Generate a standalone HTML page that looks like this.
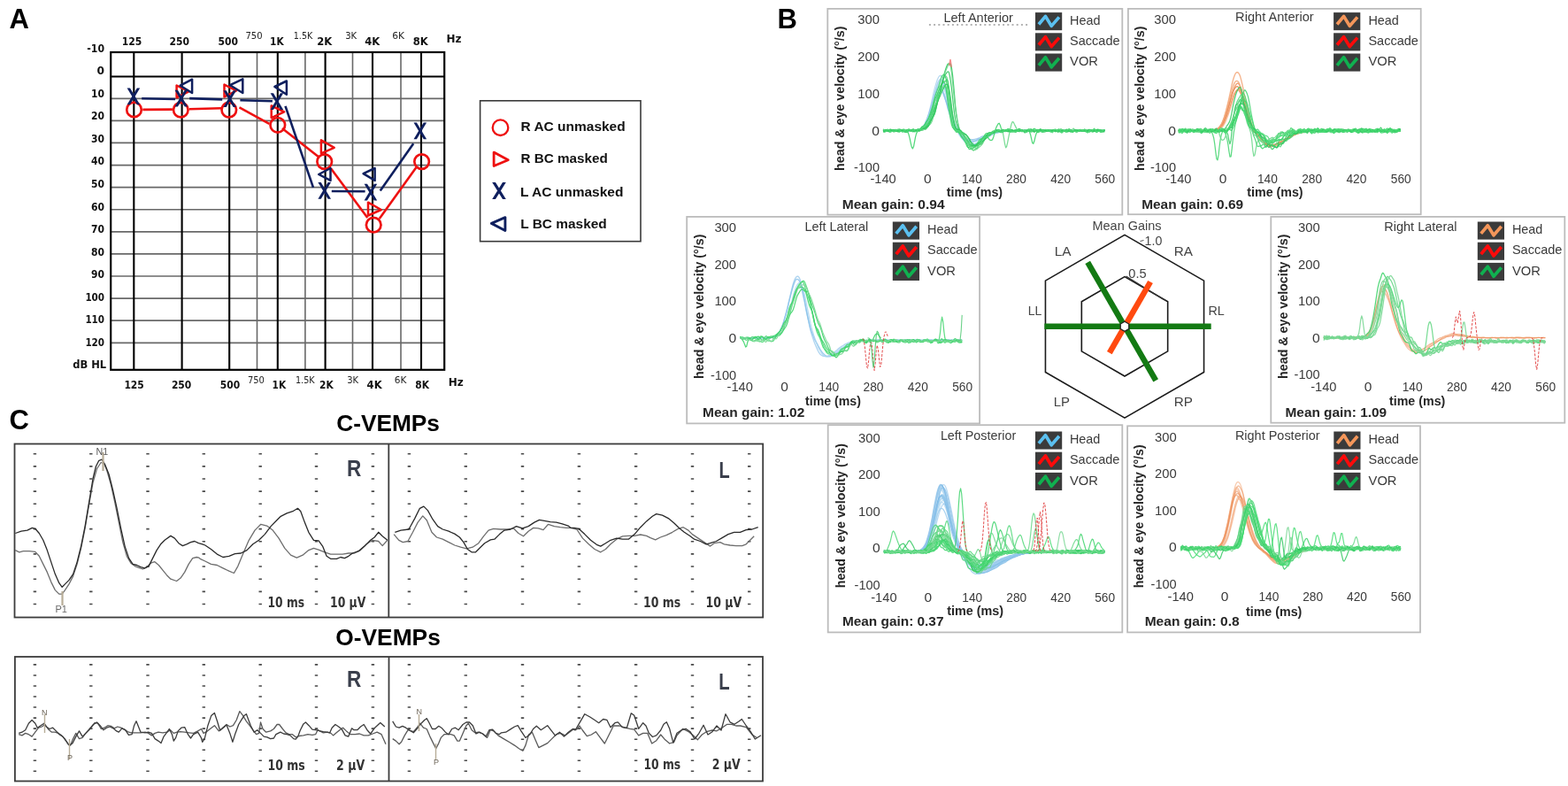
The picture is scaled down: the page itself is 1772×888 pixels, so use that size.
<!DOCTYPE html>
<html><head><meta charset="utf-8"><title>Figure</title>
<style>html,body{margin:0;padding:0;background:#fff;overflow:hidden}svg{display:block}</style>
</head><body>
<svg width="1772" height="888" viewBox="0 0 1772 888" font-family="'Liberation Sans', Arial, sans-serif">
<rect width="1772" height="888" fill="#fff"/>
<text x="10.6" y="31.8" font-size="31" font-weight="bold" fill="#000">A</text>
<line x1="125.2" y1="111.29" x2="502.2" y2="111.29" stroke="#686868" stroke-width="1.7"/>
<line x1="125.2" y1="136.38" x2="502.2" y2="136.38" stroke="#686868" stroke-width="1.7"/>
<line x1="125.2" y1="161.47" x2="502.2" y2="161.47" stroke="#686868" stroke-width="1.7"/>
<line x1="125.2" y1="186.56" x2="502.2" y2="186.56" stroke="#686868" stroke-width="1.7"/>
<line x1="125.2" y1="211.65" x2="502.2" y2="211.65" stroke="#686868" stroke-width="1.7"/>
<line x1="125.2" y1="236.74" x2="502.2" y2="236.74" stroke="#686868" stroke-width="1.7"/>
<line x1="125.2" y1="261.83" x2="502.2" y2="261.83" stroke="#686868" stroke-width="1.7"/>
<line x1="125.2" y1="286.92" x2="502.2" y2="286.92" stroke="#686868" stroke-width="1.7"/>
<line x1="125.2" y1="312.01" x2="502.2" y2="312.01" stroke="#686868" stroke-width="1.7"/>
<line x1="125.2" y1="337.1" x2="502.2" y2="337.1" stroke="#686868" stroke-width="1.7"/>
<line x1="125.2" y1="362.19" x2="502.2" y2="362.19" stroke="#686868" stroke-width="1.7"/>
<line x1="125.2" y1="387.28" x2="502.2" y2="387.28" stroke="#686868" stroke-width="1.7"/>
<line x1="290.5" y1="59" x2="290.5" y2="417.8" stroke="#686868" stroke-width="1.6"/>
<line x1="344.9" y1="59" x2="344.9" y2="417.8" stroke="#686868" stroke-width="1.6"/>
<line x1="398.5" y1="59" x2="398.5" y2="417.8" stroke="#686868" stroke-width="1.6"/>
<line x1="453" y1="59" x2="453" y2="417.8" stroke="#686868" stroke-width="1.6"/>
<line x1="151.3" y1="59" x2="151.3" y2="417.8" stroke="#000" stroke-width="2.1"/>
<line x1="205.6" y1="59" x2="205.6" y2="417.8" stroke="#000" stroke-width="2.1"/>
<line x1="259.2" y1="59" x2="259.2" y2="417.8" stroke="#000" stroke-width="2.1"/>
<line x1="313.8" y1="59" x2="313.8" y2="417.8" stroke="#000" stroke-width="2.1"/>
<line x1="367.6" y1="59" x2="367.6" y2="417.8" stroke="#000" stroke-width="2.1"/>
<line x1="421" y1="59" x2="421" y2="417.8" stroke="#000" stroke-width="2.1"/>
<line x1="476" y1="59" x2="476" y2="417.8" stroke="#000" stroke-width="2.1"/>
<line x1="125.2" y1="86.5" x2="502.2" y2="86.5" stroke="#000" stroke-width="2.1"/>
<rect x="125.2" y="59" width="377" height="358.8" fill="none" stroke="#000" stroke-width="2.2"/>
<text x="118.1" y="58.9" font-size="11.8" font-weight="bold" text-anchor="end" fill="#111" font-family="'DejaVu Sans Condensed', 'Liberation Sans', sans-serif" textLength="19.8" lengthAdjust="spacingAndGlyphs">-10</text>
<text x="118.1" y="84.3" font-size="11.8" font-weight="bold" text-anchor="end" fill="#111" font-family="'DejaVu Sans Condensed', 'Liberation Sans', sans-serif" textLength="8.5" lengthAdjust="spacingAndGlyphs">0</text>
<text x="118.1" y="109.59" font-size="11.8" font-weight="bold" text-anchor="end" fill="#111" font-family="'DejaVu Sans Condensed', 'Liberation Sans', sans-serif" textLength="15" lengthAdjust="spacingAndGlyphs">10</text>
<text x="118.1" y="135.18" font-size="11.8" font-weight="bold" text-anchor="end" fill="#111" font-family="'DejaVu Sans Condensed', 'Liberation Sans', sans-serif" textLength="15" lengthAdjust="spacingAndGlyphs">20</text>
<text x="118.1" y="160.77" font-size="11.8" font-weight="bold" text-anchor="end" fill="#111" font-family="'DejaVu Sans Condensed', 'Liberation Sans', sans-serif" textLength="15" lengthAdjust="spacingAndGlyphs">30</text>
<text x="118.1" y="186.36" font-size="11.8" font-weight="bold" text-anchor="end" fill="#111" font-family="'DejaVu Sans Condensed', 'Liberation Sans', sans-serif" textLength="15" lengthAdjust="spacingAndGlyphs">40</text>
<text x="118.1" y="211.95" font-size="11.8" font-weight="bold" text-anchor="end" fill="#111" font-family="'DejaVu Sans Condensed', 'Liberation Sans', sans-serif" textLength="15" lengthAdjust="spacingAndGlyphs">50</text>
<text x="118.1" y="237.54" font-size="11.8" font-weight="bold" text-anchor="end" fill="#111" font-family="'DejaVu Sans Condensed', 'Liberation Sans', sans-serif" textLength="15" lengthAdjust="spacingAndGlyphs">60</text>
<text x="118.1" y="263.13" font-size="11.8" font-weight="bold" text-anchor="end" fill="#111" font-family="'DejaVu Sans Condensed', 'Liberation Sans', sans-serif" textLength="15" lengthAdjust="spacingAndGlyphs">70</text>
<text x="118.1" y="288.72" font-size="11.8" font-weight="bold" text-anchor="end" fill="#111" font-family="'DejaVu Sans Condensed', 'Liberation Sans', sans-serif" textLength="15" lengthAdjust="spacingAndGlyphs">80</text>
<text x="118.1" y="314.31" font-size="11.8" font-weight="bold" text-anchor="end" fill="#111" font-family="'DejaVu Sans Condensed', 'Liberation Sans', sans-serif" textLength="15" lengthAdjust="spacingAndGlyphs">90</text>
<text x="118.1" y="339.9" font-size="11.8" font-weight="bold" text-anchor="end" fill="#111" font-family="'DejaVu Sans Condensed', 'Liberation Sans', sans-serif" textLength="21.7" lengthAdjust="spacingAndGlyphs">100</text>
<text x="118.1" y="365.49" font-size="11.8" font-weight="bold" text-anchor="end" fill="#111" font-family="'DejaVu Sans Condensed', 'Liberation Sans', sans-serif" textLength="21.7" lengthAdjust="spacingAndGlyphs">110</text>
<text x="118.1" y="391.08" font-size="11.8" font-weight="bold" text-anchor="end" fill="#111" font-family="'DejaVu Sans Condensed', 'Liberation Sans', sans-serif" textLength="21.7" lengthAdjust="spacingAndGlyphs">120</text>
<text x="120.1" y="416.1" font-size="11.8" font-weight="bold" text-anchor="end" fill="#111" font-family="'DejaVu Sans Condensed', 'Liberation Sans', sans-serif" textLength="37.9" lengthAdjust="spacingAndGlyphs">dB HL</text>
<text x="149.1" y="50.9" font-size="11.8" font-weight="bold" text-anchor="middle" fill="#111" font-family="'DejaVu Sans Condensed', 'Liberation Sans', sans-serif" textLength="22.6" lengthAdjust="spacingAndGlyphs">125</text>
<text x="202.8" y="50.9" font-size="11.8" font-weight="bold" text-anchor="middle" fill="#111" font-family="'DejaVu Sans Condensed', 'Liberation Sans', sans-serif" textLength="22.5" lengthAdjust="spacingAndGlyphs">250</text>
<text x="257.7" y="50.9" font-size="11.8" font-weight="bold" text-anchor="middle" fill="#111" font-family="'DejaVu Sans Condensed', 'Liberation Sans', sans-serif" textLength="22.5" lengthAdjust="spacingAndGlyphs">500</text>
<text x="312.9" y="50.9" font-size="11.8" font-weight="bold" text-anchor="middle" fill="#111" font-family="'DejaVu Sans Condensed', 'Liberation Sans', sans-serif" textLength="15.6" lengthAdjust="spacingAndGlyphs">1K</text>
<text x="366.8" y="50.9" font-size="11.8" font-weight="bold" text-anchor="middle" fill="#111" font-family="'DejaVu Sans Condensed', 'Liberation Sans', sans-serif" textLength="17" lengthAdjust="spacingAndGlyphs">2K</text>
<text x="420.7" y="50.9" font-size="11.8" font-weight="bold" text-anchor="middle" fill="#111" font-family="'DejaVu Sans Condensed', 'Liberation Sans', sans-serif" textLength="17" lengthAdjust="spacingAndGlyphs">4K</text>
<text x="475.2" y="50.9" font-size="11.8" font-weight="bold" text-anchor="middle" fill="#111" font-family="'DejaVu Sans Condensed', 'Liberation Sans', sans-serif" textLength="17" lengthAdjust="spacingAndGlyphs">8K</text>
<text x="287" y="43.6" font-size="10.8" text-anchor="middle" fill="#222" font-family="'DejaVu Sans Condensed', 'Liberation Sans', sans-serif" textLength="19.1" lengthAdjust="spacingAndGlyphs">750</text>
<text x="342.5" y="43.6" font-size="10.8" text-anchor="middle" fill="#222" font-family="'DejaVu Sans Condensed', 'Liberation Sans', sans-serif" textLength="21.5" lengthAdjust="spacingAndGlyphs">1.5K</text>
<text x="396.7" y="43.6" font-size="10.8" text-anchor="middle" fill="#222" font-family="'DejaVu Sans Condensed', 'Liberation Sans', sans-serif" textLength="13" lengthAdjust="spacingAndGlyphs">3K</text>
<text x="450.2" y="43.6" font-size="10.8" text-anchor="middle" fill="#222" font-family="'DejaVu Sans Condensed', 'Liberation Sans', sans-serif" textLength="13.8" lengthAdjust="spacingAndGlyphs">6K</text>
<text x="504.4" y="47.7" font-size="11.8" font-weight="bold" text-anchor="start" fill="#111" font-family="'DejaVu Sans Condensed', 'Liberation Sans', sans-serif" textLength="17" lengthAdjust="spacingAndGlyphs">Hz</text>
<text x="151.6" y="439.3" font-size="11.8" font-weight="bold" text-anchor="middle" fill="#111" font-family="'DejaVu Sans Condensed', 'Liberation Sans', sans-serif" textLength="22.4" lengthAdjust="spacingAndGlyphs">125</text>
<text x="205.1" y="439.3" font-size="11.8" font-weight="bold" text-anchor="middle" fill="#111" font-family="'DejaVu Sans Condensed', 'Liberation Sans', sans-serif" textLength="22.4" lengthAdjust="spacingAndGlyphs">250</text>
<text x="260" y="439.3" font-size="11.8" font-weight="bold" text-anchor="middle" fill="#111" font-family="'DejaVu Sans Condensed', 'Liberation Sans', sans-serif" textLength="22.4" lengthAdjust="spacingAndGlyphs">500</text>
<text x="315.4" y="439.3" font-size="11.8" font-weight="bold" text-anchor="middle" fill="#111" font-family="'DejaVu Sans Condensed', 'Liberation Sans', sans-serif" textLength="15.6" lengthAdjust="spacingAndGlyphs">1K</text>
<text x="368.9" y="439.3" font-size="11.8" font-weight="bold" text-anchor="middle" fill="#111" font-family="'DejaVu Sans Condensed', 'Liberation Sans', sans-serif" textLength="15.6" lengthAdjust="spacingAndGlyphs">2K</text>
<text x="423.1" y="439.3" font-size="11.8" font-weight="bold" text-anchor="middle" fill="#111" font-family="'DejaVu Sans Condensed', 'Liberation Sans', sans-serif" textLength="17" lengthAdjust="spacingAndGlyphs">4K</text>
<text x="477.2" y="439.3" font-size="11.8" font-weight="bold" text-anchor="middle" fill="#111" font-family="'DejaVu Sans Condensed', 'Liberation Sans', sans-serif" textLength="15.7" lengthAdjust="spacingAndGlyphs">8K</text>
<text x="289.4" y="432.5" font-size="10.8" text-anchor="middle" fill="#222" font-family="'DejaVu Sans Condensed', 'Liberation Sans', sans-serif" textLength="19" lengthAdjust="spacingAndGlyphs">750</text>
<text x="344.8" y="432.5" font-size="10.8" text-anchor="middle" fill="#222" font-family="'DejaVu Sans Condensed', 'Liberation Sans', sans-serif" textLength="21.7" lengthAdjust="spacingAndGlyphs">1.5K</text>
<text x="398.7" y="432.5" font-size="10.8" text-anchor="middle" fill="#222" font-family="'DejaVu Sans Condensed', 'Liberation Sans', sans-serif" textLength="12.9" lengthAdjust="spacingAndGlyphs">3K</text>
<text x="452.5" y="432.5" font-size="10.8" text-anchor="middle" fill="#222" font-family="'DejaVu Sans Condensed', 'Liberation Sans', sans-serif" textLength="13.6" lengthAdjust="spacingAndGlyphs">6K</text>
<text x="506.7" y="435.9" font-size="11.8" font-weight="bold" text-anchor="start" fill="#111" font-family="'DejaVu Sans Condensed', 'Liberation Sans', sans-serif" textLength="17" lengthAdjust="spacingAndGlyphs">Hz</text>
<line x1="161.3" y1="123.9" x2="194.9" y2="123.6" stroke="#ee1111" stroke-width="2.6" stroke-linecap="butt"/>
<line x1="213.8" y1="123.2" x2="250.3" y2="122.3" stroke="#ee1111" stroke-width="2.6" stroke-linecap="butt"/>
<line x1="270.5" y1="121.4" x2="304.3" y2="139.9" stroke="#ee1111" stroke-width="2.6" stroke-linecap="butt"/>
<line x1="318.9" y1="145.1" x2="360.4" y2="177.6" stroke="#ee1111" stroke-width="2.6" stroke-linecap="butt"/>
<line x1="373.9" y1="190.2" x2="415.3" y2="246" stroke="#ee1111" stroke-width="2.6" stroke-linecap="butt"/>
<line x1="428.8" y1="246.9" x2="470.3" y2="189.3" stroke="#ee1111" stroke-width="2.6" stroke-linecap="butt"/>
<circle cx="151.5" cy="123.9" r="8.3" fill="none" stroke="#ee1111" stroke-width="2.7"/>
<circle cx="204.3" cy="124.1" r="8.3" fill="none" stroke="#ee1111" stroke-width="2.7"/>
<circle cx="258.8" cy="124.1" r="8.3" fill="none" stroke="#ee1111" stroke-width="2.7"/>
<circle cx="313.8" cy="141.3" r="8.3" fill="none" stroke="#ee1111" stroke-width="2.7"/>
<circle cx="366.7" cy="182.6" r="8.3" fill="none" stroke="#ee1111" stroke-width="2.7"/>
<circle cx="422.2" cy="254.1" r="8.3" fill="none" stroke="#ee1111" stroke-width="2.7"/>
<circle cx="476.6" cy="182.6" r="8.3" fill="none" stroke="#ee1111" stroke-width="2.7"/>
<polygon points="199.6,96.5 199.6,110.3 213.3,103.4" fill="none" stroke="#ee1111" stroke-width="2.5" stroke-linejoin="round"/>
<polygon points="253.5,95.6 253.5,109.5 267.1,102.5" fill="none" stroke="#ee1111" stroke-width="2.5" stroke-linejoin="round"/>
<polygon points="306.7,119.5 306.7,133.1 321.2,126.3" fill="none" stroke="#ee1111" stroke-width="2.5" stroke-linejoin="round"/>
<polygon points="362.9,158.4 362.9,173.3 377.7,166.8" fill="none" stroke="#ee1111" stroke-width="2.5" stroke-linejoin="round"/>
<polygon points="416,228.7 416,243.5 430.8,237" fill="none" stroke="#ee1111" stroke-width="2.5" stroke-linejoin="round"/>
<line x1="160.2" y1="111.2" x2="198" y2="112" stroke="#0f1f5e" stroke-width="2.6"/>
<line x1="214.2" y1="111.1" x2="251.2" y2="112.4" stroke="#0f1f5e" stroke-width="2.6"/>
<line x1="271.4" y1="113.3" x2="307.9" y2="114.2" stroke="#0f1f5e" stroke-width="2.6"/>
<line x1="322.5" y1="119.9" x2="354" y2="211.8" stroke="#0f1f5e" stroke-width="2.6"/>
<line x1="374.8" y1="216" x2="412.6" y2="216.3" stroke="#0f1f5e" stroke-width="2.6"/>
<line x1="429.7" y1="215.4" x2="467.2" y2="162.3" stroke="#0f1f5e" stroke-width="2.6"/>
<path d="M143.6 99.5H146.98L158.2 118.3H154.82Z M154.82 99.5H158.2L146.98 118.3H143.6Z" fill="#0f1f5e"/>
<path d="M197.5 101.7H200.88L212.1 120.5H208.72Z M208.72 101.7H212.1L200.88 120.5H197.5Z" fill="#0f1f5e"/>
<path d="M252.4 102.2H255.78L267 121H263.62Z M263.62 102.2H267L255.78 121H252.4Z" fill="#0f1f5e"/>
<path d="M305.6 105.3H308.98L320.2 124.1H316.82Z M316.82 105.3H320.2L308.98 124.1H305.6Z" fill="#0f1f5e"/>
<path d="M359.4 206H362.78L374 224.8H370.62Z M370.62 206H374L362.78 224.8H359.4Z" fill="#0f1f5e"/>
<path d="M411.6 207.8H414.98L426.2 226.6H422.82Z M422.82 207.8H426.2L414.98 226.6H411.6Z" fill="#0f1f5e"/>
<path d="M467.5 138.4H470.88L482.1 157.2H478.72Z M478.72 138.4H482.1L470.88 157.2H467.5Z" fill="#0f1f5e"/>
<polygon points="217.1,89.7 217.1,105 203.7,96.7" fill="none" stroke="#0f1f5e" stroke-width="2.5" stroke-linejoin="round"/>
<polygon points="274.3,89.3 274.3,105 260,96.2" fill="none" stroke="#0f1f5e" stroke-width="2.5" stroke-linejoin="round"/>
<polygon points="323.9,91.5 323.9,106.8 310.4,98" fill="none" stroke="#0f1f5e" stroke-width="2.5" stroke-linejoin="round"/>
<polygon points="373.5,190 373.5,203.9 360.2,197" fill="none" stroke="#0f1f5e" stroke-width="2.5" stroke-linejoin="round"/>
<polygon points="423.6,190 423.6,203.9 410.6,196.1" fill="none" stroke="#0f1f5e" stroke-width="2.5" stroke-linejoin="round"/>
<rect x="542.6" y="113.8" width="181.4" height="158.9" fill="none" stroke="#3a3a3a" stroke-width="1.6"/>
<circle cx="565.5" cy="144.2" r="8.8" fill="none" stroke="#ee1111" stroke-width="2.3"/>
<text x="588.5" y="148" font-size="15.3" font-weight="bold" fill="#111" textLength="118.2" lengthAdjust="spacingAndGlyphs">R AC unmasked</text>
<polygon points="558.1,172.1 558.1,187.5 574.3,180.7" fill="none" stroke="#ee1111" stroke-width="2.8" stroke-linejoin="round"/>
<text x="588.5" y="184.1" font-size="15.3" font-weight="bold" fill="#111" textLength="98.2" lengthAdjust="spacingAndGlyphs">R BC masked</text>
<path d="M556.2 205.9H559.97L571.8 224.9H568.03Z M568.03 205.9H571.8L559.97 224.9H556.2Z" fill="#0f1f5e"/>
<text x="588.1" y="221.6" font-size="15.3" font-weight="bold" fill="#111" textLength="116.3" lengthAdjust="spacingAndGlyphs">L AC unmasked</text>
<polygon points="570.9,245.7 570.9,260.5 555.4,252.4" fill="none" stroke="#0f1f5e" stroke-width="2.9" stroke-linejoin="round"/>
<text x="588.3" y="258.1" font-size="15.3" font-weight="bold" fill="#111" textLength="97.4" lengthAdjust="spacingAndGlyphs">L BC masked</text>
<text x="10.4" y="484.9" font-size="31" font-weight="bold" fill="#000">C</text>
<text x="380.2" y="487.3" font-size="26" font-weight="bold" fill="#000" textLength="116.8" lengthAdjust="spacingAndGlyphs">C-VEMPs</text>
<text x="379.3" y="729.3" font-size="26" font-weight="bold" fill="#000" textLength="118.5" lengthAdjust="spacingAndGlyphs">O-VEMPs</text>
<path d="M37.7 512.7h3.4 M37.7 526.85h3.4 M37.7 541h3.4 M37.7 555.15h3.4 M37.7 569.3h3.4 M37.7 583.45h3.4 M37.7 597.6h3.4 M37.7 611.75h3.4 M37.7 625.9h3.4 M37.7 640.05h3.4 M37.7 654.2h3.4 M37.7 668.35h3.4 M37.7 682.5h3.4 M101.1 512.7h3.4 M101.1 526.85h3.4 M101.1 541h3.4 M101.1 555.15h3.4 M101.1 569.3h3.4 M101.1 583.45h3.4 M101.1 597.6h3.4 M101.1 611.75h3.4 M101.1 625.9h3.4 M101.1 640.05h3.4 M101.1 654.2h3.4 M101.1 668.35h3.4 M101.1 682.5h3.4 M165.3 512.7h3.4 M165.3 526.85h3.4 M165.3 541h3.4 M165.3 555.15h3.4 M165.3 569.3h3.4 M165.3 583.45h3.4 M165.3 597.6h3.4 M165.3 611.75h3.4 M165.3 625.9h3.4 M165.3 640.05h3.4 M165.3 654.2h3.4 M165.3 668.35h3.4 M165.3 682.5h3.4 M228.6 512.7h3.4 M228.6 526.85h3.4 M228.6 541h3.4 M228.6 555.15h3.4 M228.6 569.3h3.4 M228.6 583.45h3.4 M228.6 597.6h3.4 M228.6 611.75h3.4 M228.6 625.9h3.4 M228.6 640.05h3.4 M228.6 654.2h3.4 M228.6 668.35h3.4 M228.6 682.5h3.4 M292.5 512.7h3.4 M292.5 526.85h3.4 M292.5 541h3.4 M292.5 555.15h3.4 M292.5 569.3h3.4 M292.5 583.45h3.4 M292.5 597.6h3.4 M292.5 611.75h3.4 M292.5 625.9h3.4 M292.5 640.05h3.4 M292.5 654.2h3.4 M292.5 668.35h3.4 M292.5 682.5h3.4 M355.8 512.7h3.4 M355.8 526.85h3.4 M355.8 541h3.4 M355.8 555.15h3.4 M355.8 569.3h3.4 M355.8 583.45h3.4 M355.8 597.6h3.4 M355.8 611.75h3.4 M355.8 625.9h3.4 M355.8 640.05h3.4 M355.8 654.2h3.4 M355.8 668.35h3.4 M355.8 682.5h3.4 M419.7 512.7h3.4 M419.7 526.85h3.4 M419.7 541h3.4 M419.7 555.15h3.4 M419.7 569.3h3.4 M419.7 583.45h3.4 M419.7 597.6h3.4 M419.7 611.75h3.4 M419.7 625.9h3.4 M419.7 640.05h3.4 M419.7 654.2h3.4 M419.7 668.35h3.4 M419.7 682.5h3.4 M460.7 512.7h3.4 M460.7 526.85h3.4 M460.7 541h3.4 M460.7 555.15h3.4 M460.7 569.3h3.4 M460.7 583.45h3.4 M460.7 597.6h3.4 M460.7 611.75h3.4 M460.7 625.9h3.4 M460.7 640.05h3.4 M460.7 654.2h3.4 M460.7 668.35h3.4 M460.7 682.5h3.4 M524.6 512.7h3.4 M524.6 526.85h3.4 M524.6 541h3.4 M524.6 555.15h3.4 M524.6 569.3h3.4 M524.6 583.45h3.4 M524.6 597.6h3.4 M524.6 611.75h3.4 M524.6 625.9h3.4 M524.6 640.05h3.4 M524.6 654.2h3.4 M524.6 668.35h3.4 M524.6 682.5h3.4 M588.8 512.7h3.4 M588.8 526.85h3.4 M588.8 541h3.4 M588.8 555.15h3.4 M588.8 569.3h3.4 M588.8 583.45h3.4 M588.8 597.6h3.4 M588.8 611.75h3.4 M588.8 625.9h3.4 M588.8 640.05h3.4 M588.8 654.2h3.4 M588.8 668.35h3.4 M588.8 682.5h3.4 M652.7 512.7h3.4 M652.7 526.85h3.4 M652.7 541h3.4 M652.7 555.15h3.4 M652.7 569.3h3.4 M652.7 583.45h3.4 M652.7 597.6h3.4 M652.7 611.75h3.4 M652.7 625.9h3.4 M652.7 640.05h3.4 M652.7 654.2h3.4 M652.7 668.35h3.4 M652.7 682.5h3.4 M716.9 512.7h3.4 M716.9 526.85h3.4 M716.9 541h3.4 M716.9 555.15h3.4 M716.9 569.3h3.4 M716.9 583.45h3.4 M716.9 597.6h3.4 M716.9 611.75h3.4 M716.9 625.9h3.4 M716.9 640.05h3.4 M716.9 654.2h3.4 M716.9 668.35h3.4 M716.9 682.5h3.4 M780.8 512.7h3.4 M780.8 526.85h3.4 M780.8 541h3.4 M780.8 555.15h3.4 M780.8 569.3h3.4 M780.8 583.45h3.4 M780.8 597.6h3.4 M780.8 611.75h3.4 M780.8 625.9h3.4 M780.8 640.05h3.4 M780.8 654.2h3.4 M780.8 668.35h3.4 M780.8 682.5h3.4 M845 512.7h3.4 M845 526.85h3.4 M845 541h3.4 M845 555.15h3.4 M845 569.3h3.4 M845 583.45h3.4 M845 597.6h3.4 M845 611.75h3.4 M845 625.9h3.4 M845 640.05h3.4 M845 654.2h3.4 M845 668.35h3.4 M845 682.5h3.4" stroke="#4a4a4a" stroke-width="1.6" fill="none"/>
<path d="M37.7 750.9h3.4 M37.7 762.94h3.4 M37.7 774.98h3.4 M37.7 787.02h3.4 M37.7 799.06h3.4 M37.7 811.1h3.4 M37.7 823.14h3.4 M37.7 835.18h3.4 M37.7 847.22h3.4 M37.7 859.26h3.4 M37.7 871.3h3.4 M101.1 750.9h3.4 M101.1 762.94h3.4 M101.1 774.98h3.4 M101.1 787.02h3.4 M101.1 799.06h3.4 M101.1 811.1h3.4 M101.1 823.14h3.4 M101.1 835.18h3.4 M101.1 847.22h3.4 M101.1 859.26h3.4 M101.1 871.3h3.4 M165.3 750.9h3.4 M165.3 762.94h3.4 M165.3 774.98h3.4 M165.3 787.02h3.4 M165.3 799.06h3.4 M165.3 811.1h3.4 M165.3 823.14h3.4 M165.3 835.18h3.4 M165.3 847.22h3.4 M165.3 859.26h3.4 M165.3 871.3h3.4 M228.6 750.9h3.4 M228.6 762.94h3.4 M228.6 774.98h3.4 M228.6 787.02h3.4 M228.6 799.06h3.4 M228.6 811.1h3.4 M228.6 823.14h3.4 M228.6 835.18h3.4 M228.6 847.22h3.4 M228.6 859.26h3.4 M228.6 871.3h3.4 M292.5 750.9h3.4 M292.5 762.94h3.4 M292.5 774.98h3.4 M292.5 787.02h3.4 M292.5 799.06h3.4 M292.5 811.1h3.4 M292.5 823.14h3.4 M292.5 835.18h3.4 M292.5 847.22h3.4 M292.5 859.26h3.4 M292.5 871.3h3.4 M355.8 750.9h3.4 M355.8 762.94h3.4 M355.8 774.98h3.4 M355.8 787.02h3.4 M355.8 799.06h3.4 M355.8 811.1h3.4 M355.8 823.14h3.4 M355.8 835.18h3.4 M355.8 847.22h3.4 M355.8 859.26h3.4 M355.8 871.3h3.4 M419.7 750.9h3.4 M419.7 762.94h3.4 M419.7 774.98h3.4 M419.7 787.02h3.4 M419.7 799.06h3.4 M419.7 811.1h3.4 M419.7 823.14h3.4 M419.7 835.18h3.4 M419.7 847.22h3.4 M419.7 859.26h3.4 M419.7 871.3h3.4 M460.7 750.9h3.4 M460.7 762.94h3.4 M460.7 774.98h3.4 M460.7 787.02h3.4 M460.7 799.06h3.4 M460.7 811.1h3.4 M460.7 823.14h3.4 M460.7 835.18h3.4 M460.7 847.22h3.4 M460.7 859.26h3.4 M460.7 871.3h3.4 M524.6 750.9h3.4 M524.6 762.94h3.4 M524.6 774.98h3.4 M524.6 787.02h3.4 M524.6 799.06h3.4 M524.6 811.1h3.4 M524.6 823.14h3.4 M524.6 835.18h3.4 M524.6 847.22h3.4 M524.6 859.26h3.4 M524.6 871.3h3.4 M588.8 750.9h3.4 M588.8 762.94h3.4 M588.8 774.98h3.4 M588.8 787.02h3.4 M588.8 799.06h3.4 M588.8 811.1h3.4 M588.8 823.14h3.4 M588.8 835.18h3.4 M588.8 847.22h3.4 M588.8 859.26h3.4 M588.8 871.3h3.4 M652.7 750.9h3.4 M652.7 762.94h3.4 M652.7 774.98h3.4 M652.7 787.02h3.4 M652.7 799.06h3.4 M652.7 811.1h3.4 M652.7 823.14h3.4 M652.7 835.18h3.4 M652.7 847.22h3.4 M652.7 859.26h3.4 M652.7 871.3h3.4 M716.9 750.9h3.4 M716.9 762.94h3.4 M716.9 774.98h3.4 M716.9 787.02h3.4 M716.9 799.06h3.4 M716.9 811.1h3.4 M716.9 823.14h3.4 M716.9 835.18h3.4 M716.9 847.22h3.4 M716.9 859.26h3.4 M716.9 871.3h3.4 M780.8 750.9h3.4 M780.8 762.94h3.4 M780.8 774.98h3.4 M780.8 787.02h3.4 M780.8 799.06h3.4 M780.8 811.1h3.4 M780.8 823.14h3.4 M780.8 835.18h3.4 M780.8 847.22h3.4 M780.8 859.26h3.4 M780.8 871.3h3.4 M845 750.9h3.4 M845 762.94h3.4 M845 774.98h3.4 M845 787.02h3.4 M845 799.06h3.4 M845 811.1h3.4 M845 823.14h3.4 M845 835.18h3.4 M845 847.22h3.4 M845 859.26h3.4 M845 871.3h3.4" stroke="#4a4a4a" stroke-width="1.6" fill="none"/>
<text x="392.1" y="538.3" font-size="26" font-weight="bold" fill="#3a3f4c" textLength="16.3" lengthAdjust="spacingAndGlyphs">R</text>
<text x="812.5" y="540.3" font-size="26" font-weight="bold" fill="#3a3f4c" textLength="12.2" lengthAdjust="spacingAndGlyphs">L</text>
<text x="392.1" y="775.8" font-size="26" font-weight="bold" fill="#3a3f4c" textLength="16.3" lengthAdjust="spacingAndGlyphs">R</text>
<text x="812.3" y="778.7" font-size="26" font-weight="bold" fill="#3a3f4c" textLength="12.4" lengthAdjust="spacingAndGlyphs">L</text>
<text x="302.6" y="686.4" font-size="15.6" font-weight="bold" fill="#333" textLength="41.4" lengthAdjust="spacingAndGlyphs" font-family="'DejaVu Sans Condensed', 'Liberation Sans', sans-serif">10 ms</text>
<text x="373" y="686.4" font-size="15.6" font-weight="bold" fill="#333" textLength="40.3" lengthAdjust="spacingAndGlyphs" font-family="'DejaVu Sans Condensed', 'Liberation Sans', sans-serif">10 µV</text>
<text x="727" y="686.4" font-size="15.6" font-weight="bold" fill="#333" textLength="42.2" lengthAdjust="spacingAndGlyphs" font-family="'DejaVu Sans Condensed', 'Liberation Sans', sans-serif">10 ms</text>
<text x="797.4" y="686.4" font-size="15.6" font-weight="bold" fill="#333" textLength="40.8" lengthAdjust="spacingAndGlyphs" font-family="'DejaVu Sans Condensed', 'Liberation Sans', sans-serif">10 µV</text>
<text x="302.5" y="870.1" font-size="15.6" font-weight="bold" fill="#333" textLength="42.2" lengthAdjust="spacingAndGlyphs" font-family="'DejaVu Sans Condensed', 'Liberation Sans', sans-serif">10 ms</text>
<text x="380" y="870.1" font-size="15.6" font-weight="bold" fill="#333" textLength="32.2" lengthAdjust="spacingAndGlyphs" font-family="'DejaVu Sans Condensed', 'Liberation Sans', sans-serif">2 µV</text>
<text x="727.5" y="868.9" font-size="15.6" font-weight="bold" fill="#333" textLength="41.7" lengthAdjust="spacingAndGlyphs" font-family="'DejaVu Sans Condensed', 'Liberation Sans', sans-serif">10 ms</text>
<text x="804.7" y="868.9" font-size="15.6" font-weight="bold" fill="#333" textLength="32" lengthAdjust="spacingAndGlyphs" font-family="'DejaVu Sans Condensed', 'Liberation Sans', sans-serif">2 µV</text>
<path d="M17.3 621.6l4.5 2.2 4.5-1.1 6.7 0 6.8 .7 4.5 4.9 4.5 9.1 4.5 9 4.5 11.2 4.5 9 4.5 4.5 3.4 0 3.3-4.5 4.5-6.7 4.6-9 4.5-13.5 4.5-18.1 4.5-22.5 4.5-27 4.5-24.8 4.5-15.7 4.5-6.8 3.4 1.1 3.3 7.9 4.5 15.8 4.5 20.3 4.5 22.5 4.5 22.5 4.5 15.7 4.6 7.9 4.5 3.4 4.5 1.8 4.5 1.6 4.5-2.3 4.5-4.5 4.5-1.5 4.5 3.8 4.5 5.6 4.5 5.6 4.5 4.5 6.7 2.3 4.5-3.4 4.6-6.7 4.5-9 4.5-6.8 4.5-1.1 2.8 .7 1.7 1.5 5.1 2.3 6.7 3.4 6.8 1.1 6.7 3.4 6.8 3.3 5.6 2.3 4.5-7.9 5.6-13.5 6.8-15.8 6.7-11.2 6.8-6.8 6.8 1.8 6.7 5 6.8 9 6.7 11.2 6.8 7.9 6.7 3 6.8-3 6.7-5.6 5.7-2.3 5.6 1.8 6.8 2.7 6.7 2.3 6.8 0 6.7 0 6.8-1.1 6.7 0 6.8-3.4 6.7-6.8 6.8-4.5 6.8 1.2 4.5 5.1 5.6-6.3" fill="none" stroke="#6e6e6e" stroke-width="1.3" stroke-linejoin="round"/>
<path d="M17.3 602.5l6.7-2.3 6.8-1.1 5.6-2.7 3.4 .9 4.5 5.2 4.5 7.8 4.5 11.3 4.5 13.5 4.5 13.5 4.5 10.1 3.4 4.6 3.3-3.4 4.5-4.5 4.6-6.8 4.5-13.5 4.5-18 4.5-22.5 4.5-27 4.5-27.1 3.3-13.5 3.4-6.7 3.4-1.2 3.4 5.7 4.5 11.2 4.5 18 4.5 20.3 4.5 22.5 4.5 20.3 4.5 13.5 4.5 6.8 4.5 1.1 4.5 2.2 4.5 1.2 4.5-2.3 4.5-9 4.5-9 4.5-6.8 4.5-4.5 6.8-4.9 4.5 2.7 4.5 5.6 4.5 2.9 4.5-1.8 4.5-2.2 4.5-1.1 4.5 2.2 4.5 1.1 2.9 1.2 6.7 4.5 6.8 5.6 6.7 3.4 6.8-1.2 6.7-2.7 6.8-.6 6.7-3.4 6.8-6.8 6.8-4.5 6.7-6.7 6.8-9 6.7-6.8 4.5-4.5 6.8-3.4 6.7-2.2 5.7-3.4 3.3 3.4 4.5 12.4 4.5 11.2 5.7 9 5.6 .5 4.5 6.3 4.5 11.2 4.5 3 6.8 0 4.5-1.8 4.5 1.1 4.5-2.3 4.5-3.3 6.7-2.3 6.8-5.6 6.8-6.8 4.5-3.3 4.5-5.7 4.5 4.5 5.6 4.5" fill="none" stroke="#2a2a2a" stroke-width="1.3" stroke-linejoin="round"/>
<path d="M445.1 603.6l5.7 6.7 4.5 2.3 5.6-1.1 5.6-10.2 5.7-11.2 5.6-7.2 4.5 4.9 5.6 13.5 5.6 5.7 6.8 2.2 6.8 3.4 6.7 3.4 6.8 2.2 6.7 1.6 6.8-1.6 6.7-4.5 5.7-7.9 5.6-6.7 5.6-1.8 7.9 .7 9 0 5.6-1.2 5.7 5.7 5.6 3.3 5.6-5.6 5.7-3.8 5.6 .4 5.6 1.8 5.6-6.3 6.8 2.3 6.8 1.1 6.7 .7 5.1 0 1.7 .4 5.1 1.2 6.7 10.1 6.8 6.7 6.7 5.7 6.8 3.3 5.6-3.3 5.6-5.7 6.8-5.6 6.7-3.4 6.8-.4 6.8 0 6.7-1.4 6.8 1.4 4.5 2.2 5.6 2.3 5.6-2.9 6.8-2.3 6.7-3.4 6.8-4 5.6-1.6 5.7 3.4 4.5 4.5 6.7 4.5 6.8 4.5 6.7 4.5 4.5-3.4 6.8-1.1 4.5 2.2 6.7 1.2 6.8 .6 6.8 0 4.5-1.8 4.5-4.5 4.5-4.5" fill="none" stroke="#6e6e6e" stroke-width="1.3" stroke-linejoin="round"/>
<path d="M446.3 601.3l6.7-2.2 9-1.1 6.8-12.4 5.6-11.3 4.5-2.2 4.5 4.5 5.6 10.1 5.7 7.9 5.6 3.4 6.8 2.2 6.7 2.9 5.6 3.9 4.5 5.6 4.5 7.9 4.6 3.3 4.5 0 4.5-4.5 5.6-5.6 6.7-3.8 4.5-.7 5.7-5.6 5.6-4.5 6.8-1.1 6.7-3.4 6.8 2.2 6.7-2.2 6.8-4.5 5.6-2.7 5.6 .9 6.8 1.3 6.8 .5 6.7 1.8 6.8 2.2 2.8 2.3 3.9 0 5.1 .9 6.8 6.3 6.7 6.7 6.8 5 4.5 1.8 5.6-3.4 5.6-3.4 6.8-2.2 6.7 1.1 6.8 0 6.8-5.6 6.7-7.9 6.8-6.8 6.7-5.6 4.5-2.7 6.8 1.6 6.7 3.4 6.8 5.6 5.6 5.6 5.6 4.5 6.8 4.5 4.5 3.4 6.8 2.3 6.7 3.3 4.5-1.1 6.8-2.2 6.7-3.9 6.8-4 6.7-2.3 6.8 0 6.8-2.7 6.7-.6 6.8-2.3" fill="none" stroke="#2a2a2a" stroke-width="1.3" stroke-linejoin="round"/>
<path d="M21.2 829.7l3.7 1.2 3.8-2.5 3.7 1.3 3.7 2.4 3.7-4.9 3.8-5 3.7-1.2 3.7-2.5 3.7 5.6 3.8 3.1 3.7 0 3.7 1.2 3.7 2.5 3.7 3.7 3.8 6.2 2.5 1.3 2.4-6.2 3.8-7.5 3.7 6.2 3.7-1.2 3.7-5 5-4.9 5-6.9 3.7 .6 3.7 6.3 3.7-1.3 3.8-2.5 3.7 .6 3.7 2.5 3.7-1.8 3.8 1.2 3.7 1.9 5 3.1 3.7 .6 4.9 0 5 0 5-.6 3.7 1.2 3.7 2.5 3.7-2.5 3.8-1.2 4.9 .6 5-.6 3.7-2.5 3.8 3.7 3.7-1.2 3.7-.6 5 .6 4.9 .6 5 .6 5-2.5 3.9-2.4 2.5 4.9 3.7-1.8 3.7-3.1 5-3.8 4.9 6.2 3.8-3.1 4.9-4.3 3.8 2.5 3.7-1.3 3.7-6.2 3.7-9.9 3.8 5 3.7 6.2 3.7 4.9 3.7 5 3.8 5 3.1-1.3 1.8-12.4 2.5 7.5 3.7 3.7 5-1.3 3.7-2.4 3.7-5 2.5 0 3.8 5 3.7 4.3 3.7 1.9 3.7 0 3.7 3.1 3.8-1.3 4.9-.6 5-1.2 5 .6 3.7-.6 2.5-5 2.5 1.2 3.7 1.9 5-.6 3.7 1.2 2.5 2.5 3.7-3.1 3.7-3.1 3.7-2.5 3.8 3.7 4.9 3.8 5 0 5-.7 4.9 1.9 5 0 5-1.9 4.9-1.8 5 2.5 4.9 11.1" fill="none" stroke="#5a5a5a" stroke-width="1.3" stroke-linejoin="round"/>
<path d="M21.2 828.4l3.7-1.2 3.8-2.5 3.7-7.5 3.7-3.7 3.7 3.7 2.5 5 3.7-2.5 3.8-2.5 2.4 3.8 3.8 2.5 3.7-1.3 3.7 3.7 3.7 3.8 3.8 2.4 3.7 5 3.7 5 3.7-2.5 3.8-7.5 3.7-6.2 3.7 6.2 3.7-3.7 5-5.6 3.7-4.3 3.8-2.5 3.7 3.7 3.7 5 3.7-2.5 3.7-1.2 3.8 1.8 3.7 3.1 2.5 1.3 3.7-4.4 3.7 1.9 3.8 5.6 3.7-.6 2.5-10 2.4-4.9 2.5 6.2 2.5 6.2 5 .6 3.7-.6 3.7 1.2 3.7 6.2 3.8 2.5 3.1 2.5 3.1-7.5 3.7-4.9 2.5-3.7 3.1 6.2 1.9 7.4 2.4-3.7 2.5-7.5 3.7-3.7 3.8-.6 3.7 8.1 3.1 4.3 3.1-4.3 5-2.5 3.7 6.2 1.4 4.9 2.5-3.7 3.7-14.9 3.8-11.1 3.7-3.1 3.1 9.3 3.1 10.5 3.7-3.1 3.7-3.1 3.8 9.3 3.1 9.9 3.1-9.9 3.7-9.9 3.7-6.2 2.5-3.7 2.5-1.9 2.5 6.8 2.4 6.2 3.8 7.5 3.7-2.5 3.7 3.7 3.7 3.7 3.8 .7 3.7 1.8 3.7-.6 2.5-4.3 5-2.5 3.7 1.8 3.7 .7 3.7 1.2 3.8 3.7 2.4 .6 2.5-3.1 2.5-6.8 3.7-7.4 2.5-1.9 3.7 3.7 3.8 4.4 3.7 .6 5 1.2 3.7 .7 3.7 .6 3.7 .6 2.5-5.6 3.7-3.7 3.8 2.5 3.7 3.1 3.7 6.8 3.7 1.2 3.8-9.3 2.4 1.9 3.8 0 3.7-3.7 3.7-2.5 3.7 6.2 3.8 4.3 4.9-6.8 6.2-5.6 5 4.4" fill="none" stroke="#3c3c3c" stroke-width="1.3" stroke-linejoin="round"/>
<path d="M443.7 834.6l3.7 2.5 3.7 3.7 2.5-2.5 3.7-7.4 3.8-6.2 6.2 1.9 4.9-5.6 2.5-3.8 3.8 5 3.7 1.3 3.7 8.6 3.7 7.5 3.1 6.2 3.1-6.2 2.5-6.2 3.7-3.7 3.8 0 3.7 0 3.7 1.2 3.7 6.2 2.5 0 3.7-8.7 3.8-8.7 2.5-2.5 3.7 7.5 3.7 3.1 3.7-.6 5 1.8 5 4.4 3.7-8.7 3.7 1.2 5 5 6.2 3.7 6.2 3.7 6.2 3.8 5 3.7 4.3 2.5 3.1-6.2 3.7-12.4 3.8-2.5 3.7 8.7 3.7 8.7 5-2.5 4.9-2.5 5-5 5-4.9 4.9-1.3 5 2.5 5-3.7 4.9-3.7 3.2 .7 3.3-4.2 3.3 5 5 6.7 5-1.7 5-3.3 5 6.6 5 6.7 5-10 5-10 6.7 0 5 1.7 6.7 1.6 5 .9 5 6.6 5-2.5 5 0 5 11.7 5-3.3 5-6.7 5 5.8 5 4.2 5-1.7 3.3-7.5 6.7-7.5 6.6 3.4 5 4.1 5 5 5-5.8 5-3.3 6.7-1.7 5 .8 6.7-4.1 5-3.4 5 0 5 1.7 5 0 6.6 1.7 6.7 8.3 5 3.3" fill="none" stroke="#5a5a5a" stroke-width="1.3" stroke-linejoin="round"/>
<path d="M443.7 814.8l3.7 6.2 3.7 1.2 3.8-1.9 3.7 1.9 3.7 2.5 5 3.1 4.9-5.6 3.8-5 3.7-3.7 2.5-1.8 2.5 4.3 3.7 7.5 3.7 0 3.7-3.2 3.8 2.5 3.7 4.4 3.7 2.5 3.7-6.2 3.8-1.3 3.7 2.5 4.9-6.2 3.8-2.5 3.7 0 3.7 3.7 3.7 9.3 3.8-1.8 3.7 1.8 3.7 3.1 3.7-7.4 3.8-.6 3.7 4.3 3.7 1.3 2.5-1.9 5-.6 4.9-3.1 5-3.1 3.7-1.3 3.7 6.2 5 7.5 5-3.7 3.7-6.2 3.7-3.2 5 4.4 3.7-2.5 3.7-2.5 3.8 5 4.9 6.2 5-3.7 5 4.9 4.9-4.9 5-3.7 2.7 1.5 5-8.3 5.8-10 5.9 3.3 5 3.3 5 3.4 5-4.2 4.1 .8 4.2 8.4 5-5 3.3-.9 5 5.9 5 .8 5-16.7 3.4 2.5 5 15 5-6.6 3.3 3.3 3.3 8.3 4.2 4.2 4.2-1.7 5-5.8 3.3-6.7 3.3-2.5 3.4 7.5 4.1 15.9 4.2-10.9 5-3.3 5-1.7 5 3.4 5 8.3 5-6.7 5-9.1 5 10.8 5-3.3 5-6.7 5 5 5-18.3 5 9.1 5 2.5 5-3.3 3.3-2.5 5 7.5 5 6.7 5 8.3 6.7-4.2" fill="none" stroke="#3c3c3c" stroke-width="1.3" stroke-linejoin="round"/>
<line x1="116.5" y1="511" x2="116.5" y2="532" stroke="#b8ad98" stroke-width="2.2"/>
<line x1="70.5" y1="668" x2="70.5" y2="684" stroke="#b8ad98" stroke-width="2.2"/>
<text x="108.6" y="514.2" font-size="10.5" fill="#5a5a5a" textLength="13.7" lengthAdjust="spacingAndGlyphs">N1</text>
<text x="62.5" y="691.5" font-size="10.5" fill="#6a6a6a" textLength="13.5" lengthAdjust="spacingAndGlyphs">P1</text>
<line x1="50.5" y1="807" x2="50.5" y2="828" stroke="#b8ad98" stroke-width="1.4"/>
<line x1="78.5" y1="835" x2="78.5" y2="858" stroke="#b8ad98" stroke-width="1.4"/>
<text x="47" y="808" font-size="9" fill="#6d6558">N</text>
<text x="76" y="858.5" font-size="9" fill="#6d6558">P</text>
<line x1="473.5" y1="807" x2="473.5" y2="826" stroke="#b8ad98" stroke-width="1.4"/>
<line x1="492.5" y1="840" x2="492.5" y2="858" stroke="#b8ad98" stroke-width="1.4"/>
<text x="470.5" y="806.5" font-size="9" fill="#6d6558">N</text>
<text x="490" y="864" font-size="9" fill="#6d6558">P</text>
<rect x="16.5" y="501.5" width="845.7" height="196" fill="none" stroke="#3c3c3c" stroke-width="1.8"/>
<line x1="439.3" y1="501.5" x2="439.3" y2="697.5" stroke="#3c3c3c" stroke-width="1.8"/>
<rect x="16.9" y="742" width="845.1" height="140.5" fill="none" stroke="#3c3c3c" stroke-width="1.8"/>
<line x1="439.5" y1="742" x2="439.5" y2="882.5" stroke="#3c3c3c" stroke-width="1.8"/>
<text x="878.4" y="31.8" font-size="31" font-weight="bold" fill="#000">B</text>
<rect x="935.3" y="9.9" width="333" height="232.7" fill="#fff" stroke="none"/>
<rect x="1274.9" y="9.9" width="330.8" height="232.3" fill="#fff" stroke="none"/>
<rect x="776.2" y="244.9" width="330.9" height="233.5" fill="#fff" stroke="none"/>
<rect x="1436.3" y="244.9" width="332" height="232.8" fill="#fff" stroke="none"/>
<rect x="935.7" y="480.2" width="332.6" height="234.2" fill="#fff" stroke="none"/>
<rect x="1274.1" y="481.3" width="330.9" height="233.1" fill="#fff" stroke="none"/>
<path d="M998.1 147.7l1.1 .3 1 .1 1.1-.3 1.1-.3 1.1-.1 1 0 1.1 0 1.1 .1 1.1 .3 1 .3 1.1 0 1.1-.2 1.1-.6 1-.3 1.1 .2 1.1 .5 1.1 .4 1 0 1.1-.3 1.1-.3 1.1 0 1 .1 1.1 0 1.1-.1 1.1 0 1 .2 1.1 .2 1.1 0 1.1-.3 1-.2 1.1-.1 1.1 .2 1 0 1.1-.1 1.1-.3 1.1-.2 1-.1 1.1-.4 1.1-.7 1.1-1 1-1 1.1-1 1.1-1.3 1.1-1.9 1-2.6 1.1-2.9 1.1-3.1 1.1-3.3 1-3.7 1.1-4.4 1.1-4.8 1.1-5 1-4.6 1.1-4.4 1.1-4 1.1-3.7 1-3 1.1-2.3 1.1-1.6 1.1-.8 1 .2 1.1 1.5 1.1 2.9 1 4 1.1 4.4 1.1 4.4 1.1 4.4 1 4.7 1.1 5 1.1 5.2 1.1 4.8 1 4.3 1.1 3.8 1.1 3.4 1.1 2.9 1 2.5 1.1 2.1 1.1 1.9 1.1 2.1 1 2.1 1.1 1.9 1.1 1.5 1.1 1.2 1 1.2 1.1 1.3 1.1 1.3 1.1 1.1 1 .9 1.1 .8 1.1 .7 1.1 .5 1 0 1.1-.4 1.1-.5 1.1-.2 1 0 1.1 0 1.1-.4 1-.8 1.1-.8 1.1-.6 1.1-.4 1-.6 1.1-.7 1.1-.7 1.1-.7 1-.7 1.1-.8 1.1-.8 1.1-.7 1-.4 1.1-.3 1.1-.5 1.1-.8 1-1 1.1-.7 1.1-.2 1.1 .1 1 0 1.1-.5 1.1-.6 1.1-.5 1-.3 1.1-.2 1.1-.1 1.1-.1 1 .1 1.1 .1 1.1 0 1-.4 1.1-.5 1.1-.2 1.1 .1 1 .3 1.1 .1 1.1 0 1.1-.2 1 0 1.1 0 1.1-.1 1.1-.3 1-.2 1.1 .2 1.1 .4 1.1 .4 1-.1 1.1-.4 1.1-.4 1.1 0 1 .2 1.1 .2 1.1 .1 1.1 0 1 0 1.1 0 1.1-.2 1.1-.1 1-.1 1.1 .1 1.1 .4 1 .1 1.1-.2 1.1-.4 1.1-.1 1 .2 1.1 .4 1.1 .1 1.1-.2 1-.3 1.1-.2 1.1 .2 1.1 .2 1 .1 1.1-.1 1.1 0 1.1 .1 1-.1 1.1-.1 1.1-.2 1.1 0 1 .3 1.1 .3 1.1 0 1.1-.2 1-.3 1.1-.1 1.1 .2 1.1 .1 1-.1 1.1-.1 1.1 .1 1 .3 1.1 .1 1.1-.2 1.1-.4 1-.2 1.1 .1 1.1 .4 1.1 .3 1 0 1.1-.2 1.1-.2 1.1 0 1-.1 1.1-.1 1.1 0 1.1 .2 1 .4 1.1 .1 1.1-.3 1.1-.4 1-.2 1.1 .2 1.1 .4 1.1 .2 1-.2 1.1-.2 1.1-.1 1.1 .1 1 .2 1.1 0 1.1-.2 1-.1 1.1 .1 1.1 .1 1.1 0 1-.1 1.1 0 1.1 .1 1.1 .1 1 0 1.1-.3 1.1-.1" fill="none" stroke="#9ccbec" stroke-width="1.3" stroke-linejoin="round" stroke-opacity="0.7"/>
<path d="M998.1 147.6l1.1 0 1-.1 1.1 .1 1.1 .1 1.1 0 1-.1 1.1-.1 1.1 .1 1.1 .2 1 .2 1.1-.2 1.1-.4 1.1-.1 1 .1 1.1 .4 1.1 .1 1.1-.2 1-.1 1.1 .1 1.1 .2 1.1 0 1-.4 1.1-.3 1.1 .1 1.1 .5 1 .3 1.1-.1 1.1-.5 1.1-.2 1 .1 1.1 .3 1.1 0 1-.3 1.1-.1 1.1 .1 1.1 .2 1-.3 1.1-.8 1.1-.9 1.1-.5 1-.2 1.1-.6 1.1-1.1 1.1-1.7 1-2.1 1.1-2.2 1.1-2.8 1.1-3.3 1-3.6 1.1-3.7 1.1-3.7 1.1-3.7 1-4.3 1.1-4.6 1.1-4.7 1.1-4.2 1-3.6 1.1-2.7 1.1-1.9 1.1-.9 1 0 1.1 .9 1.1 1.7 1 2.4 1.1 3 1.1 3.6 1.1 4.3 1 4.7 1.1 5.1 1.1 5.2 1.1 4.7 1 4.1 1.1 3.6 1.1 3.2 1.1 3 1 2.8 1.1 2.3 1.1 1.9 1.1 1.9 1 1.9 1.1 1.7 1.1 1.3 1.1 .9 1 .8 1.1 1.2 1.1 1.3 1.1 1 1 .4 1.1 .2 1.1 .3 1.1 .5 1 .3 1.1-.1 1.1-.3 1.1-.2 1 .1 1.1-.1 1.1-.5 1-.9 1.1-.7 1.1-.2 1.1 .1 1-.2 1.1-.6 1.1-.8 1.1-.6 1-.4 1.1-.5 1.1-.8 1.1-.7 1-.3 1.1 0 1.1-.1 1.1-.4 1-.7 1.1-.7 1.1-.3 1.1-.2 1-.1 1.1-.3 1.1-.1 1.1-.1 1-.1 1.1-.2 1.1-.4 1.1-.3 1-.1 1.1 .1 1.1 .1 1 .1 1.1 0 1.1-.2 1.1-.2 1-.3 1.1-.1 1.1 .2 1.1 .1 1 .1 1.1 0 1.1 .1 1.1 0 1 0 1.1-.3 1.1-.3 1.1-.1 1 .3 1.1 .4 1.1 .1 1.1-.1 1-.3 1.1 .1 1.1 .1 1.1 0 1-.3 1.1-.3 1.1 0 1.1 .5 1 .3 1.1 0 1.1-.3 1-.2 1.1 .2 1.1 .2 1.1-.2 1-.4 1.1-.2 1.1 .2 1.1 .5 1 .3 1.1-.1 1.1-.3 1.1 0 1 .1 1.1-.1 1.1-.3 1.1-.3 1 .1 1.1 .4 1.1 .5 1.1 .1 1-.2 1.1-.4 1.1-.1 1.1 0 1-.1 1.1-.1 1.1 .1 1.1 .3 1 .3 1.1 .1 1.1-.1 1-.3 1.1-.3 1.1-.1 1.1 .1 1 .2 1.1 .1 1.1 .1 1.1 0 1-.1 1.1-.1 1.1 0 1.1 0 1 0 1.1-.1 1.1 .1 1.1 .2 1 .1 1.1-.2 1.1-.3 1.1-.1 1 .3 1.1 .3 1.1 .1 1.1-.2 1-.3 1.1 0 1.1 .2 1.1 0 1-.2 1.1-.2 1.1 .2 1 .4 1.1 .3 1.1-.3 1.1-.5 1-.2 1.1 .2 1.1 .4 1.1 .1 1-.2 1.1-.2 1.1 .1" fill="none" stroke="#86c0ea" stroke-width="1.3" stroke-linejoin="round" stroke-opacity="0.7"/>
<path d="M998.1 147.9l1.1-.2 1 0 1.1 .2 1.1 0 1.1-.2 1-.3 1.1-.2 1.1 .1 1.1 .3 1 .2 1.1 0 1.1-.1 1.1 .1 1 0 1.1 0 1.1-.1 1.1-.2 1-.1 1.1 .1 1.1 .1 1.1 0 1-.1 1.1 0 1.1 .2 1.1 .2 1 0 1.1-.1 1.1-.1 1.1-.1 1 0 1.1-.2 1.1-.2 1-.1 1.1 .1 1.1 .3 1.1 .1 1-.3 1.1-.5 1.1-.6 1.1-.7 1-.8 1.1-1.1 1.1-1.4 1.1-1.5 1-1.5 1.1-1.8 1.1-2.5 1.1-3.2 1-3.6 1.1-3.8 1.1-3.8 1.1-3.8 1-4.1 1.1-4.2 1.1-3.9 1.1-3.3 1-2.8 1.1-2.3 1.1-1.9 1.1-1 1 .1 1.1 1.3 1.1 2.2 1 2.6 1.1 3.1 1.1 3.6 1.1 4.2 1 4.5 1.1 4.5 1.1 4.3 1.1 4 1 4.1 1.1 3.8 1.1 3.3 1.1 2.7 1 2.1 1.1 2 1.1 2.1 1.1 2 1 1.9 1.1 1.5 1.1 1.5 1.1 1.5 1 1.5 1.1 1.3 1.1 1 1.1 .9 1 .9 1.1 .8 1.1 .7 1.1 .2 1-.1 1.1-.2 1.1-.1 1.1-.1 1-.3 1.1-.3 1.1-.4 1-.4 1.1-.4 1.1-.6 1.1-.8 1-.8 1.1-.7 1.1-.6 1.1-.6 1-.6 1.1-.8 1.1-.6 1.1-.4 1-.5 1.1-.7 1.1-.7 1.1-.7 1-.4 1.1-.3 1.1-.5 1.1-.5 1-.5 1.1-.3 1.1 .1 1.1 0 1-.3 1.1-.4 1.1-.3 1.1-.1 1-.1 1.1-.2 1.1-.4 1-.2 1.1 .1 1.1 .4 1.1 .2 1-.1 1.1-.3 1.1-.2 1.1 0 1 .1 1.1-.1 1.1-.2 1.1-.1 1 .1 1.1 .3 1.1 .2 1.1-.2 1-.2 1.1-.1 1.1 .2 1.1 .2 1 0 1.1-.2 1.1-.3 1.1 0 1 .1 1.1 .1 1.1-.1 1.1 0 1 .2 1.1 .3 1.1 .2 1-.1 1.1-.4 1.1-.4 1.1-.1 1 .1 1.1 .1 1.1 .2 1.1 .1 1 .2 1.1 .2 1.1 0 1.1-.3 1-.3 1.1-.2 1.1 0 1.1 .2 1 .1 1.1 0 1.1 .1 1.1 .1 1 .1 1.1-.1 1.1-.1 1.1-.1 1 0 1.1 .1 1.1 0 1.1-.2 1-.1 1.1 0 1.1 .2 1 .2 1.1 0 1.1-.1 1.1 .1 1 .1 1.1 .1 1.1-.2 1.1-.4 1-.3 1.1 .1 1.1 .4 1.1 .2 1 .1 1.1-.1 1.1 0 1.1 .1 1 .1 1.1-.2 1.1-.4 1.1-.2 1 .1 1.1 .3 1.1 .2 1.1-.1 1-.1 1.1 0 1.1 .3 1.1 .1 1-.1 1.1-.3 1.1-.3 1 .1 1.1 .1 1.1 .1 1.1 0 1-.1 1.1 .1 1.1 .3 1.1 .2 1-.1 1.1-.4 1.1-.2" fill="none" stroke="#aad4f0" stroke-width="1.3" stroke-linejoin="round" stroke-opacity="0.7"/>
<path d="M998.1 147.4l1.1-.2 1-.1 1.1 .1 1.1 .2 1.1 .4 1 .4 1.1 .2 1.1-.1 1.1-.4 1-.4 1.1-.3 1.1-.1 1.1 .1 1 .3 1.1 .2 1.1 .2 1.1 0 1 0 1.1-.1 1.1 0 1.1-.1 1-.1 1.1 0 1.1-.1 1.1 0 1 0 1.1 0 1.1 0 1.1 .1 1 0 1.1 .1 1.1 .1 1-.1 1.1-.2 1.1-.3 1.1-.5 1-.5 1.1-.4 1.1-.4 1.1-.5 1-.8 1.1-1.2 1.1-1.5 1.1-1.9 1-2.1 1.1-2.4 1.1-2.8 1.1-3.2 1-3.6 1.1-3.8 1.1-3.8 1.1-3.7 1-3.5 1.1-3.3 1.1-2.9 1.1-2.5 1-2.1 1.1-1.4 1.1-.8 1.1 0 1 .9 1.1 1.8 1.1 2.8 1 3.4 1.1 4 1.1 4.2 1.1 4 1 3.9 1.1 3.5 1.1 3.3 1.1 3.3 1 3.2 1.1 3 1.1 2.6 1.1 2.2 1 1.7 1.1 1.3 1.1 1.1 1.1 1.1 1 1 1.1 1.1 1.1 1.1 1.1 1.1 1 .9 1.1 .9 1.1 .8 1.1 .5 1 .4 1.1 .3 1.1 .2 1.1 .2 1 .2 1.1 .1 1.1 0 1.1-.1 1-.3 1.1-.2 1.1-.3 1-.2 1.1-.4 1.1-.4 1.1-.6 1-.6 1.1-.4 1.1-.3 1.1-.2 1-.2 1.1-.3 1.1-.5 1.1-.6 1-.5 1.1-.5 1.1-.4 1.1-.3 1-.3 1.1-.2 1.1-.3 1.1-.2 1-.2 1.1-.1 1.1-.2 1.1-.2 1-.1 1.1-.1 1.1 0 1.1-.1 1-.3 1.1-.3 1.1-.3 1-.1 1.1 .2 1.1 .3 1.1 .4 1 .1 1.1-.1 1.1-.3 1.1-.4 1-.3 1.1-.2 1.1 .1 1.1 .2 1 .2 1.1 .2 1.1 .2 1.1 .1 1 0 1.1-.2 1.1-.2 1.1-.3 1-.1 1.1 0 1.1 .1 1.1 .1 1 .1 1.1 .1 1.1 0 1.1 .2 1 .1 1.1 0 1.1-.1 1-.2 1.1-.4 1.1-.2 1.1 0 1 .2 1.1 .4 1.1 .3 1.1 .1 1-.1 1.1-.1 1.1-.2 1.1-.2 1-.1 1.1 0 1.1 .1 1.1 0 1 .1 1.1 .1 1.1 .1 1.1-.1 1 0 1.1-.1 1.1 0 1.1 .1 1 .1 1.1 0 1.1-.1 1.1-.2 1-.2 1.1 0 1.1 .1 1 .3 1.1 .2 1.1 .1 1.1-.1 1-.2 1.1-.1 1.1-.1 1.1 0 1 0 1.1 .1 1.1 0 1.1 0 1 .1 1.1 0 1.1 .1 1.1-.1 1 0 1.1-.1 1.1 0 1.1 0 1 0 1.1 0 1.1 0 1.1-.1 1 .1 1.1 .1 1.1 .1 1.1 .1 1-.1 1.1-.2 1.1-.2 1-.1 1.1 .2 1.1 .2 1.1 .3 1 .1 1.1-.2 1.1-.3 1.1-.2 1-.2 1.1 .1 1.1 .2" fill="none" stroke="#7ab8e6" stroke-width="1.3" stroke-linejoin="round" stroke-opacity="0.7"/>
<path d="M998.1 147.9l1.1-.3 1-.1 1.1 .1 1.1 .1 1.1-.1 1 0 1.1 .1 1.1 0 1.1-.1 1 0 1.1 .1 1.1 .2 1.1-.2 1-.3 1.1-.1 1.1 .4 1.1 .4 1-.1 1.1-.5 1.1-.2 1.1 .2 1 .2 1.1 0 1.1 0 1.1 .1 1 .1 1.1-.1 1.1-.3 1.1-.2 1 .2 1.1 .2 1.1-.1 1-.1 1.1-.1 1.1 0 1.1-.1 1-.3 1.1-.2 1.1-.2 1.1-.5 1-1 1.1-1.2 1.1-.9 1.1-.8 1-1.2 1.1-2.1 1.1-2.5 1.1-2.6 1-2.7 1.1-3.1 1.1-3.6 1.1-3.6 1-3.4 1.1-3.3 1.1-3.2 1.1-2.9 1-2.5 1.1-2.1 1.1-1.7 1.1-1 1 0 1.1 1.1 1.1 1.8 1 2.1 1.1 2.5 1.1 3.4 1.1 4 1 4 1.1 3.6 1.1 3.5 1.1 3.5 1 3.3 1.1 2.9 1.1 2.6 1.1 2.6 1 2.5 1.1 2.1 1.1 1.5 1.1 1.2 1 1.2 1.1 1.3 1.1 1.2 1.1 1.1 1 1.1 1.1 1.2 1.1 .9 1.1 .5 1 .5 1.1 .7 1.1 .8 1.1 .2 1-.4 1.1-.3 1.1 .1 1.1 .2 1-.2 1.1-.5 1.1-.5 1-.2 1.1-.2 1.1-.5 1.1-.5 1-.5 1.1-.5 1.1-.5 1.1-.6 1-.3 1.1-.3 1.1-.5 1.1-.9 1-.7 1.1-.3 1.1 .1 1.1-.2 1-.6 1.1-.6 1.1-.3 1.1-.2 1-.4 1.1-.4 1.1-.1 1.1 .2 1-.1 1.1-.3 1.1-.3 1.1-.1 1 .1 1.1-.1 1.1-.2 1-.2 1.1 0 1.1-.1 1.1-.1 1 .1 1.1 .3 1.1 .3 1.1-.3 1-.5 1.1-.2 1.1 .2 1.1 .3 1-.1 1.1-.3 1.1 .1 1.1 .3 1 .3 1.1-.2 1.1-.2 1.1-.2 1 0 1.1-.1 1.1 .1 1.1 .2 1 .2 1.1-.1 1.1-.2 1.1-.1 1 .2 1.1 .3 1.1-.1 1-.5 1.1-.2 1.1 .2 1.1 .3 1 .1 1.1-.1 1.1 .1 1.1 .1 1-.1 1.1-.3 1.1-.2 1.1 .1 1 .4 1.1 0 1.1-.1 1.1-.1 1 .1 1.1-.1 1.1 0 1.1 0 1 .2 1.1 .1 1.1-.3 1.1-.2 1 0 1.1 .4 1.1 .2 1.1-.3 1-.3 1.1 0 1.1 .4 1 .1 1.1-.2 1.1-.2 1.1 0 1 .2 1.1 0 1.1 0 1.1-.1 1 0 1.1-.1 1.1-.1 1.1 .1 1 .4 1.1 .2 1.1-.2 1.1-.5 1-.2 1.1 .3 1.1 .2 1.1 0 1-.1 1.1 .1 1.1 .2 1.1 0 1-.4 1.1-.1 1.1 .2 1.1 .2 1-.1 1.1-.3 1.1 0 1 .2 1.1 .2 1.1 .1 1.1 0 1 0 1.1-.2 1.1-.3 1.1-.2 1 .2 1.1 .4 1.1 .1" fill="none" stroke="#9ccbec" stroke-width="1.3" stroke-linejoin="round" stroke-opacity="0.7"/>
<path d="M998.1 148.1l1.1-.2 1-.3 1.1-.2 1.1-.1 1.1 0 1 .1 1.1 .2 1.1 .3 1.1 .2 1-.2 1.1-.3 1.1-.1 1.1 .1 1 0 1.1 0 1.1 0 1.1 0 1 .1 1.1 0 1.1-.1 1.1 0 1 .1 1.1 .1 1.1 0 1.1-.2 1-.1 1.1 .1 1.1 .1 1.1-.1 1-.1 1.1 0 1.1 .1 1 0 1.1-.1 1.1-.2 1.1-.1 1-.1 1.1-.4 1.1-.4 1.1-.4 1-.4 1.1-.6 1.1-1.1 1.1-1.5 1-1.6 1.1-1.7 1.1-2 1.1-2.3 1-2.6 1.1-2.8 1.1-3.1 1.1-3.5 1-3.6 1.1-3.3 1.1-2.8 1.1-2.5 1-2.4 1.1-2 1.1-1.4 1.1-.8 1-.2 1.1 .7 1.1 1.6 1 2.4 1.1 2.8 1.1 3.1 1.1 3.1 1 3.5 1.1 3.7 1.1 3.7 1.1 3.5 1 3.1 1.1 2.8 1.1 2.4 1.1 2 1 1.9 1.1 1.8 1.1 2 1.1 1.9 1 1.6 1.1 1.2 1.1 1.1 1.1 1 1 1 1.1 1 1.1 .9 1.1 .9 1 .8 1.1 .6 1.1 .3 1.1 .2 1 .3 1.1 .2 1.1 0 1.1-.3 1-.5 1.1-.4 1.1-.4 1-.6 1.1-.5 1.1-.3 1.1-.3 1-.3 1.1-.6 1.1-.5 1.1-.5 1-.5 1.1-.7 1.1-.7 1.1-.7 1-.5 1.1-.3 1.1-.5 1.1-.4 1-.4 1.1-.3 1.1-.3 1.1-.4 1-.3 1.1-.1 1.1 0 1.1-.3 1-.5 1.1-.4 1.1-.2 1.1 0 1 0 1.1 0 1.1 .1 1 0 1.1-.1 1.1-.2 1.1-.2 1 0 1.1 .2 1.1 .1 1.1-.2 1-.3 1.1-.1 1.1 0 1.1 0 1 .2 1.1 .3 1.1 .3 1.1 0 1-.4 1.1-.4 1.1-.1 1.1 .1 1 .2 1.1 .1 1.1 0 1.1 0 1 0 1.1-.1 1.1-.1 1.1 .1 1 .3 1.1 0 1.1-.2 1-.3 1.1-.1 1.1 .1 1.1 .2 1 .1 1.1 .1 1.1 .1 1.1 0 1-.2 1.1-.3 1.1 0 1.1 .1 1 .2 1.1 0 1.1 0 1.1 0 1 .1 1.1 0 1.1-.1 1.1-.1 1 0 1.1 0 1.1 0 1.1-.1 1 0 1.1 .2 1.1 .1 1.1 0 1-.2 1.1 0 1.1 .1 1 .1 1.1-.1 1.1-.2 1.1 0 1 0 1.1 0 1.1 0 1.1 .2 1 .2 1.1 .1 1.1-.1 1.1-.3 1-.2 1.1 .1 1.1 .1 1.1 .1 1 0 1.1 0 1.1 0 1.1-.2 1-.1 1.1 .1 1.1 .3 1.1 .3 1 0 1.1-.3 1.1-.3 1.1-.1 1-.1 1.1 .1 1.1 .1 1 .2 1.1 .2 1.1-.1 1.1-.2 1-.1 1.1 .2 1.1 .2 1.1 .1 1-.2 1.1-.3 1.1-.1" fill="none" stroke="#86c0ea" stroke-width="1.3" stroke-linejoin="round" stroke-opacity="0.7"/>
<path d="M998.1 147.8l1.1 0 1-.1 1.1-.1 1.1-.1 1.1 0 1 0 1.1 .1 1.1 .1 1.1 0 1 0 1.1 0 1.1-.1 1.1 0 1 .1 1.1 .1 1.1 0 1.1 0 1-.1 1.1-.2 1.1-.1 1.1 0 1 .1 1.1 .1 1.1 .1 1.1 .1 1 .1 1.1 .1 1.1 0 1.1-.1 1-.4 1.1-.4 1.1-.2 1 0 1.1 .2 1.1 .3 1.1 .2 1-.1 1.1-.5 1.1-.8 1.1-1 1-1 1.1-1.1 1.1-1.3 1.1-1.6 1-1.9 1.1-2.2 1.1-2.6 1.1-2.9 1-3.4 1.1-3.9 1.1-4.3 1.1-4.5 1-4.5 1.1-4.1 1.1-3.8 1.1-3.4 1-2.8 1.1-2.3 1.1-1.5 1.1-.7 1 .2 1.1 1.3 1.1 2.2 1 2.8 1.1 3.5 1.1 3.9 1.1 4.3 1 4.6 1.1 4.7 1.1 4.6 1.1 4.3 1 4.1 1.1 3.6 1.1 3.3 1.1 2.7 1 2.3 1.1 2 1.1 1.9 1.1 1.7 1 1.9 1.1 1.8 1.1 1.8 1.1 1.5 1 1.3 1.1 1.1 1.1 1 1.1 .9 1 .8 1.1 .8 1.1 .5 1.1 .4 1 .1 1.1 .1 1.1-.1 1.1-.2 1-.4 1.1-.6 1.1-.7 1-.5 1.1-.4 1.1-.2 1.1-.3 1-.5 1.1-.8 1.1-1 1.1-.9 1-.9 1.1-.6 1.1-.5 1.1-.4 1-.5 1.1-.6 1.1-.5 1.1-.5 1-.4 1.1-.5 1.1-.6 1.1-.5 1-.5 1.1-.3 1.1-.2 1.1-.1 1-.1 1.1-.1 1.1-.3 1.1-.2 1-.1 1.1-.1 1.1-.1 1-.1 1.1-.2 1.1-.2 1.1-.1 1-.1 1.1 .1 1.1 .2 1.1 .1 1 .1 1.1 .1 1.1-.1 1.1-.1 1-.2 1.1-.3 1.1-.2 1.1-.1 1 .2 1.1 .3 1.1 .4 1.1 .2 1-.1 1.1-.2 1.1-.3 1.1-.2 1 0 1.1 0 1.1 .1 1.1 0 1 .1 1.1 .1 1.1 .1 1 .1 1.1 0 1.1-.1 1.1-.2 1-.2 1.1 0 1.1 .1 1.1 .2 1 .1 1.1 0 1.1-.2 1.1-.2 1 0 1.1 .2 1.1 .2 1.1 .2 1 0 1.1-.1 1.1-.3 1.1-.2 1-.1 1.1 .1 1.1 .1 1.1 .1 1 .1 1.1 .1 1.1 .1 1.1 .1 1-.1 1.1-.2 1.1-.2 1-.2 1.1 0 1.1 .1 1.1 .2 1 .2 1.1 .1 1.1 0 1.1-.1 1-.1 1.1-.1 1.1 0 1.1-.1 1 0 1.1 .1 1.1 0 1.1 .1 1 0 1.1 0 1.1-.1 1.1-.1 1 0 1.1 .2 1.1 .1 1.1 .1 1-.1 1.1-.2 1.1-.2 1.1-.1 1 .1 1.1 .2 1.1 .2 1 .1 1.1-.1 1.1-.1 1.1-.1 1 0 1.1 0 1.1 .1 1.1-.1 1 0 1.1 0 1.1 0" fill="none" stroke="#aad4f0" stroke-width="1.3" stroke-linejoin="round" stroke-opacity="0.7"/>
<path d="M998.1 148.7l1.1-.4 1-.4 1.1-.5 1.1-.6 1.1-.2 1 .6 1.1 1 1.1 .4 1.1-.5 1-1 1.1-.3 1.1 .7 1.1 .8 1 .1 1.1-.6 1.1-.5 1.1 .2 1 .3 1.1-.2 1.1-.7 1.1-.2 1 .9 1.1 1.2 1.1 .3 1.1-1 1-1.3 1.1-.3 1.1 .8 1.1 .9 1 0 1.1-.8 1.1-.4 1 .2 1.1 .5 1.1 .2 1.1-.1 1 0 1.1 .1 1.1-.3 1.1-1 1-1.2 1.1-.4 1.1 .5 1.1 .6 1-.2 1.1-1.2 1.1-1.5 1.1-1.6 1-1.7 1.1-2.3 1.1-2.6 1.1-2.1 1-1.6 1.1-2 1.1-3.7 1.1-5.2 1-5.3 1.1-4.1 1.1-3.3 1.1-3.6 1-5 1.1-5.6 1.1-5.2 1-4.2 1.1-3.5 1.1-3.4 1.1-3 1-1.8 1.1-.5 1.1-.1 1.1 .6 1 4.1 1.1 8.1 1.1 11.3 1.1 12.4 1 11.4 1.1 9.2 1.1 7 1.1 5.4 1 3.7 1.1 2.3 1.1 1.5 1.1 1.5 1 1.8 1.1 1.8 1.1 1 1.1 .6 1 1.3 1.1 2.5 1.1 3 1.1 2 1 .5 1.1-.5 1.1-.2 1.1 .2 1 .1 1.1-.7 1.1-.9 1-.5 1.1 .1 1.1-.5 1.1-1.7 1-2.3 1.1-1.6 1.1-.4 1.1 .2 1-.5 1.1-1.6 1.1-1.9 1.1-1.3 1-.6 1.1-.2 1.1-.2 1.1 .1 1 .3 1.1-.1 1.1-.9 1.1-1.5 1-1.1 1.1 .2 1.1 .9 1.1 .7 1 0 1.1-.4 1.1 0 1.1 .3 1-.2 1.1-.8 1.1-.6 1 .3 1.1 1.1 1.1 .5 1.1-.7 1-1.1 1.1-.3 1.1 1.1 1.1 1.2 1 .2 1.1-1 1.1-1 1.1-.2 1 .5 1.1 .4 1.1-.1 1.1-.2 1 .4 1.1 .4 1.1 0 1.1-.6 1-.5 1.1 .2 1.1 .7 1.1 .3 1-.5 1.1-.7 1.1-.2 1.1 .4 1 .3 1.1 .1 1.1 .2 1 .5 1.1 .5 1.1-.5 1.1-1.4 1-1.2 1.1 .1 1.1 1.5 1.1 1.5 1 .3 1.1-.9 1.1-.9 1.1-.1 1 .4 1.1-.1 1.1-.5 1.1-.2 1 .6 1.1 .9 1.1 .1 1.1-.9 1-.8 1.1 .1 1.1 1 1.1 .7 1-.1 1.1-.8 1.1-.6 1.1 0 1 .1 1.1 0 1.1 .2 1 .5 1.1 .6 1.1 .1 1.1-.8 1-.8 1.1 0 1.1 .7 1.1 .5 1-.4 1.1-.8 1.1-.2 1.1 .8 1 .8 1.1 .1 1.1-.7 1.1-.4 1 .3 1.1 .4 1.1-.4 1.1-1 1-.6 1.1 .8 1.1 1.6 1.1 .9 1-.6 1.1-1.3 1.1-.7 1.1 .1 1 .5 1.1 .2 1.1 0 1 .1 1.1 .3 1.1 .1 1.1-.5 1-.6 1.1 .1 1.1 .8 1.1 .7 1-.2 1.1-.8 1.1-.5" fill="none" stroke="#34c862" stroke-width="1.25" stroke-linejoin="round" stroke-opacity="0.9"/>
<path d="M998.1 147.9l1.1-.7 1-.3 1.1 0 1.1 .2 1.1 .2 1 0 1.1 0 1.1 .1 1.1 .4 1 .6 1.1 .5 1.1 0 1.1-.5 1-1 1.1-1 1.1-.5 1.1 .3 1 .9 1.1 1.1 1.1 .8 1.1 0 1-.5 1.1-.9 1.1-.7 1.1-.2 1 .3 1.1 .6 1.1 .5 1.1 .2 1-.3 1.1-.4 1.1-.3 1-.2 1.1 .1 1.1 .1 1.1 .1 1-.1 1.1 0 1.1 .1 1.1 .1 1-.1 1.1-.3 1.1-1 1.1-1.3 1-1.5 1.1-1.2 1.1-.8 1.1-.3 1-.3 1.1-.9 1.1-2 1.1-3.1 1-4 1.1-4.3 1.1-4 1.1-3.5 1-3.3 1.1-3.4 1.1-3.9 1.1-4.5 1-4.9 1.1-4.8 1.1-4.5 1-3.8 1.1-3.4 1.1-2.9 1.1-2.7 1-2.3 1.1-1.5 1.1-.4 1.1 2.7 1 7 1.1 10 1.1 11.1 1.1 10.7 1 9.2 1.1 7.6 1.1 6.1 1.1 4.9 1 3.9 1.1 2.7 1.1 1.7 1.1 .8 1 .4 1.1 .7 1.1 1.4 1.1 2.3 1 2.9 1.1 3 1.1 2.7 1.1 2 1 1.4 1.1 .9 1.1 .6 1.1 .2 1 0 1.1-.2 1.1-.6 1-.8 1.1-.9 1.1-.8 1.1-.9 1-.9 1.1-1.3 1.1-1.7 1.1-2.1 1-2.1 1.1-1.7 1.1-1.1 1.1-.5 1-.4 1.1-.5 1.1-.9 1.1-1.2 1-1.1 1.1-.8 1.1-.3 1.1 .2 1 .3 1.1 0 1.1-.5 1.1-.8 1-.7 1.1-.3 1.1 .3 1.1 .6 1 .6 1.1 .1 1.1-.3 1-.6 1.1-.5 1.1-.1 1.1 .4 1 .6 1.1 .4 1.1-.1 1.1-.5 1-.7 1.1-.5 1.1 .1 1.1 .6 1 .8 1.1 .5 1.1 0 1.1-.4 1-.6 1.1-.5 1.1-.1 1.1 .3 1 .4 1.1 .3 1.1-.2 1.1-.3 1-.4 1.1 0 1.1 .4 1.1 .6 1 .4 1.1 0 1.1-.4 1-.7 1.1-.6 1.1-.1 1.1 .3 1 .6 1.1 .5 1.1 .2 1.1-.2 1-.3 1.1-.3 1.1 0 1.1 .2 1 .1 1.1 0 1.1-.2 1.1-.3 1-.2 1.1 .2 1.1 .5 1.1 .4 1 .1 1.1-.2 1.1-.6 1.1-.6 1-.2 1.1 .4 1.1 .8 1.1 .8 1 .2 1.1-.4 1.1-1 1-.9 1.1-.6 1.1 .3 1.1 .9 1 1.1 1.1 .7 1.1 .1 1.1-.6 1-.8 1.1-.7 1.1-.3 1.1 .2 1 .4 1.1 .4 1.1 0 1.1-.1 1 0 1.1 .1 1.1 .4 1.1 .3 1 0 1.1-.4 1.1-.7 1.1-.6 1-.3 1.1 .4 1.1 .8 1.1 .8 1 .5 1.1-.2 1.1-.7 1-.9 1.1-.5 1.1 .1 1.1 .6 1 .7 1.1 .6 1.1 0 1.1-.4 1-.6 1.1-.5 1.1-.2" fill="none" stroke="#6ad88a" stroke-width="1.25" stroke-linejoin="round" stroke-opacity="0.9"/>
<path d="M998.1 149.2l1.1-.1 1-1.1 1.1-1.3 1.1-.5 1.1 .7 1 1.1 1.1 .8 1.1 0 1.1-.5 1-.7 1.1-.6 1.1-.5 1.1-.1 1 .6 1.1 1.1 1.1 .8 1.1-.1 1-.8 1.1-.6 1.1 0 1.1 .4 1 .1 1.1-.3 1.1-.4 1.1 .3 1 1.7 1.1 3.1 1.1 4.4 1.1 5.1 1 4.4 1.1 1.7 1.1-2.3 1-5.2 1.1-5.7 1.1-4.1 1.1-2 1-.7 1.1-.8 1.1-1.2 1.1-1.3 1-1 1.1-.8 1.1-1.1 1.1-1.4 1-1.6 1.1-1.5 1.1-1.8 1.1-2.4 1-3.1 1.1-3.4 1.1-3.4 1.1-3.5 1-3.8 1.1-4.2 1.1-3.9 1.1-3.2 1-2.6 1.1-2.9 1.1-3.7 1.1-4 1-3.4 1.1-2.3 1.1-1 1-.2 1.1 .7 1.1 3.7 1.1 6.7 1 8.3 1.1 8.5 1.1 8.2 1.1 7.7 1 7.2 1.1 5.9 1.1 3.8 1.1 1.7 1 .6 1.1 .4 1.1 .7 1.1 .9 1 1 1.1 1.2 1.1 1.4 1.1 1.7 1 1.6 1.1 1.6 1.1 1.9 1.1 2.5 1 2.5 1.1 1.7 1.1 .2 1.1-.7 1-.8 1.1 0 1.1 .6 1.1 .5 1-.2 1.1-.9 1.1-1.2 1-1.7 1.1-2 1.1-1.8 1.1-1.1 1-.4 1.1-.2 1.1-.9 1.1-1.7 1-1.9 1.1-1.3 1.1-.4 1.1-.2 1-.3 1.1-.4 1.1-.1 1.1 0 1-.1 1.1-.6 1.1-.8 1.1-.7 1-.2 1.1-.1 1.1-.1 1.1 0 1 .5 1.1 1.1 1.1 .7 1.1-.1 1-1 1.1-1.1 1.1-.5 1 .2 1.1 .5 1.1 .2 1.1 .1 1 .1 1.1 .2 1.1-.1 1.1-.2 1-.1 1.1 .4 1.1 .5 1.1 0 1-.6 1.1-.9 1.1-.2 1.1 .5 1 .7 1.1 .3 1.1-.5 1.1-.5 1-.2 1.1 .3 1.1 .5 1.1 .4 1 .5 1.1 .3 1.1-.3 1.1-1.3 1-1.5 1.1-.7 1.1 .6 1 1.7 1.1 1.6 1.1 .5 1.1-.5 1-.8 1.1-.8 1.1-.5 1.1-.3 1 .1 1.1 .5 1.1 .7 1.1 .2 1-.4 1.1-.7 1.1-.1 1.1 .6 1 .7 1.1 .2 1.1-.5 1.1-.6 1-.1 1.1 .3 1.1 .2 1.1-.2 1-.2 1.1-.1 1.1 .1 1.1-.1 1-.1 1.1 .2 1.1 .7 1 .8 1.1 .2 1.1-.8 1.1-1.2 1-.6 1.1 .1 1.1 .5 1.1 .3 1 .2 1.1 .2 1.1 .4 1.1 .3 1-.1 1.1-.5 1.1-.4 1.1-.2 1 0 1.1-.2 1.1-.2 1.1 .3 1 .8 1.1 .8 1.1 0 1.1-.9 1-1.1 1.1-.4 1.1 .5 1.1 .9 1 .7 1.1 .2 1.1-.1 1-.5 1.1-.9 1.1-.9 1.1-.3 1 .7 1.1 1.3 1.1 1.1 1.1 .1 1-.9 1.1-1.1 1.1-.3" fill="none" stroke="#3fd46c" stroke-width="1.25" stroke-linejoin="round" stroke-opacity="0.9"/>
<path d="M998.1 148.3l1.1 .1 1-.5 1.1 0 1.1 .4 1.1-.3 1-1.1 1.1-.8 1.1 .6 1.1 1.2 1 .5 1.1-.4 1.1-.6 1.1 0 1 .7 1.1 .7 1.1-.2 1.1-.8 1-.9 1.1-.3 1.1-.1 1.1 0 1 .4 1.1 1.4 1.1 1.2 1.1-.1 1-1.5 1.1-.9 1.1 .6 1.1 .6 1-.9 1.1-1.5 1.1-.2 1 1.3 1.1 1.1 1.1 0 1.1-.2 1 .6 1.1 0 1.1-1.9 1.1-2.6 1-.9 1.1 .9 1.1 .3 1.1-1.7 1-2.1 1.1-1 1.1-.3 1.1-1.7 1-3 1.1-2.9 1.1-2.6 1.1-3.3 1-4.5 1.1-4.4 1.1-2.9 1.1-2.1 1-3.1 1.1-4.3 1.1-4.1 1.1-2.9 1-2.1 1.1-2.2 1.1-2.5 1-2.3 1.1-1.6 1.1-.7 1.1 1.8 1 5.5 1.1 8.5 1.1 10.2 1.1 9.8 1 7.7 1.1 5.3 1.1 4.1 1.1 3.8 1 2.8 1.1 .9 1.1-.3 1.1 .3 1 1.8 1.1 1.9 1.1 .9 1.1 .6 1 1.3 1.1 1.6 1.1 .5 1.1 .1 1 1.7 1.1 3.8 1.1 3.5 1.1 1.4 1 .3 1.1 1.4 1.1 2.2 1.1 .9 1-1 1.1-1 1.1-.1 1-.5 1.1-1.8 1.1-2 1.1-.7 1 .2 1.1-.9 1.1-2.5 1.1-2.4 1-.9 1.1 0 1.1-.7 1.1-1.6 1-1.6 1.1-1.1 1.1-1 1.1-.9 1-.6 1.1 .2 1.1 .5 1.1 0 1-.9 1.1-1 1.1-.4 1.1 .6 1 .6 1.1-.1 1.1-.1 1.1 2.1 1 5.5 1.1 6.7 1.1 4 1-1.4 1.1-5 1.1-5.7 1.1-5.2 1-5.1 1.1-4.5 1.1-2.4 1.1 .5 1 2.2 1.1 2.2 1.1 2.2 1.1 2.3 1 1.2 1.1-.4 1.1-.6 1.1 .6 1 1 1.1-.4 1.1-1 1.1 0 1 1.1 1.1 .1 1.1-1.5 1.1-1.5 1 .7 1.1 1.9 1.1 1 1.1-.5 1-.6 1.1 0 1.1 0 1-.7 1.1-.6 1.1 .3 1.1 .8 1 .1 1.1-.7 1.1-.4 1.1 .6 1 1.2 1.1 .5 1.1-.5 1.1-1.1 1-.6 1.1 .2 1.1 .4 1.1 0 1-.3 1.1 0 1.1 .5 1.1 .1 1-.2 1.1 .2 1.1 1.1 1.1 .7 1-1.1 1.1-2.2 1.1-.9 1.1 1 1 1.3 1.1 .1 1.1-.4 1 .6 1.1 1.1 1.1 0 1.1-1.2 1-.6 1.1 .6 1.1 .1 1.1-1.5 1-1.4 1.1 .7 1.1 2.5 1.1 1.4 1-.5 1.1-1.1 1.1 0 1.1 .1 1-.8 1.1-.9 1.1 .1 1.1 .9 1 .3 1.1-.8 1.1-.3 1.1 1 1 1.4 1.1 .4 1.1-1 1.1-1.2 1-.4 1.1 .1 1.1 .2 1 0 1.1 0 1.1 .2 1.1 .3 1 .1 1.1 .1 1.1 .3 1.1 .8 1 .2 1.1-1.1 1.1-1.9" fill="none" stroke="#6ad88a" stroke-width="1.25" stroke-linejoin="round" stroke-opacity="0.9"/>
<path d="M998.1 145.9l1.1 1.8 1 1 1.1-.7 1.1-.9 1.1 .4 1 1.3 1.1 .3 1.1-1.1 1.1-1.1 1-.2 1.1 .5 1.1 .6 1.1 .2 1-.2 1.1-.6 1.1-.3 1.1 .5 1 .7 1.1 0 1.1-.6 1.1-.1 1 .8 1.1 .7 1.1-.6 1.1-1 1-.3 1.1 .2 1.1-.2 1.1-.5 1 .1 1.1 1 1.1 .9 1 .3 1.1-.3 1.1-.4 1.1-.6 1-.7 1.1-.5 1.1-.6 1.1-1.1 1-.7 1.1 .4 1.1 1.1 1.1 .1 1-1.9 1.1-2.5 1.1-1.5 1.1-.9 1-2 1.1-3.6 1.1-3.9 1.1-2.6 1-1.6 1.1-1.9 1.1-3 1.1-4.2 1-4.4 1.1-3.6 1.1-2.4 1.1-2.5 1-3.6 1.1-4.4 1.1-2.8 1-.4 1.1 .4 1.1-1 1.1-1.7 1 2 1.1 6.7 1.1 9.2 1.1 9.1 1 7.9 1.1 6.8 1.1 5.7 1.1 4.7 1 3.4 1.1 1.6 1.1-.1 1.1-.5 1 .8 1.1 2.1 1.1 1.7 1.1 .7 1 .8 1.1 1.9 1.1 2.4 1.1 1.4 1 .4 1.1 .7 1.1 1.4 1.1 1.6 1 1.2 1.1 1 1.1 1 1.1 .8 1 .2 1.1-.2 1.1-.9 1-1.6 1.1-1.7 1.1-1.1 1.1-.6 1-1.3 1.1-1.8 1.1-1.2 1.1 .1 1 .4 1.1-1.2 1.1-2.3 1.1-1.6 1 0 1.1 .4 1.1-.6 1.1-1.4 1-1.1 1.1-.2 1.1 .4 1.1 .4 1-.3 1.1-1.3 1.1-1.1 1.1 .6 1 1.9 1.1 1 1.1-1 1.1-1.5 1-.1 1.1 1.1 1.1 .2 1-1.2 1.1-1.5 1.1-.2 1.1 1.1 1 1.5 1.1 .9 1.1 0 1.1-.7 1-.5 1.1 .2 1.1 .3 1.1-.7 1-1.6 1.1-.8 1.1 1.1 1.1 1.6 1 .7 1.1-.4 1.1-.1 1.1 .3 1 .1 1.1-.6 1.1-.5 1.1 .1 1 1.4 1.1 3.2 1.1 4.9 1.1 4.4 1 .9 1.1-3.1 1.1-4.7 1-3.5 1.1-2.1 1.1-1.3 1.1-.3 1 .5 1.1 .5 1.1-.6 1.1-.8 1 0 1.1 .7 1.1 .1 1.1-.7 1-.5 1.1 .6 1.1 1 1.1 .8 1 0 1.1-.5 1.1-.9 1.1-.7 1 .1 1.1 .4 1.1-.3 1.1-.9 1-.1 1.1 1.6 1.1 1.9 1.1 .3 1-1.2 1.1-1.2 1.1-.1 1 .2 1.1-.3 1.1-.6 1.1-.5 1 .1 1.1 .9 1.1 1.3 1.1 1 1-.4 1.1-1.3 1.1-.8 1.1 .6 1 .6 1.1-.6 1.1-1.1 1.1-.1 1 .9 1.1 .9 1.1 .1 1.1-.3 1-.4 1.1-.2 1.1 0 1.1 .5 1 .5 1.1-.2 1.1-.8 1.1-.2 1 .4 1.1 .3 1.1-.6 1-.7 1.1 .1 1.1 .8 1.1 .5 1 .3 1.1 .4 1.1 .2 1.1-.5 1-.9 1.1-.5 1.1-.1" fill="none" stroke="#3fd46c" stroke-width="1.25" stroke-linejoin="round" stroke-opacity="0.9"/>
<path d="M998.1 148.5l1.1-.3 1-.7 1.1-.3 1.1 .3 1.1 .3 1 .3 1.1 .2 1.1-.2 1.1-.8 1-.5 1.1 .3 1.1 .6 1.1-.1 1-.4 1.1 .2 1.1 1 1.1 .6 1-.4 1.1-.9 1.1-.9 1.1-.6 1-.1 1.1 .9 1.1 1.7 1.1 .8 1-.9 1.1-1.3 1.1-.1 1.1 .4 1-.3 1.1-1 1.1 0 1 1.3 1.1 .8 1.1-1 1.1-1.5 1-.1 1.1 .7 1.1-.2 1.1-1.6 1-1.4 1.1-.5 1.1-.6 1.1-1.5 1-2.1 1.1-1.8 1.1-1.8 1.1-2 1-2.2 1.1-2 1.1-2.7 1.1-4.2 1-4.9 1.1-4 1.1-2.4 1.1-1.9 1-2.4 1.1-2.8 1.1-2.8 1.1-2.6 1-2.4 1.1-1.7 1.1-.9 1-.4 1.1 1.6 1.1 5.1 1.1 7.9 1 8.5 1.1 7.4 1.1 6.3 1.1 6.1 1 5.3 1.1 3 1.1 .9 1.1 1 1 2 1.1 1.6 1.1-.2 1.1-.8 1 .8 1.1 2.6 1.1 2.4 1.1 1.3 1 .9 1.1 1.3 1.1 1.4 1.1 1.2 1 2 1.1 2.9 1.1 2.7 1.1 .8 1-.5 1.1-.4 1.1 .1 1.1-.6 1-1.8 1.1-1.7 1.1-.4 1 0 1.1-.6 1.1-1.4 1.1-1.5 1-1.5 1.1-1.6 1.1-1.5 1.1-1.1 1-.8 1.1-.6 1.1 .3 1.1 1.5 1 2 1.1 1.4 1.1 .5 1.1 0 1-.8 1.1-2.7 1.1-4.2 1.1-4.1 1-2.8 1.1-2.1 1.1-2 1.1-.6 1 2.1 1.1 3.5 1.1 2.3 1.1 .5 1-.1 1.1 .2 1.1-.3 1-1 1.1-.4 1.1 1.2 1.1 1.8 1 .3 1.1-1.1 1.1-.9 1.1 .2 1 .2 1.1-.6 1.1-.4 1.1 .7 1 1 1.1 .1 1.1-.9 1.1-.7 1 .2 1.1 .7 1.1 .7 1.1 .1 1-.5 1.1-1 1.1-.7 1.1 .4 1 .9 1.1 .2 1.1-.5 1.1 .1 1 1 1.1 .7 1.1-.7 1-1.4 1.1-.7 1.1 .1 1.1 .3 1 .4 1.1 1.1 1.1 1 1.1-.2 1-1.4 1.1-1 1.1 .3 1.1 .6 1-.3 1.1-.4 1.1 .7 1.1 1.1 1-.3 1.1-1.3 1.1-.5 1.1 1.2 1 1.1 1.1-.4 1.1-1.3 1.1-.5 1 .7 1.1 .4 1.1-.3 1.1-.3 1 .1 1.1 .6 1.1 .5 1 .4 1.1-.1 1.1-1.1 1.1-1.4 1-.5 1.1 1 1.1 1.4 1.1 .6 1-.1 1.1-.1 1.1-.3 1.1-.8 1-.7 1.1 .1 1.1 .6 1.1 .3 1-.2 1.1 .3 1.1 .5 1.1-.1 1-.8 1.1-.3 1.1 .8 1.1 .6 1-.8 1.1-1.1 1.1 .3 1.1 1.3 1 .2 1.1-1.3 1.1-.8 1 1.2 1.1 1.8 1.1 .2 1.1-1.4 1-1.3 1.1-.4 1.1 .1 1.1 .3 1 .8 1.1 1.1 1.1 .4" fill="none" stroke="#3fd46c" stroke-width="1.25" stroke-linejoin="round" stroke-opacity="0.9"/>
<path d="M998.1 148.2l1.1-.7 1-.7 1.1 0 1.1 .6 1.1 .5 1 .1 1.1 0 1.1 0 1.1-.2 1-.6 1.1-.3 1.1 .4 1.1 .8 1 .4 1.1-.4 1.1-.7 1.1-.4 1 0 1.1 0 1.1 .4 1.1 .7 1 .8 1.1 0 1.1-.9 1.1-1.2 1-.4 1.1 .2 1.1 .6 1.1 .5 1 .6 1.1 .5 1.1-.2 1-.9 1.1-1 1.1-.2 1.1 .5 1 .2 1.1-.1 1.1-.4 1.1-.1 1-.3 1.1-.7 1.1-.6 1.1-.3 1-.4 1.1-1.1 1.1-2 1.1-2.2 1-1.8 1.1-1.4 1.1-1.6 1.1-1.9 1-2.1 1.1-2.4 1.1-3.3 1.1-4.1 1-4.1 1.1-3.3 1.1-2.5 1.1-2.5 1-2.6 1.1-2.4 1.1-2.1 1-2 1.1-2 1.1-1.4 1.1-.4 1 1.1 1.1 3.7 1.1 5.6 1.1 7.3 1 8.1 1.1 7.8 1.1 6.3 1.1 4.7 1 3.4 1.1 2.2 1.1 1.1 1.1 .1 1 .2 1.1 .9 1.1 1.1 1.1 .8 1 .4 1.1 .5 1.1 .8 1.1 .9 1 1 1.1 1.4 1.1 2.2 1.1 2.2 1 1.5 1.1 .9 1.1 .8 1.1 1 1 1 1.1 .5 1.1 .1 1 0 1.1-.3 1.1-1.1 1.1-1.7 1-1.4 1.1-.6 1.1-.3 1.1-.7 1-1.1 1.1-1.1 1.1-1 1.1-1.2 1-1.4 1.1-1 1.1-.3 1.1-.2 1-.6 1.1-1.1 1.1-.8 1.1-.2 1 .1 1.1 0 1.1 0 1.1 .2 1 0 1.1-.8 1.1-1.1 1.1-.6 1 .4 1.1 .8 1.1 .5 1 .3 1.1 .3 1.1-.1 1.1-.6 1-1 1.1-.5 1.1 .2 1.1 .7 1 .4 1.1 .1 1.1 .2 1.1 .2 1 0 1.1-.6 1.1-.4 1.1 0 1 .2 1.1 0 1.1-.3 1.1 .1 1 .5 1.1 .4 1.1-.1 1.1-.3 1-.1 1.1 .1 1.1-.2 1.1-.4 1-.2 1.1 .4 1.1 .4 1 0 1.1-.1 1.1 .1 1.1 .4 1 0 1.1-.5 1.1-.5 1.1 0 1 .2 1.1 0 1.1 0 1.1 .3 1 .6 1.1 .2 1.1-.6 1.1-.6 1-.2 1.1 .2 1.1 .2 1.1 .1 1 .2 1.1 .3 1.1 0 1.1-.6 1-.5 1.1 .1 1.1 .7 1.1 .5 1-.1 1.1-.3 1.1-.2 1-.3 1.1-.5 1.1-.3 1.1 .6 1 1 1.1 .6 1.1-.3 1.1-.6 1-.4 1.1-.2 1.1-.3 1.1-.1 1 .4 1.1 .7 1.1 .4 1.1-.4 1-.4 1.1-.1 1.1 .3 1.1 .1 1-.2 1.1-.3 1.1 .1 1.1-.1 1-.3 1.1-.1 1.1 .6 1.1 .9 1 .3 1.1-.4 1.1-.8 1-.5 1.1-.2 1.1-.2 1.1 .2 1 .7 1.1 .9 1.1 .3 1.1-.5 1-.7 1.1-.2 1.1 0" fill="none" stroke="#34c862" stroke-width="1.25" stroke-linejoin="round" stroke-opacity="0.9"/>
<path d="M998.1 147.3l1.1 1.3 1 .3 1.1-.6 1.1-.4 1.1 0 1-.2 1.1-1 1.1-.6 1.1 .6 1 1.3 1.1 .7 1.1-.2 1.1-.3 1 .1 1.1-.1 1.1-1 1.1-1.1 1 0 1.1 1.1 1.1 .9 1.1 .1 1 0 1.1 .4 1.1 .3 1.1-.6 1-1.3 1.1-.6 1.1 .4 1.1 .6 1-.1 1.1-.2 1.1 .5 1 .8 1.1 .1 1.1-.7 1.1-.6 1 .2 1.1 .3 1.1-.7 1.1-1.2 1-.6 1.1 .2 1.1-.2 1.1-.9 1-.9 1.1-.2 1.1-.2 1.1-1.4 1-2.7 1.1-2.8 1.1-2.4 1.1-2.7 1-3.6 1.1-3.7 1.1-2.8 1.1-2.2 1-3.1 1.1-4.3 1.1-4.5 1.1-4 1-4 1.1-4.5 1.1-4.6 1-3.2 1.1-1.7 1.1-1.4 1.1-1.5 1-1.1 1.1 .5 1.1 4 1.1 6.7 1 8.3 1.1 9.7 1.1 10.3 1.1 8.9 1 6.2 1.1 4 1.1 3.1 1.1 2.7 1 1.6 1.1 .5 1.1 .6 1.1 1.5 1 1.6 1.1 .6 1.1 0 1.1 .4 1 1.3 1.1 1.5 1.1 1.1 1.1 1.4 1 2.4 1.1 2.9 1.1 1.8 1.1 .3 1-.1 1.1 .1 1.1-.2 1-1.1 1.1-1.2 1.1-.3 1.1 .4 1-.1 1.1-1.3 1.1-1.5 1.1-1.1 1-.9 1.1-1.6 1.1-2 1.1-1.1 1 .1 1.1 .1 1.1-.8 1.1-1.1 1-.5 1.1-.1 1.1-.7 1.1-1.3 1-.8 1.1 .2 1.1 .6 1.1-.1 1-.6 1.1 0 1.1 .8 1.1 .3 1-.6 1.1-.7 1.1 .1 1 .4 1.1-.3 1.1-1 1.1-.4 1 .7 1.1 .8 1.1 .2 1.1 0 1 .5 1.1 .8 1.1-.2 1.1-1.4 1-1.3 1.1-.3 1.1 .4 1.1 .1 1 0 1.1 .9 1.1 1.6 1.1 .9 1-.6 1.1-1.3 1.1-.7 1.1-.3 1-.6 1.1-.7 1.1 .1 1.1 1.4 1 1.4 1.1 .3 1.1-.5 1-.2 1.1 .2 1.1-.4 1.1-1.1 1-.7 1.1 .5 1.1 .9 1.1 .1 1-.5 1.1 0 1.1 .7 1.1 .4 1-.4 1.1-.6 1.1 .2 1.1 .7 1-.1 1.1-.9 1.1-.6 1.1 .3 1 .6 1.1 0 1.1-.4 1.1 .4 1 1 1.1 .3 1.1-.8 1.1-1 1 0 1.1 .4 1.1-.1 1-.4 1.1 .1 1.1 1 1.1 .6 1-.4 1.1-1 1.1-.2 1.1 .5 1 .1 1.1-.5 1.1-.1 1.1 .8 1 .8 1.1-.3 1.1-.9 1.1-.5 1 .4 1.1 .2 1.1-.4 1.1-.3 1 .7 1.1 .9 1.1 .1 1.1-.8 1-.6 1.1 .4 1.1 .4 1.1-.4 1-.6 1.1 .3 1.1 .7 1 .2 1.1-.8 1.1-.6 1.1 .4 1 .8 1.1 .2 1.1-.4 1.1 .1 1 .7 1.1 0 1.1-1.1" fill="none" stroke="#34c862" stroke-width="1.25" stroke-linejoin="round" stroke-opacity="0.9"/>
<path d="M998.1 146.4l1.1 .2 1 1.4 1.1 .4 1.1-1.1 1.1-1.1 1 .6 1.1 1.5 1.1 .7 1.1-.6 1-.6 1.1 .1 1.1 .2 1.1-.3 1-.7 1.1-.5 1.1 0 1.1 .2 1 .6 1.1 .9 1.1 .5 1.1-.3 1-.7 1.1 0 1.1 .5 1.1-.2 1-1.3 1.1-1 1.1 .6 1.1 1.6 1 .5 1.1-.9 1.1-.8 1 .6 1.1 1.2 1.1-.1 1.1-1.5 1-1.1 1.1 .1 1.1 .6 1.1-.4 1-1.4 1.1-1.3 1.1-.6 1.1-.2 1-.7 1.1-1.4 1.1-1.6 1.1-1.8 1-1.8 1.1-2.1 1.1-2.6 1.1-3.4 1-3.9 1.1-3.4 1.1-2.3 1.1-2 1-2.9 1.1-3.3 1.1-2.7 1.1-1.4 1-1.4 1.1-2.5 1.1-3 1-1.9 1.1 .1 1.1 1.4 1.1 3.4 1 5.2 1.1 7.2 1.1 8.5 1.1 8 1 5.9 1.1 3.8 1.1 2.6 1.1 2.1 1 1.7 1.1 1 1.1 .2 1.1-.2 1 .1 1.1 1 1.1 1.4 1.1 1.1 1 .5 1.1 1 1.1 2.1 1.1 2.8 1 2.1 1.1 .8 1.1 .6 1.1 1.5 1 2.1 1.1 1.2 1.1 0 1.1-.3 1 .6 1.1 1.1 1.1 .2 1-1 1.1-1.7 1.1-1.5 1.1-1.2 1-1.3 1.1-1.7 1.1-1.8 1.1-1.4 1-.7 1.1-.1 1.1-.1 1.1-1 1-1.5 1.1-1.2 1.1-.2 1.1 0 1-1 1.1-1.7 1.1-.9 1.1 .5 1 .9 1.1-.3 1.1-1.2 1.1-.4 1 1 1.1 1.3 1.1-.1 1.1-1 1-.6 1.1 .4 1.1 .4 1-.6 1.1-1.1 1.1-.5 1.1 .4 1 .8 1.1 .7 1.1 .4 1.1 .3 1-.2 1.1-.1 1.1 0 1.1-.2 1-.9 1.1-1.3 1.1-.3 1.1 1.1 1 1.4 1.1 0 1.1-.8 1.1 .1 1 1.3 1.1 .8 1.1-1 1.1-1.8 1-.5 1.1 1.1 1.1 .8 1.1-.7 1-1.2 1.1 .2 1.1 1.3 1 .8 1.1-.4 1.1-.5 1.1 .2 1 .6 1.1 0 1.1-.5 1.1-.5 1-.5 1.1-.5 1.1-.2 1.1 .6 1 .9 1.1 .2 1.1-.3 1.1 .3 1 1.2 1.1 .6 1.1-1.3 1.1-2 1-.6 1.1 1.1 1.1 .7 1.1-.8 1-.9 1.1 .9 1.1 2.1 1.1 .9 1-1.1 1.1-1.4 1.1 0 1 .8 1.1-.1 1.1-1.2 1.1-.7 1 .4 1.1 .9 1.1 .3 1.1-.1 1 .1 1.1 .2 1.1 .1 1.1 .1 1 .3 1.1 .1 1.1-.8 1.1-1.1 1-.3 1.1 .8 1.1 .4 1.1-.7 1-.7 1.1 .9 1.1 2.1 1.1 .8 1-1.2 1.1-1.5 1.1 .1 1.1 1 1-.4 1.1-1.8 1.1-1.1 1 1.1 1.1 1.9 1.1 .6 1.1-.5 1-.3 1.1 .6 1.1 .5 1.1-.5 1-1.1 1.1-.6 1.1-.1" fill="none" stroke="#52d87a" stroke-width="1.25" stroke-linejoin="round" stroke-opacity="0.9"/>
<path d="M1072.6 74.2l.9-4.2 .5-2.5 .5 3.3 .6 5" fill="none" stroke="#f07070" stroke-width="1.6" stroke-linejoin="round" stroke-opacity="0.8"/>
<path d="M1331.8 147.7l1.1 0 1.1 .1 1 0 1.1-.1 1.1-.2 1.1-.2 1 .1 1.1 .2 1.1 .2 1.1 0 1.1-.1 1 0 1.1 .1 1.1 .1 1.1-.1 1-.3 1.1-.3 1.1 0 1.1 .3 1 .4 1.1 .2 1.1-.1 1.1-.3 1.1-.2 1-.1 1.1 .1 1.1 0 1.1 .1 1 .1 1.1 .1 1.1-.1 1.1-.2 1.1-.1 1 .1 1.1 0 1.1 0 1.1-.4 1-.5 1.1-.4 1.1-.4 1.1-.4 1.1-.8 1-1.2 1.1-1.6 1.1-1.8 1.1-2.1 1-2.5 1.1-3.2 1.1-3.7 1.1-4 1-4.2 1.1-4.4 1.1-4.7 1.1-5.1 1.1-5.2 1-5 1.1-4.5 1.1-3.7 1.1-2.9 1-2 1.1-1 1.1-.2 1.1 .9 1.1 1.8 1 2.8 1.1 4 1.1 4.8 1.1 5.3 1 5.3 1.1 5.1 1.1 5.2 1.1 5.1 1.1 5 1 4.5 1.1 3.7 1.1 3.1 1.1 2.7 1 2.4 1.1 2.3 1.1 2 1.1 1.6 1 1.5 1.1 1.5 1.1 1.5 1.1 1.4 1.1 1.1 1 1 1.1 .9 1.1 1 1.1 1.1 1 1.1 1.1 1 1.1 .8 1.1 .7 1.1 .4 1 0 1.1-.2 1.1-.2 1.1 .1 1 0 1.1-.2 1.1-.5 1.1-.6 1.1-.5 1-.3 1.1-.1 1.1-.5 1.1-.7 1-.9 1.1-.9 1.1-.6 1.1-.6 1-.5 1.1-.7 1.1-.5 1.1-.6 1.1-.5 1-.6 1.1-.7 1.1-.7 1.1-.5 1-.4 1.1-.4 1.1-.4 1.1-.4 1.1-.2 1-.3 1.1-.3 1.1-.5 1.1-.3 1-.1 1.1 .1 1.1 0 1.1-.3 1.1-.5 1-.4 1.1 0 1.1 .3 1.1 .2 1 0 1.1-.3 1.1-.2 1.1-.2 1 .1 1.1 .1 1.1 0 1.1 0 1.1-.1 1 0 1.1 0 1.1-.1 1.1 0 1 .1 1.1 .1 1.1 .1 1.1-.2 1.1-.1 1-.1 1.1 .1 1.1 0 1.1 0 1-.1 1.1 0 1.1 .3 1.1 .2 1.1 0 1-.3 1.1-.3 1.1-.2 1.1 .2 1 .3 1.1 .2 1.1-.1 1.1-.1 1.1-.2 1 .1 1.1 .1 1.1 .1 1.1-.1 1 0 1.1-.1 1.1-.1 1.1-.1 1 0 1.1 .2 1.1 .3 1.1 .2 1.1-.2 1-.3 1.1-.2 1.1 0 1.1 .2 1 .1 1.1-.1 1.1 0 1.1 0 1.1 .2 1 .2 1.1-.2 1.1-.3 1.1-.2 1 .1 1.1 .2 1.1 .2 1.1 .1 1.1-.2 1-.1 1.1-.1 1.1 .1 1.1 .1 1 0 1.1 0 1.1 0 1.1-.1 1-.1 1.1-.1 1.1 .1 1.1 .3 1.1 .2 1 0 1.1-.3 1.1-.4 1.1 0 1 .2 1.1 .3 1.1 .1 1.1-.1 1.1-.2 1 0 1.1 .1 1.1 0 1.1-.1 1-.2" fill="none" stroke="#f3a87a" stroke-width="1.4" stroke-linejoin="round" stroke-opacity="0.85"/>
<path d="M1331.8 147.8l1.1-.1 1.1-.1 1 0 1.1-.1 1.1 0 1.1-.1 1 .1 1.1 .2 1.1 .2 1.1 .1 1.1-.1 1-.2 1.1-.1 1.1-.1 1.1-.1 1-.1 1.1 .1 1.1 .2 1.1 .3 1 .1 1.1-.1 1.1-.1 1.1-.1 1.1-.1 1-.1 1.1-.1 1.1 0 1.1 .2 1 .2 1.1 .1 1.1-.1 1.1-.2 1.1-.1 1 0 1.1-.2 1.1-.1 1.1-.1 1 0 1.1-.1 1.1-.4 1.1-.7 1.1-.8 1-.9 1.1-1.1 1.1-1.4 1.1-1.6 1-1.9 1.1-2.1 1.1-2.6 1.1-3.2 1-3.7 1.1-3.9 1.1-4.1 1.1-4 1.1-4 1-3.8 1.1-3.4 1.1-2.9 1.1-2.4 1-2 1.1-1.4 1.1-.6 1.1 .4 1.1 1.5 1 2.3 1.1 3.1 1.1 3.7 1.1 4.3 1 4.4 1.1 4.3 1.1 4.2 1.1 3.9 1.1 3.8 1 3.6 1.1 3.3 1.1 2.9 1.1 2.6 1 2.4 1.1 2 1.1 1.7 1.1 1.3 1 1.3 1.1 1.4 1.1 1.4 1.1 1.4 1.1 1.4 1 1.3 1.1 1.3 1.1 1.2 1.1 .9 1 .8 1.1 .7 1.1 .7 1.1 .8 1.1 .5 1 .4 1.1 .1 1.1 .1 1.1-.1 1-.4 1.1-.6 1.1-.5 1.1-.4 1.1-.3 1-.4 1.1-.5 1.1-.5 1.1-.6 1-.6 1.1-.8 1.1-.9 1.1-.8 1-.7 1.1-.5 1.1-.6 1.1-.7 1.1-.6 1-.6 1.1-.6 1.1-.6 1.1-.7 1-.6 1.1-.3 1.1-.3 1.1-.3 1.1-.4 1-.4 1.1-.3 1.1-.3 1.1-.4 1-.4 1.1-.2 1.1 0 1.1 0 1.1 0 1-.1 1.1-.2 1.1-.1 1.1-.1 1-.1 1.1-.3 1.1-.1 1.1 .1 1 .1 1.1 0 1.1 0 1.1 0 1.1 0 1 0 1.1 0 1.1-.1 1.1-.1 1 .1 1.1 0 1.1 0 1.1-.1 1.1-.1 1 .1 1.1 0 1.1 .1 1.1 0 1 0 1.1 .1 1.1 .1 1.1-.1 1.1-.2 1-.1 1.1 0 1.1 0 1.1 .1 1 0 1.1 0 1.1 .2 1.1 .1 1.1-.1 1-.1 1.1-.1 1.1 0 1.1 0 1 0 1.1 0 1.1 0 1.1 0 1 .1 1.1 0 1.1-.1 1.1 0 1.1 .1 1 .1 1.1 0 1.1-.1 1.1-.1 1 0 1.1 0 1.1-.1 1.1-.1 1.1 0 1 .2 1.1 .3 1.1 .1 1.1-.1 1-.1 1.1-.1 1.1-.1 1.1-.2 1.1-.1 1 0 1.1 .2 1.1 .2 1.1 .2 1 0 1.1 0 1.1-.1 1.1 0 1-.2 1.1-.2 1.1-.1 1.1 .2 1.1 .2 1 .1 1.1-.1 1.1 0 1.1 0 1 0 1.1 0 1.1-.1 1.1 0 1.1 .1 1 .1 1.1 0 1.1-.1 1.1-.2 1-.1" fill="none" stroke="#ee9460" stroke-width="1.4" stroke-linejoin="round" stroke-opacity="0.85"/>
<path d="M1331.8 147.6l1.1 .1 1.1 .1 1-.1 1.1-.1 1.1-.2 1.1 .1 1 .1 1.1 .1 1.1 0 1.1 0 1.1 .1 1 0 1.1-.1 1.1-.1 1.1-.1 1 0 1.1 .1 1.1 0 1.1 0 1 .1 1.1 .1 1.1 .1 1.1-.1 1.1-.2 1-.1 1.1 0 1.1 .1 1.1 0 1 .1 1.1 0 1.1 0 1.1 0 1.1-.1 1-.1 1.1 0 1.1 0 1.1 .1 1-.2 1.1-.2 1.1-.3 1.1-.3 1.1-.4 1-.5 1.1-.7 1.1-.8 1.1-1 1-1.2 1.1-1.8 1.1-2.1 1.1-2.4 1-2.6 1.1-2.9 1.1-3.2 1.1-3.3 1.1-3.4 1-3.6 1.1-3.6 1.1-3.6 1.1-3.2 1-2.5 1.1-1.7 1.1-1 1.1-.6 1.1 0 1 .7 1.1 1.5 1.1 2.2 1.1 3.1 1 3.7 1.1 4.2 1.1 4.2 1.1 3.8 1.1 3.5 1 3.3 1.1 3.3 1.1 3.3 1.1 3.1 1 2.8 1.1 2.3 1.1 1.9 1.1 1.6 1 1.5 1.1 1.5 1.1 1.7 1.1 1.9 1.1 1.6 1 1.3 1.1 .8 1.1 .8 1.1 1 1 1.2 1.1 1.2 1.1 1.1 1.1 .8 1.1 .4 1 .1 1.1-.2 1.1-.3 1.1-.1 1 0 1.1-.1 1.1-.4 1.1-.6 1.1-.6 1-.5 1.1-.3 1.1-.5 1.1-.6 1-.8 1.1-.8 1.1-.9 1.1-.8 1-.8 1.1-.6 1.1-.5 1.1-.5 1.1-.7 1-.8 1.1-.6 1.1-.4 1.1-.5 1-.6 1.1-.7 1.1-.6 1.1-.5 1.1-.4 1-.2 1.1-.1 1.1 0 1.1 0 1-.4 1.1-.5 1.1-.6 1.1-.2 1.1 0 1 .1 1.1 0 1.1-.1 1.1-.1 1-.1 1.1-.1 1.1-.1 1.1 .1 1 .1 1.1 0 1.1-.1 1.1-.3 1.1-.3 1 0 1.1 .2 1.1 .3 1.1 .2 1 .1 1.1 0 1.1-.2 1.1-.3 1.1-.3 1-.1 1.1 .1 1.1 .3 1.1 .2 1 .1 1.1 0 1.1-.1 1.1-.1 1.1-.1 1-.1 1.1 0 1.1 .2 1.1 .1 1-.1 1.1-.2 1.1-.1 1.1 0 1.1 .3 1 .2 1.1 .1 1.1 0 1.1-.1 1-.3 1.1-.4 1.1-.2 1.1 .2 1 .4 1.1 .4 1.1 .2 1.1-.2 1.1-.3 1-.2 1.1-.1 1.1 0 1.1 .2 1 .1 1.1 .1 1.1-.1 1.1-.2 1.1-.1 1 .1 1.1 .3 1.1 .2 1.1 0 1-.3 1.1-.2 1.1-.2 1.1 0 1.1 .2 1 .1 1.1 .2 1.1 .1 1.1 0 1-.2 1.1-.1 1.1 0 1.1 .1 1 0 1.1-.1 1.1-.2 1.1 0 1.1 .1 1 .3 1.1 .1 1.1 .1 1.1-.2 1-.1 1.1-.3 1.1-.1 1.1 .1 1.1 .3 1 .2 1.1 .1 1.1-.3 1.1-.3 1 0" fill="none" stroke="#f6b48c" stroke-width="1.4" stroke-linejoin="round" stroke-opacity="0.85"/>
<path d="M1331.8 147.6l1.1-.3 1.1-.1 1 .2 1.1 .4 1.1 .2 1.1 0 1-.3 1.1-.2 1.1-.1 1.1 .1 1.1 .1 1 .1 1.1 .1 1.1 0 1.1 .1 1 0 1.1-.2 1.1-.2 1.1-.3 1-.1 1.1 .3 1.1 .4 1.1 .3 1.1 .1 1-.2 1.1-.3 1.1-.2 1.1-.1 1 0 1.1 0 1.1 0 1.1 0 1.1 .1 1 .2 1.1 .1 1.1-.2 1.1-.3 1-.4 1.1-.4 1.1-.3 1.1-.5 1.1-.7 1-1 1.1-1.3 1.1-1.4 1.1-1.5 1-1.8 1.1-2.3 1.1-2.8 1.1-3.2 1-3.5 1.1-3.6 1.1-3.6 1.1-3.8 1.1-3.8 1-3.6 1.1-3.3 1.1-2.7 1.1-2 1-1.3 1.1-.7 1.1 0 1.1 .9 1.1 1.9 1 2.5 1.1 3 1.1 3.3 1.1 3.6 1 3.8 1.1 4.3 1.1 4.3 1.1 4.2 1.1 3.7 1 3.2 1.1 2.6 1.1 2.3 1.1 2 1 1.7 1.1 1.6 1.1 1.4 1.1 1.5 1 1.5 1.1 1.5 1.1 1.4 1.1 1.1 1.1 .8 1 .8 1.1 1 1.1 1.2 1.1 1.2 1 1 1.1 .8 1.1 .5 1.1 .4 1.1 .3 1 .3 1.1 .2 1.1 0 1.1-.1 1-.2 1.1-.1 1.1-.2 1.1-.5 1.1-.7 1-.8 1.1-.6 1.1-.4 1.1-.2 1-.4 1.1-.6 1.1-.7 1.1-.7 1-.7 1.1-.5 1.1-.6 1.1-.8 1.1-.8 1-.6 1.1-.5 1.1-.3 1.1-.3 1-.4 1.1-.5 1.1-.4 1.1-.4 1.1-.3 1-.3 1.1-.4 1.1-.5 1.1-.3 1 0 1.1 0 1.1 .1 1.1-.2 1.1-.3 1-.3 1.1-.2 1.1 0 1.1 .1 1 .1 1.1 0 1.1-.1 1.1-.1 1-.1 1.1-.1 1.1-.1 1.1-.2 1.1 0 1 .2 1.1 .3 1.1 .3 1.1 0 1-.3 1.1-.4 1.1-.2 1.1-.1 1.1 .2 1 .2 1.1 .2 1.1 0 1.1 0 1 0 1.1 0 1.1-.1 1.1-.1 1.1-.1 1 0 1.1 .1 1.1 .2 1.1 .1 1-.2 1.1-.2 1.1-.2 1.1 .1 1.1 .2 1 .3 1.1 .1 1.1-.1 1.1-.2 1-.1 1.1 0 1.1 0 1.1-.1 1-.1 1.1 0 1.1 .1 1.1 .2 1.1 .2 1 .1 1.1-.1 1.1-.2 1.1-.1 1 .1 1.1 0 1.1-.1 1.1-.2 1.1-.2 1 .1 1.1 .3 1.1 .3 1.1 .2 1 0 1.1-.3 1.1-.2 1.1-.1 1.1 0 1 0 1.1-.1 1.1 0 1.1 .1 1 .2 1.1 .2 1.1 0 1.1-.1 1-.2 1.1-.1 1.1 .1 1.1 .2 1.1 .1 1-.1 1.1-.3 1.1-.2 1.1 0 1 .1 1.1 .3 1.1 .1 1.1 .1 1.1 0 1 0 1.1 0 1.1-.2 1.1-.3 1-.2" fill="none" stroke="#e98a55" stroke-width="1.4" stroke-linejoin="round" stroke-opacity="0.85"/>
<path d="M1331.8 147.5l1.1 .1 1.1 0 1 .2 1.1 .2 1.1-.1 1.1-.2 1-.2 1.1 0 1.1 .1 1.1 0 1.1 .1 1 0 1.1-.2 1.1-.1 1.1 .1 1 .2 1.1 .1 1.1 0 1.1 .1 1 .1 1.1-.3 1.1-.4 1.1-.1 1.1 .3 1 .2 1.1 0 1.1 0 1.1 0 1 0 1.1-.1 1.1 .1 1.1 0 1.1 0 1-.2 1.1-.2 1.1-.2 1.1-.2 1-.4 1.1-.3 1.1-.2 1.1-.5 1.1-1.1 1-1.1 1.1-1.3 1.1-1.6 1.1-2.2 1-2.6 1.1-2.9 1.1-3.2 1.1-3.6 1-3.8 1.1-4 1.1-4.1 1.1-4.3 1.1-4.1 1-3.8 1.1-3.4 1.1-3 1.1-2.3 1-1.2 1.1-.5 1.1 .2 1.1 1.2 1.1 2.3 1 3.3 1.1 3.7 1.1 4.1 1.1 4.5 1 4.8 1.1 4.5 1.1 4.3 1.1 4 1.1 3.7 1 3.2 1.1 3 1.1 2.7 1.1 2.5 1 2.1 1.1 1.7 1.1 1.6 1.1 1.5 1 1.1 1.1 1 1.1 1.3 1.1 1.4 1.1 1.2 1 .9 1.1 .9 1.1 1.1 1.1 1.1 1 1 1.1 1 1.1 1 1.1 .6 1.1 .3 1-.1 1.1-.1 1.1-.2 1.1-.1 1 0 1.1 0 1.1-.3 1.1-.7 1.1-.5 1-.3 1.1-.4 1.1-.6 1.1-.6 1-.5 1.1-.6 1.1-.9 1.1-.9 1-.8 1.1-.5 1.1-.5 1.1-.5 1.1-.4 1-.5 1.1-.7 1.1-.6 1.1-.5 1-.6 1.1-.6 1.1-.4 1.1-.2 1.1-.2 1-.4 1.1-.6 1.1-.2 1.1 0 1-.1 1.1-.1 1.1-.1 1.1-.1 1.1-.3 1-.4 1.1-.3 1.1 0 1.1 0 1 .1 1.1 .2 1.1 0 1.1-.2 1-.2 1.1 0 1.1 .2 1.1 0 1.1-.2 1-.1 1.1 0 1.1 0 1.1-.2 1 0 1.1 .3 1.1 .2 1.1 0 1.1-.1 1 0 1.1-.1 1.1-.1 1.1 0 1 0 1.1-.1 1.1-.1 1.1 0 1.1 .3 1 .1 1.1-.1 1.1 0 1.1 .1 1 .1 1.1-.2 1.1-.2 1.1 .1 1.1 .1 1-.1 1.1-.1 1.1 0 1.1 .1 1 0 1.1 .1 1.1 .2 1.1 0 1-.2 1.1-.1 1.1 .1 1.1 0 1.1-.3 1-.1 1.1 .2 1.1 .2 1.1 .1 1-.1 1.1 .1 1.1 .1 1.1-.1 1.1-.2 1-.1 1.1 .1 1.1 .1 1.1 0 1-.1 1.1-.1 1.1-.1 1.1 0 1.1 .3 1 .3 1.1 .1 1.1-.2 1.1-.2 1-.1 1.1-.2 1.1-.1 1.1 .1 1 .3 1.1 .2 1.1-.1 1.1-.2 1.1 0 1 0 1.1 .1 1.1 .1 1.1 .1 1-.1 1.1-.2 1.1-.2 1.1 0 1.1 0 1 0 1.1 .2 1.1 .4 1.1 .1 1-.3" fill="none" stroke="#f3a87a" stroke-width="1.4" stroke-linejoin="round" stroke-opacity="0.85"/>
<path d="M1331.8 147.4l1.1 0 1.1 .2 1-.2 1.1-.1 1.1 .2 1.1 .5 1 .2 1.1-.3 1.1-.4 1.1-.1 1.1 .2 1 0 1.1-.1 1.1 0 1.1 .2 1 .2 1.1-.1 1.1-.2 1.1 0 1 .1 1.1-.2 1.1-.1 1.1 .2 1.1 .4 1 .1 1.1-.4 1.1-.3 1.1 0 1 .2 1.1 0 1.1-.2 1.1 0 1.1 .4 1 .2 1.1-.1 1.1-.3 1.1-.3 1-.3 1.1-.4 1.1-.4 1.1-.2 1.1-.1 1-.5 1.1-1.1 1.1-1.2 1.1-1.2 1-1.6 1.1-2.2 1.1-2.8 1.1-2.7 1-2.4 1.1-2.8 1.1-3.4 1.1-3.6 1.1-3.5 1-3.2 1.1-3.3 1.1-3 1.1-2.3 1-1.6 1.1-1.2 1.1-.6 1.1 .2 1.1 1.3 1 1.9 1.1 2.2 1.1 2.6 1.1 3.5 1 4.1 1.1 4.1 1.1 3.6 1.1 3.3 1.1 3.5 1 3.3 1.1 2.7 1.1 2.3 1.1 2.1 1 2.3 1.1 2 1.1 1.7 1.1 1.5 1 1.6 1.1 1.3 1.1 1 1.1 .8 1.1 1.2 1 1.4 1.1 1.2 1.1 .8 1.1 .9 1 1.3 1.1 1.2 1.1 .7 1.1 .2 1.1 .3 1 .4 1.1 .2 1.1-.2 1.1-.3 1-.2 1.1-.2 1.1-.5 1.1-.5 1.1-.2 1-.2 1.1-.5 1.1-.7 1.1-.7 1-.3 1.1-.5 1.1-1 1.1-1.1 1-.8 1.1-.3 1.1-.4 1.1-.7 1.1-.7 1-.4 1.1-.3 1.1-.6 1.1-.7 1-.5 1.1-.4 1.1-.5 1.1-.6 1.1-.4 1 0 1.1-.2 1.1-.4 1.1-.5 1-.1 1.1 .3 1.1 0 1.1-.4 1.1-.4 1-.1 1.1 0 1.1-.2 1.1-.4 1-.1 1.1 .2 1.1 .2 1.1 0 1 .1 1.1 .2 1.1 0 1.1-.4 1.1-.4 1 0 1.1 .2 1.1 0 1.1-.2 1-.1 1.1 .4 1.1 .4 1.1-.1 1.1-.3 1-.2 1.1 .2 1.1 .1 1.1-.1 1-.1 1.1 .1 1.1 0 1.1-.2 1.1-.2 1 .2 1.1 .2 1.1 .1 1.1-.2 1 .1 1.1 .4 1.1 .1 1.1-.3 1.1-.6 1-.2 1.1 .2 1.1 .2 1.1 0 1 0 1.1 .4 1.1 .3 1.1-.1 1-.2 1.1-.2 1.1-.1 1.1-.2 1.1-.3 1 .1 1.1 .5 1.1 .3 1.1-.2 1-.2 1.1 0 1.1 .3 1.1 0 1.1-.3 1-.2 1.1 .2 1.1 .3 1.1-.1 1-.2 1.1-.2 1.1 .1 1.1 0 1.1-.1 1 .2 1.1 .4 1.1 .2 1.1-.2 1-.3 1.1-.1 1.1 .1 1.1-.2 1-.5 1.1 0 1.1 .5 1.1 .5 1.1 .2 1-.2 1.1-.1 1.1 0 1.1-.2 1-.3 1.1-.2 1.1 .2 1.1 .2 1.1 0 1 0 1.1 .3 1.1 .2 1.1-.2 1-.5" fill="none" stroke="#ee9460" stroke-width="1.4" stroke-linejoin="round" stroke-opacity="0.85"/>
<path d="M1331.8 148.6l1.1-.3 1.1-.8 1-.9 1.1-.4 1.1 .4 1.1 1.1 1 1.2 1.1 .5 1.1-.4 1.1-1.3 1.1-1.3 1-.6 1.1 .5 1.1 1.3 1.1 1.4 1 .6 1.1-.7 1.1-1.5 1.1-1.5 1-.5 1.1 .8 1.1 1.7 1.1 1.8 1.1 .7 1-.7 1.1-1.8 1.1-2.1 1.1-1.1 1 .3 1.1 1.5 1.1 2 1.1 1.4 1.1 .3 1-.9 1.1-1.4 1.1-1.2 1.1-.5 1 .2 1.1 .6 1.1 .5 1.1 .2 1.1-.1 1 0 1.1 .2 1.1 .3 1.1 .1 1-.4 1.1-1.1 1.1-1.6 1.1-1.6 1-1.6 1.1-1.4 1.1-1.8 1.1-2.7 1.1-4 1-5.1 1.1-5.7 1.1-5.5 1.1-4.7 1-3.7 1.1-3 1.1-2.6 1.1-2.1 1.1-1.3 1 .4 1.1 2.5 1.1 4.9 1.1 6.6 1 7.2 1.1 6.3 1.1 4.8 1.1 2.9 1.1 1.7 1 1.6 1.1 2 1.1 2.8 1.1 3 1 2.7 1.1 1.7 1.1 .6 1.1-.2 1-.3 1.1 .1 1.1 .7 1.1 1.3 1.1 1.4 1 1.3 1.1 1.1 1.1 .8 1.1 .9 1 .9 1.1 1.1 1.1 1 1.1 .9 1.1 .5 1 .2 1.1 0 1.1-.1 1.1-.3 1-.4 1.1-.8 1.1-.8 1.1-.7 1.1-.4 1-.1 1.1 .1 1.1-.1 1.1-.6 1-1.3 1.1-1.7 1.1-1.7 1.1-1.2 1-.3 1.1 .5 1.1 .7 1.1 .5 1.1-.4 1-1.3 1.1-1.7 1.1-1.6 1.1-.9 1 .2 1.1 .9 1.1 1.1 1.1 .8 1.1 0 1-.8 1.1-1.2 1.1-1.2 1.1-.6 1 .2 1.1 .7 1.1 .8 1.1 .6 1.1 .1 1-.3 1.1-.7 1.1-.5 1.1-.2 1 .3 1.1 .5 1.1 .4 1.1 .1 1-.3 1.1-.5 1.1-.6 1.1-.3 1.1 .1 1 .6 1.1 .8 1.1 .7 1.1 .3 1-.2 1.1-.7 1.1-.9 1.1-.8 1.1-.5 1 .1 1.1 .5 1.1 1 1.1 .9 1 .8 1.1 .2 1.1-.4 1.1-.9 1.1-1.2 1-1 1.1-.4 1.1 .4 1.1 1 1 1.3 1.1 .9 1.1 .2 1.1-.6 1.1-1 1-.9 1.1-.4 1.1 .3 1.1 .8 1 .8 1.1 .2 1.1-.5 1.1-1 1-.8 1.1-.1 1.1 .7 1.1 1.3 1.1 1.2 1 .5 1.1-.6 1.1-1.4 1.1-1.6 1-1 1.1 .1 1.1 1 1.1 1.4 1.1 1.3 1 .5 1.1-.3 1.1-.9 1.1-1 1-.6 1.1-.2 1.1 .2 1.1 .4 1.1 .3 1 .2 1.1 .2 1.1 .3 1.1 .2 1 0 1.1-.3 1.1-.7 1.1-.6 1-.3 1.1 .3 1.1 .8 1.1 .9 1.1 .5 1-.3 1.1-1 1.1-1.1 1.1-.5 1 .3 1.1 1.2 1.1 1.2 1.1 .7 1.1-.4 1-1.3 1.1-1.5 1.1-.8 1.1 .4 1 1.4" fill="none" stroke="#34c862" stroke-width="1.25" stroke-linejoin="round" stroke-opacity="0.85"/>
<path d="M1331.8 149.3l1.1-1.3 1.1-1.6 1-.2 1.1 1.2 1.1 1.1 1.1-.1 1-.8 1.1 0 1.1 .7 1.1 .3 1.1-.9 1-1.4 1.1-.4 1.1 1 1.1 1 1 .3 1.1-.2 1.1 .4 1.1 .8 1 0 1.1-1.4 1.1-1.9 1.1-.6 1.1 1.1 1 1.4 1.1 .5 1.1-.4 1.1 .1 1 .9 1.1 .6 1.1-.9 1.1-2 1.1-1.1 1 .6 1.1 1.5 1.1 .7 1.1-.4 1-.4 1.1 .6 1.1 .8 1.1-.2 1.1-1.3 1-1.1 1.1 .3 1.1 1.2 1.1 .6 1-.5 1.1-.6 1.1 .1 1.1 .6 1-.2 1.1-1 1.1-.8 1.1 .4 1.1 .9 1-.3 1.1-2.2 1.1-2.9 1.1-2.2 1-1.8 1.1-3 1.1-4.8 1.1-5.6 1.1-4.5 1-3.1 1.1-3.2 1.1-4.3 1.1-4.6 1-2.9 1.1-.1 1.1 1.7 1.1 2.6 1.1 3.3 1 4.7 1.1 6.3 1.1 6.4 1.1 5.6 1 4.8 1.1 5 1.1 5.2 1.1 4.5 1 2.7 1.1 1.8 1.1 2.2 1.1 3.2 1.1 2.6 1 .4 1.1-1.2 1.1-.8 1.1 1.1 1 1.9 1.1 .6 1.1-1.4 1.1-2 1.1-1.1 1-.1 1.1-.5 1.1-1.5 1.1-1.5 1-.7 1.1 .2 1.1 0 1.1-.8 1.1-.9 1-.7 1.1-.9 1.1-1.8 1.1-2.5 1-1.3 1.1 .8 1.1 1.8 1.1 .7 1-1.3 1.1-1.9 1.1-.5 1.1 .9 1.1 .6 1-1.2 1.1-2.1 1.1-.8 1.1 1.1 1 1.9 1.1 .8 1.1-.7 1.1-1.2 1.1-.5 1-.1 1.1-.1 1.1 0 1.1 .6 1 1 1.1 .3 1.1-1.1 1.1-1.2 1.1-.1 1 1.2 1.1 .8 1.1-.8 1.1-1.6 1-.3 1.1 1.9 1.1 2.4 1.1 .3 1-2.1 1.1-2.5 1.1-.7 1.1 1.2 1.1 1.4 1 .3 1.1-.4 1.1 0 1.1 .5 1 .4 1.1-.3 1.1-.5 1.1-.1 1.1-.2 1-.7 1.1-.9 1.1 .3 1.1 1.8 1 1.8 1.1 0 1.1-2.1 1.1-1.9 1.1 .3 1 2.1 1.1 1.5 1.1-.9 1.1-2.1 1-1.1 1.1 1 1.1 1.7 1.1 .6 1.1-.9 1-.9 1.1 0 1.1 .8 1.1 .5 1 0 1.1-.3 1.1-.3 1.1-.7 1-1.1 1.1-.4 1.1 1.2 1.1 2.3 1.1 1.2 1-1.1 1.1-2.2 1.1-1 1.1 1.1 1 1.6 1.1 0 1.1-1.9 1.1-1.5 1.1 .8 1 2.4 1.1 1.6 1.1-.5 1.1-1.9 1-1.3 1.1 0 1.1 .7 1.1 .5 1.1 .3 1 .5 1.1 .1 1.1-.7 1.1-1 1-.3 1.1 1 1.1 1.1 1.1-.2 1-1.4 1.1-.8 1.1 1.1 1.1 2.3 1.1 .8 1-1.9 1.1-2.9 1.1-1.2 1.1 1.5 1 2.4 1.1 1.1 1.1-.5 1.1-.9 1.1 0 1 .3 1.1-.1 1.1-.9 1.1-.7 1-.1" fill="none" stroke="#3fd46c" stroke-width="1.25" stroke-linejoin="round" stroke-opacity="0.85"/>
<path d="M1331.8 146l1.1 .3 1.1 1.8 1 2.1 1.1 .4 1.1-1.6 1.1-2.5 1-1.4 1.1 .3 1.1 1.4 1.1 1.3 1.1 .6 1 .1 1.1-.1 1.1-.4 1.1-.8 1-.8 1.1-.3 1.1 .6 1.1 .8 1 .5 1.1-.2 1.1-.3 1.1 0 1.1 .3 1-.1 1.1-.8 1.1-.9 1.1 .1 1 1.2 1.1 1.5 1.1 .3 1.1-1.1 1.1-1.5 1-.5 1.1 .7 1.1 1 1.1 .4 1-.5 1.1-.6 1.1-.1 1.1 .2 1.1 .2 1-.1 1.1 .2 1.1 .6 1.1 .5 1-.2 1.1-1.4 1.1-1.7 1.1-.9 1 .4 1.1 .7 1.1 0 1.1-1.4 1.1-2.3 1-2.8 1.1-3.3 1.1-4.4 1.1-5.4 1-5.4 1.1-4.3 1.1-2.8 1.1-1.9 1.1-1.8 1-1.9 1.1-1.1 1.1 .2 1.1 1.6 1 2.5 1.1 3.3 1.1 4.4 1.1 5.5 1.1 5.7 1 4.5 1.1 2.7 1.1 1.6 1.1 1.9 1 2.7 1.1 2.7 1.1 1.3 1.1-.3 1-.9 1.1-.2 1.1 .9 1.1 1.5 1.1 1.2 1 .5 1.1 .5 1.1 .8 1.1 1 1 .6 1.1 .3 1.1 .5 1.1 1.1 1.1 1.8 1 1.9 1.1 1.7 1.1 1.6 1.1 1.6 1 1 1.1-.2 1.1-1.4 1.1-1.4 1.1 .1 1 1.8 1.1 2 1.1 .3 1.1-1.9 1-2.8 1.1-2 1.1-.3 1.1 .6 1 .1 1.1-1 1.1-1.4 1.1-.9 1.1-.3 1-.4 1.1-1 1.1-1.4 1.1-1.3 1-.8 1.1-.4 1.1-.2 1.1 0 1.1 .2 1 0 1.1-.6 1.1-1.2 1.1-1 1 0 1.1 1.1 1.1 .9 1.1-.6 1.1-2.1 1-1.8 1.1 0 1.1 2.2 1.1 2.5 1 1 1.1-1.2 1.1-2.1 1.1-1.5 1-.2 1.1 .6 1.1 .3 1.1 .1 1.1 .4 1 .8 1.1 .8 1.1 .4 1.1-.5 1-.9 1.1-.9 1.1-.8 1.1-.4 1.1 .2 1 1 1.1 1.6 1.1 1.2 1.1-.4 1-1.7 1.1-1.7 1.1-.1 1.1 1.4 1.1 1.6 1 .2 1.1-1.4 1.1-1.7 1.1-.3 1 1.2 1.1 1.5 1.1 .6 1.1-.5 1.1-.8 1-.4 1.1 .1 1.1 0 1.1-.4 1-.3 1.1 .3 1.1 .7 1.1 .6 1 .1 1.1-.3 1.1-.3 1.1-.2 1.1-.5 1-.8 1.1-.3 1.1 .9 1.1 1.7 1 1.4 1.1-.4 1.1-1.9 1.1-2 1.1-.6 1 1 1.1 1.6 1.1 1 1.1-.1 1-.3 1.1-.1 1.1 0 1.1-.5 1.1-.9 1-.7 1.1 .2 1.1 1 1.1 .9 1 .1 1.1-.4 1.1-.2 1.1 .3 1 .2 1.1-.3 1.1-.8 1.1-.4 1.1 .3 1 .6 1.1 .2 1.1-.6 1.1-.6 1 .4 1.1 1.3 1.1 1.1 1.1 .1 1.1-1.2 1-1.5 1.1-.9 1.1-.1 1.1 .4 1 .6" fill="none" stroke="#52d87a" stroke-width="1.25" stroke-linejoin="round" stroke-opacity="0.85"/>
<path d="M1331.8 147.4l1.1-1 1.1 .7 1 1 1.1-.2 1.1-.9 1.1-.3 1 .4 1.1 .2 1.1 0 1.1 .6 1.1 1.3 1 .5 1.1-1.4 1.1-2 1.1-.5 1 1.3 1.1 1.4 1.1-.2 1.1-1.1 1-.3 1.1 .7 1.1 .6 1.1-.2 1.1-.3 1 .3 1.1 .4 1.1-.6 1.1-1 1-.2 1.1 1.1 1.1 .7 1.1-.6 1.1-1.1 1 .3 1.1 2.2 1.1 3 1.1 3.8 1 6.3 1.1 9.1 1.1 7.9 1.1 1.5 1.1-5.9 1-9.4 1.1-8.1 1.1-5.2 1.1-3.3 1-1.7 1.1 .6 1.1 2.5 1.1 3 1 3.7 1.1 5.8 1.1 8 1.1 6.3 1.1-.3 1-7.6 1.1-10.5 1.1-9 1.1-6.3 1-4.9 1.1-4.2 1.1-3.1 1.1-2.6 1.1-3.6 1-5.1 1.1-4.9 1.1-2.3 1.1 .3 1 1 1.1 .3 1.1 .6 1.1 2.5 1.1 4.4 1 5.1 1.1 5.3 1.1 5.9 1.1 6.4 1 5.5 1.1 3.7 1.1 2.5 1.1 3.2 1 3.6 1.1 2.4 1.1 .1 1.1-.6 1.1 .4 1 1.5 1.1 1 1.1-.4 1.1-1 1-.5 1.1-.6 1.1-1.5 1.1-2.2 1.1-1.4 1-.4 1.1-.5 1.1-1.3 1.1-1.1 1 .2 1.1 1 1.1-.5 1.1-2.5 1.1-3 1-1.5 1.1 .1 1.1-.1 1.1-.6 1-.5 1.1 .4 1.1 .5 1.1-.3 1-.5 1.1 .2 1.1 .5 1.1-1 1.1-2.6 1-2.1 1.1 .4 1.1 2.4 1.1 1.9 1 .3 1.1-.7 1.1-.3 1.1 0 1.1-.5 1-.9 1.1-.2 1.1 .4 1.1-.2 1-1.1 1.1-.6 1.1 1.4 1.1 2.5 1.1 1.3 1-1.1 1.1-1.9 1.1-.9 1.1 .2 1 0 1.1-.5 1.1 0 1.1 .8 1 .9 1.1-.1 1.1-.4 1.1 .4 1.1 1 1 0 1.1-1.6 1.1-1.5 1.1 .2 1 1.3 1.1 .6 1.1-.7 1.1-.6 1.1 .6 1 1.2 1.1 .3 1.1-.7 1.1-.5 1 0 1.1-.1 1.1-.8 1.1-.5 1.1 1 1 1.4 1.1 .1 1.1-1.5 1.1-1.1 1 .7 1.1 1.8 1.1 .7 1.1-.9 1.1-1.3 1-.4 1.1 .1 1.1 0 1.1 .1 1 .9 1.1 1.1 1.1-.2 1.1-1.6 1-1 1.1 .9 1.1 1.9 1.1 .5 1.1-1.5 1-1.6 1.1-.3 1.1 .9 1.1 .7 1 .1 1.1 .4 1.1 .6 1.1-.2 1.1-1.3 1-1 1.1 .7 1.1 1.3 1.1 .3 1-1.2 1.1-1.1 1.1 .6 1.1 1.5 1.1 .5 1-.9 1.1-.7 1.1 .1 1.1 .3 1-.4 1.1-.5 1.1 .4 1.1 1.1 1 .3 1.1-.9 1.1-.6 1.1 .7 1.1 .9 1-.4 1.1-1.7 1.1-1 1.1 1 1 1.8 1.1 .7 1.1-.5 1.1-.6 1.1-.1 1-.2 1.1-.7 1.1-.5 1.1 .7 1 .9" fill="none" stroke="#3fd46c" stroke-width="1.25" stroke-linejoin="round" stroke-opacity="0.85"/>
<path d="M1331.8 147.2l1.1 .1 1.1-.6 1 .3 1.1 1.1 1.1-.3 1.1-1.5 1 .2 1.1 2.4 1.1 1.5 1.1-1.4 1.1-2.1 1-.4 1.1 .5 1.1 0 1.1 .2 1 1.2 1.1 .3 1.1-1.6 1.1-1.3 1 1.2 1.1 2 1.1 0 1.1-1.1 1.1 .1 1 .5 1.1-1 1.1-1.5 1.1 .4 1 1.6 1.1 .1 1.1-1.1 1.1 0 1.1 1.1 1 .4 1.1-.4 1.1 .3 1.1 .7 1-1.2 1.1-2.5 1.1-.4 1.1 2.5 1.1 2 1-.5 1.1-1.2 1.1-.4 1.1-.4 1-.9 1.1 .1 1.1 1.7 1.1 1.2 1 .5 1.1 3.2 1.1 6.2 1.1 3.7 1.1-4.3 1-10.2 1.1-10.3 1.1-7.9 1.1-6.3 1-4.5 1.1-1.4 1.1-.4 1.1-1.7 1.1-2.6 1-.7 1.1 1 1.1 1.3 1.1 2.2 1 4.8 1.1 6.2 1.1 4.3 1.1 2.2 1.1 3.1 1 4.2 1.1 2.8 1.1 .3 1.1-.3 1 .8 1.1 .7 1.1 .9 1.1 2.5 1 3.7 1.1 1.5 1.1-1.4 1.1-1.3 1.1 1.5 1 2.4 1.1 1.3 1.1 1.4 1.1 2.7 1 2.4 1.1 .6 1.1 .2 1.1 1.4 1.1 .9 1-1.3 1.1-1.9 1.1 .2 1.1 1.2 1 .3 1.1-.1 1.1 1 1.1 .7 1.1-2.2 1-4.2 1.1-2.6 1.1-.1 1.1 0 1-.5 1.1 0 1.1 .3 1.1-1.1 1-2.1 1.1-.5 1.1 .8 1.1-1 1.1-3.3 1-2.2 1.1 .7 1.1 1.5 1.1 .3 1-.2 1.1 .2 1.1-.9 1.1-2.2 1.1-1.3 1 1.3 1.1 1.5 1.1-.3 1.1-.8 1 .6 1.1 .6 1.1-1.1 1.1-1.4 1.1 .4 1 1.1 1.1-.6 1.1-1.4 1.1 .4 1 1.8 1.1 .9 1.1-.2 1.1 0 1-.1 1.1-1.9 1.1-2.1 1.1 .6 1.1 2.7 1 1.1 1.1-1.4 1.1-1.1 1.1 .6 1 .7 1.1-.1 1.1 .2 1.1 .7 1.1-.5 1-2 1.1-.6 1.1 1.7 1.1 1.3 1-.9 1.1-1.2 1.1 .5 1.1 .8 1.1-.4 1-.3 1.1 1.3 1.1 1.1 1.1-1.1 1-2.1 1.1-.4 1.1 .8 1.1 .1 1.1 0 1 1.4 1.1 1.1 1.1-1.2 1.1-2 1 .2 1.1 2 1.1 .6 1.1-1.5 1-1 1.1 .5 1.1 .5 1.1 0 1.1 .7 1 .9 1.1-1.1 1.1-2.5 1.1-.7 1 2.2 1.1 2.1 1.1 0 1.1-.6 1.1 .4 1-.3 1.1-1.8 1.1-1.3 1.1 .8 1 1 1.1-.5 1.1-.3 1.1 1.4 1.1 1.5 1-.2 1.1-.8 1.1 .2 1.1-.2 1-2.2 1.1-2.2 1.1 .8 1.1 3 1 1.7 1.1-.2 1.1-.5 1.1-.3 1.1-1.3 1-1.3 1.1 .6 1.1 1.7 1.1-.1 1-1.6 1.1-.1 1.1 2.2 1.1 1.2 1.1-1.2 1-1.5 1.1-.5 1.1-.5 1.1-.8 1 .8" fill="none" stroke="#34c862" stroke-width="1.25" stroke-linejoin="round" stroke-opacity="0.85"/>
<path d="M1331.8 148.8l1.1-1.5 1.1-.3 1 .9 1.1 .4 1.1-.8 1.1-.8 1 .3 1.1 .6 1.1-.1 1.1 0 1.1 .8 1 .8 1.1-.6 1.1-1.6 1.1-.6 1 1 1.1 .7 1.1-.6 1.1-.7 1 .8 1.1 1.3 1.1 .3 1.1-.9 1.1-.7 1-.3 1.1-.5 1.1-.7 1.1 .5 1 1.9 1.1 1.4 1.1-.8 1.1-1.8 1.1-.5 1 .9 1.1 .4 1.1-.6 1.1-.5 1 .3 1.1 .4 1.1-.1 1.1 .2 1.1 1.2 1 .7 1.1-1.3 1.1-2.2 1.1-.9 1 1.1 1.1 1.2 1.1-.1 1.1-.7 1-.2 1.1-.5 1.1-2 1.1-2.8 1.1-2.5 1-2.2 1.1-3.1 1.1-4.1 1.1-3.1 1-1.9 1.1-2 1.1-3.6 1.1-3.7 1.1-1.5 1 .7 1.1 1.2 1.1 1.5 1.1 2.7 1 4.1 1.1 4.3 1.1 3.6 1.1 3.7 1.1 4.5 1 4 1.1 3 1.1 4.3 1.1 8.3 1 10.5 1.1 6.4 1.1-1.2 1.1-6 1-5.6 1.1-3.4 1.1-1.8 1.1-.6 1.1 .9 1 1.5 1.1 0 1.1-1 1.1-.1 1 1.2 1.1 .9 1.1-1 1.1-2 1.1-1.1 1-.3 1.1-.6 1.1-.8 1.1 0 1 .6 1.1-.2 1.1-1.4 1.1-1.3 1.1-.1 1-.3 1.1-1.6 1.1-1.9 1.1-.2 1 1.4 1.1 1 1.1-.4 1.1-1 1-.6 1.1-.6 1.1-1.1 1.1-.6 1.1 .8 1 1.1 1.1-.3 1.1-1.3 1.1-.3 1 1.5 1.1 1.1 1.1-.7 1.1-1.5 1.1-.8 1 .1 1.1 0 1.1 .2 1.1 1.1 1 1.4 1.1 0 1.1-1.7 1.1-1.1 1.1 .5 1 .9 1.1-.4 1.1-1 1.1 .2 1 1.2 1.1 .7 1.1-.4 1.1-.4 1 .2 1.1-.2 1.1-1 1.1-.6 1.1 .9 1 1.2 1.1-.2 1.1-1.1 1.1 0 1 1.3 1.1 .8 1.1-.9 1.1-1.3 1.1-.5 1 .3 1.1 .1 1.1 .3 1.1 1.2 1 1.2 1.1-.5 1.1-2 1.1-1 1.1 .9 1 1.3 1.1-.2 1.1-1 1.1-.2 1 .7 1.1 .4 1.1-.2 1.1 .3 1.1 .7 1-.4 1.1-1.6 1.1-1 1.1 .9 1 1.5 1.1 .3 1.1-.8 1.1-.2 1 .8 1.1 .3 1.1-.9 1.1-.9 1.1 .1 1 .4 1.1-.2 1.1-.1 1.1 1.1 1 1.2 1.1-.4 1.1-1.6 1.1-.9 1.1 .9 1 1 1.1-.5 1.1-1 1.1 0 1 .8 1.1 .5 1.1 0 1.1 .5 1.1 .5 1-.9 1.1-2 1.1-1 1.1 1.2 1 2.1 1.1 .6 1.1-.8 1.1-.5 1 .3 1.1-.1 1.1-.7 1.1-.4 1.1 .5 1 .2 1.1-.7 1.1-.3 1.1 1.2 1 1.6 1.1 .1 1.1-1.6 1.1-1.2 1.1 .3 1 .4 1.1-.5 1.1-.3 1.1 .7 1 1.2" fill="none" stroke="#6ad88a" stroke-width="1.25" stroke-linejoin="round" stroke-opacity="0.85"/>
<path d="M1331.8 148l1.1-2.1 1.1-.3 1 1.3 1.1 1.4 1.1 .6 1.1 .1 1-.2 1.1-.8 1.1-1.1 1.1-.7 1.1 .3 1 .7 1.1 .4 1.1 .4 1.1 .6 1 .3 1.1-.9 1.1-1.3 1.1-.2 1 1.4 1.1 1.3 1.1-.6 1.1-1.9 1.1-1.1 1 .8 1.1 1.7 1.1 .7 1.1-.3 1-.4 1.1-.2 1.1-.1 1.1-.2 1.1-.2 1-.1 1.1-.3 1.1-.4 1.1 .5 1 1.2 1.1 .9 1.1-.5 1.1-.9 1.1 .8 1 3.1 1.1 3.6 1.1 2.3 1.1 .7 1-.2 1.1-.9 1.1-2.1 1.1-3.5 1-3.5 1.1-2.5 1.1-1.8 1.1-1.9 1.1-2.5 1-2.6 1.1-3.1 1.1-3.6 1.1-3.5 1-2.5 1.1-1.5 1.1-1.5 1.1-1.9 1.1-1.1 1 1 1.1 2.5 1.1 2.1 1.1 1 1 1.4 1.1 3.5 1.1 5 1.1 4.5 1.1 2.6 1 1.4 1.1 1.4 1.1 1.6 1.1 1.8 1 2 1.1 2 1.1 1.1 1.1-.1 1-.2 1.1 1.1 1.1 2.3 1.1 2.2 1.1 1.1 1 .7 1.1 1 1.1 .7 1.1-.8 1-1.9 1.1-.8 1.1 1.3 1.1 1.9 1.1 .4 1-1.6 1.1-2 1.1-1.1 1.1-.1 1 .5 1.1 .4 1.1-.3 1.1-1.7 1.1-2.6 1-1.8 1.1 .1 1.1 1.1 1.1 .4 1-.8 1.1-.9 1.1-.1 1.1-.1 1-1.3 1.1-1.9 1.1-.7 1.1 1 1.1 1.3 1-.1 1.1-1.2 1.1-.9 1.1-.1 1 .5 1.1 .6 1.1 .6 1.1-.1 1.1-.9 1-1.5 1.1-.5 1.1 .8 1.1 1 1 .1 1.1-.5 1.1 .3 1.1 1.1 1.1 .5 1-1.3 1.1-1.9 1.1-.4 1.1 1.3 1 1.4 1.1 0 1.1-.9 1.1-.6 1 0 1.1 .5 1.1 .8 1.1 .7 1.1 0 1-1.2 1.1-1.5 1.1-.3 1.1 1.1 1 1 1.1-.2 1.1-.6 1.1 .3 1.1 1.1 1 .2 1.1-1 1.1-1.2 1.1 .1 1 1 1.1 .4 1.1-.8 1.1-.8 1.1 .1 1 1 1.1 .9 1.1 .5 1.1-.2 1-1 1.1-1.4 1.1-.6 1.1 1 1.1 1.7 1 .3 1.1-1.4 1.1-1.4 1.1 .4 1 1.8 1.1 1.1 1.1-.5 1.1-1.1 1-.4 1.1-.1 1.1-.4 1.1-.6 1.1 .3 1 1.1 1.1 1 1.1 .2 1.1-.3 1-.7 1.1-.8 1.1-.6 1.1 .3 1.1 1.3 1 1 1.1-.8 1.1-2 1.1-.9 1 1.3 1.1 2.2 1.1 .8 1.1-.9 1.1-1.1 1-.4 1.1 0 1.1-.4 1.1-.4 1 .2 1.1 .9 1.1 .8 1.1 .3 1-.1 1.1-.4 1.1-.9 1.1-.9 1.1 .4 1 1.4 1.1 1 1.1-1 1.1-1.9 1-.7 1.1 1.3 1.1 1.7 1.1 .5 1.1-.5 1-.5 1.1 0 1.1-.4 1.1-1 1-.8" fill="none" stroke="#6ad88a" stroke-width="1.25" stroke-linejoin="round" stroke-opacity="0.85"/>
<path d="M1331.8 149.5l1.1 .5 1.1-1.3 1-2 1.1-1.3 1.1 .4 1.1 1.6 1 1.5 1.1 .3 1.1-.9 1.1-1.2 1.1-.5 1 .4 1.1 .8 1.1 .6 1.1 0 1-.2 1.1-.3 1.1-.4 1.1-.5 1-.6 1.1-.1 1.1 .7 1.1 1.4 1.1 1.2 1 0 1.1-1.3 1.1-1.7 1.1-.8 1 .6 1.1 1.3 1.1 1 1.1-.1 1.1-1 1-.8 1.1 .2 1.1 .8 1.1 .6 1-.3 1.1-.7 1.1-.4 1.1 .5 1.1 1 1 .6 1.1-.8 1.1-1.7 1.1-1.3 1 .1 1.1 1.5 1.1 1.9 1.1 .8 1-1.1 1.1-2.2 1.1-2.4 1.1-1.8 1.1-1.1 1-1 1.1-1.4 1.1-2 1.1-2.5 1-3.1 1.1-3.7 1.1-3.7 1.1-2.9 1.1-1 1 1.1 1.1 2.1 1.1 1.7 1.1 .5 1-.2 1.1 .8 1.1 2.8 1.1 4.8 1.1 5.1 1 3.6 1.1 1.5 1.1 0 1.1 .1 1 1 1.1 1.7 1.1 1.4 1.1 .5 1-.2 1.1 .1 1.1 .8 1.1 1.2 1.1 1.1 1 .5 1.1 .4 1.1 .9 1.1 1.6 1 2 1.1 1.7 1.1 1.1 1.1 .7 1.1 1 1 1.4 1.1 1.5 1.1 1 1.1 .3 1 .1 1.1 .4 1.1 .7 1.1 .4 1.1-.7 1-1.8 1.1-2 1.1-1 1.1 .2 1 .7 1.1-.2 1.1-1.5 1.1-2.3 1-1.7 1.1-.4 1.1 .5 1.1 .1 1.1-1.1 1-2.2 1.1-2 1.1-.8 1.1 .4 1 .6 1.1-.1 1.1-1.1 1.1-1.3 1.1-.8 1 .1 1.1 .6 1.1 .4 1.1-.1 1-.6 1.1-.5 1.1-.6 1.1-.6 1.1-.5 1-.1 1.1 .8 1.1 1.4 1.1 1.2 1 0 1.1-1.6 1.1-2.1 1.1-1.1 1 .9 1.1 2.1 1.1 1.7 1.1 0 1.1-1.6 1-2.1 1.1-.8 1.1 .9 1.1 1.8 1 1.3 1.1 .1 1.1-.9 1.1-1 1.1-.4 1 .1 1.1 0 1.1-.3 1.1-.1 1 .4 1.1 .9 1.1 .8 1.1 0 1.1-.8 1-1 1.1-.4 1.1 .3 1.1 .8 1 .4 1.1-.3 1.1-.4 1.1-.2 1.1 .2 1 .3 1.1-.1 1.1-.5 1.1-.2 1 .7 1.1 1.1 1.1 .7 1.1-.7 1-1.8 1.1-1.7 1.1-.2 1.1 1.5 1.1 2.3 1 1.3 1.1-.6 1.1-1.9 1.1-1.6 1-.2 1.1 1.2 1.1 1.5 1.1 .6 1.1-.7 1-1.2 1.1-.8 1.1 0 1.1 .5 1 .7 1.1 .4 1.1 .4 1.1 .2 1.1-.1 1-.7 1.1-1 1.1-.7 1.1 .3 1 1.1 1.1 1.2 1.1 .3 1.1-1.1 1-1.5 1.1-.6 1.1 .9 1.1 1.8 1.1 1.2 1-.4 1.1-1.7 1.1-1.6 1.1-.3 1 .9 1.1 1.3 1.1 .6 1.1-.4 1.1-.7 1-.2 1.1 .5 1.1 .7 1.1-.1 1-.8" fill="none" stroke="#3fd46c" stroke-width="1.25" stroke-linejoin="round" stroke-opacity="0.85"/>
<path d="M1331.8 149.4l1.1 .3 1.1-.7 1-1.4 1.1-1.2 1.1-.3 1.1 .5 1 .9 1.1 .5 1.1 .1 1.1-.4 1.1-.2 1 .1 1.1 .3 1.1 .3 1.1 .2 1-.1 1.1-.3 1.1-.6 1.1-.6 1-.5 1.1-.1 1.1 .7 1.1 1.1 1.1 1.1 1 .4 1.1-.7 1.1-1.2 1.1-1 1-.1 1.1 .9 1.1 1 1.1 .3 1.1-.8 1-1.4 1.1-1 1.1 .2 1.1 1.5 1 2 1.1 1.3 1.1 .1 1.1-1.2 1.1-1.9 1-1.7 1.1-1 1.1 0 1.1 1 1 1.6 1.1 1.6 1.1 .9 1.1 0 1-1.1 1.1-1.4 1.1-1.4 1.1-.8 1.1-.6 1-1 1.1-1.9 1.1-2.6 1.1-2.8 1-2.5 1.1-2 1.1-2.3 1.1-3.4 1.1-4.9 1-5.8 1.1-5.3 1.1-3.6 1.1-1.2 1 1.1 1.1 2.7 1.1 3.6 1.1 4 1.1 4.2 1 4 1.1 3.9 1.1 3.5 1.1 3.3 1 3.1 1.1 3.2 1.1 2.9 1.1 2.4 1 1.8 1.1 1.4 1.1 1.5 1.1 1.8 1.1 2.1 1 1.8 1.1 1 1.1 .3 1.1-.1 1 0 1.1 .2 1.1 .5 1.1 .2 1.1-.2 1-.2 1.1 0 1.1 .4 1.1 .5 1 .1 1.1-.9 1.1-1.6 1.1-1.8 1.1-1.4 1-.6 1.1-.1 1.1-.1 1.1-.3 1-.4 1.1-.3 1.1-.2 1.1-.2 1-.5 1.1-.8 1.1-1.1 1.1-1.1 1.1-.7 1-.4 1.1-.1 1.1 .3 1.1 .6 1 .9 1.1 .7 1.1-.1 1.1-1.1 1.1-1.7 1-1.5 1.1-.3 1.1 1 1.1 1.7 1 1.4 1.1 .1 1.1-1.1 1.1-1.6 1.1-.9 1 .1 1.1 1 1.1 1.1 1.1 .6 1-.2 1.1-.7 1.1-.6 1.1-.4 1 0 1.1 .3 1.1 .3 1.1 .3 1.1 0 1-.2 1.1-.5 1.1-.2 1.1 .3 1 .9 1.1 1 1.1 .4 1.1-.8 1.1-1.8 1-1.7 1.1-.7 1.1 1 1.1 2.1 1 2 1.1 .9 1.1-.7 1.1-1.6 1.1-1.5 1-.7 1.1 .1 1.1 .7 1.1 .6 1 .3 1.1 0 1.1-.1 1.1 0 1.1 0 1 .1 1.1 .3 1.1 .3 1.1 .2 1-.3 1.1-.8 1.1-1 1.1-.6 1 .2 1.1 1 1.1 1.2 1.1 .7 1.1-.1 1-.6 1.1-.6 1.1-.1 1.1 .3 1 .1 1.1-.3 1.1-.9 1.1-.7 1.1-.2 1 .7 1.1 1.2 1.1 1.1 1.1 .5 1-.1 1.1-.4 1.1-.6 1.1-.7 1.1-.9 1-.8 1.1-.5 1.1 .2 1.1 1.1 1 1.5 1.1 1.4 1.1 .6 1.1-.2 1-.9 1.1-1.2 1.1-1.2 1.1-1.1 1.1-.5 1 .2 1.1 1.1 1.1 1.7 1.1 1.5 1 .7 1.1-.5 1.1-1.3 1.1-1.3 1.1-.6 1 .2 1.1 .4 1.1 .1 1.1-.4 1-.5" fill="none" stroke="#48dc74" stroke-width="1.25" stroke-linejoin="round" stroke-opacity="0.85"/>
<path d="M1331.8 147.9l1.1-1 1.1 .2 1 1.1 1.1 .7 1.1-.6 1.1-1.4 1-.5 1.1 .7 1.1 1 1.1 .2 1.1-.7 1-.5 1.1 .5 1.1 .7 1.1 .1 1-.7 1.1-.6 1.1 .2 1.1 .5 1 0 1.1-.6 1.1-.4 1.1 .6 1.1 1 1 .3 1.1-.9 1.1-.9 1.1 .2 1 1 1.1 .5 1.1-.7 1.1-1.3 1.1-.3 1 1.1 1.1 1.2 1.1 .1 1.1-1 1-.8 1.1 .4 1.1 1 1.1 .2 1.1-.8 1-.9 1.1 0 1.1 .8 1.1 .4 1-.3 1.1-.5 1.1 0 1.1 .6 1-.1 1.1-1 1.1-1.4 1.1-.9 1.1-.4 1-1.2 1.1-2.6 1.1-3.5 1.1-2.9 1-2 1.1-2.2 1.1-3.5 1.1-4.2 1.1-3.5 1-1.4 1.1 .1 1.1 .2 1.1 0 1 .7 1.1 2.5 1.1 4.2 1.1 4.2 1.1 3.1 1 2.4 1.1 2.7 1.1 3.1 1.1 2.6 1 1.5 1.1 .6 1.1 .8 1.1 1.5 1 1.4 1.1 .7 1.1 .2 1.1 .9 1.1 1.8 1 1.9 1.1 .9 1.1 .1 1.1 .7 1 2 1.1 2.7 1.1 1.7 1.1 .6 1.1 .4 1 1.6 1.1 2.2 1.1 1.6 1.1-.3 1-1.3 1.1-.8 1.1 .2 1.1 .3 1.1-.7 1-1.5 1.1-1.2 1.1-.3 1.1 .1 1-.7 1.1-1.4 1.1-1.4 1.1-.8 1-.6 1.1-1.3 1.1-1.9 1.1-1.5 1.1-.3 1 .3 1.1-.3 1.1-1.3 1.1-1.2 1-.1 1.1 .7 1.1 0 1.1-1.3 1.1-1.9 1-.8 1.1 .6 1.1 .9 1.1 0 1-.9 1.1-.5 1.1 .6 1.1 1.1 1.1 .2 1-1 1.1-1.1 1.1-.3 1.1 .4 1 .2 1.1-.3 1.1-.3 1.1 .5 1 1 1.1 .5 1.1-.5 1.1-.8 1.1-.1 1 .5 1.1 .1 1.1-.9 1.1-1.1 1 0 1.1 1.3 1.1 1.4 1.1 .2 1.1-1 1-.7 1.1 .4 1.1 .9 1.1-.1 1-1.2 1.1-1.3 1.1 0 1.1 1.2 1.1 1.1 1 .1 1.1-.5 1.1 0 1.1 .5 1 .3 1.1-.6 1.1-1.1 1.1-.5 1.1 .4 1 .5 1.1 0 1.1-.4 1.1 .4 1 1.1 1.1 .9 1.1-.3 1.1-1.4 1-1.1 1.1 .2 1.1 .9 1.1 .1 1.1-.9 1-.7 1.1 .6 1.1 1.7 1.1 1.1 1-.4 1.1-1.4 1.1-.7 1.1 .2 1.1 .5 1-.4 1.1-.9 1.1-.3 1.1 .9 1 1.2 1.1 .5 1.1-.4 1.1-.3 1.1 .1 1 .2 1.1-.6 1.1-1.2 1.1-.7 1 .6 1.1 1.2 1.1 .6 1.1-.4 1-.5 1.1 .5 1.1 1.1 1.1 .4 1.1-1.2 1-1.8 1.1-.7 1.1 .8 1.1 1.2 1 .3 1.1-.6 1.1-.2 1.1 .8 1.1 1.1 1 .2 1.1-1.1 1.1-1.2 1.1-.4 1 .4" fill="none" stroke="#34c862" stroke-width="1.25" stroke-linejoin="round" stroke-opacity="0.85"/>
<path d="M1331.8 146.3l1.1 .2 1.1 1.1 1 1.2 1.1 .3 1.1-.4 1.1-.4 1-.2 1.1-.4 1.1-1 1.1-.9 1.1 .3 1 1.2 1.1 1 1.1 .2 1.1-.3 1 .2 1.1 .5 1.1-.1 1.1-1.3 1-1.5 1.1-.2 1.1 1.2 1.1 1 1.1-.2 1-.6 1.1 .5 1.1 1.4 1.1 .6 1-1.1 1.1-1.9 1.1-.7 1.1 .9 1.1 1 1-.5 1.1-1 1.1 .2 1.1 1.8 1 1.6 1.1-.5 1.1-1.8 1.1-1.1 1.1 .5 1 .9 1.1-.6 1.1-1.4 1.1-.4 1 1.6 1.1 2 1.1 .3 1.1-1.6 1-1.6 1.1-.3 1.1-.1 1.1-1.5 1.1-3.1 1-2.6 1.1-1 1.1-.3 1.1-1.5 1-3.3 1.1-3.4 1.1-2.3 1.1-1.4 1.1-1.7 1-2.1 1.1-1.1 1.1 1.3 1.1 3.1 1 3.3 1.1 2.5 1.1 2.4 1.1 2.9 1.1 3 1 1.9 1.1 .7 1.1 .5 1.1 1.3 1 1.8 1.1 1.4 1.1 .8 1.1 .7 1 1.2 1.1 .9 1.1 .2 1.1-.4 1.1 .1 1 .8 1.1 1.1 1.1 .8 1.1 .7 1 1.3 1.1 2 1.1 1.5 1.1 .4 1.1-.1 1 .5 1.1 1 1.1 .5 1.1-.7 1-1.1 1.1-.2 1.1 .8 1.1 .5 1.1-1 1-1.4 1.1-.4 1.1 .8 1.1 .3 1-1.4 1.1-2.3 1.1-1.3 1.1 .2 1 .3 1.1-1.1 1.1-1.7 1.1-.5 1.1 1.3 1 1.2 1.1-.6 1.1-2.2 1.1-1.6 1 .1 1.1 .5 1.1-.7 1.1-1.6 1.1-.5 1 1.6 1.1 2.2 1.1 .5 1.1-1.5 1-1.5 1.1-.2 1.1 .5 1.1-.5 1.1-1.5 1-.8 1.1 1.2 1.1 2.4 1.1 1.3 1-.6 1.1-1.2 1.1-.4 1.1 .2 1-.5 1.1-1.4 1.1-1.1 1.1 .7 1.1 1.9 1 1.4 1.1 .2 1.1-.6 1.1-.2 1 .1 1.1-.6 1.1-1.3 1.1-1.1 1.1 .2 1 1.1 1.1 1.1 1.1 .4 1.1 .1 1 .4 1.1 .2 1.1-.7 1.1-1.2 1.1-.9 1 .1 1.1 .5 1.1 .3 1.1 0 1 .5 1.1 1 1.1 .5 1.1-.5 1.1-1.2 1-.5 1.1 .3 1.1 .4 1.1-.6 1-.7 1.1 .3 1.1 1.3 1.1 1.1 1-.4 1.1-1.1 1.1-.3 1.1 .8 1.1 .6 1-.9 1.1-1.5 1.1-.5 1.1 1.3 1 1.4 1.1 0 1.1-1.1 1.1-.3 1.1 1.2 1 1.2 1.1-.6 1.1-2 1.1-1.2 1 .7 1.1 1.5 1.1 .2 1.1-1 1.1-.4 1 1.3 1.1 1.7 1.1 0 1.1-1.8 1-1.7 1.1 .1 1.1 1.2 1.1 .3 1-.9 1.1-.6 1.1 1 1.1 1.9 1.1 .7 1-1.2 1.1-1.6 1.1-.3 1.1 .7 1 .2 1.1-.8 1.1-.8 1.1 .6 1.1 1.6 1 .9 1.1-.4 1.1-.9 1.1-.3 1 .3" fill="none" stroke="#48dc74" stroke-width="1.25" stroke-linejoin="round" stroke-opacity="0.85"/>
<path d="M836.2 381.8l1.1 0 1.1 0 1 0 1.1 .1 1.1 0 1.1 0 1 0 1.1 .1 1.1 .1 1.1 .1 1.1-.1 1-.1 1.1-.2 1.1-.2 1.1 0 1 0 1.1 .2 1.1 .3 1.1 .2 1 .1 1.1-.1 1.1-.3 1.1-.2 1.1-.3 1 0 1.1 0 1.1 .2 1.1 .2 1 .2 1.1 0 1.1-.1 1.1-.3 1.1-.4 1-.4 1.1-.5 1.1-.4 1.1-.5 1-.6 1.1-.7 1.1-1 1.1-1.4 1.1-1.7 1-2.2 1.1-2.7 1.1-3 1.1-3.3 1-3.6 1.1-3.8 1.1-4 1.1-4.3 1-4.6 1.1-4.7 1.1-4.8 1.1-4.7 1.1-4.4 1-3.8 1.1-3.2 1.1-2.4 1.1-1.6 1-.8 1.1 0 1.1 1.2 1.1 2.4 1.1 3.4 1 4.3 1.1 5 1.1 5.5 1.1 5.8 1 5.9 1.1 5.9 1.1 5.7 1.1 5.5 1.1 5.1 1 4.6 1.1 4.2 1.1 3.6 1.1 3.2 1 3 1.1 2.7 1.1 2.6 1.1 2.5 1 2.2 1.1 1.9 1.1 1.5 1.1 1.1 1.1 .7 1 .5 1.1 .2 1.1 .1 1.1 .1 1-.1 1.1-.2 1.1-.4 1.1-.7 1.1-.7 1-.7 1.1-.7 1.1-.7 1.1-.7 1-.7 1.1-.8 1.1-.9 1.1-1 1.1-.9 1-.9 1.1-.7 1.1-.7 1.1-.6 1-.6 1.1-.7 1.1-.6 1.1-.5 1-.5 1.1-.4 1.1-.3 1.1-.3 1.1-.3 1-.3 1.1-.2 1.1-.3 1.1-.1 1-.2 1.1-.1 1.1 0 1.1-.1 1.1-.1 1-.1 1.1-.1 1.1-.1 1.1 0 1 0 1.1-.1 1.1 0 1.1-.1 1.1 0 1 .1 1.1 0 1.1 .1 1.1 0 1-.1 1.1-.1 1.1-.1 1.1 0 1 0 1.1 0 1.1 .1 1.1 .1 1.1 .1 1 0 1.1-.1 1.1-.1 1.1 0 1-.1 1.1 0 1.1 .1 1.1 0 1.1 0 1 0 1.1 .1 1.1 0 1.1 .1 1 0 1.1 0 1.1-.2 1.1-.2 1.1-.1 1 0 1.1 .1 1.1 .3 1.1 .2 1 .2 1.1 0 1.1-.2 1.1-.4 1.1-.3 1-.1 1.1 .1 1.1 .2 1.1 .3 1 .3 1.1 .1 1.1-.1 1.1-.2 1-.3 1.1-.2 1.1-.1 1.1 .1 1.1 .2 1 .1 1.1 .2 1.1 .1 1.1 0 1-.1 1.1-.1 1.1-.1 1.1-.1 1.1-.1 1 0 1.1 0 1.1 .1 1.1 .1 1 .2 1.1 .2 1.1 0 1.1-.1 1.1-.2 1-.2 1.1-.2 1.1-.1 1.1 .1 1 .2 1.1 .3 1.1 .1 1.1 .1 1-.1 1.1-.2 1.1-.1 1.1-.2 1.1 0 1 0 1.1 .1 1.1 .1 1.1 .1 1 .1 1.1 .1 1.1-.1 1.1 0 1.1-.2 1-.1 1.1-.1 1.1 0 1.1 .1 1 .1" fill="none" stroke="#9ccbec" stroke-width="1.4" stroke-linejoin="round" stroke-opacity="0.8"/>
<path d="M836.2 381.9l1.1 .1 1.1 0 1-.3 1.1-.1 1.1 .2 1.1 .2 1 .1 1.1 0 1.1 0 1.1-.1 1.1-.1 1 0 1.1 0 1.1-.1 1.1-.1 1 0 1.1 .3 1.1 .2 1.1 0 1-.2 1.1-.1 1.1 0 1.1-.2 1.1-.1 1 .2 1.1 .3 1.1 0 1.1-.4 1-.2 1.1 .3 1.1 .2 1.1-.3 1.1-.6 1-.4 1.1-.1 1.1-.3 1.1-.6 1-.8 1.1-.8 1.1-1.1 1.1-1.6 1.1-1.8 1-1.9 1.1-2.3 1.1-2.7 1.1-3.3 1-3.6 1.1-3.8 1.1-4 1.1-4.4 1-4.4 1.1-4.5 1.1-4.4 1.1-4.2 1.1-3.9 1-3.4 1.1-3.1 1.1-2.5 1.1-1.5 1-.3 1.1 .3 1.1 1.2 1.1 2.2 1.1 3.6 1 4.6 1.1 4.8 1.1 4.9 1.1 5.2 1 5.4 1.1 5.4 1.1 5 1.1 4.7 1.1 4.6 1 4 1.1 3.2 1.1 2.6 1.1 2.6 1 2.7 1.1 2.3 1.1 1.9 1.1 1.8 1 2 1.1 2 1.1 2 1.1 1.8 1.1 1.5 1 1.2 1.1 1.1 1.1 1 1.1 .9 1 .7 1.1 .1 1.1 0 1.1 .1 1.1-.1 1-.5 1.1-.6 1.1-.5 1.1-.4 1-.7 1.1-.9 1.1-.8 1.1-.4 1.1-.7 1-1 1.1-1.1 1.1-.6 1.1-.5 1-.8 1.1-1.2 1.1-.9 1.1-.4 1-.3 1.1-.6 1.1-.8 1.1-.6 1.1-.4 1-.4 1.1-.3 1.1-.2 1.1-.3 1-.5 1.1-.4 1.1-.3 1.1-.1 1.1-.1 1-.1 1.1-.1 1.1-.1 1.1-.2 1-.1 1.1 0 1.1 .1 1.1-.2 1.1-.4 1-.2 1.1 .3 1.1 .4 1.1 0 1-.3 1.1 0 1.1 .2 1.1-.1 1-.3 1.1-.2 1.1 .1 1.1 .3 1.1 0 1-.1 1.1 .2 1.1 .1 1.1-.1 1-.2 1.1-.2 1.1 .1 1.1 .1 1.1-.1 1 0 1.1 .1 1.1 .2 1.1 .1 1 0 1.1-.1 1.1-.3 1.1-.3 1.1 .1 1 .4 1.1 .2 1.1-.2 1.1-.2 1 0 1.1 .3 1.1 0 1.1-.2 1.1-.1 1 .1 1.1 0 1.1-.2 1.1 0 1 .3 1.1 .3 1.1-.2 1.1-.4 1 0 1.1 .3 1.1 .2 1.1-.2 1.1-.2 1 0 1.1 .1 1.1 0 1.1 0 1 0 1.1 0 1.1 .1 1.1 0 1.1 .1 1-.1 1.1-.2 1.1-.1 1.1 .1 1 .2 1.1 0 1.1-.1 1.1 0 1.1 .2 1 0 1.1-.2 1.1 0 1.1 .1 1-.1 1.1-.3 1.1-.1 1.1 .4 1 .5 1.1 0 1.1-.4 1.1-.3 1.1 .1 1 .2 1.1-.1 1.1-.2 1.1 .1 1 .1 1.1 .1 1.1 0 1.1 .1 1.1 .1 1-.1 1.1-.3 1.1-.2 1.1 .1 1 .1" fill="none" stroke="#86c0ea" stroke-width="1.4" stroke-linejoin="round" stroke-opacity="0.8"/>
<path d="M836.2 382.1l1.1 0 1.1-.2 1-.2 1.1 0 1.1 .1 1.1 .1 1 0 1.1-.1 1.1 .1 1.1 .1 1.1 .2 1 0 1.1-.2 1.1-.3 1.1 0 1 .1 1.1 .1 1.1 .1 1.1 0 1 0 1.1 .1 1.1-.1 1.1-.1 1.1-.2 1 0 1.1 .1 1.1 .3 1.1 .1 1-.2 1.1-.2 1.1-.1 1.1 0 1.1-.1 1-.1 1.1-.2 1.1-.2 1.1-.2 1-.3 1.1-.5 1.1-.8 1.1-.9 1.1-.9 1-1.2 1.1-1.7 1.1-2 1.1-2.4 1-2.4 1.1-2.6 1.1-3 1.1-3.4 1-3.9 1.1-4.1 1.1-4.3 1.1-4.3 1.1-4.3 1-4.1 1.1-3.8 1.1-3.1 1.1-2.6 1-2.1 1.1-1.7 1.1-.9 1.1 0 1.1 1.1 1 2.2 1.1 3 1.1 3.7 1.1 4.4 1 5.1 1.1 5.3 1.1 5.5 1.1 5.3 1.1 5.1 1 4.9 1.1 4.5 1.1 4.1 1.1 3.6 1 3.2 1.1 3.1 1.1 3.1 1.1 2.8 1 2.5 1.1 2 1.1 1.9 1.1 1.8 1.1 1.7 1 1.3 1.1 1 1.1 .5 1.1 .3 1 .1 1.1-.1 1.1-.3 1.1-.4 1.1-.3 1-.2 1.1-.3 1.1-.6 1.1-.8 1-1 1.1-.8 1.1-.8 1.1-.9 1.1-.9 1-.9 1.1-.8 1.1-.6 1.1-.6 1-.7 1.1-.7 1.1-.6 1.1-.6 1-.6 1.1-.7 1.1-.8 1.1-.6 1.1-.3 1-.1 1.1 .1 1.1-.2 1.1-.2 1-.3 1.1-.3 1.1-.3 1.1-.4 1.1-.3 1-.2 1.1 .1 1.1 .1 1.1 .1 1-.1 1.1 0 1.1 0 1.1 .1 1.1-.1 1-.2 1.1-.4 1.1-.2 1.1 .1 1 .2 1.1 .2 1.1 .1 1.1 .1 1 .1 1.1 0 1.1-.2 1.1-.3 1.1-.3 1 0 1.1 .3 1.1 .2 1.1 .1 1-.1 1.1 0 1.1 0 1.1 .1 1.1-.1 1-.1 1.1-.1 1.1 0 1.1 .1 1 0 1.1 0 1.1 0 1.1 .1 1.1 .1 1 .1 1.1-.2 1.1-.2 1.1-.2 1 .1 1.1 .3 1.1 .1 1.1 0 1.1-.1 1 0 1.1-.1 1.1 0 1.1-.2 1 0 1.1 .1 1.1 .2 1.1 .2 1 0 1.1-.2 1.1-.2 1.1 0 1.1 .1 1 0 1.1-.1 1.1-.1 1.1 .1 1 .1 1.1 .2 1.1 0 1.1 0 1.1 0 1 0 1.1-.1 1.1-.2 1.1-.3 1 0 1.1 .2 1.1 .4 1.1 .2 1.1 0 1-.2 1.1-.1 1.1-.1 1.1 0 1-.1 1.1-.1 1.1 0 1.1 .2 1 .1 1.1 .1 1.1-.1 1.1 0 1.1 0 1 .2 1.1-.1 1.1-.2 1.1-.3 1 0 1.1 .1 1.1 .2 1.1 .1 1.1 .1 1 0 1.1 0 1.1 0 1.1-.1 1-.2" fill="none" stroke="#aad4f0" stroke-width="1.4" stroke-linejoin="round" stroke-opacity="0.8"/>
<path d="M836.2 381.2l1.1-.2 1.1-.2 1 0 1.1 .7 1.1 1.3 1.1 1.2 1 .3 1.1-.8 1.1-1 1.1-.2 1.1 .9 1 1.3 1.1 .8 1.1 0 1.1-.5 1-.2 1.1 .3 1.1 .2 1.1 0 1-.1 1.1 .1 1.1 .7 1.1 .6 1.1 0 1-1 1.1-1.2 1.1-.6 1.1 .2 1 .8 1.1 .5 1.1 .1 1.1 0 1.1 .3 1 .2 1.1-.5 1.1-1.6 1.1-2.3 1-1.9 1.1-.7 1.1 .2 1.1 .3 1.1-.6 1-1.4 1.1-2 1.1-2.2 1.1-2.6 1-3.2 1.1-3.3 1.1-3 1.1-2.1 1-1.5 1.1-2 1.1-3.1 1.1-4.2 1.1-4.3 1-3.7 1.1-3.3 1.1-3.3 1.1-3.7 1-3.6 1.1-2.8 1.1-1.7 1.1-.9 1.1-1 1-1.2 1.1-1.1 1.1 0 1.1 1.5 1 2.6 1.1 3 1.1 3.3 1.1 4.1 1.1 5.1 1 5.7 1.1 5.5 1.1 5 1.1 4.6 1 4.8 1.1 5.1 1.1 4.6 1.1 3.5 1 2.3 1.1 1.8 1.1 2.3 1.1 3.2 1.1 3.4 1 2.8 1.1 1.9 1.1 1.6 1.1 1.6 1 1.6 1.1 1.1 1.1 .5 1.1 .1 1.1 .3 1 .7 1.1 .8 1.1 .1 1.1-.7 1-1 1.1-.6 1.1-.1 1.1-.3 1.1-1.1 1-1.7 1.1-1.6 1.1-.9 1.1-.3 1-.4 1.1-1 1.1-1.4 1.1-1.2 1-.5 1.1 0 1.1-.4 1.1-1.1 1.1-1.3 1-.9 1.1-.2 1.1 0 1.1-.1 1-.2 1.1 0 1.1 .5 1.1 .7 1.1 0 1-.9 1.1-1.5 1.1-.7 1.1 .4 1 1.3 1.1 1.1 1.1 .4 1.1-.3 1.1-.4 1-.2 1.1-.1 1.1-.5 1.1-.6 1-.3 1.1 .6 1.1 1.2 1.1 .9 1 .1 1.1-.7 1.1-.8 1.1-.3 1.1 0 1-.1 1.1-.3 1.1-.1 1.1 .6 1 1.2 1.1 .9 1.1-.1 1.1-1.3 1.1-1.4 1-.6 1.1 .5 1.1 1 1.1 .7 1 .1 1.1-.1 1.1 0 1.1-.1 1.1-.3 1-.7 1.1-.6 1.1 .3 1.1 .9 1 1 1.1 .2 1.1-.8 1.1-1 1.1-.4 1 .3 1.1 .6 1.1 .2 1.1-.1 1 0 1.1 .4 1.1 .6 1.1 0 1-.9 1.1-1.3 1.1-.7 1.1 .5 1.1 1.1 1 1.1 1.1 .5 1.1-.1 1.1-.2 1-.4 1.1-.7 1.1-1.1 1.1-1 1.1 0 1 1.2 1.1 1.9 1.1 1.4 1.1-.1 1-1.1 1.1-1.3 1.1-.7 1.1-.1 1.1 0 1-.1 1.1 .1 1.1 .7 1.1 1.1 1 .8 1.1-.1 1.1-.9 1.1-1 1-.5 1.1 .2 1.1 .3 1.1-.1 1.1-.1 1 .2 1.1 .7 1.1 .7 1.1 0 1-.8 1.1-.9 1.1-.1 1.1 .6 1.1 .8 1 .1 1.1-.8 1.1-.8 1.1-.3 1 .6" fill="none" stroke="#48dc74" stroke-width="1.25" stroke-linejoin="round" stroke-opacity="0.9"/>
<path d="M836.2 381.1l1.1 .7 1.1 .5 1 .3 1.1-.3 1.1-.4 1.1-.2 1 .1 1.1 .4 1.1 .3 1.1-.1 1.1-.5 1-.8 1.1-.5 1.1 .1 1.1 .8 1 1.1 1.1 1 1.1 .2 1.1-.7 1-1.2 1.1-1.3 1.1-.7 1.1 .2 1.1 .9 1 1.1 1.1 .9 1.1 .4 1.1-.3 1-.8 1.1-.9 1.1-.8 1.1-.5 1.1-.3 1 0 1.1 .1 1.1 .3 1.1 .1 1-.3 1.1-.9 1.1-1.5 1.1-1.9 1.1-2 1-1.7 1.1-1.4 1.1-1.2 1.1-1.4 1-1.9 1.1-2.7 1.1-3.2 1.1-3.4 1-3.4 1.1-3.1 1.1-3.1 1.1-3.3 1.1-3.5 1-3.7 1.1-3.5 1.1-3 1.1-2.4 1-1.8 1.1-1.6 1.1-1.8 1.1-1.9 1.1-1.7 1-.9 1.1 .3 1.1 2 1.1 3.1 1 3.6 1.1 3.6 1.1 3.1 1.1 2.9 1.1 3.2 1 3.9 1.1 4.8 1.1 5.3 1.1 5.4 1 4.7 1.1 3.8 1.1 3 1.1 2.4 1 2.2 1.1 2.4 1.1 2.5 1.1 2.7 1.1 2.7 1 2.7 1.1 2.6 1.1 2.3 1.1 1.9 1 1.4 1.1 .9 1.1 .6 1.1 .5 1.1 .7 1 1 1.1 1 1.1 .8 1.1 .3 1-.4 1.1-.8 1.1-1.1 1.1-1 1.1-.8 1-.8 1.1-.8 1.1-1 1.1-1.1 1-1 1.1-.7 1.1-.3 1.1-.2 1-.6 1.1-1.1 1.1-1.7 1.1-1.9 1.1-1.4 1-.5 1.1 .4 1.1 1 1.1 .8 1 .2 1.1-.8 1.1-1.3 1.1-1.3 1.1-.8 1 .2 1.1 .8 1.1 .9 1.1 .6 1 .1 1.1-.4 1.1-.6 1.1-.3 1.1-.1 1 .2 1.1 .2 1.1 .2 1.1 .1 1 0 1.1 0 1.1 0 1.1 0 1 0 1.1-.2 1.1-.2 1.1 0 1.1 .2 1 .3 1.1 .3 1.1 0 1.1-.2 1-.4 1.1-.2 1.1-.1 1.1 .3 1.1 .3 1 .2 1.1-.1 1.1-.4 1.1-.2 1 0 1.1 .4 1.1 .5 1.1 .3 1.1-.1 1-.7 1.1-.9 1.1-.5 1.1 .1 1 .9 1.1 1.1 1.1 .9 1.1 0 1.1-.7 1-1.2 1.1-1.1 1.1-.3 1.1 .4 1 1 1.1 1 1.1 .5 1.1-.2 1-.6 1.1-.7 1.1-.3 1.1 0 1.1 .3 1 .3 1.1 .1 1.1-.1 1.1-.2 1-.1 1.1 .1 1.1 .3 1.1 .2 1.1 .1 1-.2 1.1-.2 1.1-.2 1.1-.1 1 0 1.1 0 1.1 0 1.1 0 1.1 .1 1 .3 1.1-.1 1.1-2.1 1.1-7.1 1-11.4 1.1-6.5 1.1 5.3 1.1 10.9 1 7.4 1.1 3.1 1.1 1.1 1.1 .3 1.1-.4 1-.7 1.1-.6 1.1-.2 1.1 .4 1 .7 1.1 .5 1.1 0 1.1-.6 1.1-.7 1-.4 1.1 .1 1.1 .7 1.1 .9 1 .5" fill="none" stroke="#52d87a" stroke-width="1.25" stroke-linejoin="round" stroke-opacity="0.9"/>
<path d="M836.2 380.2l1.1 .7 1.1 1.3 1 1 1.1 0 1.1-.7 1.1-.9 1-.5 1.1-.1 1.1 .2 1.1 .6 1.1 .7 1 .5 1.1 0 1.1-.7 1.1-1.2 1-.8 1.1 .4 1.1 1.3 1.1 1.4 1 .3 1.1-1.1 1.1-1.6 1.1-.8 1.1 .5 1 1.3 1.1 1 1.1-.1 1.1-1 1-1.1 1.1-.3 1.1 .4 1.1 .5 1.1-.1 1-.6 1.1-.8 1.1-.6 1.1-.5 1-.7 1.1-.9 1.1-1 1.1-.9 1.1-.9 1-1.6 1.1-2.4 1.1-2.8 1.1-2.4 1-1.5 1.1-1.3 1.1-2.1 1.1-3.7 1-4.7 1.1-4.4 1.1-2.9 1.1-1.6 1.1-1.4 1-2.6 1.1-3.9 1.1-4.3 1.1-3.2 1-1.7 1.1-.5 1.1-.2 1.1-.4 1.1-.4 1-.1 1.1 .5 1.1 1 1.1 1.5 1 2.5 1.1 3.7 1.1 4.5 1.1 4.4 1.1 3.3 1 2.2 1.1 2 1.1 3.4 1.1 4.8 1 5.3 1.1 4.3 1.1 2.3 1.1 1.3 1 1.4 1.1 2.7 1.1 3.4 1.1 3.3 1.1 2.3 1 1.5 1.1 1.6 1.1 2.1 1.1 2.2 1 1.8 1.1 1.3 1.1 1.2 1.1 1.6 1.1 2 1 1.6 1.1 .4 1.1-.6 1.1-.7 1 .1 1.1 .8 1.1 .5 1.1-.7 1.1-1.6 1-1.6 1.1-.6 1.1 .2 1.1 0 1-1.1 1.1-2.1 1.1-1.9 1.1-.9 1 .1 1.1 .1 1.1-.8 1.1-1.5 1.1-1.5 1-.7 1.1 .1 1.1 0 1.1-.7 1-.9 1.1-.4 1.1 .5 1.1 .7 1.1-.1 1-1.1 1.1-1.4 1.1-.3 1.1 1 1 1.6 1.1 .8 1.1-.8 1.1-1.6 1.1-1 1 .2 1.1 1 1.1 .5 1.1-.8 1-2.1 1.1-2.4 1.1-1.9 1.1-1 1-.1 1.1 .9 1.1 1.9 1.1 2.7 1.1 2.7 1 1.5 1.1-.5 1.1-1.7 1.1-1.4 1 .2 1.1 1.8 1.1 1.8 1.1 .4 1.1-1.2 1-1.7 1.1-.8 1.1 .6 1.1 1.2 1 .7 1.1-.3 1.1-.5 1.1-.1 1.1 .2 1 .1 1.1-.5 1.1-.6 1.1 .1 1 .9 1.1 1 1.1 .1 1.1-1.1 1.1-1.3 1-.4 1.1 1.1 1.1 1.5 1.1 .6 1-1 1.1-1.6 1.1-.7 1.1 .8 1 1.6 1.1 .9 1.1-.6 1.1-1.5 1.1-1 1 .3 1.1 1.2 1.1 1 1.1 0 1-.8 1.1-.6 1.1-.1 1.1 .2 1.1 0 1-.2 1.1 .1 1.1 .7 1.1 .9 1 .1 1.1-1.2 1.1-1.7 1.1-.7 1.1 1.1 1 2.2 1.1 1.5 1.1-.5 1.1-2.1 1-2 1.1-.4 1.1 1.5 1.1 2 1 .9 1.1-.6 1.1-1.4 1.1-.9 1.1 0 1 .5 1.1 .4 1.1 .1 1.1 .2 1 .4 1.1 .3 1.1-.4 1.1-1.1 1.1-.9 1 .1 1.1 1.4 1.1 1.4 1.1 .3 1-1.2" fill="none" stroke="#3fd46c" stroke-width="1.25" stroke-linejoin="round" stroke-opacity="0.9"/>
<path d="M836.2 381.5l1.1 .6 1.1 1.1 1 1.4 1.1 1.8 1.1 2.9 1.1 2.8 1-.8 1.1-4.6 1.1-3.5 1.1-.3 1.1 1.1 1 .4 1.1-.6 1.1-1.1 1.1-.9 1-.4 1.1-.3 1.1-.5 1.1-.4 1 .2 1.1 1.1 1.1 1.7 1.1 1.2 1.1-.1 1-1.3 1.1-1.9 1.1-1.2 1.1 0 1 1 1.1 .9 1.1 .3 1.1-.4 1.1-.3 1 .1 1.1 .5 1.1 .1 1.1-.8 1-1.6 1.1-1.7 1.1-1 1.1-.1 1.1 .4 1-.2 1.1-1.1 1.1-1.7 1.1-1.9 1-1.6 1.1-1.5 1.1-2.2 1.1-3.1 1-3.8 1.1-3.5 1.1-2.4 1.1-1.4 1.1-1.3 1-2.2 1.1-3.5 1.1-4.2 1.1-4.1 1-3.1 1.1-2.1 1.1-1.8 1.1-1.7 1.1-1.5 1-.7 1.1 .3 1.1 1 1.1 .9 1 .4 1.1-.1 1.1 .3 1.1 1.6 1.1 3.2 1 4.1 1.1 3.9 1.1 3.2 1.1 2.7 1 2.8 1.1 3.4 1.1 3.9 1.1 3.6 1 2.9 1.1 2.1 1.1 2.2 1.1 2.7 1.1 3.6 1 3.7 1.1 3.2 1.1 2.4 1.1 2 1 2.1 1.1 2.6 1.1 2.5 1.1 1.7 1.1 .7 1 .2 1.1 .6 1.1 1.5 1.1 2.3 1 2.1 1.1 .9 1.1-.8 1.1-1.7 1.1-1.8 1-1.4 1.1-.7 1.1-.4 1.1-.5 1-.4 1.1 0 1.1 .3 1.1 0 1-1.1 1.1-2.3 1.1-3.1 1.1-2.6 1.1-1.1 1 .6 1.1 1.5 1.1 1.2 1.1 .1 1-1 1.1-1.4 1.1-1.1 1.1-.8 1.1-.7 1-.6 1.1-.3 1.1 .3 1.1 1.1 1 1.5 1.1 .9 1.1-.3 1.1-1.4 1.1-1.6 1-.8 1.1 .2 1.1 .9 1.1 .9 1 .2 1.1-.3 1.1-.3 1.1 .1 1 .5 1.1 .5 1.1-.2 1.1-.7 1.1-.8 1-.3 1.1 .3 1.1 .6 1.1 .4 1-.1 1.1-.3 1.1 .1 1.1 .6 1.1 .7 1 .1 1.1-.9 1.1-1.3 1.1-1.1 1 0 1.1 1 1.1 1.4 1.1 1 1.1 .2 1-.5 1.1-.7 1.1-.5 1.1-.3 1-.4 1.1-.5 1.1-.2 1.1 .4 1.1 1.1 1 1.3 1.1 .8 1.1-.2 1.1-1.3 1-1.4 1.1-.9 1.1 .1 1.1 .7 1 .7 1.1 .4 1.1 .1 1.1 .1 1.1 .3 1 .3 1.1 0 1.1-.7 1.1-1 1-.8 1.1-.1 1.1 .6 1.1 1 1.1 .7 1 .2 1.1-.1 1.1-.2 1.1 0 1-.1 1.1-.5 1.1-.9 1.1-.8 1.1-.2 1 .7 1.1 1.4 1.1 1.4 1.1 .6 1-.4 1.1-1.1 1.1-1.2 1.1-.9 1-.3 1.1 .1 1.1 .4 1.1 .8 1.1 1 1 1 1.1 .6 1.1-.3 1.1-1.2 1-1.7 1.1-1.3 1.1-.3 1.1 .9 1.1 1.5 1 1.4 1.1 .6 1.1-.1 1.1-.7 1-.8" fill="none" stroke="#3fd46c" stroke-width="1.25" stroke-linejoin="round" stroke-opacity="0.9"/>
<path d="M836.2 380.9l1.1 .5 1.1 .8 1 .7 1.1 0 1.1-.8 1.1-.7 1 .4 1.1 1.2 1.1 1.1 1.1 0 1.1-.6 1-.1 1.1 1 1.1 1.2 1.1 .3 1-.7 1.1-.8 1.1-.1 1.1 .8 1 .8 1.1 .2 1.1-.6 1.1-.9 1.1-.4 1 .5 1.1 1.1 1.1 .6 1.1-.7 1-1.5 1.1-.8 1.1 .7 1.1 1.5 1.1 .4 1-1.4 1.1-2.1 1.1-.8 1.1 .7 1 .5 1.1-1.2 1.1-2.5 1.1-2.1 1.1-.8 1-.6 1.1-1.5 1.1-2.7 1.1-2.8 1-1.9 1.1-1.5 1.1-1.9 1.1-3 1-3.7 1.1-3.6 1.1-3.3 1.1-3 1.1-2.7 1-2.8 1.1-3.2 1.1-3.5 1.1-3.5 1-2.9 1.1-2 1.1-1.5 1.1-1.2 1.1-1 1-.5 1.1-.1 1.1 0 1.1 .2 1 1 1.1 2.1 1.1 2.9 1.1 2.8 1.1 2.3 1 2.1 1.1 2.7 1.1 3.2 1.1 3.3 1 3.2 1.1 3.7 1.1 3.9 1.1 3.6 1 2.6 1.1 2 1.1 2.3 1.1 3.3 1.1 3.6 1 3.1 1.1 2.6 1.1 2.5 1.1 2.6 1 2.1 1.1 1.4 1.1 1.6 1.1 2.7 1.1 3.5 1 2.9 1.1 1.1 1.1-.4 1.1-.1 1 1.1 1.1 1.6 1.1 .9 1.1-.2 1.1-.8 1-.5 1.1-.2 1.1-.6 1.1-1.1 1-1.4 1.1-1 1.1-.2 1.1 .3 1-.3 1.1-1.5 1.1-2.6 1.1-2.3 1.1-.6 1 1.2 1.1 1.2 1.1-.6 1.1-2.3 1-2.3 1.1-.6 1.1 1 1.1 .8 1.1-.4 1-1.1 1.1-.4 1.1 .6 1.1 .4 1-.6 1.1-1.2 1.1-.5 1.1 .6 1.1 1.2 1 .7 1.1-.2 1.1-.9 1.1-1.1 1-.6 1.1 .3 1.1 1.3 1.1 1.3 1 .2 1.1-1.2 1.1-1.7 1.1-.4 1.1 1.1 1 1.3 1.1 .3 1.1-.8 1.1-.8 1 .2 1.1 .7 1.1 .2 1.1-.6 1.1-.8 1 0 1.1 .9 1.1 1 1.1 .3 1-.9 1.1-1.4 1.1-.7 1.1 .6 1.1 1.7 1 1.2 1.1-.5 1.1-1.8 1.1-1.2 1 .5 1.1 1.6 1.1 .9 1.1-.8 1.1-1.2 1-.2 1.1 1 1.1 .9 1.1-.5 1-1.3 1.1-.4 1.1 .9 1.1 1.1 1 .2 1.1-.9 1.1-.8 1.1 0 1.1 .5 1 .4 1.1 .1 1.1-.1 1.1-.1 1-.2 1.1-.3 1.1 0 1.1 .4 1.1 .3 1-.1 1.1-.3 1.1-.2 1.1 .1 1 .3 1.1-.1 1.1-.1 1.1 0 1.1 .2 1 0 1.1-.3 1.1-.2 1.1 .2 1 .4 1.1 .1 1.1-.3 1.1-.3 1 .1 1.1 .2 1.1-.1 1.1-.1 1.1 .1 1 .4 1.1 .1 1.1-.4 1.1-.6 1 0 1.1 .6 1.1 .5 1.1-.3 1.1-.5 1 .1 1.1 .6 1.1 0 1.1-.8 1-.8" fill="none" stroke="#7ed898" stroke-width="1.25" stroke-linejoin="round" stroke-opacity="0.9"/>
<path d="M975.2 382.6l1.1 2.3 1 6.5 1.1 11.5 1.1 11.3 1.1 2 1.1-9 1-12.3 1.1-7.8 1.1-.2 1.1 8.7 1 14.9 1.1 8.1 1.1-7.9 1.1-14.2 1-6.4 1.1 4.8 1.1 11.1 1.1 8.6 1.1-2 1-10.9 1.1-12 1.1-8.7 1.1-5.2 1-1.1 1.1 2.4 1.1 2.9" fill="none" stroke="#e03a3a" stroke-width="1" stroke-linejoin="round" stroke-opacity="0.9" stroke-dasharray="3,1.5"/>
<path d="M980.6 381.9l1.1 .1 1 .5 1.1 2.9 1.1 8.8 1.1 13.7 1 7.2 1.1-8.1 1.1-15.9 1.1-12.2 1-4.7 1.1 1.3 1.1 3.4 1.1 2.1 1.1 .8" fill="none" stroke="#4ccc70" stroke-width="1.1" stroke-linejoin="round" stroke-opacity="0.9"/>
<path d="M1080.8 385.3l1.1 0 1 0 1.1-.1 1.1-1.4 1.1-10 1-17.9" fill="none" stroke="#5ccc7c" stroke-width="1.1" stroke-linejoin="round" stroke-opacity="0.9"/>
<path d="M1495.8 381.4l1.1 .1 1.1 .2 1 .2 1.1-.1 1.1-.1 1.1-.1 1 0 1.1 0 1.1-.2 1.1-.2 1-.2 1.1 .2 1.1 .5 1.1 .3 1 .1 1.1-.1 1.1-.2 1.1-.1 1-.1 1.1-.2 1.1-.3 1.1-.2 1 .2 1.1 .4 1.1 .4 1.1 .2 1-.1 1.1-.1 1.1-.1 1.1-.1 1-.1 1.1-.3 1.1-.3 1.1 0 1 .3 1.1 .3 1.1 .2 1.1 0 1-.2 1.1 0 1.1-.1 1.1-.2 1-.5 1.1-.7 1.1-.8 1.1-.7 1-.9 1.1-1.2 1.1-1.8 1.1-2.3 1-2.6 1.1-3.1 1.1-3.7 1.1-4.4 1-5.1 1.1-5.4 1.1-5.2 1.1-5 1-4.7 1.1-4.2 1.1-3.5 1.1-2.5 1-1.3 1.1-.1 1.1 .5 1.1 .8 1 1.5 1.1 2.3 1.1 3 1.1 3.5 1 3.7 1.1 3.9 1.1 4 1.1 4.1 1 4.2 1.1 3.9 1.1 3.6 1.1 3.3 1 3.3 1.1 3.3 1.1 3.2 1.1 2.8 1 2.3 1.1 2.1 1.1 2.1 1.1 1.9 1 1.8 1.1 1.5 1.1 1.3 1.1 1.2 1.1 1.4 1 1.3 1.1 1 1.1 .6 1.1 .4 1 .2 1.1 .3 1.1 .1 1.1-.1 1-.3 1.1-.3 1.1-.2 1.1-.1 1-.3 1.1-.5 1.1-.7 1.1-.6 1-.4 1.1-.4 1.1-.6 1.1-.8 1-.9 1.1-.8 1.1-.6 1.1-.5 1-.7 1.1-.7 1.1-.6 1.1-.4 1-.3 1.1-.5 1.1-.7 1.1-.9 1-.9 1.1-.5 1.1-.4 1.1-.4 1-.5 1.1-.3 1.1-.2 1.1-.1 1-.2 1.1-.5 1.1-.6 1.1-.6 1-.3 1.1 0 1.1 .1 1.1 0 1 0 1.1 .1 1.1 .3 1.1 .2 1 0 1.1-.2 1.1-.1 1.1 .2 1 .4 1.1 .5 1.1 .3 1.1 .2 1 .1 1.1 .3 1.1 .2 1.1 .1 1-.1 1.1 0 1.1 .2 1.1 .5 1 .4 1.1 .2 1.1 0 1.1-.2 1 0 1.1 0 1.1 0 1.1-.1 1-.1 1.1 .1 1.1 .3 1.1 .3 1 .2 1.1-.2 1.1-.2 1.1-.1 1.1 .1 1 0 1.1-.1 1.1-.2 1.1-.1 1 .2 1.1 .2 1.1 .1 1.1 0 1-.1 1.1 0 1.1 .2 1.1 .2 1-.1 1.1-.3 1.1-.3 1.1-.2 1 .1 1.1 .1 1.1 .1 1.1 0 1 .2 1.1 .3 1.1 .3 1.1 0 1-.3 1.1-.5 1.1-.3 1.1-.1 1 .1 1.1 .1 1.1 .1 1.1 .2 1 .3 1.1 .4 1.1 .1 1.1-.2 1-.5 1.1-.3 1.1-.2 1.1 .1 1 .1 1.1 0 1.1 0 1.1 .3 1 .3 1.1 .2 1.1-.1 1.1-.2 1-.3 1.1-.1 1.1 .1 1.1 0 1-.1 1.1-.1 1.1 0 1.1 .2 1 .2" fill="none" stroke="#f3a87a" stroke-width="1.2" stroke-linejoin="round" stroke-opacity="0.6"/>
<path d="M1495.8 381.7l1.1-.1 1.1-.1 1 0 1.1 0 1.1 0 1.1 0 1 0 1.1-.1 1.1 0 1.1 0 1 .2 1.1 .2 1.1 .2 1.1-.1 1-.1 1.1-.3 1.1-.2 1.1-.1 1 .1 1.1 .1 1.1 .1 1.1 .1 1 .1 1.1 0 1.1 0 1.1 0 1 .1 1.1 0 1.1-.1 1.1-.2 1-.2 1.1-.1 1.1 0 1.1 .1 1 .2 1.1 .2 1.1 .1 1.1 0 1-.2 1.1-.2 1.1-.4 1.1-.5 1-.6 1.1-.7 1.1-.9 1.1-1.1 1-1.3 1.1-1.7 1.1-2.2 1.1-2.7 1-3.2 1.1-3.8 1.1-4.2 1.1-4.4 1-4.6 1.1-4.5 1.1-4.3 1.1-3.8 1-3.2 1.1-2.4 1.1-1.4 1.1-.4 1 .5 1.1 1 1.1 1.5 1.1 1.8 1 2.3 1.1 2.6 1.1 3.1 1.1 3.5 1 3.7 1.1 3.8 1.1 3.7 1.1 3.5 1 3.3 1.1 3.3 1.1 3.1 1.1 2.9 1 2.8 1.1 2.6 1.1 2.3 1.1 2.1 1 1.9 1.1 1.8 1.1 1.8 1.1 1.7 1 1.7 1.1 1.4 1.1 1.3 1.1 .9 1.1 .8 1 .6 1.1 .5 1.1 .3 1.1 0 1 0 1.1-.2 1.1-.2 1.1-.3 1-.2 1.1-.3 1.1-.4 1.1-.5 1-.5 1.1-.7 1.1-.7 1.1-.8 1-.8 1.1-.8 1.1-.8 1.1-.7 1-.7 1.1-.5 1.1-.6 1.1-.5 1-.6 1.1-.7 1.1-.8 1.1-.8 1-.8 1.1-.7 1.1-.5 1.1-.5 1-.4 1.1-.5 1.1-.5 1.1-.4 1-.4 1.1-.3 1.1-.3 1.1-.4 1-.4 1.1-.4 1.1-.4 1.1-.3 1-.1 1.1 .1 1.1 .2 1.1 .3 1 .2 1.1 0 1.1 0 1.1 .1 1 .1 1.1 .2 1.1 .3 1.1 .3 1 .2 1.1 .3 1.1 .2 1.1 .3 1 .3 1.1 .3 1.1 .3 1.1 .2 1 .1 1.1 .1 1.1 0 1.1 .1 1 0 1.1 .1 1.1 .1 1.1 .1 1 0 1.1 .1 1.1 .1 1.1 .1 1 .1 1.1-.1 1.1 0 1.1-.1 1 0 1.1 0 1.1 0 1.1 0 1.1 0 1-.1 1.1 0 1.1 .1 1.1 .1 1 .2 1.1 .1 1.1 0 1.1-.1 1-.2 1.1-.2 1.1-.2 1.1 .1 1 .1 1.1 .2 1.1 .1 1.1 0 1 0 1.1 0 1.1 0 1.1 0 1 0 1.1 0 1.1-.1 1.1-.2 1-.1 1.1-.1 1.1 .1 1.1 .2 1 .3 1.1 .1 1.1 0 1.1-.1 1-.1 1.1-.2 1.1-.1 1.1-.1 1 .1 1.1 0 1.1 .1 1.1 .1 1 0 1.1 .1 1.1 .1 1.1 0 1-.1 1.1-.1 1.1-.1 1.1-.1 1 0 1.1 0 1.1 .1 1.1 0 1 0 1.1 .1 1.1 0 1.1 .1 1 .1" fill="none" stroke="#ee9460" stroke-width="1.2" stroke-linejoin="round" stroke-opacity="0.6"/>
<path d="M1495.8 381.6l1.1 0 1.1-.1 1-.1 1.1 .1 1.1 .3 1.1 .1 1-.1 1.1-.3 1.1-.1 1.1 .1 1 .1 1.1 0 1.1-.2 1.1-.1 1 .1 1.1 .2 1.1 0 1.1 .1 1 .2 1.1 .1 1.1-.1 1.1-.4 1-.4 1.1-.1 1.1 .2 1.1 .4 1 .2 1.1 .1 1.1-.1 1.1 0 1-.1 1.1-.2 1.1-.2 1.1 .1 1 .1 1.1 .1 1.1-.1 1.1-.1 1 0 1.1 .2 1.1 0 1.1-.1 1-.3 1.1-.4 1.1-.3 1.1-.6 1-.9 1.1-1.3 1.1-1.7 1.1-1.9 1-2.5 1.1-3 1.1-3.7 1.1-4.2 1-4.7 1.1-5.2 1.1-5.7 1.1-5.5 1-4.9 1.1-3.8 1.1-2.6 1.1-1.7 1-.6 1.1 .3 1.1 .8 1.1 1.4 1 2 1.1 2.6 1.1 3.3 1.1 3.7 1 3.7 1.1 3.5 1.1 3.4 1.1 3.5 1 3.8 1.1 3.7 1.1 3.5 1.1 3.1 1 2.8 1.1 2.5 1.1 2.3 1.1 2.1 1 2 1.1 2.1 1.1 2.1 1.1 1.8 1 1.4 1.1 1.3 1.1 1.4 1.1 1.5 1.1 1.4 1 1.2 1.1 .9 1.1 .8 1.1 .9 1 .7 1.1 .5 1.1 .4 1.1 .1 1-.1 1.1-.3 1.1-.6 1.1-.5 1-.2 1.1 0 1.1-.2 1.1-.5 1-.9 1.1-1 1.1-1 1.1-.8 1-.7 1.1-.7 1.1-.6 1.1-.6 1-.9 1.1-1.2 1.1-1.1 1.1-.7 1-.5 1.1-.4 1.1-.7 1.1-.9 1-1 1.1-.8 1.1-.6 1.1-.5 1-.4 1.1-.1 1.1 0 1.1-.2 1-.4 1.1-.5 1.1-.3 1.1-.1 1 0 1.1-.1 1.1-.1 1.1 .2 1 .3 1.1 .4 1.1 .3 1.1 0 1 .1 1.1 .1 1.1 .1 1.1 .1 1 .1 1.1 .2 1.1 .4 1.1 .2 1 0 1.1 0 1.1 .1 1.1 .3 1 .3 1.1 .1 1.1-.1 1.1-.2 1-.1 1.1 0 1.1-.1 1.1 .1 1 .3 1.1 .3 1.1 .2 1.1-.1 1-.3 1.1-.2 1.1 0 1.1 .1 1-.1 1.1 0 1.1 0 1.1 .2 1.1 .2 1 0 1.1-.1 1.1-.1 1.1 0 1 0 1.1-.2 1.1 0 1.1 .1 1 .2 1.1 .1 1.1-.1 1.1-.3 1-.2 1.1 .2 1.1 .3 1.1 .2 1 0 1.1-.2 1.1-.2 1.1-.2 1-.1 1.1 0 1.1 .3 1.1 .4 1 .3 1.1-.2 1.1-.5 1.1-.4 1 0 1.1 .3 1.1 .2 1.1 .2 1 .1 1.1-.1 1.1-.1 1.1-.3 1-.2 1.1 .1 1.1 .3 1.1 .2 1-.1 1.1-.2 1.1-.1 1.1 .1 1 .2 1.1 .1 1.1-.1 1.1-.1 1-.1 1.1 0 1.1-.1 1.1 0 1 .2 1.1 .2 1.1 0 1.1-.2 1-.2" fill="none" stroke="#f6b48c" stroke-width="1.2" stroke-linejoin="round" stroke-opacity="0.6"/>
<path d="M1495.8 381.9l1.1-.4 1.1-.3 1 0 1.1 .2 1.1 .1 1.1 .1 1 .1 1.1 .1 1.1 0 1.1-.1 1-.1 1.1 0 1.1 0 1.1-.2 1-.2 1.1 .1 1.1 .3 1.1 .3 1 .1 1.1 0 1.1-.2 1.1-.2 1-.4 1.1-.3 1.1 .1 1.1 .5 1 .5 1.1 .2 1.1-.1 1.1-.3 1-.3 1.1-.3 1.1-.2 1.1 .1 1 .4 1.1 .3 1.1 .1 1.1-.1 1-.2 1.1 0 1.1-.3 1.1-.4 1-.4 1.1-.4 1.1-.5 1.1-.8 1-1.1 1.1-1.4 1.1-1.9 1.1-2.6 1-3.6 1.1-4.3 1.1-4.7 1.1-4.9 1-5.2 1.1-5.1 1.1-5 1.1-4.6 1-4.2 1.1-3.7 1.1-2.5 1.1-.9 1 .4 1.1 1.3 1.1 2 1.1 2.5 1 3.2 1.1 3.4 1.1 3.5 1.1 3.6 1 3.9 1.1 4.1 1.1 4 1.1 3.8 1 3.6 1.1 3.5 1.1 3.4 1.1 2.9 1 2.5 1.1 2.3 1.1 2 1.1 1.8 1 1.6 1.1 1.6 1.1 1.8 1.1 1.8 1 1.7 1.1 1.3 1.1 1.2 1.1 1 1.1 1 1 .9 1.1 .8 1.1 1.1 1.1 .9 1 .7 1.1 .2 1.1-.1 1.1-.1 1-.2 1.1-.2 1.1-.4 1.1-.3 1-.2 1.1-.4 1.1-.6 1.1-.7 1-.6 1.1-.6 1.1-.8 1.1-.9 1-.8 1.1-.7 1.1-.7 1.1-.7 1-.8 1.1-.6 1.1-.6 1.1-.8 1-.9 1.1-.8 1.1-.6 1.1-.4 1-.5 1.1-.5 1.1-.5 1.1-.5 1-.5 1.1-.6 1.1-.5 1.1-.2 1-.1 1.1-.1 1.1-.3 1.1-.3 1-.1 1.1-.1 1.1-.1 1.1-.1 1 0 1.1 .3 1.1 .1 1.1 0 1 .1 1.1 .1 1.1 .2 1.1 .1 1 0 1.1 .2 1.1 .2 1.1 .3 1 .1 1.1 .1 1.1 .2 1.1 .2 1 0 1.1-.1 1.1-.1 1.1 .2 1 .2 1.1 .1 1.1 .1 1.1 .1 1 .1 1.1-.1 1.1-.2 1.1-.1 1 .1 1.1 .1 1.1 .1 1.1 0 1 .1 1.1 .1 1.1 0 1.1-.2 1.1-.2 1 0 1.1 .1 1.1 0 1.1 0 1 .1 1.1 .2 1.1 0 1.1-.1 1-.2 1.1-.1 1.1 .1 1.1 0 1 0 1.1 0 1.1 .2 1.1 .1 1-.1 1.1-.1 1.1-.1 1.1 0 1 0 1.1-.1 1.1 0 1.1 .2 1 .1 1.1 0 1.1-.1 1.1 0 1 0 1.1 0 1.1-.2 1.1-.1 1 .2 1.1 .2 1.1 .1 1.1-.1 1-.1 1.1 0 1.1 0 1.1-.2 1 0 1.1 .1 1.1 .2 1.1 .1 1-.1 1.1-.2 1.1 0 1.1 .1 1-.1 1.1 0 1.1 0 1.1 .2 1 0 1.1-.1 1.1-.2 1.1 .1 1 .1" fill="none" stroke="#e98a55" stroke-width="1.2" stroke-linejoin="round" stroke-opacity="0.6"/>
<path d="M1495.8 382l1.1-.6 1.1-.3 1 0 1.1 .1 1.1 .8 1.1 .8 1-.4 1.1-1.7 1.1-.7 1.1 1.2 1 1.4 1.1-.2 1.1-1.2 1.1-.4 1 .7 1.1 .5 1.1 .1 1.1 .1 1-.3 1.1-.8 1.1-.4 1.1 .4 1 .5 1.1-.3 1.1-.2 1.1 1 1 1 1.1-.6 1.1-1.5 1.1-.4 1 .9 1.1 .6 1.1-.6 1.1-.7 1-.2 1.1 .3 1.1 .8 1.1 1.2 1 .5 1.1-1.3 1.1-1.9 1.1-.7 1 .6 1.1-.3 1.1-1.6 1.1-1.5 1-.7 1.1-1.2 1.1-2.8 1.1-3.8 1-4.1 1.1-5 1.1-6.3 1.1-6.8 1-6.9 1.1-7.2 1.1-6.7 1.1-4.9 1-3 1.1-3 1.1-3.7 1.1-2.3 1 .5 1.1 2.2 1.1 1.9 1.1 1.9 1 2.9 1.1 4.2 1.1 5.2 1.1 5.8 1 6.4 1.1 5.4 1.1 4 1.1 3.7 1 4.2 1.1 3.9 1.1 2.7 1.1 2.4 1 3.8 1.1 4.5 1.1 3.1 1.1 1.7 1 1.8 1.1 2.4 1.1 2.1 1.1 1.1 1 .5 1.1 .2 1.1 .2 1.1 1.2 1.1 3.1 1 3.4 1.1 1.7 1.1 .2 1.1 .6 1 1.6 1.1 1 1.1-.6 1.1-.9 1 0 1.1 .3 1.1 .2 1.1 .5 1 .8 1.1 .5 1.1-.3 1.1-.3 1-.7 1.1-1.9 1.1-2.7 1.1-1.3 1 .8 1.1 .8 1.1-.7 1.1-1.3 1-.2 1.1 .6 1.1 0 1.1-1 1-1.6 1.1-1.9 1.1-1.8 1.1-.6 1 .9 1.1 .9 1.1-.2 1.1-.3 1 .6 1.1 .6 1.1-1 1.1-1.9 1-.8 1.1 .2 1.1 0 1.1-.7 1-.1 1.1 .6 1.1 1 1.1 1 1 .8 1.1-.3 1.1-1.9 1.1-2 1 0 1.1 1.3 1.1 .5 1.1-.8 1-.3 1.1 1.2 1.1 1.2 1.1 .2 1-.3 1.1-.4 1.1-.8 1.1-1 1-.4 1.1 .3 1.1 .2 1.1 .1 1 1 1.1 1.6 1.1 .2 1.1-1.5 1-1.3 1.1 .5 1.1 .8 1.1-.4 1-1.1 1.1-.5 1.1 .4 1.1 1 1 1.1 1.1 .9 1.1-.3 1.1-1.6 1.1-1 1 .5 1.1 .7 1.1-.6 1.1-.8 1 .5 1.1 1.2 1.1 .3 1.1-.6 1-.1 1.1 .5 1.1 .1 1.1-.5 1-.6 1.1-.4 1.1-.5 1.1 .3 1 1.5 1.1 1.2 1.1-.7 1.1-1.7 1-.3 1.1 1.3 1.1 .7 1.1-.7 1-.9 1.1-.1 1.1 .3 1.1 .2 1 .5 1.1 .4 1.1-.2 1.1-.7 1 0 1.1 .5 1.1-.2 1.1-.9 1 .1 1.1 1.3 1.1 .7 1.1-1 1-1.3 1.1 .1 1.1 1.1 1.1 .5 1-.2 1.1-.4 1.1-.6 1.1-.3 1 .6 1.1 1.3 1.1 .3 1.1-1.4 1-1.3 1.1 .4 1.1 1.1 1.1 .1 1-.6" fill="none" stroke="#3fd46c" stroke-width="1.25" stroke-linejoin="round" stroke-opacity="0.9"/>
<path d="M1495.8 379.6l1.1-.2 1.1 1.2 1 2 1.1 1 1.1-.7 1.1-1.4 1-.2 1.1 .5 1.1-.1 1.1-.8 1-.2 1.1 .8 1.1 .7 1.1-.3 1-.7 1.1 .2 1.1 .7 1.1-.2 1-1.2 1.1-.5 1.1 1.1 1.1 1.6 1 .4 1.1-.8 1.1-.7 1.1-.3 1-.8 1.1-1.2 1.1-.2 1.1 1.7 1 2.2 1.1 .7 1.1-1 1.1-1.1 1-.3 1.1-.2 1.1-.7 1.1-.4 1 .9 1.1 1.3 1.1 0 1.1-1.1 1-.6 1.1 .7 1.1 .9 1.1-.2 1-.8 1.1-.1 1.1 .5 1.1-.2 1-1.3 1.1-1.1 1.1-.4 1.1-.7 1-2.2 1.1-3.2 1.1-2.4 1.1-1.7 1-2.7 1.1-4.8 1.1-6.4 1.1-6.7 1-7.1 1.1-7.8 1.1-7.7 1.1-5.5 1-2.9 1.1-1.8 1.1-2 1.1-1.6 1 .1 1.1 1.5 1.1 1.7 1.1 1.7 1 3 1.1 4.6 1.1 5.1 1.1 4.3 1 4.4 1.1 5.6 1.1 6.8 1.1 5.9 1 4 1.1 3.3 1.1 3.5 1.1 3.5 1 2.5 1.1 2.1 1.1 3 1.1 4 1.1 3.4 1 2 1.1 1.5 1.1 2.5 1.1 2.8 1 1.5 1.1 .1 1.1-.1 1.1 .7 1 .8 1.1 .3 1.1 .5 1.1 1.7 1 2.2 1.1 .6 1.1-1.5 1.1-2 1-.9 1.1-.2 1.1-.5 1.1-.6 1 .3 1.1 .7 1.1-.4 1.1-2 1-1.9 1.1-.5 1.1 .5 1.1-.3 1-1.1 1.1-.6 1.1 .2 1.1-.1 1-1.3 1.1-1.5 1.1-.5 1.1 .1 1-.6 1.1-1.3 1.1-.3 1.1 1.3 1 1.5 1.1 0 1.1-1.3 1.1-1.1 1-.6 1.1-.9 1.1-1.1 1.1 .1 1 1.6 1.1 1.9 1.1 .1 1.1-1.4 1-1 1.1 .1 1.1 .2 1.1-.3 1-.1 1.1 .8 1.1 .8 1.1-.5 1-1.6 1.1-.8 1.1 .8 1.1 1.1 1 .1 1.1-.3 1.1 .5 1.1 1 1 .1 1.1-1.1 1.1-1 1.1-.2 1-.1 1.1-.8 1.1-.8 1.1 1 1 2.4 1.1 1.9 1.1-.1 1.1-1.1 1-1 1.1-1 1.1-1.5 1.1-1.3 1.1 .5 1 2.2 1.1 1.9 1.1 .2 1.1-.8 1-.1 1.1 .3 1.1-.3 1.1-1.2 1-.6 1.1 .3 1.1 .4 1.1-.6 1-.6 1.1 .8 1.1 1.7 1.1 1 1-.7 1.1-1 1.1-.2 1.1 .2 1-.6 1.1-.9 1.1 .1 1.1 1 1 .5 1.1-.7 1.1-.5 1.1 .8 1 1.5 1.1 .3 1.1-1.1 1.1-1 1-.2 1.1-.1 1.1-.5 1.1-.2 1 1.1 1.1 1.7 1.1 .2 1.1-1.4 1-1.3 1.1 .1 1.1 .9 1.1 .3 1-.2 1.1 .4 1.1 .7 1.1-.4 1-1.5 1.1-1.2 1.1 .6 1.1 1.3 1 .5 1.1-.4 1.1 .1 1.1 .8 1 .4" fill="none" stroke="#7ed898" stroke-width="1.25" stroke-linejoin="round" stroke-opacity="0.9"/>
<path d="M1495.8 384.4l1.1-.8 1.1-2.6 1-1.9 1.1 .4 1.1 1.8 1.1 .8 1-.5 1.1-.2 1.1 .7 1.1 .7 1-.4 1.1-.9 1.1-.3 1.1 .1 1-.4 1.1-.5 1.1 .6 1.1 1.7 1 .8 1.1-1.2 1.1-2.1 1.1-.4 1 1.5 1.1 1.5 1.1-.2 1.1-1 1-.4 1.1 .3 1.1-.1 1.1-.5 1 .1 1.1 .8 1.1 .4 1.1-.8 1-1 1.1-.8 1.1-2.8 1.1-6.8 1-8.7 1.1-4.5 1.1 3.7 1.1 8.6 1 7.3 1.1 3.3 1.1 .8 1.1 .1 1-.6 1.1-1.4 1.1-1.4 1.1-.8 1-1.1 1.1-2.9 1.1-4.3 1.1-3.9 1-3.1 1.1-4.2 1.1-6.5 1.1-7.8 1-6.4 1.1-4.4 1.1-4.1 1.1-4.7 1-4.6 1.1-2.8 1.1-.9 1.1 0 1 1 1.1 2.9 1.1 4.3 1.1 3.9 1 2.6 1.1 2.7 1.1 4.3 1.1 5.5 1 4.4 1.1 2.9 1.1 3.3 1.1 5.1 1 5.7 1.1 4.4 1.1 2.4 1.1 1.7 1 1.5 1.1 .9 1.1 .5 1.1 1.4 1 2.9 1.1 2.9 1.1 1.2 1.1-.2 1.1 .5 1 1.8 1.1 1.7 1.1-.1 1.1-.9 1 .4 1.1 2.2 1.1 2.5 1.1 1.7 1 1.1 1.1 1.4 1.1 1.1 1.1 .3 1 .1 1.1 1.2 1.1 2 1.1 .8 1-1.1 1.1-1.4 1.1 .5 1.1 1.9 1 1.1 1.1-.8 1.1-1.2 1.1-.3 1 0 1.1-.9 1.1-1.5 1.1-1 1-.2 1.1-.5 1.1-.7 1.1 0 1 1.3 1.1 .8 1.1-1.5 1.1-3.4 1-2.6 1.1-.2 1.1 .8 1.1 .1 1-.5 1.1 .1 1.1 .9 1.1 .2 1-1.1 1.1-1.5 1.1-.9 1.1-.8 1-1.2 1.1-.7 1.1 1.2 1.1 2.5 1 1.3 1.1-1.2 1.1-2.2 1.1-.8 1 .6 1.1 .3 1.1-.8 1.1-.7 1 .5 1.1 .9 1.1 .2 1.1-.1 1 .4 1.1 .6 1.1-.6 1.1-1.6 1-.8 1.1 1 1.1 1.5 1.1-.1 1-1.6 1.1-.8 1.1 1.1 1.1 1.7 1 .5 1.1-.7 1.1-.7 1.1-.3 1-.7 1.1-1 1.1 .1 1.1 1.4 1.1 1.3 1-.2 1.1-.8 1.1 .2 1.1 1.3 1 .1 1.1-1.9 1.1-2.3 1.1-.3 1 1.7 1.1 1.8 1.1 .7 1.1 .1 1 .1 1.1-.5 1.1-1.5 1.1-1.3 1 .2 1.1 1.2 1.1 .5 1.1-.7 1-.2 1.1 1.4 1.1 1.6 1.1-.3 1-2.2 1.1-1.7 1.1 .2 1.1 1.1 1 .7 1.1 .2 1.1 .4 1.1 .4 1-.6 1.1-1.2 1.1-.2 1.1 1.1 1 .9 1.1-.8 1.1-1.5 1.1-.1 1 1.5 1.1 1.2 1.1-.6 1.1-1.3 1-.3 1.1 .8 1.1 .6 1.1-.2 1-.3 1.1 .1 1.1-.3 1.1-1 1-.4 1.1 1.2 1.1 2.1 1.1 .4 1-1.6" fill="none" stroke="#7ed898" stroke-width="1.25" stroke-linejoin="round" stroke-opacity="0.9"/>
<path d="M1495.8 382.9l1.1-.1 1.1-.7 1-.9 1.1-.6 1.1-.1 1.1 .4 1 .5 1.1 .4 1.1 .2 1.1 0 1 .1 1.1 0 1.1-.3 1.1-.4 1-.5 1.1-.2 1.1 .3 1.1 .7 1 .6 1.1 .2 1.1-.4 1.1-.7 1-.4 1.1 .1 1.1 .5 1.1 .4 1-.1 1.1-.6 1.1-.6 1.1-.1 1 .6 1.1 1.1 1.1 .8 1.1 0 1-.8 1.1-1.1 1.1-.8 1.1-.2 1 .4 1.1 .6 1.1 .4 1.1 .1 1 0 1.1 .2 1.1 .3 1.1 .1 1-.5 1.1-1.1 1.1-1.6 1.1-1.5 1-1.4 1.1-1.2 1.1-1.3 1.1-1.9 1-2.5 1.1-3.3 1.1-4 1.1-4.9 1-6 1.1-6.7 1.1-7.1 1.1-6.4 1-5 1.1-3.1 1.1-1.5 1.1-.3 1 .2 1.1 .4 1.1 .7 1.1 1.6 1 2.5 1.1 3.3 1.1 3.4 1.1 3.3 1 3.2 1.1 3.1 1.1 2.9 1.1 1.9 1-.1 1.1-2.4 1.1-3.7 1.1-2.5 1 1.1 1.1 5.5 1.1 8.6 1.1 9.3 1 7.8 1.1 5.4 1.1 3.6 1.1 2.5 1.1 2.1 1 2 1.1 1.8 1.1 1.4 1.1 1.1 1 1 1.1 1.1 1.1 1 1.1 .9 1 .6 1.1 .6 1.1 .7 1.1 1.3 1 1.5 1.1 1.4 1.1 .6 1.1-.4 1-.9 1.1-1 1.1-.5 1.1 .1 1 .1 1.1-.3 1.1-.9 1.1-1.2 1-.9 1.1-.3 1.1 .3 1.1 .3 1-.3 1.1-.9 1.1-1.4 1.1-1.3 1-.8 1.1-.3 1.1-.4 1.1-.5 1-.9 1.1-.8 1.1-.3 1.1 .1 1 .5 1.1 .3 1.1-.1 1.1-.5 1-.8 1.1-.7 1.1-.7 1.1-.7 1-.6 1.1-.3 1.1 .3 1.1 .9 1 1.2 1.1 .9 1.1 .1 1.1-.9 1-1.3 1.1-1.1 1.1-.4 1.1 .2 1 .5 1.1 .3 1.1 0 1.1-.1 1 .3 1.1 .8 1.1 .8 1.1 .3 1-.5 1.1-1.2 1.1-1.3 1.1-.6 1 .2 1.1 .9 1.1 1 1.1 .5 1 0 1.1-.3 1.1-.2 1.1 0 1 0 1.1-.1 1.1-.3 1.1-.4 1.1-.2 1 .2 1.1 .3 1.1 .4 1.1 .1 1-.1 1.1 0 1.1 .2 1.1 .2 1-.1 1.1-.5 1.1-.7 1.1-.5 1 .2 1.1 .8 1.1 1 1.1 .6 1-.2 1.1-.8 1.1-1 1.1-.5 1 .2 1.1 .6 1.1 .6 1.1 .1 1-.3 1.1-.2 1.1 .2 1.1 .5 1 .4 1.1-.1 1.1-.8 1.1-1 1-.8 1.1 0 1.1 .9 1.1 1.1 1 1 1.1 .3 1.1-.2 1.1-.5 1-.6 1.1-.7 1.1-.6 1.1-.4 1-.2 1.1 .5 1.1 .9 1.1 1.1 1 .7 1.1 0 1.1-.5 1.1-.8 1-.6 1.1-.1 1.1 0 1.1-.1 1-.4" fill="none" stroke="#52d87a" stroke-width="1.25" stroke-linejoin="round" stroke-opacity="0.9"/>
<path d="M1495.8 380.7l1.1 .1 1.1 1.8 1 .9 1.1-1.5 1.1-2.2 1.1-.2 1 1.8 1.1 1.3 1.1-.3 1.1-.5 1 .4 1.1 .2 1.1-1.3 1.1-1.4 1 .1 1.1 1.5 1.1 1.1 1.1 0 1-.3 1.1-.3 1.1-.6 1.1-.5 1 .5 1.1 .9 1.1 0 1.1-1.2 1-.3 1.1 1.1 1.1 .9 1.1-1 1-1.6 1.1 .1 1.1 1.8 1.1 .9 1-.8 1.1-.5 1.1 .7 1.1 .5 1-1.4 1.1-2 1.1-.1 1.1 1.7 1 1.6 1.1 .3 1.1-.5 1.1-.5 1-.9 1.1-.9 1.1-.1 1.1 .5 1-.3 1.1-1.8 1.1-2 1.1-1.4 1-2 1.1-3.8 1.1-4.6 1.1-3.7 1-3.2 1.1-5.1 1.1-7.5 1.1-7.3 1-5.3 1.1-5 1.1-6.1 1.1-6 1-3.1 1.1 .4 1.1 1.8 1.1 1.3 1 1.4 1.1 2.3 1.1 2.7 1.1 2.8 1 3.8 1.1 5.1 1.1 5.3 1.1 4.6 1 4.2 1.1 4.4 1.1 4.1 1.1 3.1 1 2.9 1.1 4.5 1.1 5 1.1 3 1 .4 1.1 .3 1.1 2.2 1.1 2.5 1.1 .8 1-.3 1.1 1.3 1.1 2.9 1.1 2.5 1 .9 1.1 .7 1.1 1.3 1.1 1.3 1 .5 1.1 .2 1.1 1.3 1.1 1.8 1 1.1 1.1 .1 1.1-1.3 1.1-3.8 1-7.2 1.1-9 1.1-7.5 1.1-3.9 1-.4 1.1 2.7 1.1 6.2 1.1 8.7 1 7.7 1.1 4.1 1.1 1.3 1.1 1.4 1 2 1.1 .6 1.1-1.6 1.1-1.8 1-.4 1.1 .1 1.1-1 1.1-1.7 1-.9 1.1 0 1.1 0 1.1-.4 1-.3 1.1-.5 1.1-1.1 1.1-1.1 1 .3 1.1 1.5 1.1 .3 1.1-1.5 1-1.8 1.1-.3 1.1 .1 1.1-.8 1-1 1.1 1 1.1 2.4 1.1 1 1-1.7 1.1-2 1.1-.1 1.1 1 1 .1 1.1-.8 1.1-.3 1.1 .5 1 .3 1.1-.2 1.1-.1 1.1 .3 1-.1 1.1-.4 1.1 .2 1.1 1 1 .4 1.1-.9 1.1-1 1.1 .1 1 .3 1.1-.8 1.1-1 1.1 1.2 1 2.6 1.1 1.2 1.1-1.7 1.1-2.3 1.1-.3 1 1 1.1 .4 1.1-.6 1.1 .1 1 .9 1.1 .3 1.1-.9 1.1-.7 1 .3 1.1 .6 1.1 .3 1.1 .1 1 .3 1.1-.1 1.1-.9 1.1-.6 1 .5 1.1 .6 1.1-.7 1.1-1.1 1 .7 1.1 2.2 1.1 1.1 1.1-1.4 1-2.1 1.1-.2 1.1 .9 1.1 .2 1-.6 1.1 .4 1.1 1.4 1.1 .5 1-1.4 1.1-1.5 1.1 0 1.1 1 1 .8 1.1 .4 1.1 .1 1.1-.3 1-1.1 1.1-.7 1.1 .5 1.1 .9 1-.2 1.1-.8 1.1 .2 1.1 1.5 1 .7 1.1-1.4 1.1-1.5 1.1 .4 1 1.1 1.1-.1 1.1-1 1.1 .2 1 1.7" fill="none" stroke="#6ad88a" stroke-width="1.25" stroke-linejoin="round" stroke-opacity="0.9"/>
<path d="M1495.8 381.2l1.1 .1 1.1 0 1-.3 1.1-.3 1.1 0 1.1 .5 1 .7 1.1 .4 1.1 .1 1.1-.2 1-.1 1.1 .1 1.1-.1 1.1-.6 1-1 1.1-.8 1.1 .1 1.1 1.1 1 1.5 1.1 1.1 1.1 0 1.1-.8 1-1 1.1-.7 1.1-.3 1.1 0 1 0 1.1 .1 1.1 .3 1.1 .8 1 .6 1.1 .2 1.1-.4 1.1-.8 1-.4 1.1 .2 1.1 .5 1.1 .2 1-.5 1.1-.9 1.1-.7 1.1 .1 1 .8 1.1 .9 1.1 .2 1.1-.8 1-1.6 1.1-2.1 1.1-2.4 1.1-2.8 1-3.4 1.1-3.7 1.1-3.6 1.1-3.4 1-3.8 1.1-4.9 1.1-6.2 1.1-7.2 1-7.1 1.1-5.7 1.1-3.7 1.1-1.8 1-.3 1.1 .6 1.1 1.1 1.1 1.8 1 2.5 1.1 2.8 1.1 3 1.1 3.2 1 3.7 1.1 4.4 1.1 5.1 1.1 5 1 4.3 1.1 3.5 1.1 3 1.1 3.1 1 3.5 1.1 3.3 1.1 2.6 1.1 1.6 1 1.1 1.1 1.2 1.1 1.6 1.1 1.9 1 1.7 1.1 1.3 1.1 .8 1.1 .9 1.1 1 1 1.1 1.1 1 1.1 .9 1.1 1 1 1.7 1.1 2.2 1.1 2.1 1.1 1.2 1 .1 1.1-.7 1.1-.6 1.1 .4 1 1.2 1.1 1.5 1.1 1.2 1.1 .4 1-.2 1.1-.6 1.1-1.1 1.1-1.5 1-1.6 1.1-1.3 1.1-.3 1.1 .7 1 1.3 1.1 .8 1.1-.4 1.1-1.7 1-2.1 1.1-1.8 1.1-1 1.1-.5 1-.3 1.1-.2 1.1-.1 1.1 .2 1 .4 1.1 .1 1.1-.6 1.1-1.2 1-1.3 1.1-.8 1.1-.3 1.1 0 1-.1 1.1-.3 1.1 .1 1.1 .6 1 .9 1.1 .7 1.1-.3 1.1-1.6 1-3.1 1.1-5.3 1.1-7.4 1.1-6.3 1-.2 1.1 6.7 1.1 8.3 1.1 5.6 1 2.1 1.1 0 1.1-1.1 1.1-1.3 1-1 1.1 .2 1.1 1.4 1.1 1.8 1 1.1 1.1 0 1.1-1 1.1-1.3 1-.8 1.1-.2 1.1 .3 1.1 .4 1 .3 1.1 .4 1.1 .5 1.1 .4 1-.1 1.1-.7 1.1-.9 1.1-.5 1.1 .3 1 .8 1.1 .6 1.1 0 1.1-.6 1-.4 1.1 0 1.1 .6 1.1 .6 1 0 1.1-.6 1.1-.7 1.1-.3 1 .1 1.1 .4 1.1 .3 1.1 .1 1 .2 1.1 .4 1.1 .3 1.1 0 1-.8 1.1-1.1 1.1-.8 1.1 .2 1 1.1 1.1 1.2 1.1 .7 1.1-.2 1-.8 1.1-.8 1.1-.3 1.1 .1 1 .2 1.1 0 1.1 .1 1.1 .2 1 .5 1.1 .2 1.1-.3 1.1-.6 1-.6 1.1 .1 1.1 .8 1.1 .9 1 .2 1.1-.6 1.1-1.1 1.1-.9 1 0 1.1 .8 1.1 .9 1.1 .6 1 .2 1.1-.2 1.1-.2 1.1-.3 1-.7" fill="none" stroke="#7ed898" stroke-width="1.25" stroke-linejoin="round" stroke-opacity="0.9"/>
<path d="M1495.8 380.4l1.1 .6 1.1 1 1 1 1.1 .4 1.1-.4 1.1-.9 1-.9 1.1-.7 1.1-.2 1.1 .3 1 .3 1.1 .4 1.1 .1 1.1 .2 1 .3 1.1 .5 1.1 .5 1.1 .2 1-.3 1.1-1 1.1-1.3 1.1-1.1 1-.2 1.1 .8 1.1 1.5 1.1 1.4 1 .7 1.1-.4 1.1-1 1.1-.9 1-.2 1.1 .4 1.1 .4 1.1-.2 1-.9 1.1-.9 1.1-.2 1.1 1 1 1.7 1.1 1.3 1.1 .1 1.1-1.1 1-1.5 1.1-1.1 1.1-.1 1.1 .6 1 .4 1.1-.4 1.1-1.3 1.1-1.7 1-1.4 1.1-1.1 1.1-1.2 1.1-2.2 1-3.4 1.1-4.5 1.1-5.1 1.1-5.3 1-5.2 1.1-5.3 1.1-5.4 1.1-5 1-4.1 1.1-2.7 1.1-1.3 1.1 0 1 .5 1.1 .8 1.1 1.5 1.1 2.3 1 3 1.1 3.2 1.1 2.9 1.1 2.8 1 3.1 1.1 4.1 1.1 5.1 1.1 5.4 1 4.8 1.1 3.2 1.1 1.7 1.1 1.2 1 1.5 1.1 2.3 1.1 2.5 1.1 1.9 1 1 1.1 .4 1.1 .7 1.1 1.7 1.1 2.8 1 2.7 1.1 1.7 1.1 .3 1.1-.7 1-.5 1.1 .6 1.1 1.8 1.1 2.3 1 2.1 1.1 1.2 1.1 .7 1.1 .6 1 1 1.1 1.2 1.1 1.1 1.1 .4 1-.4 1.1-.9 1.1-.9 1.1-.5 1 0 1.1 .2 1.1 .2 1.1-.1 1-.3 1.1-.7 1.1-.8 1.1-.7 1-.7 1.1-.4 1.1-.5 1.1-.7 1-1 1.1-1.2 1.1-1.2 1.1-.6 1-.1 1.1 .5 1.1 .4 1.1 0 1-.6 1.1-1 1.1-1 1.1-.7 1-.5 1.1-.3 1.1-.3 1.1-.4 1-.2 1.1 .1 1.1 .4 1.1 .6 1 .6 1.1 .2 1.1-.3 1.1-.8 1-1.2 1.1-1.1 1.1-.6 1.1 .2 1 1 1.1 1.2 1.1 .8 1.1 .2 1-.5 1.1-.7 1.1-.3 1.1 .1 1 .4 1.1-.1 1.1-.7 1.1-1.1 1-.6 1.1 .4 1.1 1.5 1.1 1.7 1 .8 1.1-.5 1.1-1.5 1.1-1.4 1-.4 1.1 .7 1.1 1.1 1.1 .5 1.1-.5 1-1.2 1.1-.7 1.1 .3 1.1 1.2 1 1.3 1.1 .5 1.1-.5 1.1-1.1 1-.8 1.1-.1 1.1 .5 1.1 .4 1-.1 1.1-.5 1.1-.5 1.1 0 1 .6 1.1 .8 1.1 .6 1.1 .1 1-.3 1.1-.4 1.1-.3 1.1-.4 1-.5 1.1-.7 1.1-.3 1.1 .5 1 1.1 1.1 1.3 1.1 .7 1.1-.3 1-.9 1.1-.9 1.1-.3 1.1 .3 1 .3 1.1-.3 1.1-.8 1.1-.7 1 .1 1.1 1.2 1.1 1.8 1.1 1.2 1-.1 1.1-1.4 1.1-1.8 1.1-1.1 1 .1 1.1 .9 1.1 1 1.1 .3 1-.4 1.1-.6 1.1-.1 1.1 .6 1 1" fill="none" stroke="#7ed898" stroke-width="1.25" stroke-linejoin="round" stroke-opacity="0.9"/>
<path d="M1641 381.5l1-.8 1.1-4.6 1.1-10.8 1.1-7.5 1 4.4 1.1 2.6 1.1-8 1.1-5.8 1 7.9 1.1 16.9 1.1 15.3 1.1 4.2 1-5.9 1.1-5.7 1.1-1.9 1.1-.2 1-.1 1.1-.2 1.1-1.3 1.1-4 1-8.3 1.1-10.3 1.1-4.8 1.1 4.9 1 10.4 1.1 10.2 1.1 9.8 1.1 7.7 1-1.4 1.1-7.1 1.1-4.4" fill="none" stroke="#e03a3a" stroke-width="1" stroke-linejoin="round" stroke-opacity="0.9" stroke-dasharray="3,1.5"/>
<path d="M1731.3 381.9l1.1 1.6 1 5 1.1 10.4 1.1 12.7 1.1 6 1-6 1.1-12.7 1.1-10.4 1.1-5 1-1.6 1.1-.3" fill="none" stroke="#e03a3a" stroke-width="1" stroke-linejoin="round" stroke-opacity="0.9" stroke-dasharray="3,1.5"/>
<path d="M998.9 623l1.1 0 1 0 1.1 .1 1.1 0 1.1 0 1-.1 1.1-.1 1.1-.1 1 0 1.1 0 1.1 .2 1 .2 1.1 .1 1.1 0 1.1-.1 1-.1 1.1-.2 1.1-.1 1 0 1.1 .1 1.1 .1 1 .1 1.1-.1 1.1-.1 1.1 0 1 .1 1.1 .2 1.1 .1 1 0 1.1-.1 1.1-.3 1-.3 1.1-.1 1.1 .1 1.1 .2 1 .2 1.1 0 1.1-.1 1-.4 1.1-.5 1.1-.5 1-.6 1.1-.8 1.1-1.1 1.1-1.4 1-1.8 1.1-2.2 1.1-2.8 1-3.2 1.1-3.7 1.1-4.3 1-4.8 1.1-5.3 1.1-5.7 1.1-6 1-6 1.1-5.7 1.1-5.3 1-4.6 1.1-3.7 1.1-2.7 1-1.7 1.1-.6 1.1 .5 1.1 1.6 1 2.6 1.1 3.6 1.1 4.4 1 4.8 1.1 5.1 1.1 5.2 1.1 5.3 1 5.3 1.1 5.2 1.1 5 1 4.7 1.1 4.3 1.1 3.7 1 3.3 1.1 3 1.1 2.7 1.1 2.4 1 2.3 1.1 2 1.1 2 1 1.8 1.1 1.8 1.1 1.7 1 1.8 1.1 1.9 1.1 1.8 1.1 1.9 1 1.8 1.1 1.6 1.1 1.4 1 1.2 1.1 .9 1.1 .7 1 .5 1.1 .3 1.1 0 1.1 0 1-.2 1.1-.3 1.1-.2 1-.2 1.1-.2 1.1-.2 1-.2 1.1-.5 1.1-.6 1.1-.7 1-.7 1.1-.6 1.1-.5 1-.5 1.1-.4 1.1-.6 1-.6 1.1-.6 1.1-.7 1.1-.7 1-.7 1.1-.8 1.1-.7 1-.8 1.1-.6 1.1-.6 1-.6 1.1-.5 1.1-.5 1.1-.5 1-.5 1.1-.5 1.1-.6 1-.6 1.1-.7 1.1-.6 1-.4 1.1-.4 1.1-.2 1.1-.2 1-.3 1.1-.4 1.1-.3 1-.4 1.1-.3 1.1-.2 1.1-.1 1-.3 1.1-.2 1.1-.3 1-.3 1.1-.1 1.1-.1 1 0 1.1 0 1.1-.1 1.1-.1 1-.1 1.1-.1 1.1-.2 1-.1 1.1-.1 1.1 0 1 0 1.1 0 1.1 0 1.1 0 1-.1 1.1-.1 1.1 0 1 .1 1.1 .1 1.1 0 1-.1 1.1-.2 1.1-.1 1.1-.1 1 .1 1.1 .2 1.1 .1 1 .1 1.1-.1 1.1-.2 1-.1 1.1 0 1.1 0 1.1 .2 1 .1 1.1 0 1.1-.1 1-.1 1.1-.1 1.1 0 1 0 1.1 0 1.1 .1 1.1 .1 1 0 1.1 0 1.1 0 1-.1 1.1 0 1.1 0 1 0 1.1 0 1.1 0 1.1-.1 1-.1 1.1 0 1.1 .1 1 .2 1.1 .2 1.1 .1 1.1-.1 1-.2 1.1-.3 1.1-.1 1 0 1.1 .1 1.1 .2 1 .2 1.1 0 1.1-.1 1.1-.1 1 0 1.1 0 1.1 .1 1 .1 1.1-.1 1.1-.1 1-.2" fill="none" stroke="#9ccbec" stroke-width="1.25" stroke-linejoin="round" stroke-opacity="0.7"/>
<path d="M998.9 622.9l1.1 0 1 .1 1.1 0 1.1 0 1.1 0 1 .1 1.1 0 1.1 0 1 0 1.1 0 1.1-.1 1-.1 1.1-.1 1.1 0 1.1 .1 1 .1 1.1 .1 1.1 .1 1 0 1.1 0 1.1-.1 1-.1 1.1-.1 1.1-.1 1.1 0 1 .1 1.1 0 1.1 .1 1 .1 1.1 0 1.1 .1 1 0 1.1-.1 1.1-.2 1.1-.2 1-.2 1.1-.2 1.1-.2 1-.2 1.1-.2 1.1-.4 1-.7 1.1-.9 1.1-1.3 1.1-1.6 1-1.9 1.1-2.3 1.1-2.5 1-2.8 1.1-3 1.1-3.4 1-3.6 1.1-3.8 1.1-3.7 1.1-3.6 1-3.4 1.1-3 1.1-2.4 1-1.8 1.1-1.1 1.1-.2 1 .5 1.1 1.2 1.1 1.9 1.1 2.4 1 2.8 1.1 3.1 1.1 3.3 1 3.4 1.1 3.5 1.1 3.5 1.1 3.4 1 3.2 1.1 3 1.1 2.8 1 2.6 1.1 2.4 1.1 2.2 1 2.1 1.1 1.9 1.1 1.9 1.1 1.8 1 1.7 1.1 1.7 1.1 1.7 1 1.8 1.1 1.8 1.1 1.9 1 2 1.1 1.8 1.1 1.7 1.1 1.5 1 1.3 1.1 .9 1.1 .7 1 .5 1.1 .2 1.1 0 1 0 1.1-.1 1.1-.2 1.1-.2 1-.2 1.1-.3 1.1-.3 1-.5 1.1-.5 1.1-.5 1-.6 1.1-.5 1.1-.6 1.1-.5 1-.5 1.1-.6 1.1-.7 1-.7 1.1-.7 1.1-.8 1-.7 1.1-.6 1.1-.6 1.1-.7 1-.6 1.1-.7 1.1-.8 1-.7 1.1-.7 1.1-.6 1-.5 1.1-.5 1.1-.4 1.1-.6 1-.5 1.1-.6 1.1-.5 1-.6 1.1-.4 1.1-.4 1-.4 1.1-.3 1.1-.3 1.1-.2 1-.2 1.1-.3 1.1-.2 1-.3 1.1-.3 1.1-.4 1.1-.3 1-.2 1.1-.1 1.1 0 1 0 1.1 .1 1.1-.1 1-.1 1.1-.2 1.1-.3 1.1-.2 1-.2 1.1 0 1.1 0 1 .1 1.1 .1 1.1 0 1 0 1.1 0 1.1-.1 1.1-.1 1-.1 1.1-.1 1.1 0 1-.1 1.1 0 1.1 .1 1 .1 1.1 0 1.1 .1 1.1 0 1 0 1.1-.1 1.1-.1 1-.1 1.1 0 1.1 0 1 .1 1.1 0 1.1 0 1.1 0 1 0 1.1 0 1.1 .1 1 0 1.1 .1 1.1 0 1-.1 1.1-.1 1.1-.2 1.1 0 1 0 1.1 .1 1.1 .1 1 .2 1.1 .1 1.1 0 1-.1 1.1-.1 1.1-.2 1.1-.1 1 0 1.1 0 1.1 0 1 .2 1.1 .1 1.1 .1 1.1 .1 1 0 1.1-.1 1.1-.1 1-.2 1.1-.1 1.1-.1 1 0 1.1 .1 1.1 .2 1.1 .2 1 .2 1.1 0 1.1-.1 1-.2 1.1-.2 1.1-.2 1 0" fill="none" stroke="#86c0ea" stroke-width="1.25" stroke-linejoin="round" stroke-opacity="0.7"/>
<path d="M998.9 622.9l1.1 0 1 .1 1.1 .2 1.1 .1 1.1 0 1-.2 1.1-.2 1.1-.1 1-.1 1.1 .1 1.1 .2 1 .1 1.1 .1 1.1-.1 1.1 0 1-.1 1.1 0 1.1 0 1 0 1.1 0 1.1-.1 1-.1 1.1 0 1.1 .1 1.1 .2 1 .1 1.1 .1 1.1-.1 1-.2 1.1-.2 1.1 0 1 0 1.1 .1 1.1 0 1.1 0 1-.1 1.1-.3 1.1-.3 1-.3 1.1-.4 1.1-.5 1-.8 1.1-1.1 1.1-1.3 1.1-1.7 1-1.9 1.1-2.3 1.1-2.7 1-3.2 1.1-3.6 1.1-4 1-4.3 1.1-4.3 1.1-4.2 1.1-4 1-3.8 1.1-3.5 1.1-3 1-2.3 1.1-1.4 1.1-.4 1 .5 1.1 1.3 1.1 2 1.1 2.4 1 3 1.1 3.4 1.1 3.8 1 4 1.1 4.2 1.1 4 1.1 3.7 1 3.4 1.1 3.2 1.1 2.9 1 2.8 1.1 2.7 1.1 2.5 1 2.1 1.1 1.8 1.1 1.5 1.1 1.3 1 1.2 1.1 1.4 1.1 1.5 1 1.6 1.1 1.6 1.1 1.7 1 1.6 1.1 1.7 1.1 1.7 1.1 1.7 1 1.6 1.1 1.6 1.1 1.3 1 1.2 1.1 .9 1.1 .7 1 .5 1.1 .3 1.1 .1 1.1-.1 1-.1 1.1-.2 1.1-.3 1-.2 1.1-.3 1.1-.4 1-.4 1.1-.5 1.1-.5 1.1-.4 1-.4 1.1-.5 1.1-.5 1-.6 1.1-.8 1.1-.8 1-.7 1.1-.6 1.1-.5 1.1-.5 1-.5 1.1-.7 1.1-.9 1-.8 1.1-.8 1.1-.6 1-.5 1.1-.3 1.1-.5 1.1-.6 1-.7 1.1-.7 1.1-.6 1-.5 1.1-.4 1.1-.3 1-.4 1.1-.5 1.1-.5 1.1-.4 1-.3 1.1-.2 1.1-.2 1-.2 1.1-.3 1.1-.4 1.1-.4 1-.3 1.1-.2 1.1-.1 1 0 1.1 0 1.1-.1 1-.1 1.1-.2 1.1-.1 1.1-.2 1-.1 1.1-.2 1.1-.1 1-.1 1.1-.1 1.1 .1 1 .1 1.1 .1 1.1 0 1.1-.1 1-.2 1.1-.2 1.1-.1 1 .1 1.1 .1 1.1 .1 1 0 1.1-.1 1.1-.1 1.1 0 1 0 1.1 .1 1.1 .1 1 0 1.1-.1 1.1-.2 1-.1 1.1 0 1.1 .1 1.1 .2 1 .1 1.1 0 1.1-.1 1-.2 1.1-.1 1.1 0 1 .2 1.1 .1 1.1 .1 1.1 0 1-.2 1.1-.1 1.1 0 1 0 1.1 .1 1.1 .1 1 0 1.1-.1 1.1 0 1.1 0 1 0 1.1 .1 1.1 .1 1-.1 1.1-.1 1.1-.2 1.1-.1 1 .1 1.1 .1 1.1 .2 1 .2 1.1 0 1.1-.1 1-.2 1.1-.1 1.1-.1 1.1 .1 1 0 1.1 .1 1.1 0 1 0 1.1 0 1.1 0 1 .1" fill="none" stroke="#aad4f0" stroke-width="1.25" stroke-linejoin="round" stroke-opacity="0.7"/>
<path d="M998.9 623.1l1.1-.2 1-.1 1.1 0 1.1 .1 1.1 .1 1 .1 1.1 .1 1.1 0 1-.1 1.1-.1 1.1-.1 1-.1 1.1 .1 1.1 0 1.1 .1 1 .1 1.1 .1 1.1-.1 1 0 1.1-.1 1.1-.1 1 0 1.1 0 1.1 .1 1.1 .1 1 0 1.1 0 1.1 0 1-.1 1.1-.1 1.1 0 1 0 1.1 .1 1.1 0 1.1-.1 1-.1 1.1-.1 1.1-.3 1-.2 1.1-.4 1.1-.4 1-.6 1.1-.9 1.1-1.1 1.1-1.6 1-2 1.1-2.4 1.1-2.9 1-3.3 1.1-3.8 1.1-4.2 1-4.8 1.1-5.2 1.1-5.6 1.1-5.7 1-5.8 1.1-5.4 1.1-4.9 1-4 1.1-3.1 1.1-2 1-1 1.1 .1 1.1 1 1.1 1.8 1 2.6 1.1 3.5 1.1 4.2 1 4.9 1.1 5.2 1.1 5.5 1.1 5.4 1 5.1 1.1 4.8 1.1 4.3 1 4 1.1 3.6 1.1 3.4 1 3.2 1.1 3 1.1 2.7 1.1 2.4 1 2.2 1.1 1.8 1.1 1.7 1 1.5 1.1 1.6 1.1 1.6 1 1.7 1.1 1.9 1.1 1.8 1.1 1.7 1 1.6 1.1 1.3 1.1 1.1 1 .8 1.1 .6 1.1 .4 1 .1 1.1 .1 1.1 0 1.1 0 1 0 1.1-.2 1.1-.2 1-.4 1.1-.3 1.1-.5 1-.4 1.1-.4 1.1-.5 1.1-.4 1-.5 1.1-.4 1.1-.5 1-.5 1.1-.6 1.1-.6 1-.7 1.1-.7 1.1-.6 1.1-.7 1-.6 1.1-.5 1.1-.5 1-.6 1.1-.5 1.1-.5 1-.6 1.1-.7 1.1-.6 1.1-.5 1-.5 1.1-.5 1.1-.4 1-.4 1.1-.3 1.1-.4 1-.4 1.1-.3 1.1-.4 1.1-.4 1-.3 1.1-.4 1.1-.2 1-.2 1.1-.2 1.1-.2 1.1-.1 1-.2 1.1-.1 1.1-.2 1-.2 1.1-.2 1.1-.2 1-.1 1.1-.1 1.1 0 1.1 0 1 0 1.1 0 1.1-.1 1-.1 1.1-.2 1.1-.1 1-.1 1.1 0 1.1 0 1.1 .1 1 .1 1.1 0 1.1 0 1-.1 1.1-.1 1.1-.2 1 0 1.1 0 1.1 .1 1.1 .1 1 .1 1.1 0 1.1 0 1-.1 1.1-.2 1.1-.1 1 0 1.1 .1 1.1 .1 1.1 .2 1 .1 1.1-.1 1.1-.1 1-.1 1.1-.2 1.1 0 1 0 1.1 .1 1.1 .2 1.1 .1 1 .1 1.1 0 1.1-.2 1-.2 1.1-.1 1.1-.1 1 .1 1.1 .1 1.1 .2 1.1 .2 1 0 1.1-.1 1.1-.1 1-.2 1.1-.1 1.1-.1 1.1 .1 1 .2 1.1 .1 1.1 .1 1 .1 1.1-.1 1.1-.2 1-.1 1.1-.1 1.1 0 1.1 .1 1 .1 1.1 .1 1.1 .1 1-.1 1.1 0 1.1-.1 1-.1" fill="none" stroke="#7ab8e6" stroke-width="1.25" stroke-linejoin="round" stroke-opacity="0.7"/>
<path d="M998.9 623.1l1.1 0 1 0 1.1 0 1.1-.1 1.1 0 1 0 1.1 .1 1.1 .1 1-.1 1.1-.3 1.1-.1 1 .1 1.1 .2 1.1 .1 1.1 0 1 .1 1.1 .1 1.1-.1 1-.3 1.1-.3 1.1 .1 1 .3 1.1 .3 1.1-.2 1.1-.2 1 .1 1.1 .3 1.1 0 1-.3 1.1-.3 1.1 0 1 .1 1.1 .1 1.1 0 1.1 0 1 .1 1.1-.1 1.1-.5 1-.6 1.1-.6 1.1-.4 1-.5 1.1-.8 1.1-1.3 1.1-1.7 1-2.1 1.1-2.7 1.1-2.9 1-3.1 1.1-3.4 1.1-4 1-4.5 1.1-4.7 1.1-4.6 1.1-4.5 1-4.3 1.1-4.1 1.1-3.4 1-2.4 1.1-1.5 1.1-.9 1 0 1.1 1.1 1.1 2.1 1.1 2.7 1 2.8 1.1 3.2 1.1 3.8 1 4.4 1.1 4.5 1.1 4.3 1.1 4 1 3.9 1.1 3.8 1.1 3.4 1 2.9 1.1 2.6 1.1 2.4 1 2.1 1.1 1.7 1.1 1.4 1.1 1.4 1 1.4 1.1 1.5 1.1 1.3 1 1.1 1.1 1 1.1 .8 1 .8 1.1 .9 1.1 1.2 1.1 1.4 1 1.2 1.1 .8 1.1 .6 1 .6 1.1 .6 1.1 .3 1 0 1.1-.1 1.1 .1 1.1 .2 1-.1 1.1-.3 1.1-.2 1 0 1.1 0 1.1-.4 1-.6 1.1-.4 1.1 0 1.1 .1 1-.2 1.1-.5 1.1-.6 1-.4 1.1-.4 1.1-.5 1-.4 1.1-.1 1.1-.2 1.1-.3 1-.6 1.1-.6 1.1-.4 1-.4 1.1-.3 1.1-.4 1-.2 1.1-.3 1.1-.5 1.1-.5 1-.2 1.1-.1 1.1-.1 1-.5 1.1-.6 1.1-.4 1-.1 1.1-.1 1.1-.2 1.1-.3 1 0 1.1 0 1.1-.1 1-.5 1.1-.4 1.1-.1 1.1 .1 1-.1 1.1-.3 1.1-.3 1 .1 1.1 .3 1.1 .1 1-.2 1.1-.3 1.1-.2 1.1-.2 1-.1 1.1 0 1.1 .2 1 .3 1.1 0 1.1-.2 1-.3 1.1-.1 1.1-.1 1.1 0 1 .1 1.1 .2 1.1 .2 1-.2 1.1-.3 1.1-.1 1 .2 1.1 .2 1.1-.1 1.1-.2 1-.1 1.1 .3 1.1 .2 1-.1 1.1-.2 1.1-.1 1 .1 1.1 0 1.1-.2 1.1-.1 1 .2 1.1 .4 1.1 .2 1-.3 1.1-.4 1.1-.1 1 .2 1.1 .1 1.1 0 1.1 0 1 0 1.1 0 1.1 0 1 0 1.1 .1 1.1 .1 1 0 1.1-.2 1.1-.2 1.1 0 1 0 1.1 .1 1.1 .1 1 .3 1.1 .1 1.1-.1 1.1-.4 1-.3 1.1 .1 1.1 .3 1 .1 1.1-.2 1.1-.1 1 .3 1.1 .2 1.1 0 1.1-.3 1-.2 1.1 .1 1.1 .1 1-.1 1.1-.1 1.1 .1 1 .4" fill="none" stroke="#9ccbec" stroke-width="1.25" stroke-linejoin="round" stroke-opacity="0.7"/>
<path d="M998.9 623.3l1.1-.1 1-.1 1.1 0 1.1 0 1.1-.2 1-.1 1.1 0 1.1 0 1 0 1.1 .1 1.1 .4 1 .2 1.1 0 1.1-.3 1.1-.3 1-.2 1.1-.2 1.1 .1 1 .3 1.1 .3 1.1 .2 1-.2 1.1-.1 1.1-.1 1.1-.1 1 0 1.1 .1 1.1 .2 1-.1 1.1-.2 1.1-.1 1 0 1.1 0 1.1-.1 1.1 .1 1 0 1.1-.3 1.1-.5 1-.5 1.1-.5 1.1-.9 1-1.2 1.1-1.4 1.1-1.8 1.1-2.3 1-2.7 1.1-3.1 1.1-3.7 1-4.3 1.1-4.9 1.1-5.4 1-5.5 1.1-5.8 1.1-5.8 1.1-5.5 1-5.1 1.1-4.6 1.1-3.8 1-2.7 1.1-1.5 1.1-.2 1 .9 1.1 1.8 1.1 2.7 1.1 3.4 1 3.9 1.1 4.6 1.1 5.2 1 5.4 1.1 5.3 1.1 5.3 1.1 5.1 1 4.7 1.1 4.4 1.1 4.2 1 4 1.1 3.4 1.1 2.9 1 2.3 1.1 2.2 1.1 1.8 1.1 1.8 1 2 1.1 2.1 1.1 2 1 1.7 1.1 1.5 1.1 1.5 1 1.3 1.1 1.2 1.1 1.2 1.1 1.3 1 1.1 1.1 .8 1.1 .7 1 .6 1.1 .2 1.1-.1 1-.1 1.1-.1 1.1-.3 1.1-.3 1-.1 1.1-.1 1.1-.1 1-.4 1.1-.4 1.1-.5 1-.5 1.1-.6 1.1-.3 1.1-.2 1-.4 1.1-.5 1.1-.6 1-.6 1.1-.5 1.1-.7 1-.5 1.1-.5 1.1-.6 1.1-.7 1-.6 1.1-.4 1.1-.3 1-.3 1.1-.4 1.1-.4 1-.7 1.1-.9 1.1-.7 1.1-.4 1-.2 1.1-.2 1.1-.1 1-.2 1.1-.4 1.1-.5 1-.5 1.1-.3 1.1-.2 1.1-.2 1-.3 1.1-.2 1.1-.2 1-.3 1.1-.2 1.1 0 1.1 0 1-.2 1.1-.1 1.1-.1 1-.1 1.1-.1 1.1-.2 1-.1 1.1-.1 1.1-.2 1.1-.1 1 .1 1.1 .2 1.1 0 1 0 1.1-.1 1.1-.1 1-.2 1.1-.2 1.1 .1 1.1 .2 1 0 1.1 0 1.1-.1 1-.1 1.1-.1 1.1 0 1 .2 1.1 .2 1.1 0 1.1-.1 1-.2 1.1 0 1.1-.2 1 0 1.1 .2 1.1 .1 1-.1 1.1-.1 1.1 0 1.1 .1 1 .1 1.1 .1 1.1 .1 1 0 1.1-.3 1.1-.3 1-.1 1.1 .1 1.1 .1 1.1 .2 1 .3 1.1 .2 1.1-.1 1-.2 1.1-.2 1.1-.1 1-.1 1.1-.1 1.1 0 1.1 .2 1 .2 1.1 .1 1.1 .1 1 0 1.1-.1 1.1-.3 1.1-.2 1 .1 1.1 .1 1.1 .1 1 .2 1.1 .1 1.1-.2 1-.3 1.1-.1 1.1 .1 1.1 .2 1 .1 1.1 .1 1.1 .1 1-.2 1.1-.2 1.1-.1 1 .2" fill="none" stroke="#86c0ea" stroke-width="1.25" stroke-linejoin="round" stroke-opacity="0.7"/>
<path d="M998.9 623.2l1.1-.1 1-.2 1.1-.1 1.1-.1 1.1 .1 1 .3 1.1 .2 1.1-.1 1-.2 1.1-.1 1.1 0 1 .1 1.1 .1 1.1 0 1.1 .1 1-.1 1.1-.3 1.1-.2 1 .1 1.1 .3 1.1 .3 1 0 1.1-.1 1.1-.1 1.1-.1 1-.2 1.1 0 1.1 .1 1 .2 1.1 0 1.1-.2 1-.1 1.1 0 1.1 0 1.1 0 1-.2 1.1-.2 1.1-.4 1-.6 1.1-.9 1.1-1 1-1 1.1-1.4 1.1-1.9 1.1-2.3 1-2.7 1.1-3.2 1.1-3.8 1-4.4 1.1-4.7 1.1-5.1 1-5.4 1.1-5.5 1.1-5.4 1.1-4.9 1-4.3 1.1-3.8 1.1-3 1-2 1.1-.8 1.1 .3 1 1.1 1.1 2.1 1.1 2.9 1.1 3.5 1 4 1.1 4.4 1.1 4.9 1 5.2 1.1 5.2 1.1 4.8 1.1 4.6 1 4.2 1.1 3.8 1.1 3.3 1 3.1 1.1 2.9 1.1 2.5 1 2.2 1.1 1.7 1.1 1.5 1.1 1.6 1 1.5 1.1 1.5 1.1 1.5 1 1.4 1.1 1.3 1.1 1.1 1 .9 1.1 1.1 1.1 1.3 1.1 1.3 1 1.2 1.1 .8 1.1 .7 1 .5 1.1 .2 1.1 .1 1 .1 1.1 .2 1.1-.1 1.1-.3 1-.4 1.1-.3 1.1-.2 1-.1 1.1-.2 1.1-.1 1-.1 1.1-.4 1.1-.6 1.1-.6 1-.3 1.1-.3 1.1-.4 1-.5 1.1-.5 1.1-.5 1-.5 1.1-.5 1.1-.4 1.1-.3 1-.3 1.1-.5 1.1-.6 1-.6 1.1-.4 1.1-.4 1-.5 1.1-.4 1.1-.3 1.1-.3 1-.4 1.1-.4 1.1-.2 1-.2 1.1-.4 1.1-.4 1-.4 1.1-.2 1.1-.2 1.1-.2 1-.2 1.1-.2 1.1-.2 1-.2 1.1-.2 1.1-.1 1.1 .1 1 0 1.1-.3 1.1-.3 1-.2 1.1-.1 1.1-.1 1 0 1.1 .1 1.1 .1 1.1-.1 1-.3 1.1-.2 1.1 .1 1 .1 1.1 .1 1.1 0 1-.1 1.1-.2 1.1-.1 1.1-.2 1 .1 1.1 .2 1.1 .3 1 0 1.1-.2 1.1-.2 1-.1 1.1 0 1.1 .1 1.1 .1 1 .1 1.1 0 1.1-.2 1-.2 1.1 0 1.1 .2 1 .2 1.1 0 1.1 0 1.1 0 1-.2 1.1-.1 1.1-.1 1 .1 1.1 .2 1.1 0 1-.1 1.1-.1 1.1 0 1.1 .1 1 0 1.1 .1 1.1 .1 1 0 1.1-.1 1.1-.2 1-.1 1.1 .1 1.1 .1 1.1 0 1 0 1.1 0 1.1 .1 1 0 1.1 0 1.1 0 1.1 0 1-.1 1.1-.1 1.1-.1 1 .1 1.1 .2 1.1 0 1-.1 1.1 0 1.1 0 1.1 .1 1 0 1.1 0 1.1 .1 1 0 1.1-.2 1.1-.3 1 0" fill="none" stroke="#aad4f0" stroke-width="1.25" stroke-linejoin="round" stroke-opacity="0.7"/>
<path d="M998.9 623l1.1-.1 1 .1 1.1 .2 1.1 .1 1.1-.2 1-.2 1.1-.1 1.1 0 1 0 1.1 .1 1.1 .1 1 .3 1.1 .1 1.1-.2 1.1-.3 1 0 1.1 0 1.1-.1 1 0 1.1 .2 1.1 .3 1 0 1.1-.2 1.1-.2 1.1 0 1 0 1.1 0 1.1 0 1 .2 1.1 .1 1.1-.1 1-.2 1.1-.1 1.1 0 1.1-.1 1-.2 1.1-.1 1.1 0 1-.3 1.1-.6 1.1-1 1-1 1.1-1.1 1.1-1.4 1.1-1.9 1-2.2 1.1-2.5 1.1-3 1-3.8 1.1-4.3 1.1-4.5 1-4.7 1.1-5 1.1-4.9 1.1-4.7 1-4.3 1.1-3.8 1.1-3.5 1-2.6 1.1-1.4 1.1-.4 1 .4 1.1 1.3 1.1 2.3 1.1 3.1 1 3.5 1.1 3.8 1.1 4.2 1 4.6 1.1 4.6 1.1 4.5 1.1 4.4 1 4.3 1.1 4.1 1.1 3.5 1 3.1 1.1 2.9 1.1 2.7 1 2.4 1.1 2 1.1 2 1.1 2 1 1.9 1.1 1.7 1.1 1.5 1 1.7 1.1 1.7 1.1 1.5 1 1.3 1.1 1.4 1.1 1.5 1.1 1.2 1 1 1.1 .9 1.1 .7 1 .6 1.1 .1 1.1-.2 1-.1 1.1-.1 1.1-.2 1.1-.3 1-.2 1.1-.1 1.1-.1 1-.3 1.1-.5 1.1-.4 1-.4 1.1-.5 1.1-.7 1.1-.5 1-.3 1.1-.4 1.1-.6 1-.5 1.1-.5 1.1-.5 1-.6 1.1-.8 1.1-.6 1.1-.4 1-.5 1.1-.6 1.1-.6 1-.4 1.1-.4 1.1-.6 1-.6 1.1-.5 1.1-.3 1.1-.5 1-.5 1.1-.4 1.1-.3 1-.2 1.1-.4 1.1-.5 1-.2 1.1-.2 1.1-.4 1.1-.4 1-.2 1.1-.1 1.1-.1 1-.2 1.1-.2 1.1-.1 1.1-.2 1-.3 1.1-.3 1.1-.1 1 0 1.1 .1 1.1-.1 1 0 1.1 .1 1.1-.1 1.1-.3 1-.4 1.1 0 1.1 0 1 .1 1.1 0 1.1 .2 1 .1 1.1 0 1.1-.3 1.1-.2 1-.1 1.1 0 1.1 0 1 .1 1.1 .1 1.1 .2 1 0 1.1-.2 1.1-.2 1.1 0 1 .1 1.1-.1 1.1 0 1 .2 1.1 .1 1.1-.1 1-.2 1.1 0 1.1 .1 1.1 0 1 0 1.1 0 1.1 .2 1 0 1.1-.1 1.1-.3 1 0 1.1 .1 1.1 .1 1.1 0 1 .1 1.1 .1 1.1 0 1-.2 1.1-.2 1.1 0 1 .2 1.1 0 1.1 0 1.1 .1 1 .1 1.1 0 1.1-.3 1-.1 1.1 .1 1.1 .1 1.1 .1 1 0 1.1 0 1.1 .1 1-.1 1.1-.3 1.1-.1 1 .2 1.1 .1 1.1 .1 1.1 0 1 .1 1.1 0 1.1-.1 1-.3 1.1-.1 1.1 .2 1 .1" fill="none" stroke="#7ab8e6" stroke-width="1.25" stroke-linejoin="round" stroke-opacity="0.7"/>
<path d="M998.9 623.3l1.1 0 1-.2 1.1-.3 1.1-.1 1.1 .2 1 .3 1.1 .1 1.1-.2 1-.2 1.1-.1 1.1 .1 1 .2 1.1 .1 1.1-.1 1.1-.2 1-.1 1.1 .1 1.1 .2 1 .1 1.1-.2 1.1-.2 1-.1 1.1 .2 1.1 .4 1.1 .2 1-.2 1.1-.4 1.1-.3 1 0 1.1 .3 1.1 .3 1 .1 1.1-.1 1.1-.2 1.1-.1 1 0 1.1-.1 1.1-.1 1-.3 1.1-.2 1.1 0 1-.1 1.1-.4 1.1-.7 1.1-1.2 1-1.4 1.1-1.4 1.1-1.6 1-1.9 1.1-2.3 1.1-2.7 1-3.3 1.1-3.7 1.1-4.1 1.1-4.2 1-4.2 1.1-4 1.1-3.8 1-3.5 1.1-3.1 1.1-2.5 1-1.8 1.1-.9 1.1 0 1.1 .7 1 1.4 1.1 2.2 1.1 2.8 1 3.3 1.1 3.5 1.1 3.6 1.1 3.6 1 3.7 1.1 3.9 1.1 4 1 3.7 1.1 3.2 1.1 2.7 1 2.3 1.1 2.3 1.1 2.2 1.1 2.2 1 1.8 1.1 1.7 1.1 1.4 1 1.6 1.1 1.6 1.1 1.5 1 1.2 1.1 1.1 1.1 1.2 1.1 1.3 1 1.6 1.1 1.5 1.1 1.1 1 .7 1.1 .3 1.1 .3 1 .3 1.1 .3 1.1 0 1.1-.1 1-.1 1.1-.2 1.1 0 1-.1 1.1-.3 1.1-.5 1-.4 1.1-.3 1.1-.2 1.1-.3 1-.3 1.1-.5 1.1-.6 1-.5 1.1-.3 1.1-.4 1-.5 1.1-.5 1.1-.6 1.1-.5 1-.5 1.1-.5 1.1-.4 1-.5 1.1-.4 1.1-.4 1-.5 1.1-.6 1.1-.5 1.1-.4 1-.4 1.1-.3 1.1-.3 1-.3 1.1-.4 1.1-.4 1-.3 1.1-.3 1.1-.3 1.1-.4 1-.2 1.1-.1 1.1-.1 1-.1 1.1-.3 1.1-.4 1.1-.3 1-.1 1.1 .1 1.1 0 1-.2 1.1-.3 1.1-.2 1 0 1.1 0 1.1 0 1.1-.1 1-.1 1.1-.1 1.1 0 1 .1 1.1-.1 1.1-.2 1-.3 1.1 0 1.1 .2 1.1 .3 1 .2 1.1-.2 1.1-.3 1-.3 1.1 0 1.1 .1 1 .2 1.1 0 1.1 0 1.1 0 1 .1 1.1 .1 1.1-.2 1-.2 1.1-.3 1.1 .1 1 .2 1.1 .4 1.1 .1 1.1-.1 1-.3 1.1-.2 1.1 0 1 0 1.1 .2 1.1 0 1 .1 1.1 0 1.1 .1 1.1-.1 1-.1 1.1-.1 1.1-.1 1 .1 1.1 .1 1.1 .1 1 .1 1.1-.1 1.1-.1 1.1-.1 1 0 1.1 0 1.1 .1 1 .1 1.1 .1 1.1 0 1.1-.1 1-.2 1.1-.2 1.1 .1 1 .2 1.1 .2 1.1 .1 1-.2 1.1-.1 1.1-.1 1.1 .1 1 0 1.1-.1 1.1 0 1 0 1.1 .2 1.1 .2 1 .1" fill="none" stroke="#9ccbec" stroke-width="1.25" stroke-linejoin="round" stroke-opacity="0.7"/>
<path d="M998.9 623.3l1.1-.2 1-.2 1.1 0 1.1 .2 1.1 .1 1-.2 1.1-.3 1.1-.1 1 .2 1.1 .3 1.1 0 1 0 1.1 .1 1.1 .1 1.1-.1 1-.2 1.1-.1 1.1 0 1 0 1.1-.1 1.1 0 1 .1 1.1 .4 1.1 .1 1.1-.2 1-.3 1.1-.1 1.1 .2 1 .1 1.1-.1 1.1-.3 1 0 1.1 .2 1.1 .2 1.1-.3 1-.4 1.1-.3 1.1-.2 1-.4 1.1-.7 1.1-.9 1-1 1.1-1.3 1.1-1.9 1.1-2.6 1-2.9 1.1-3.4 1.1-3.7 1-4.5 1.1-5 1.1-5.3 1-5.5 1.1-5.5 1.1-5.9 1.1-5.8 1-5.3 1.1-4.5 1.1-3.5 1-2.6 1.1-1.5 1.1-.2 1 1 1.1 2 1.1 2.7 1.1 3.5 1 4.2 1.1 5 1.1 5.1 1 5.3 1.1 5.3 1.1 5.3 1.1 5.3 1 4.7 1.1 4 1.1 3.7 1 3.6 1.1 3.4 1.1 2.9 1 2.3 1.1 2 1.1 1.9 1.1 1.9 1 1.5 1.1 1.1 1.1 1 1 1.1 1.1 1.4 1.1 1.3 1 1.4 1.1 1.4 1.1 1.4 1.1 1.2 1 1 1.1 .9 1.1 .7 1 .7 1.1 .4 1.1 0 1-.1 1.1 .2 1.1 .3 1.1 .1 1-.3 1.1-.4 1.1-.2 1 .1 1.1-.1 1.1-.4 1-.6 1.1-.4 1.1-.2 1.1-.3 1-.5 1.1-.6 1.1-.4 1-.3 1.1-.2 1.1-.4 1-.4 1.1-.4 1.1-.4 1.1-.7 1-.7 1.1-.6 1.1-.4 1-.3 1.1-.5 1.1-.4 1-.3 1.1-.1 1.1-.1 1.1-.6 1-.7 1.1-.6 1.1-.3 1-.2 1.1-.4 1.1-.3 1-.3 1.1 0 1.1-.1 1.1-.3 1-.3 1.1-.3 1.1-.1 1-.2 1.1-.3 1.1-.2 1.1-.1 1 .1 1.1-.1 1.1-.4 1-.3 1.1 0 1.1 .2 1 0 1.1-.1 1.1-.2 1.1 0 1 .1 1.1 0 1.1-.3 1-.2 1.1-.1 1.1 .1 1 0 1.1 0 1.1 .1 1.1 .2 1 0 1.1-.2 1.1-.2 1 0 1.1 .1 1.1 0 1-.1 1.1-.2 1.1 .1 1.1 .3 1 .2 1.1-.3 1.1-.3 1-.1 1.1 .3 1.1 .2 1 0 1.1-.2 1.1 0 1.1 .1 1 .1 1.1-.1 1.1-.3 1 0 1.1 0 1.1 .1 1 0 1.1 .2 1.1 .2 1.1 .1 1-.2 1.1-.3 1.1 0 1 .1 1.1 0 1.1-.1 1-.2 1.1 .1 1.1 .3 1.1 .3 1-.1 1.1-.3 1.1-.1 1 .1 1.1 .2 1.1-.1 1.1-.2 1 0 1.1 0 1.1 .1 1-.1 1.1-.1 1.1 .1 1 .1 1.1 .2 1.1-.1 1.1 0 1 .1 1.1 .1 1.1-.2 1-.3 1.1-.2 1.1 .1 1 .2" fill="none" stroke="#86c0ea" stroke-width="1.25" stroke-linejoin="round" stroke-opacity="0.7"/>
<path d="M998.9 622.8l1.1 0 1 .2 1.1 .2 1.1 .2 1.1-.1 1-.2 1.1-.2 1.1-.2 1 0 1.1 .2 1.1 .2 1 0 1.1 0 1.1-.1 1.1 0 1 0 1.1 .1 1.1 .1 1-.1 1.1-.1 1.1-.2 1-.1 1.1 0 1.1 .2 1.1 .2 1 .2 1.1 .1 1.1-.1 1-.1 1.1-.3 1.1-.2 1-.1 1.1 .1 1.1 .2 1.1 .1 1 0 1.1-.2 1.1-.3 1-.2 1.1-.3 1.1-.3 1-.6 1.1-1 1.1-1.3 1.1-1.5 1-1.7 1.1-1.9 1.1-2.3 1-2.7 1.1-3.4 1.1-3.9 1-4.4 1.1-4.7 1.1-4.8 1.1-4.8 1-4.6 1.1-4.3 1.1-3.8 1-3.3 1.1-2.6 1.1-1.7 1-.7 1.1 .3 1.1 1.2 1.1 2 1 2.5 1.1 3.1 1.1 3.6 1 4.1 1.1 4.5 1.1 4.7 1.1 4.6 1 4.4 1.1 3.9 1.1 3.7 1 3.5 1.1 3.3 1.1 3.1 1 2.8 1.1 2.5 1.1 2.2 1.1 2.1 1 1.9 1.1 1.9 1.1 1.9 1 1.8 1.1 1.6 1.1 1.6 1 1.5 1.1 1.5 1.1 1.4 1.1 1.3 1 1.3 1.1 1 1.1 .8 1 .4 1.1 .1 1.1-.1 1-.1 1.1 0 1.1 0 1.1 0 1-.1 1.1-.4 1.1-.5 1-.4 1.1-.4 1.1-.2 1-.3 1.1-.4 1.1-.5 1.1-.6 1-.6 1.1-.4 1.1-.4 1-.4 1.1-.6 1.1-.6 1-.8 1.1-.7 1.1-.6 1.1-.5 1-.4 1.1-.4 1.1-.4 1-.5 1.1-.6 1.1-.7 1-.7 1.1-.5 1.1-.4 1.1-.3 1-.4 1.1-.3 1.1-.5 1-.4 1.1-.4 1.1-.2 1-.2 1.1-.2 1.1-.4 1.1-.5 1-.5 1.1-.3 1.1-.1 1 0 1.1 .1 1.1-.1 1.1-.1 1-.3 1.1-.2 1.1-.3 1-.2 1.1-.2 1.1 0 1 0 1.1 0 1.1 0 1.1 0 1-.1 1.1 0 1.1-.1 1 0 1.1 0 1.1-.2 1-.2 1.1-.1 1.1 0 1.1 .1 1 .2 1.1 .2 1.1 0 1-.1 1.1-.2 1.1-.1 1-.1 1.1 0 1.1 0 1.1 0 1 .1 1.1 .1 1.1 0 1 .1 1.1-.1 1.1 0 1-.1 1.1 0 1.1 0 1.1 0 1-.1 1.1 0 1.1 0 1 .1 1.1 .2 1.1 0 1 0 1.1-.1 1.1-.2 1.1 0 1 0 1.1 .1 1.1 0 1 .1 1.1-.1 1.1 0 1 0 1.1 .1 1.1 0 1.1 0 1-.1 1.1 0 1.1 0 1 0 1.1 0 1.1 0 1.1 .1 1 0 1.1 0 1.1-.1 1 0 1.1-.1 1.1 0 1 .1 1.1 .1 1.1 .1 1.1 0 1-.1 1.1-.2 1.1-.1 1 .1 1.1 .1 1.1 .1 1 0" fill="none" stroke="#aad4f0" stroke-width="1.25" stroke-linejoin="round" stroke-opacity="0.7"/>
<path d="M998.9 623.2l1.1 0 1-.1 1.1-.3 1.1-.1 1.1 .1 1 .3 1.1 .3 1.1-.1 1-.2 1.1-.3 1.1 .1 1 .1 1.1-.1 1.1 0 1.1 .1 1 .2 1.1 0 1.1-.3 1-.1 1.1 .3 1.1 .1 1-.2 1.1-.2 1.1 0 1.1 .3 1 .2 1.1-.2 1.1-.3 1 0 1.1 .2 1.1 .2 1-.1 1.1-.2 1.1-.3 1.1-.1 1-.1 1.1-.2 1.1-.2 1-.3 1.1-.5 1.1-1 1-1.4 1.1-1.6 1.1-1.5 1.1-1.8 1-2.4 1.1-3.2 1.1-3.6 1-3.8 1.1-4.2 1.1-4.6 1-4.8 1.1-4.9 1.1-4.7 1.1-4.6 1-4 1.1-3.3 1.1-2.5 1-1.8 1.1-.9 1.1 .3 1 1.3 1.1 2 1.1 2.5 1.1 3.1 1 3.7 1.1 4.2 1.1 4.4 1 4.5 1.1 4.6 1.1 4.5 1.1 3.9 1 3.4 1.1 3.1 1.1 3.1 1 3.1 1.1 2.5 1.1 1.9 1 1.5 1.1 1.3 1.1 1.3 1.1 1.2 1 1 1.1 .8 1.1 .8 1 1 1.1 1 1.1 .8 1 .9 1.1 1.2 1.1 1.4 1.1 1.3 1 1 1.1 1.2 1.1 1.5 1 1.4 1.1 1 1.1 .8 1 1 1.1 1.1 1.1 .9 1.1 .3 1-.1 1.1-.2 1.1-.2 1-.1 1.1 0 1.1 0 1 0 1.1-.4 1.1-.4 1.1-.4 1-.3 1.1-.3 1.1-.3 1-.4 1.1-.5 1.1-.5 1-.6 1.1-.4 1.1-.4 1.1-.4 1-.5 1.1-.6 1.1-.6 1-.5 1.1-.5 1.1-.4 1-.7 1.1-.6 1.1-.5 1.1-.1 1-.2 1.1-.7 1.1-.8 1-.7 1.1-.2 1.1-.2 1-.4 1.1-.4 1.1-.2 1.1-.2 1-.6 1.1-.6 1.1-.2 1 0 1.1 0 1.1-.4 1.1-.5 1-.4 1.1 0 1.1 .1 1-.1 1.1-.3 1.1-.2 1-.1 1.1-.1 1.1-.1 1.1-.2 1-.2 1.1 0 1.1 .1 1 0 1.1-.1 1.1-.1 1 0 1.1-.2 1.1-.3 1.1-.1 1 .3 1.1 .2 1.1 .1 1-.3 1.1-.1 1.1-.1 1 0 1.1 0 1.1 .2 1.1 .1 1-.2 1.1-.3 1.1 0 1 .2 1.1 .3 1.1-.1 1-.2 1.1 0 1.1 .1 1.1-.1 1-.1 1.1-.1 1.1 .2 1 .1 1.1 0 1.1-.1 1 .1 1.1 0 1.1 0 1.1-.2 1-.2 1.1 .1 1.1 .3 1 .3 1.1-.1 1.1-.3 1-.3 1.1 .1 1.1 .3 1.1 .1 1-.2 1.1-.1 1.1 .1 1 0 1.1-.1 1.1 0 1.1 .2 1 .3 1.1-.2 1.1-.3 1-.2 1.1 .2 1.1 .2 1 0 1.1-.1 1.1 0 1.1 .1 1 0 1.1 0 1.1-.1 1-.1 1.1-.1 1.1 0 1 .2" fill="none" stroke="#7ab8e6" stroke-width="1.25" stroke-linejoin="round" stroke-opacity="0.7"/>
<path d="M998.9 623.4l1.1-.2 1-.3 1.1-.3 1.1-.1 1.1 .1 1 .3 1.1 .3 1.1 .2 1 0 1.1-.1 1.1-.3 1-.1 1.1-.1 1.1 0 1.1 .1 1 .1 1.1 .1 1.1 .1 1 0 1.1-.1 1.1-.2 1-.1 1.1 0 1.1 .2 1.1 .2 1 .1 1.1-.1 1.1-.2 1-.2 1.1-.1 1.1 0 1 .2 1.1 .1 1.1 0 1.1-.1 1-.2 1.1-.3 1.1-.3 1-.4 1.1-.6 1.1-.8 1-1 1.1-1.3 1.1-1.6 1.1-2.1 1-2.6 1.1-3.1 1.1-3.6 1-4 1.1-4.5 1.1-4.9 1-5.4 1.1-5.7 1.1-5.8 1.1-5.6 1-5.2 1.1-4.4 1.1-3.6 1-2.7 1.1-1.7 1.1-.6 1 .5 1.1 1.4 1.1 2.4 1.1 3.2 1 3.9 1.1 4.4 1.1 4.8 1 5.2 1.1 5.2 1.1 5.3 1.1 4.9 1 4.7 1.1 4.3 1.1 3.9 1 3.6 1.1 3.2 1.1 2.7 1 2.4 1.1 2 1.1 1.9 1.1 1.8 1 1.8 1.1 1.6 1.1 1.5 1 1.3 1.1 1.4 1.1 1.3 1 1.4 1.1 1.5 1.1 1.4 1.1 1.4 1 1.3 1.1 1.2 1.1 1.1 1 .8 1.1 .6 1.1 .3 1 .1 1.1 0 1.1 .1 1.1 .2 1 0 1.1-.1 1.1-.4 1-.5 1.1-.5 1.1-.4 1-.3 1.1-.2 1.1-.1 1.1-.2 1-.4 1.1-.5 1.1-.6 1-.7 1.1-.7 1.1-.7 1-.6 1.1-.3 1.1-.3 1.1-.3 1-.4 1.1-.7 1.1-.7 1-.7 1.1-.6 1.1-.4 1-.4 1.1-.4 1.1-.5 1.1-.5 1-.5 1.1-.4 1.1-.4 1-.3 1.1-.4 1.1-.4 1-.3 1.1-.3 1.1-.2 1.1-.3 1-.3 1.1-.3 1.1-.3 1-.2 1.1-.1 1.1-.2 1.1-.2 1-.3 1.1-.2 1.1 0 1 0 1.1 .1 1.1-.1 1-.2 1.1-.3 1.1-.4 1.1-.1 1 0 1.1 .2 1.1 .1 1 .1 1.1 0 1.1-.1 1-.1 1.1-.2 1.1-.2 1.1-.1 1 0 1.1 .1 1.1 .2 1 .1 1.1 0 1.1-.1 1-.2 1.1-.1 1.1 0 1.1 .1 1 .2 1.1 0 1.1-.1 1-.1 1.1-.1 1.1-.1 1 .1 1.1 .1 1.1 .1 1.1 0 1 0 1.1 0 1.1 0 1-.1 1.1 0 1.1-.1 1-.1 1.1 .1 1.1 .1 1.1 .1 1 .1 1.1-.1 1.1-.1 1-.1 1.1 0 1.1 .1 1 .1 1.1 .1 1.1-.1 1.1-.1 1-.1 1.1 0 1.1 0 1 0 1.1 .1 1.1 0 1.1 .1 1 .1 1.1 .1 1.1-.1 1-.2 1.1-.2 1.1-.1 1 0 1.1 .1 1.1 .3 1.1 .1 1 .1 1.1-.1 1.1-.1 1-.1 1.1 0 1.1-.1 1 0" fill="none" stroke="#9ccbec" stroke-width="1.25" stroke-linejoin="round" stroke-opacity="0.7"/>
<path d="M998.9 623.1l1.1 .1 1-.1 1.1-.1 1.1-.1 1.1 0 1 .2 1.1 0 1.1-.1 1-.1 1.1 0 1.1 .1 1 .1 1.1 .1 1.1 0 1.1-.2 1-.2 1.1 .1 1.1 .2 1 .1 1.1-.1 1.1-.1 1 0 1.1 0 1.1-.1 1.1-.1 1 .1 1.1 .3 1.1 .1 1-.1 1.1-.2 1.1-.1 1 0 1.1 .1 1.1-.1 1.1-.1 1-.2 1.1-.2 1.1-.2 1-.1 1.1-.3 1.1-.5 1-.8 1.1-1.1 1.1-1.3 1.1-1.8 1-2.3 1.1-2.5 1.1-2.6 1-3.2 1.1-3.8 1.1-4.5 1-4.7 1.1-4.7 1.1-4.9 1.1-4.9 1-4.9 1.1-4.4 1.1-3.8 1-3 1.1-2.2 1.1-1.1 1 0 1.1 .9 1.1 1.8 1.1 2.5 1 3.1 1.1 3.6 1.1 4.1 1 4.6 1.1 4.7 1.1 4.6 1.1 4.2 1 4 1.1 4 1.1 3.9 1 3.4 1.1 2.9 1.1 2.7 1 2.3 1.1 2 1.1 1.5 1.1 1.2 1 1.3 1.1 1.3 1.1 1.2 1 1.1 1.1 1 1.1 1.1 1 1.3 1.1 1.4 1.1 1.5 1.1 1.5 1 1.2 1.1 1.2 1.1 1.3 1 1.3 1.1 1.3 1.1 1 1 1 1.1 .9 1.1 .7 1.1 .1 1-.2 1.1-.1 1.1 .1 1 .1 1.1-.2 1.1-.3 1-.4 1.1-.3 1.1-.2 1.1-.3 1-.3 1.1-.4 1.1-.5 1-.5 1.1-.5 1.1-.4 1-.5 1.1-.5 1.1-.4 1.1-.4 1-.7 1.1-.9 1.1-.7 1-.4 1.1-.3 1.1-.4 1-.7 1.1-.6 1.1-.4 1.1-.4 1-.6 1.1-.5 1.1-.5 1-.5 1.1-.5 1.1-.5 1-.5 1.1-.3 1.1-.3 1.1-.1 1-.2 1.1-.3 1.1-.5 1-.6 1.1-.2 1.1-.1 1.1-.1 1-.4 1.1-.3 1.1-.1 1-.1 1.1-.1 1.1-.2 1-.1 1.1 .1 1.1-.1 1.1-.2 1-.3 1.1-.2 1.1 0 1 0 1.1 0 1.1 0 1-.2 1.1-.1 1.1 0 1.1 .2 1 .1 1.1 0 1.1-.2 1-.1 1.1-.1 1.1-.1 1-.2 1.1 0 1.1 .2 1.1 .3 1 0 1.1-.2 1.1-.1 1 .1 1.1 .1 1.1 0 1-.1 1.1-.2 1.1-.1 1.1 0 1 .1 1.1 .1 1.1 .1 1 .1 1.1-.1 1.1 0 1 0 1.1-.2 1.1-.1 1.1 .1 1 .3 1.1 0 1.1-.2 1-.2 1.1 0 1.1 .2 1 .1 1.1 0 1.1-.1 1.1 .1 1 0 1.1-.1 1.1 0 1 0 1.1 .1 1.1-.1 1.1 0 1-.1 1.1-.1 1.1 0 1 .1 1.1 .4 1.1 .1 1-.1 1.1-.3 1.1-.1 1.1 0 1 .1 1.1-.1 1.1-.1 1 .1 1.1 .2 1.1 0 1-.1" fill="none" stroke="#86c0ea" stroke-width="1.25" stroke-linejoin="round" stroke-opacity="0.7"/>
<path d="M998.9 622.9l1.1 0 1 0 1.1 .2 1.1 .2 1.1 .1 1-.2 1.1-.2 1.1-.2 1 .1 1.1 0 1.1 0 1 .1 1.1 0 1.1-.1 1.1 0 1 .2 1.1 .2 1.1 .1 1-.2 1.1-.2 1.1-.2 1-.2 1.1 .1 1.1 .3 1.1 .2 1 0 1.1-.1 1.1-.1 1 0 1.1 0 1.1 .1 1 .1 1.1 0 1.1-.2 1.1-.3 1-.1 1.1 .1 1.1 0 1-.2 1.1-.1 1.1-.3 1-.5 1.1-.7 1.1-.7 1.1-1 1-1.4 1.1-1.9 1.1-2.1 1-2.4 1.1-2.8 1.1-3.3 1-3.6 1.1-3.9 1.1-4.2 1.1-4.6 1-4.5 1.1-4.4 1.1-4.2 1-3.9 1.1-3.1 1.1-2.3 1-1.3 1.1-.4 1.1 .5 1.1 1.3 1 1.8 1.1 2.4 1.1 3.1 1 3.8 1.1 4 1.1 4.1 1.1 4 1 4 1.1 3.9 1.1 3.6 1 3.6 1.1 3.5 1.1 3 1 2.5 1.1 2 1.1 1.9 1.1 1.8 1 1.5 1.1 1.4 1.1 1.3 1 1.1 1.1 .9 1.1 1 1 1.3 1.1 1.5 1.1 1.4 1.1 1.3 1 1.2 1.1 1.1 1.1 .9 1 1 1.1 1.1 1.1 1.1 1 .7 1.1 .5 1.1 .3 1.1 .2 1 0 1.1 .1 1.1 0 1-.1 1.1-.2 1.1-.3 1-.3 1.1-.2 1.1-.3 1.1-.3 1-.4 1.1-.3 1.1-.3 1-.4 1.1-.3 1.1-.3 1-.4 1.1-.6 1.1-.5 1.1-.5 1-.5 1.1-.6 1.1-.5 1-.5 1.1-.5 1.1-.3 1-.3 1.1-.2 1.1-.4 1.1-.7 1-.7 1.1-.5 1.1-.4 1-.3 1.1-.2 1.1-.3 1-.4 1.1-.5 1.1-.4 1.1-.1 1-.1 1.1-.2 1.1-.2 1-.4 1.1-.4 1.1-.4 1.1-.1 1 0 1.1-.1 1.1-.2 1-.3 1.1-.1 1.1-.1 1 0 1.1 .1 1.1 0 1.1-.1 1-.3 1.1-.4 1.1-.1 1 0 1.1 .1 1.1 0 1 .1 1.1 .1 1.1-.1 1.1-.1 1 0 1.1 0 1.1-.1 1-.2 1.1 0 1.1 0 1 0 1.1 0 1.1 .1 1.1 0 1 0 1.1-.1 1.1 .1 1 .1 1.1 0 1.1-.2 1-.1 1.1 0 1.1 0 1.1 0 1 .1 1.1 .1 1.1-.1 1-.1 1.1 .1 1.1 .2 1 .1 1.1 0 1.1-.2 1.1-.2 1-.2 1.1-.1 1.1 .2 1 .3 1.1 .2 1.1-.1 1-.1 1.1-.1 1.1 0 1.1 0 1 .1 1.1 .1 1.1-.1 1-.3 1.1-.1 1.1 .1 1.1 .2 1 .1 1.1 .1 1.1 0 1-.1 1.1-.2 1.1 0 1 .2 1.1 .1 1.1-.1 1.1-.2 1-.1 1.1 0 1.1 0 1 .1 1.1 .3 1.1 .1 1-.1" fill="none" stroke="#aad4f0" stroke-width="1.25" stroke-linejoin="round" stroke-opacity="0.7"/>
<path d="M998.9 622.9l1.1 .2 1 .2 1.1 .1 1.1-.1 1.1-.1 1-.3 1.1-.1 1.1-.1 1 .1 1.1 0 1.1 .1 1 .1 1.1 .1 1.1 .1 1.1 .1 1 0 1.1-.1 1.1-.2 1-.3 1.1-.1 1.1 0 1 .3 1.1 .3 1.1 .2 1.1 0 1-.2 1.1-.2 1.1-.2 1 0 1.1 0 1.1 .1 1 0 1.1 0 1.1-.1 1.1-.2 1-.2 1.1-.3 1.1-.5 1-.6 1.1-.8 1.1-1 1-1.3 1.1-1.7 1.1-2.1 1.1-2.8 1-3.4 1.1-3.8 1.1-4.3 1-4.7 1.1-5.1 1.1-5.5 1-5.9 1.1-6 1.1-5.8 1.1-5.4 1-4.8 1.1-3.8 1.1-2.9 1-1.8 1.1-.7 1.1 .4 1 1.5 1.1 2.5 1.1 3.5 1.1 4.2 1 4.8 1.1 5 1.1 5.3 1 5.3 1.1 5.3 1.1 5.1 1.1 4.9 1 4.4 1.1 4.1 1.1 3.8 1 3.3 1.1 2.9 1.1 2.5 1 2 1.1 1.6 1.1 1.4 1.1 1.4 1 1.5 1.1 1.4 1.1 1.5 1 1.4 1.1 1.4 1.1 1.3 1 1.5 1.1 1.6 1.1 1.7 1.1 1.8 1 1.7 1.1 1.5 1.1 1.5 1 1.4 1.1 1.3 1.1 1.1 1 .8 1.1 .5 1.1 .1 1.1-.1 1-.1 1.1 0 1.1-.1 1-.2 1.1-.2 1.1-.4 1-.4 1.1-.4 1.1-.4 1.1-.5 1-.5 1.1-.6 1.1-.5 1-.5 1.1-.4 1.1-.5 1-.5 1.1-.8 1.1-1 1.1-.9 1-.8 1.1-.6 1.1-.4 1-.4 1.1-.4 1.1-.6 1-.7 1.1-.9 1.1-.8 1.1-.7 1-.7 1.1-.5 1.1-.5 1-.4 1.1-.3 1.1-.3 1-.4 1.1-.5 1.1-.5 1.1-.6 1-.5 1.1-.4 1.1-.3 1-.2 1.1-.2 1.1-.3 1.1-.2 1-.2 1.1-.1 1.1-.1 1-.1 1.1-.2 1.1-.4 1-.4 1.1-.3 1.1-.1 1.1 .1 1 .1 1.1 .1 1.1 0 1-.1 1.1-.2 1.1-.2 1-.1 1.1-.1 1.1 0 1.1-.1 1 0 1.1 .1 1.1 0 1 .1 1.1 0 1.1-.1 1-.1 1.1-.1 1.1 0 1.1 0 1 .1 1.1 .1 1.1-.1 1-.1 1.1-.1 1.1 0 1 .1 1.1 .1 1.1 .1 1.1-.1 1-.1 1.1-.1 1.1 0 1 .1 1.1 .1 1.1 0 1-.1 1.1-.1 1.1-.1 1.1 0 1 .1 1.1 .2 1.1 .1 1 .1 1.1-.1 1.1-.2 1-.1 1.1-.1 1.1 0 1.1 0 1 .1 1.1 .1 1.1 .1 1 .2 1.1 .1 1.1-.1 1.1-.2 1-.3 1.1-.2 1.1 0 1 .2 1.1 .3 1.1 .2 1 0 1.1-.1 1.1-.2 1.1-.2 1 0 1.1 .1 1.1 .1 1 .1 1.1 0 1.1-.1 1 0" fill="none" stroke="#7ab8e6" stroke-width="1.25" stroke-linejoin="round" stroke-opacity="0.7"/>
<path d="M998.9 623.2l1.1 0 1-.1 1.1-.2 1.1-.2 1.1 0 1 .2 1.1 .2 1.1 .1 1-.1 1.1-.1 1.1-.1 1 .2 1.1 .1 1.1 0 1.1-.1 1-.2 1.1 0 1.1 0 1 .1 1.1 0 1.1-.1 1-.1 1.1 .2 1.1 .2 1.1 .2 1-.1 1.1-.2 1.1-.3 1-.1 1.1 0 1.1 .1 1 .1 1.1-.1 1.1-.1 1.1-.1 1 0 1.1-.3 1.1-.5 1-.7 1.1-.9 1.1-.9 1-1.2 1.1-1.5 1.1-2.2 1.1-2.7 1-3.2 1.1-3.5 1.1-3.9 1-4.4 1.1-4.9 1.1-5.4 1-5.7 1.1-5.6 1.1-5.5 1.1-5.2 1-4.7 1.1-3.9 1.1-2.9 1-1.6 1.1-.3 1.1 .6 1 1.5 1.1 2.2 1.1 3 1.1 3.8 1 4.6 1.1 4.9 1.1 5.1 1 5.1 1.1 5 1.1 5 1.1 4.7 1 4.4 1.1 3.9 1.1 3.4 1 3.1 1.1 2.8 1.1 2.6 1 2.2 1.1 1.7 1.1 1.3 1.1 1.2 1 1.4 1.1 1.5 1.1 1.6 1 1.5 1.1 1.5 1.1 1.5 1 1.5 1.1 1.7 1.1 1.6 1.1 1.4 1 1.3 1.1 1.4 1.1 1.4 1 1.4 1.1 1.2 1.1 .7 1 .3 1.1 0 1.1 0 1.1 .1 1 .1 1.1-.1 1.1-.3 1-.4 1.1-.3 1.1-.4 1-.4 1.1-.4 1.1-.6 1.1-.4 1-.3 1.1-.2 1.1-.4 1-.6 1.1-.8 1.1-.9 1-.7 1.1-.5 1.1-.5 1.1-.6 1-.7 1.1-.6 1.1-.6 1-.5 1.1-.6 1.1-.6 1-.7 1.1-.7 1.1-.4 1.1-.4 1-.5 1.1-.6 1.1-.8 1-.6 1.1-.4 1.1-.2 1-.2 1.1-.3 1.1-.4 1.1-.4 1-.4 1.1-.3 1.1-.3 1-.5 1.1-.4 1.1-.3 1.1 0 1 .1 1.1-.1 1.1-.2 1-.3 1.1-.3 1.1-.1 1 0 1.1 0 1.1-.2 1.1-.2 1-.2 1.1-.1 1.1 .1 1 0 1.1-.1 1.1-.2 1 0 1.1 .2 1.1 .2 1.1 0 1-.2 1.1-.3 1.1-.3 1 0 1.1 .2 1.1 .1 1 .1 1.1-.1 1.1-.1 1.1 .1 1 .1 1.1 .1 1.1-.2 1-.1 1.1-.1 1.1 0 1 .2 1.1 0 1.1-.1 1.1-.2 1 0 1.1 .1 1.1 .2 1 .2 1.1 0 1.1-.2 1-.1 1.1-.1 1.1 0 1.1 .1 1-.1 1.1-.1 1.1 0 1 .2 1.1 .2 1.1 .1 1-.1 1.1-.2 1.1-.1 1.1 0 1 .1 1.1 .1 1.1-.1 1-.1 1.1-.1 1.1 .1 1.1 .1 1 .1 1.1 0 1.1 0 1 0 1.1 0 1.1 .1 1-.1 1.1-.2 1.1-.2 1.1 0 1 .1 1.1 .3 1.1 .1 1 0 1.1-.1 1.1-.1 1 0" fill="none" stroke="#9ccbec" stroke-width="1.25" stroke-linejoin="round" stroke-opacity="0.7"/>
<path d="M998.9 622.8l1.1 .3 1 .3 1.1 0 1.1-.1 1.1-.1 1-.2 1.1-.3 1.1-.1 1 .1 1.1 .3 1.1 .2 1 .1 1.1 0 1.1 0 1.1-.2 1-.3 1.1-.1 1.1 .1 1 .1 1.1 .1 1.1 .1 1 .1 1.1 0 1.1-.1 1.1-.2 1 0 1.1 .1 1.1-.1 1 0 1.1 .1 1.1 0 1 0 1.1-.1 1.1 0 1.1 0 1-.1 1.1-.3 1.1-.3 1-.4 1.1-.5 1.1-.7 1-.8 1.1-1 1.1-1.2 1.1-1.8 1-2.3 1.1-2.6 1.1-3.1 1-3.7 1.1-4.1 1.1-4.3 1-4.5 1.1-4.7 1.1-4.8 1.1-4.6 1-4.4 1.1-4.1 1.1-3.5 1-2.7 1.1-1.6 1.1-.6 1 .4 1.1 1.4 1.1 2.3 1.1 2.9 1 3.3 1.1 3.8 1.1 4.1 1 4.3 1.1 4.3 1.1 4.3 1.1 4.4 1 4.2 1.1 4 1.1 3.6 1 3.2 1.1 2.9 1.1 2.4 1 2 1.1 1.7 1.1 1.8 1.1 1.6 1 1.6 1.1 1.6 1.1 1.7 1 1.6 1.1 1.4 1.1 1.3 1 1.4 1.1 1.5 1.1 1.4 1.1 1.4 1 1.5 1.1 1.4 1.1 1.1 1 .8 1.1 .6 1.1 .5 1 .1 1.1-.1 1.1 0 1.1 .1 1 0 1.1-.3 1.1-.3 1-.3 1.1-.3 1.1-.5 1-.4 1.1-.2 1.1-.2 1.1-.4 1-.5 1.1-.5 1.1-.6 1-.7 1.1-.6 1.1-.5 1-.4 1.1-.5 1.1-.6 1.1-.6 1-.5 1.1-.7 1.1-.7 1-.6 1.1-.4 1.1-.4 1-.5 1.1-.6 1.1-.4 1.1-.5 1-.6 1.1-.6 1.1-.3 1-.3 1.1-.4 1.1-.4 1-.3 1.1-.3 1.1-.4 1.1-.4 1-.3 1.1-.1 1.1-.2 1-.3 1.1-.2 1.1-.2 1.1-.2 1-.3 1.1-.2 1.1 0 1 0 1.1-.1 1.1-.2 1 0 1.1-.1 1.1-.2 1.1-.3 1-.1 1.1 .1 1.1 0 1 0 1.1 0 1.1 .1 1 0 1.1-.2 1.1-.1 1.1-.1 1-.1 1.1-.2 1.1 0 1 .2 1.1 .2 1.1 .1 1 0 1.1 .1 1.1-.1 1.1-.3 1-.3 1.1-.1 1.1 .1 1 .1 1.1 .2 1.1 .2 1 .3 1.1 0 1.1-.3 1.1-.2 1-.2 1.1-.1 1.1-.1 1 .2 1.1 .2 1.1 .3 1 0 1.1-.1 1.1-.1 1.1-.1 1-.2 1.1-.1 1.1 .1 1 .2 1.1 .1 1.1 0 1 0 1.1 .1 1.1-.1 1.1-.2 1 0 1.1 .1 1.1 0 1 0 1.1 0 1.1 0 1.1 .1 1-.1 1.1 0 1.1 0 1 .1 1.1 0 1.1-.1 1-.1 1.1 0 1.1 0 1.1 0 1 .1 1.1 .2 1.1 .1 1-.1 1.1-.2 1.1 0 1-.2" fill="none" stroke="#86c0ea" stroke-width="1.25" stroke-linejoin="round" stroke-opacity="0.7"/>
<path d="M998.9 623.7l1.1 .4 1-.7 1.1-.3 1.1 .8 1.1 .3 1-.8 1.1-.3 1.1 .5 1-.1 1.1-1 1.1-.1 1 1.3 1.1 .7 1.1-.9 1.1-.5 1 .8 1.1 .5 1.1-.9 1-.7 1.1 .6 1.1 .8 1-.5 1.1-.8 1.1 .1 1.1 .2 1-.4 1.1 .5 1.1 1.7 1 .7 1.1-1.9 1.1-2.1 1 .3 1.1 1.9 1.1 .9 1.1-.6 1-.7 1.1-.8 1.1-.9 1 .3 1.1 2 1.1 1.2 1-1.6 1.1-2.7 1.1-1.1 1.1 .3 1-1 1.1-2.6 1.1-2.4 1-1.9 1.1-2.5 1.1-2.7 1-1.7 1.1-1.1 1.1-1.7 1.1-1 1 1.3 1.1 2.1 1.1 .4 1-1.2 1.1 .4 1.1 2.8 1 3.2 1.1 2 1.1 1.6 1.1 1.2 1 .3 1.1 .5 1.1 2.3 1 3.2 1.1 1 1.1-1.4 1.1-1.1 1 .5 1.1 0 1.1-2.9 1-6 1.1-9.8 1.1-14.9 1-17.6 1.1-13.6 1.1-4 1.1 5.9 1 12.8 1.1 16.5 1.1 16 1 11.4 1.1 5.9 1.1 3.3 1 3.3 1.1 2.7 1.1 .9 1.1 .7 1 2 1.1 2.1 1.1 1 1 .9 1.1 1.8 1.1 1.5 1 .2 1.1 0 1.1 1.2 1.1 .8 1-1.1 1.1-1.4 1.1 .3 1 .8 1.1-.9 1.1-2.1 1-1.4 1.1-.7 1.1-1.1 1.1-1.3 1-.4 1.1-.6 1.1-1.9 1-1.9 1.1 .3 1.1 1 1-1 1.1-2.6 1.1-1.4 1.1 .5 1 .4 1.1-.5 1.1-.6 1-.7 1.1-1.3 1.1-.6 1 1.5 1.1 2.2 1.1-.4 1.1-2.5 1-1.5 1.1 1 1.1 1.4 1 .1 1.1-.4 1.1-.4 1-.8 1.1-.7 1.1 .8 1.1 1.7 1 .3 1.1-1.4 1.1-.6 1 1 1.1 .5 1.1-1.1 1.1-.9 1 .6 1.1 .9 1.1-.1 1-.3 1.1 .2 1.1-.2 1-.9 1.1 .3 1.1 1.9 1.1 .9 1-1.6 1.1-2 1.1 0 1 1 1.1 .4 1.1 .1 1 .7 1.1 .1 1.1-1.3 1.1-.9 1 1 1.1 1.4 1.1-.1 1-.8 1.1-.1 1.1 0 1-1.1 1.1-.7 1.1 1.3 1.1 1.9 1-.2 1.1-1.5 1.1-.5 1 .5 1.1 .3 1.1 .1 1 .5 1.1 .3 1.1-1.3 1.1-1.3 1 .6 1.1 1.7 1.1 .1 1-1.1 1.1-.2 1.1 1.1 1 .4 1.1-.8 1.1-.5 1.1 .2 1-.2 1.1-.3 1.1 .7 1 .9 1.1-.8 1.1-1.7 1 0 1.1 2.3 1.1 1.3 1.1-1 1-1.5 1.1-.4 1.1 .3 1 .2 1.1 .7 1.1 .6 1.1-.9 1-1.7 1.1 .1 1.1 2.2 1 1.4 1.1-1.2 1.1-1.7 1 0 1.1 1 1.1 .2 1.1-.1 1 .1 1.1-.6 1.1-1.2 1 .1 1.1 1.9 1.1 1.2 1-1" fill="none" stroke="#3fd46c" stroke-width="1.2" stroke-linejoin="round" stroke-opacity="0.85"/>
<path d="M998.9 621.8l1.1 1.1 1 .6 1.1-1.2 1.1-2.8 1.1-2.8 1-2.5 1.1-3.5 1.1-4.9 1-4.4 1.1-1.5 1.1 1.4 1 2.6 1.1 3.1 1.1 3.3 1.1 3 1 2.4 1.1 2.3 1.1 2.2 1 1.2 1.1 0 1.1-.1 1 1 1.1 1.5 1.1 .5 1.1-.2 1-.3 1.1-.1 1.1-.3 1-.2 1.1 .5 1.1 .5 1-.8 1.1-1.3 1.1-.2 1.1 1.1 1 1 1.1-.1 1.1-.5 1 .3 1.1 .6 1.1 .3 1-.2 1.1-.9 1.1-1.7 1.1-1.3 1 .3 1.1 1.4 1.1 .6 1-1 1.1-1.4 1.1-.6 1-.9 1.1-2.2 1.1-3.2 1.1-2.6 1-1.5 1.1-.8 1.1 .4 1 1.4 1.1 1.2 1.1 .1 1-.2 1.1 .5 1.1 1.1 1.1 .7 1 .3 1.1 .7 1.1 1.3 1 1.4 1.1 1.6 1.1 1.8 1.1 1 1-.4 1.1-.6 1.1 .7 1 1.7 1.1 .6 1.1-1 1-1 1.1 .3 1.1 .9 1.1 .4 1-.1 1.1-.1 1.1 .1 1 .4 1.1 .9 1.1 .9 1-.4 1.1-1.4 1.1-.8 1.1 .8 1 1.4 1.1 1 1.1 .9 1 1.5 1.1 1.5 1.1 1 1 .7 1.1 .9 1.1 .5 1.1-.5 1-.2 1.1 1.2 1.1 2.1 1 1.2 1.1-.4 1.1-.7 1-.5 1.1-.4 1.1-.5 1.1-.7 1-1 1.1-1.4 1.1-.7 1 .5 1.1 .7 1.1-.9 1-2.2 1.1-1.5 1.1 .1 1.1 .4 1-.5 1.1-.9 1.1-.5 1-.4 1.1-.5 1.1-.3 1-.1 1.1-.4 1.1-.9 1.1-.2 1 .9 1.1 1.1 1.1 0 1-.9 1.1-.7 1.1-.6 1-.4 1.1 .1 1.1 .8 1.1 .4 1-.5 1.1-.2 1.1 .9 1 1.1 1.1-.5 1.1-1.8 1.1-1 1 .5 1.1 1.1 1.1 .6 1 0 1.1-.3 1.1-.4 1-.2 1.1 .5 1.1 .4 1.1-.6 1-.9 1.1 .2 1.1 1.3 1 .7 1.1-.6 1.1-.9 1-.4 1.1-.2 1.1-.1 1.1 .5 1 1 1.1 .5 1.1-.5 1-.5 1.1 .3 1.1 .4 1-.7 1.1-1.3 1.1-.5 1.1 .6 1 1.1 1.1 1.1 1.1 .6 1-.5 1.1-1.2 1.1-.7 1 .6 1.1 .5 1.1-.8 1.1-1.1 1 .3 1.1 1.6 1.1 1 1-.3 1.1-.8 1.1-.4 1-.2 1.1 0 1.1 .4 1.1 .4 1-.3 1.1-.9 1.1-.1 1 .7 1.1 .5 1.1-.3 1-.3 1.1 .3 1.1 .4 1.1 .2 1 .2 1.1 0 1.1-1 1-1.6 1.1-.4 1.1 1.3 1.1 1.5 1 .2 1.1-.5 1.1 .1 1 .8 1.1 .1 1.1-.9 1-1.3 1.1-1.1 1.1-.3 1.1 .9 1 1.7 1.1 1.3 1.1-.4 1-.8 1.1 0 1.1 .5 1-.5" fill="none" stroke="#52d87a" stroke-width="1.2" stroke-linejoin="round" stroke-opacity="0.85"/>
<path d="M998.9 622.1l1.1 .2 1 .8 1.1 1 1.1 .6 1.1-.1 1-.7 1.1-1 1.1-.7 1 .1 1.1 .7 1.1 1 1 .7 1.1-.1 1.1-.7 1.1-.9 1-.6 1.1 0 1.1 .6 1 .7 1.1 .4 1.1-.1 1-.4 1.1-.5 1.1-.1 1.1 .3 1 .5 1.1 .4 1.1 0 1-.5 1.1-.8 1.1-.5 1-.1 1.1 .3 1.1 .7 1.1 .7 1 .4 1.1 .1 1.1-.3 1-.5 1.1-.5 1.1-.6 1-.5 1.1-.4 1.1-.3 1.1-.2 1-.3 1.1-.6 1.1-.9 1-1.5 1.1-1.7 1.1-1.9 1-1.7 1.1-1.5 1.1-1.2 1.1-.7 1-.1 1.1 .3 1.1 .8 1 1.3 1.1 1.5 1.1 1.4 1 .9 1.1 .5 1.1 .3 1.1 .4 1 .8 1.1 1.3 1.1 1.4 1 1.2 1.1 .6 1.1 .2 1.1 0 1 .1 1.1 .6 1.1 .7 1 .7 1.1 .2 1.1-.4 1-.6 1.1-.3 1.1 .2 1.1 1.1 1 1.3 1.1 1.3 1.1 .9 1 .3 1.1 .3 1.1 .7 1 1.4 1.1 2.3 1.1 2.5 1.1 2.3 1 1.7 1.1 1 1.1 .4 1 .3 1.1 .4 1.1 .5 1 .6 1.1 .5 1.1 .1 1.1-.4 1-.8 1.1-1.2 1.1-1.5 1-1.8 1.1-2.1 1.1-2.7 1-3.6 1.1-4.7 1.1-6 1.1-7 1-7.3 1.1-6.7 1.1-5.1 1-2.5 1.1 .2 1.1 2.5 1 4.1 1.1 4.7 1.1 4.8 1.1 4.5 1 4.2 1.1 3.8 1.1 3.1 1 2.3 1.1 1.1 1.1 0 1-.8 1.1-1 1.1-.5 1.1 0 1 .4 1.1 .4 1.1 .1 1-.3 1.1-.3 1.1 0 1 .3 1.1 .6 1.1 .6 1.1 .1 1-.5 1.1-.8 1.1-.8 1-.2 1.1 .3 1.1 .6 1.1 .7 1 .2 1.1-.2 1.1-.4 1-.3 1.1-.1 1.1 .2 1 .3 1.1 .2 1.1-.1 1.1-.2 1-.3 1.1-.1 1.1 0 1 .2 1.1 .2 1.1 0 1 0 1.1-.1 1.1-.1 1.1 .1 1 .2 1.1 .2 1.1 0 1 0 1.1-.2 1.1-.3 1-.3 1.1-.4 1.1-.1 1.1 .1 1 .6 1.1 .8 1.1 .7 1 .3 1.1-.3 1.1-.9 1-1 1.1-.8 1.1-.1 1.1 .5 1 .9 1.1 .7 1.1 .3 1-.3 1.1-.4 1.1-.3 1 .1 1.1 .5 1.1 .3 1.1-.1 1-.6 1.1-1 1.1-.8 1 0 1.1 .8 1.1 1.3 1 1.2 1.1 .5 1.1-.4 1.1-1.1 1-1.2 1.1-.8 1.1 0 1 .6 1.1 .7 1.1 .6 1.1 .1 1-.2 1.1-.3 1.1-.1 1 0 1.1 .2 1.1 .1 1 0 1.1-.1 1.1-.3 1.1-.2 1-.1 1.1 0 1.1 .1 1 .3 1.1 .2 1.1 .2 1 .1" fill="none" stroke="#3fd46c" stroke-width="1.2" stroke-linejoin="round" stroke-opacity="0.85"/>
<path d="M998.9 623.6l1.1-.1 1 .8 1.1 .5 1.1-1 1.1-1.5 1-.1 1.1 1.1 1.1 .4 1-.9 1.1-.3 1.1 1.3 1 1.2 1.1-.5 1.1-1.5 1.1-.3 1 .9 1.1 .3 1.1-1 1-.8 1.1 .9 1.1 1.4 1 0 1.1-1.1 1.1-.4 1.1 .8 1 .4 1.1-.7 1.1-.8 1 .3 1.1 .9 1.1 .2 1-.5 1.1-.4 1.1 .2 1.1 .2 1 0 1.1-.3 1.1 0 1 .2 1.1 .4 1.1 .2 1-.2 1.1-.6 1.1-.5 1.1-.1 1 .1 1.1-.6 1.1-1 1-.7 1.1-.3 1.1-1.2 1-3 1.1-3.7 1.1-3.3 1.1-3 1-3.8 1.1-4.4 1.1-3 1-.7 1.1 .4 1.1-.1 1-.2 1.1 1.2 1.1 2.2 1.1 1.6 1 .6 1.1 1.3 1.1 3 1 3.6 1.1 2.5 1.1 2 1.1 2.5 1 2.8 1.1 1.7 1.1 .2 1 0 1.1 .7 1.1 .8 1 .4 1.1 .4 1.1 1.3 1.1 1.4 1 .9 1.1 .4 1.1 .5 1 .5 1.1 .1 1.1 0 1 .9 1.1 2 1.1 2 1.1 1.6 1 2.1 1.1 2.9 1.1 2.4 1 .7 1.1 0 1.1 .9 1 1.4 1.1 .2 1.1-1 1.1-.3 1 1.2 1.1 .9 1.1-1.2 1-2.1 1.1-1 1.1-.1 1-1.2 1.1-2.7 1.1-2 1.1 0 1 .3 1.1-1.2 1.1-2.1 1-1.1 1.1 .2 1.1-.6 1-2.1 1.1-1.8 1.1-.2 1.1 .6 1-.5 1.1-1.5 1.1-1.4 1-1.3 1.1-2.9 1.1-5.3 1-6.6 1.1-6.1 1.1-4.5 1.1-2.3 1 .5 1.1 3.5 1.1 5.5 1 6.1 1.1 5.1 1.1 3.7 1 2.1 1.1 .9 1.1 .8 1.1 .9 1 .6 1.1 0 1.1-.1 1 .5 1.1 .5 1.1-.4 1.1-1.2 1-.6 1.1 .5 1.1 .6 1-.2 1.1-.5 1.1 .7 1 1.2 1.1 .3 1.1-1.2 1.1-.9 1 .3 1.1 .4 1.1-.5 1-.8 1.1 .4 1.1 1.3 1 .6 1.1-.5 1.1-.5 1.1 .2 1 .2 1.1-.5 1.1-.8 1 0 1.1 .6 1.1 .3 1 0 1.1 .2 1.1 .3 1.1-.1 1-.4 1.1-.3 1.1 .1 1 0 1.1-.4 1.1 0 1 .8 1.1 .5 1.1-.5 1.1-.7 1 .2 1.1 .8 1.1-.3 1-1 1.1-.2 1.1 1.3 1 .8 1.1-.8 1.1-1.2 1.1 .4 1 1.1 1.1-.2 1.1-1.4 1-.5 1.1 1.5 1.1 1.3 1-.5 1.1-1.3 1.1 .2 1.1 1.1 1-.1 1.1-1.6 1.1-1 1 1 1.1 1.4 1.1 0 1.1-.7 1 .2 1.1 1.2 1.1 .2 1-1.3 1.1-1.3 1.1 0 1 .6 1.1 .1 1.1-.2 1.1 .4 1 1 1.1 .7 1.1-.3 1-.6 1.1-.6 1.1-.6 1-.4" fill="none" stroke="#52d87a" stroke-width="1.2" stroke-linejoin="round" stroke-opacity="0.85"/>
<path d="M998.9 621.8l1.1 .8 1 1.4 1.1 .6 1.1-.7 1.1-.9 1-.2 1.1 .5 1.1 .5 1 .2 1.1 .1 1.1-.2 1-.6 1.1-.8 1.1-.3 1.1 .7 1 .9 1.1 .2 1.1-.5 1-.1 1.1 .5 1.1 .5 1-.4 1.1-1.1 1.1-.5 1.1 .4 1 .8 1.1 .3 1.1-.4 1-.3 1.1-.2 1.1-.1 1 .2 1.1 .7 1.1 1 1.1 .2 1-1.2 1.1-1.6 1.1-.6 1 .8 1.1 1.2 1.1 .2 1-.7 1.1-.8 1.1-.5 1.1-.7 1-1.3 1.1-1.8 1.1-2 1-2.4 1.1-3.3 1.1-3.8 1-3.5 1.1-2.8 1.1-2.4 1.1-2.2 1-1.1 1.1 .7 1.1 1.7 1 1.5 1.1 .5 1.1 .3 1 1.3 1.1 2.7 1.1 3.1 1.1 2.8 1 2.1 1.1 1.9 1.1 1.4 1 1.2 1.1 1.4 1.1 2 1.1 2.3 1 1.1 1.1-.3 1.1-.8 1 0 1.1 .8 1.1 .9 1 .2 1.1 0 1.1 .7 1.1 .9 1 .7 1.1 .1 1.1 .2 1 .7 1.1 1.1 1.1 1.1 1 1.4 1.1 1.8 1.1 1.9 1.1 1.2 1 .7 1.1 1.4 1.1 2.7 1 3 1.1 1.7 1.1-.2 1-1.1 1.1-.7 1.1 0 1.1 .1 1-.2 1.1-.3 1.1-.7 1-1.2 1.1-1.6 1.1-1.3 1-.5 1.1-.3 1.1-1 1.1-1.9 1-1.7 1.1-.9 1.1-.7 1-1.2 1.1-1.6 1.1-1 1 .1 1.1 .6 1.1-.1 1.1-.8 1-1 1.1-.9 1.1-.6 1-.3 1.1 .3 1.1 .7 1 .2 1.1-1 1.1-1.4 1.1-.4 1 1.1 1.1 1.5 1.1 .5 1-.7 1.1-.9 1.1-.3 1-.1 1.1-.2 1.1-.1 1.1 .3 1 .5 1.1 0 1.1-.2 1-.1 1.1 .4 1.1 .3 1.1-.5 1-.7 1.1-.4 1.1-.7 1-2.7 1.1-6.5 1.1-9.7 1-10.6 1.1-8.5 1.1-3.9 1.1 1.8 1 6.8 1.1 9.6 1.1 9.2 1 6.8 1.1 4.4 1.1 3 1 2 1.1 .8 1.1-.7 1.1-1.1 1-.1 1.1 .9 1.1 .9 1 .1 1.1-.4 1.1-.1 1 .1 1.1-.1 1.1-.5 1.1-.5 1 0 1.1 .3 1.1 .3 1 .2 1.1 .4 1.1 .4 1-.3 1.1-.9 1.1-.6 1.1 .6 1 1.2 1.1 .3 1.1-.9 1-1.4 1.1-.4 1.1 .7 1 .9 1.1 .6 1.1 .3 1.1 0 1-.5 1.1-.8 1.1-.5 1 .4 1.1 .8 1.1 .1 1-.7 1.1-.6 1.1 .3 1.1 .8 1 .3 1.1-.5 1.1-.3 1 .4 1.1 .6 1.1 0 1.1-.6 1-.7 1.1-.4 1.1 0 1 .2 1.1 .6 1.1 .9 1 .5 1.1-.6 1.1-1.2 1.1-.5 1 .8 1.1 1.2 1.1 .1 1-.9 1.1-1.1 1.1-.2 1 .5" fill="none" stroke="#6ad88a" stroke-width="1.2" stroke-linejoin="round" stroke-opacity="0.85"/>
<path d="M998.9 623.5l1.1 .7 1-.7 1.1-1.6 1.1-.3 1.1 1.6 1 1.3 1.1-.1 1.1-.5 1 .2 1.1 0 1.1-.9 1-.7 1.1 .5 1.1 .4 1.1-.7 1-.6 1.1 1.2 1.1 1.9 1 .2 1.1-1.4 1.1-1.1 1 0 1.1-.1 1.1-.5 1.1 .3 1 1.3 1.1 .6 1.1-.7 1-.7 1.1 .5 1.1 .3 1-.8 1.1-.7 1.1 1 1.1 1.2 1-.3 1.1-1.6 1.1-.6 1 .6 1.1 .5 1.1 0 1 .4 1.1 .3 1.1-1.2 1.1-2.5 1-1.6 1.1 .1 1.1-.4 1-2.3 1.1-3 1.1-1.9 1-1.5 1.1-2.1 1.1-1.8 1.1 0 1 1 1.1 .2 1.1-.3 1 .7 1.1 1.3 1.1 .5 1 .2 1.1 1.7 1.1 3.5 1.1 2.7 1 .6 1.1 .2 1.1 .9 1 1 1.1 .1 1.1 .1 1.1 1.1 1 1.1 1.1 0 1.1 0 1 1.4 1.1 1.7 1.1-.2 1-1.5 1.1-.6 1.1 1 1.1 1.1 1 .5 1.1 1 1.1 2 1 1.6 1.1 .6 1.1 1.1 1 2.5 1.1 2.3 1.1 1.1 1.1 1.2 1 2.3 1.1 2.4 1.1 .5 1-.6 1.1 .5 1.1 1.3 1 .7 1.1-.7 1.1-.9 1.1-.7 1-1.7 1.1-2.1 1.1-.8 1 .6 1.1-.3 1.1-2.3 1-2.7 1.1-1.2 1.1-.4 1.1-1.1 1-1.3 1.1-.2 1.1 0 1-1.3 1.1-2.1 1.1-1.1 1-.3 1.1-.7 1.1-.9 1.1 .5 1 1.7 1.1 .4 1.1-1.6 1-1.7 1.1-.1 1.1 .4 1-.4 1.1-.4 1.1 .4 1.1 .6 1-.3 1.1-.3 1.1 .9 1 1 1.1-.7 1.1-1.8 1-.6 1.1 1 1.1 .6 1.1-.5 1-.1 1.1 .7 1.1 .5 1-.6 1.1-.3 1.1 .6 1.1 .3 1-1 1.1-.8 1.1 .6 1 .9 1.1-.5 1.1-.9 1 .4 1.1 1.5 1.1 .5 1.1-1.1 1-.9 1.1 0 1.1-.1 1-.2 1.1 .6 1.1 1.5 1 .2 1.1-1.7 1.1-1.5 1.1 .6 1 1.4 1.1 .4 1.1-.3 1 .4 1.1 .4 1.1-.9 1-1.5 1.1-.3 1.1 .8 1.1 .4 1-.3 1.1 0 1.1-.4 1-3.1 1.1-6.3 1.1-6.6 1-4.2 1.1-1.6 1.1 .4 1.1 3 1 5.4 1.1 5.7 1.1 3.8 1 2.3 1.1 2.1 1.1 1.4 1-.7 1.1-1.7 1.1-.4 1.1 1.2 1 .6 1.1-.6 1.1-.2 1 1 1.1 .6 1.1-.5 1-.6 1.1 .2 1.1 .1 1.1-1 1-.6 1.1 .9 1.1 1.1 1-.3 1.1-.8 1.1 .4 1.1 1.2 1-.1 1.1-1.4 1.1-.9 1 .6 1.1 .6 1.1 .1 1 .3 1.1 .7 1.1-.4 1.1-1.7 1-.9 1.1 1.4 1.1 1.8 1 .1 1.1-.9 1.1-.3 1 .1" fill="none" stroke="#7ed898" stroke-width="1.2" stroke-linejoin="round" stroke-opacity="0.85"/>
<path d="M998.9 623.5l1.1-.1 1-.4 1.1-1.1 1.1-.4 1.1 1.4 1 1.9 1.1 .3 1.1-1.1 1-.5 1.1 .2 1.1-.2 1-.8 1.1-.3 1.1 .7 1.1 .7 1-.1 1.1-.3 1.1 0 1-.2 1.1-.1 1.1 .4 1 1 1.1 0 1.1-1.1 1.1-.8 1 .3 1.1 .3 1.1-.6 1-.4 1.1 1.1 1.1 1.7 1 .1 1.1-1.2 1.1-.8 1.1 .1 1-.1 1.1-.5 1.1-.1 1 .6 1.1 .5 1.1 .1 1 .2 1.1 .3 1.1-.3 1.1-.8 1 .1 1.1 .6 1.1-.1 1-1.3 1.1-.7 1.1 .7 1 .6 1.1-.8 1.1-1.4 1.1-.5 1-.2 1.1-1.4 1.1-2.5 1-1.9 1.1-1.2 1.1-1 1-1.1 1.1-.5 1.1 .4 1.1 .3 1 .4 1.1 1.2 1.1 1.4 1 .5 1.1-.3 1.1 .5 1.1 1.6 1 1 1.1 .1 1.1 .8 1 2.1 1.1 2 1.1 .3 1-.7 1.1-.1 1.1 .6 1.1 .1 1-.2 1.1 .4 1.1 .8 1 .5 1.1 .1 1.1 .4 1 .6 1.1 .2 1.1 .4 1.1 1.5 1 1.9 1.1 .5 1.1-.6 1 .3 1.1 1.6 1.1 1.5 1 .6 1.1 .9 1.1 2 1.1 1.5 1-.4 1.1-1.5 1.1-1.2 1-.4 1.1-.3 1.1-.2 1 .4 1.1 .1 1.1-.7 1.1-1.1 1-.7 1.1-.7 1.1-1.3 1-1.2 1.1 .1 1.1 .5 1-.7 1.1-2.1 1.1-1.3 1.1 .3 1 .5 1.1-.4 1.1-.3 1 .6 1.1 .3 1.1-.9 1-1.5 1.1-.8 1.1-.2 1.1 .1 1 .6 1.1 1.1 1.1 .6 1-.5 1.1-.8 1.1 0 1 .2 1.1-.7 1.1-.9 1.1 .5 1 1.3 1.1 .2 1.1-1.2 1-.5 1.1 .8 1.1 .9 1.1-.1 1-.4 1.1 .1 1.1 0 1-.6 1.1-.6 1.1 0 1 .3 1.1 0 1.1 .5 1.1 1 1 .4 1.1-.9 1.1-1 1 .4 1.1 .6 1.1-.6 1-1.1 1.1 .1 1.1 1.3 1.1 .5 1-.5 1.1-.3 1.1 .7 1 .5 1.1-.6 1.1-.8 1-.3 1.1-.1 1.1-.1 1.1 .3 1 .9 1.1 .3 1.1-.5 1-.2 1.1 .6 1.1 .2 1-1 1.1-.7 1.1 .6 1.1 1 1-.3 1.1-1.3 1.1-.2 1 1 1.1 .7 1.1 0 1 0 1.1 .4 1.1-.2 1.1-1 1-.9 1.1-.6 1.1-.8 1-1.3 1.1-1.8 1.1-2.7 1-4.4 1.1-5 1.1-2.4 1.1 1.6 1 4 1.1 3.9 1.1 3.7 1 3.7 1.1 2.9 1.1 .6 1.1-.9 1-.4 1.1 .7 1.1 .8 1 .2 1.1 .1 1.1 0 1-.6 1.1-1.1 1.1-.4 1.1 .4 1 .3 1.1 .4 1.1 1 1 1.3 1.1-.2 1.1-1.8 1-1.5" fill="none" stroke="#3fd46c" stroke-width="1.2" stroke-linejoin="round" stroke-opacity="0.85"/>
<path d="M998.9 623.5l1.1 .4 1 .4 1.1 .1 1.1-.2 1.1-.4 1-.6 1.1-.5 1.1-.3 1 0 1.1 .4 1.1 .5 1 .5 1.1 .4 1.1 .2 1.1-.1 1-.3 1.1-.4 1.1-.4 1-.4 1.1-.2 1.1 0 1 .2 1.1 .3 1.1 .5 1.1 .5 1 .3 1.1 0 1.1-.2 1-.5 1.1-.6 1.1-.5 1-.2 1.1 .1 1.1 .5 1.1 .5 1 .5 1.1 .2 1.1-.1 1-.3 1.1-.4 1.1-.3 1-.1 1.1 .2 1.1 .2 1.1 .2 1-.1 1.1-.3 1.1-.5 1-.5 1.1-.4 1.1-.3 1-.4 1.1-.6 1.1-1.3 1.1-2 1-2.7 1.1-3.2 1.1-3.1 1-2.6 1.1-1.7 1.1-.7 1 .1 1.1 .8 1.1 .7 1.1 .6 1 .3 1.1 .5 1.1 .6 1 1.2 1.1 1.6 1.1 2.1 1.1 2.1 1 2.1 1.1 1.7 1.1 1.4 1 1 1.1 .7 1.1 .5 1 .4 1.1 .3 1.1 .2 1.1 .1 1 .2 1.1 .3 1.1 .5 1 .7 1.1 .9 1.1 .8 1 .6 1.1 .4 1.1 .3 1.1 .3 1 .5 1.1 1 1.1 1.6 1 1.9 1.1 2 1.1 1.9 1 1.5 1.1 1 1.1 .4 1.1 0 1-.4 1.1-1 1.1-1.7 1-2.6 1.1-3.7 1.1-4.9 1-5.6 1.1-5.8 1.1-5.2 1.1-3.8 1-2 1.1 0 1.1 1.6 1 2.7 1.1 3.2 1.1 3.1 1 2.8 1.1 2.4 1.1 2.1 1.1 1.9 1 1.7 1.1 1.5 1.1 1 1 .4 1.1-.3 1.1-.8 1-1.1 1.1-1 1.1-.8 1.1-.2 1 .3 1.1 .6 1.1 .6 1 .5 1.1 .2 1.1-.2 1-.4 1.1-.6 1.1-.5 1.1-.2 1 0 1.1 .2 1.1 .3 1 .2 1.1 .1 1.1 0 1.1-.1 1 0 1.1 0 1.1 .2 1 .1 1.1 0 1.1-.1 1-.3 1.1-.4 1.1-.3 1.1-.1 1 .1 1.1 .5 1.1 .6 1 .5 1.1 .3 1.1-.2 1-.5 1.1-.7 1.1-.6 1.1-.3 1 .1 1.1 .4 1.1 .6 1 .5 1.1 .3 1.1 0 1-.3 1.1-.3 1.1-.3 1.1-.1 1 0 1.1 .1 1.1 .1 1-.1 1.1-.2 1.1-.2 1 .1 1.1 .3 1.1 .5 1.1 .5 1 .3 1.1-.1 1.1-.6 1-.9 1.1-.7 1.1-.5 1 .2 1.1 .7 1.1 1 1.1 .9 1 .5 1.1-.2 1.1-.7 1-1 1.1-.7 1.1-.4 1 .2 1.1 .6 1.1 .7 1.1 .5 1 .1 1.1-.3 1.1-.5 1-.3 1.1 0 1.1 .3 1.1 .4 1 .3 1.1-.1 1.1-.5 1-.6 1.1-.6 1.1-.1 1 .4 1.1 .8 1.1 1 1.1 .7 1 0 1.1-.6 1.1-1 1-1.1 1.1-.7 1.1-.1 1 .7" fill="none" stroke="#6ad88a" stroke-width="1.2" stroke-linejoin="round" stroke-opacity="0.85"/>
<path d="M998.9 624l1.1-.4 1-.9 1.1-.3 1.1 .8 1.1 1 1 .4 1.1-.6 1.1-.8 1-.5 1.1 0 1.1 .2 1 .5 1.1 .7 1.1 .3 1.1-.5 1-1 1.1-.6 1.1 .5 1 1.2 1.1 .6 1.1-.7 1-1.3 1.1-.4 1.1 1.1 1.1 1.3 1-.1 1.1-1.4 1.1-1.1 1 .5 1.1 1.7 1.1 .9 1-.9 1.1-1.8 1.1-.8 1.1 1 1 1.6 1.1 .6 1.1-.8 1-1 1.1-.3 1.1 .3 1-.1 1.1-.8 1.1-.7 1.1-.2 1 0 1.1-.7 1.1-1.8 1-2.2 1.1-1.8 1.1-1.2 1-1.1 1.1-1.1 1.1-.5 1.1 .5 1 .9 1.1 .4 1.1-.5 1-.4 1.1 .6 1.1 1.7 1 1.8 1.1 1.1 1.1 .7 1.1 1.1 1 1.3 1.1 .8 1.1-.3 1-.6 1.1 .4 1.1 1.9 1.1 1.9 1 .4 1.1-1 1.1-.8 1 .7 1.1 1.6 1.1 1 1-.3 1.1-.5 1.1 1.1 1.1 2.8 1 2.7 1.1 1.1 1.1-.1 1 .4 1.1 2.3 1.1 3.2 1 2.6 1.1 1.1 1.1 .3 1.1 .4 1 .8 1.1 .5 1.1 0 1-.4 1.1-.4 1.1-.6 1-1 1.1-1.4 1.1-1 1.1-.6 1-.6 1.1-1.5 1.1-2.1 1-1.4 1.1-.3 1.1 .1 1-1.1 1.1-2.5 1.1-2.5 1.1-.7 1 1.1 1.1 .8 1.1-1.3 1-3.4 1.1-3.6 1.1-2.8 1-2.8 1.1-4.3 1.1-5.4 1.1-4.5 1-1.6 1.1 1.7 1.1 3.1 1 3 1.1 2.9 1.1 3.6 1 4.1 1.1 3.5 1.1 1.9 1.1 .6 1 .3 1.1 .6 1.1 .2 1-.7 1.1-1 1.1-.3 1 .8 1.1 1.2 1.1 .4 1.1-.5 1-.6 1.1-.1 1.1 .1 1-.2 1.1-.5 1.1 0 1.1 .8 1 1 1.1-.1 1.1-1 1-.8 1.1 .3 1.1 .9 1 .2 1.1-.9 1.1-.7 1.1 .5 1 1.5 1.1 .7 1.1-1.2 1-1.9 1.1-.4 1.1 1.5 1 1.9 1.1 .2 1.1-1.7 1.1-1.7 1 .2 1.1 1.6 1.1 1.2 1-.5 1.1-1.2 1.1-.6 1 .7 1.1 .8 1.1 0 1.1-.8 1-.5 1.1 .2 1.1 .7 1 .3 1.1 0 1.1 0 1-.2 1.1-.5 1.1-.8 1.1-.3 1 .9 1.1 1.6 1.1 .7 1-.9 1.1-1.8 1.1-.7 1 .8 1.1 1.3 1.1 .2 1.1-1.1 1-.7 1.1 .8 1.1 1.6 1 .4 1.1-1.5 1.1-2 1-.3 1.1 1.5 1.1 1.7 1.1 .3 1-1.1 1.1-.8 1.1 .2 1 .6 1.1-.2 1.1-1 1.1-.4 1 .9 1.1 1.3 1.1 .5 1-.9 1.1-1.2 1.1-.3 1 .7 1.1 .5 1.1-.2 1.1-.5 1 .2 1.1 .7 1.1 .3 1-.5 1.1-.8 1.1-.2 1 .6" fill="none" stroke="#3fd46c" stroke-width="1.2" stroke-linejoin="round" stroke-opacity="0.85"/>
<path d="M998.9 623.6l1.1-.1 1-.1 1.1 .1 1.1 .1 1.1 0 1-.2 1.1-.3 1.1-.3 1 0 1.1 .4 1.1 .5 1 .5 1.1 .2 1.1-.3 1.1-.6 1-.5 1.1-.4 1.1 .1 1 .3 1.1 .4 1.1 .3 1 .2 1.1 0 1.1 0 1.1-.2 1-.2 1.1-.2 1.1-.3 1-.1 1.1 .1 1.1 .3 1 .3 1.1 .3 1.1 0 1.1-.3 1-.3 1.1-.2 1.1 0 1 .2 1.1 .1 1.1 0 1-.4 1.1-.5 1.1-.6 1.1-.6 1-.7 1.1-.9 1.1-1.3 1-1.6 1.1-1.8 1.1-1.6 1-1 1.1-.5 1.1-.2 1.1-.3 1-.5 1.1-.7 1.1-.2 1 .5 1.1 1.5 1.1 2.2 1 2.1 1.1 1.4 1.1 .6 1.1-.1 1-.2 1.1 .2 1.1 1 1 1.4 1.1 1.4 1.1 1 1.1 .2 1-.2 1.1-.4 1.1-.1 1 .3 1.1 .4 1.1 .5 1 .1 1.1-.1 1.1-.3 1.1-.2 1 0 1.1 .3 1.1 .6 1 .6 1.1 .4 1.1 .4 1 .3 1.1 .4 1.1 .6 1.1 .7 1 .9 1.1 .5 1.1-.1 1-1.2 1.1-2.1 1.1-2.6 1-2 1.1-.2 1.1 1.9 1.1 3.8 1 4.4 1.1 3.7 1.1 2.4 1 .7 1.1-.5 1.1-1 1-.6 1.1-.2 1.1 .2 1.1 .1 1-.5 1.1-1.1 1.1-1.6 1-1.7 1.1-1.4 1.1-.8 1-.4 1.1-.3 1.1-.4 1.1-.5 1-.6 1.1-.5 1.1-.4 1-.3 1.1-.3 1.1-.3 1-.4 1.1-.3 1.1-.1 1.1 .1 1 .1 1.1 0 1.1-.1 1-.3 1.1-.3 1.1 0 1 .1 1.1 .3 1.1 .2 1.1 0 1-.2 1.1-.2 1.1-.1 1 0 1.1 .1 1.1 .1 1.1-.2 1-.2 1.1-.2 1.1 .2 1 .5 1.1 .6 1.1 .3 1-.3 1.1-.7 1.1-.8 1.1-.5 1 .1 1.1 .6 1.1 .9 1 .6 1.1 .1 1.1-.4 1-.7 1.1-.4 1.1-.1 1.1 .2 1 .3 1.1 .1 1.1-.1 1-.2 1.1-.1 1.1 .2 1 .4 1.1 .3 1.1 0 1.1-.3 1-.5 1.1-.3 1.1-.1 1 .3 1.1 .5 1.1 .4 1 0 1.1-.2 1.1-.5 1.1-.4 1-.2 1.1 .2 1.1 .5 1 .5 1.1 .3 1.1 .1 1-.3 1.1-.6 1.1-.7 1.1-.4 1 0 1.1 .5 1.1 .9 1 .7 1.1 .4 1.1-.3 1-.7 1.1-.9 1.1-.6 1.1 0 1 .5 1.1 .8 1.1 .6 1 0 1.1-.4 1.1-.6 1.1-.3 1 .1 1.1 .5 1.1 .5 1 .1 1.1-.4 1.1-.7 1-.5 1.1-.1 1.1 .6 1.1 .8 1 .6 1.1 .1 1.1-.6 1-.8 1.1-.6 1.1 0 1 .5" fill="none" stroke="#6ad88a" stroke-width="1.2" stroke-linejoin="round" stroke-opacity="0.85"/>
<path d="M998.9 623.5l1.1-.2 1-.3 1.1-.2 1.1 .3 1.1 .2 1-.2 1.1 0 1.1 .7 1 1 1.1-.1 1.1-1.1 1-1 1.1 0 1.1 .4 1.1 .1 1-.1 1.1 .3 1.1 .5 1 .2 1.1-.1 1.1 .1 1 .2 1.1-.5 1.1-1.1 1.1-.5 1 .7 1.1 1 1.1 .2 1-.6 1.1-.2 1.1 .4 1 .4 1.1-.2 1.1-.4 1.1 0 1-.1 1.1-.4 1.1-.2 1 .4 1.1 .3 1.1-.7 1-1.5 1.1-1.1 1.1-.4 1.1-.9 1-2.3 1.1-3.4 1.1-3.4 1-3.3 1.1-3.6 1.1-3.6 1-2.9 1.1-1.8 1.1-1.1 1.1-.2 1 .8 1.1 2 1.1 1.9 1 1.2 1.1 .7 1.1 1.7 1 2.8 1.1 2.9 1.1 2.2 1.1 2.1 1 2.5 1.1 2.4 1.1 1.8 1 1.2 1.1 1.1 1.1 .6 1.1-.1 1-.4 1.1 .5 1.1 1.4 1 1.1 1.1 .2 1.1-.2 1 .4 1.1 1 1.1 .4 1.1 0 1 0 1.1 .7 1.1 1 1 1.1 1.1 1.7 1.1 2.3 1 2.1 1.1 1.3 1.1 1.3 1.1 2.1 1 2.7 1.1 1.9 1.1 .7 1 .4 1.1 .7 1.1 .6 1 0 1.1-.5 1.1-.5 1.1-.4 1-.8 1.1-1.1 1.1-.7 1-.5 1.1-1.3 1.1-2.3 1-2.3 1.1-1.3 1.1-.5 1.1-.9 1-1.4 1.1-1.1 1.1-.3 1-.3 1.1-.9 1.1-1 1-1 1.1-1.1 1.1-1.3 1.1-.9 1 .3 1.1 .9 1.1 .4 1-.6 1.1-.4 1.1 .2 1 .4 1.1-.6 1.1-1.1 1.1-.7 1-.1 1.1-.1 1.1-.3 1-.4 1.1-.9 1.1-2.1 1-3.6 1.1-3.7 1.1-2.8 1.1-1.9 1-1.5 1.1-.7 1.1 1.3 1 3.3 1.1 3.9 1.1 3.2 1.1 2.4 1 2.1 1.1 1.4 1.1 .7 1 .4 1.1 .5 1.1 .4 1-.4 1.1-1 1.1-.3 1.1 .7 1 .9 1.1 0 1.1-.4 1 .1 1.1 .6 1.1 .3 1-.4 1.1-.6 1.1-.4 1.1-.4 1-.5 1.1 .2 1.1 1 1 1.1 1.1 .1 1.1-.5 1-.2 1.1 .4 1.1 0 1.1-1 1-1.1 1.1-.3 1.1 .6 1 .7 1.1 .6 1.1 .7 1 .5 1.1-.4 1.1-.8 1.1-.5 1 .2 1.1-.1 1.1-.7 1-.7 1.1 .4 1.1 1.3 1 .8 1.1 0 1.1-.4 1.1-.1 1-.1 1.1-.4 1.1-.3 1 .1 1.1 0 1.1-.4 1-.5 1.1 .5 1.1 1.1 1.1 .6 1-.5 1.1-.6 1.1 .2 1 .5 1.1-.1 1.1-.7 1.1-.6 1-.2 1.1-.1 1.1 .1 1 .6 1.1 1.1 1.1 .6 1-.4 1.1-.6 1.1 0 1.1 .2 1-.5 1.1-1.2 1.1-.8 1 .4 1.1 1.1 1.1 .8 1 .6" fill="none" stroke="#52d87a" stroke-width="1.2" stroke-linejoin="round" stroke-opacity="0.85"/>
<path d="M998.9 624.4l1.1-.6 1-.3 1.1 0 1.1 .1 1.1-.4 1-.4 1.1 .2 1.1 .6 1 .2 1.1-.6 1.1-.6 1 .3 1.1 1 1.1 .8 1.1-.4 1-1 1.1-.7 1.1-.2 1-.3 1.1-1.2 1.1-1.7 1-1.5 1.1-1.2 1.1-1.4 1.1-1.9 1-1.8 1.1-.7 1.1 .9 1 1.7 1.1 1.8 1.1 1.9 1 2.2 1.1 2.1 1.1 1.2 1.1 0 1-.4 1.1 .5 1.1 1.4 1 1.1 1.1-.3 1.1-1.4 1-1.4 1.1-.3 1.1 .6 1.1 .8 1 .7 1.1 .4 1.1-.2 1-1.2 1.1-1.9 1.1-1.8 1-.6 1.1 0 1.1-.9 1.1-2.9 1-4.1 1.1-3.5 1.1-1.8 1-.4 1.1-.1 1.1-.3 1-.3 1.1-.3 1.1-.1 1.1 .2 1 1 1.1 2.3 1.1 2.9 1 2.2 1.1 1 1.1 .4 1.1 1.1 1 2.2 1.1 2.4 1.1 1.2 1 .1 1.1 0 1.1 .5 1 1 1.1 .8 1.1 .7 1.1 .9 1 1.3 1.1 1.3 1.1 .9 1 .8 1.1 1.4 1.1 2 1 1.9 1.1 1.2 1.1 1.1 1.1 1.9 1 2.9 1.1 2.8 1.1 1.5 1 .2 1.1-.3 1.1 .1 1 .3 1.1-.1 1.1-.6 1.1-.9 1-.9 1.1-1.2 1.1-1.5 1-1.4 1.1-.7 1.1-.1 1-.4 1.1-1.8 1.1-2.6 1.1-2.3 1-1.1 1.1-.4 1.1-.4 1-.9 1.1-.8 1.1-.5 1-.4 1.1-.8 1.1-1 1.1-.5 1 .3 1.1 .2 1.1-.4 1-1.1 1.1-.8 1.1 0 1 .5 1.1 .4 1.1 .1 1.1 .3 1 .4 1.1-.1 1.1-.9 1-1.3 1.1-.5 1.1 .8 1 1.3 1.1 .6 1.1-.4 1.1-.8 1-.4 1.1 .1 1.1 .4 1 .4 1.1 .4 1.1 .1 1.1-.5 1-1.1 1.1-1.1 1.1 .1 1 1.5 1.1 1.7 1.1 .5 1-1 1.1-1.4 1.1-.6 1.1 .3 1 .6 1.1 .3 1.1 0 1-.1 1.1-.2 1.1-.4 1-.1 1.1 .4 1.1 1 1.1 .6 1-.4 1.1-1.3 1.1-.9 1 .3 1.1 .8 1.1 .5 1-.3 1.1-.5 1.1 .1 1.1 .6 1 .5 1.1 0 1.1-.5 1-.4 1.1-.3 1.1-.4 1-.1 1.1 .5 1.1 .9 1.1 .6 1-.4 1.1-1 1.1-.6 1 .5 1.1 1.2 1.1 .6 1-.7 1.1-1.2 1.1-.9 1.1 .1 1 .7 1.1 .9 1.1 .8 1 .4 1.1-.3 1.1-1.1 1-1.2 1.1-.3 1.1 .8 1.1 1.3 1 .4 1.1-.7 1.1-1.1 1-.3 1.1 .5 1.1 .9 1.1 .5 1 .1 1.1-.3 1.1-.4 1-.8 1.1-.7 1.1-.1 1 .8 1.1 1.1 1.1 .5 1.1-.3 1-.6 1.1-.3 1.1 .1 1 0 1.1-.2 1.1-.1 1 .2" fill="none" stroke="#34c862" stroke-width="1.2" stroke-linejoin="round" stroke-opacity="0.85"/>
<path d="M998.9 624.2l1.1-.1 1-.5 1.1-.6 1.1-.5 1.1-.1 1 0 1.1 .3 1.1 .8 1 1 1.1 .5 1.1-.5 1-.9 1.1-.8 1.1-.8 1.1-1.6 1-2.3 1.1-1.8 1.1-1 1-.6 1.1-.5 1.1 .2 1 1.3 1.1 2 1.1 1.7 1.1 1 1 .9 1.1 1.1 1.1 1 1 .6 1.1 .1 1.1-.1 1-.4 1.1-.6 1.1-.4 1.1 .2 1 .3 1.1 .3 1.1 .2 1 .5 1.1 .5 1.1-.4 1-1.1 1.1-1 1.1-.1 1.1 .1 1-.4 1.1-.8 1.1-.5 1-.3 1.1-1.2 1.1-2.3 1-2.8 1.1-2.4 1.1-1.9 1.1-1.9 1-1.6 1.1-.7 1.1 .2 1 .5 1.1 .6 1.1 1 1 1.2 1.1 1.2 1.1 1.1 1.1 1.5 1 1.5 1.1 1.1 1.1 .5 1 .6 1.1 1.3 1.1 1.6 1.1 1.2 1 .8 1.1 1.2 1.1 1.4 1 .8 1.1-.5 1.1-1.1 1-.7 1.1 .1 1.1 .2 1.1 .5 1 1.2 1.1 2 1.1 1.9 1 1.2 1.1 .5 1.1 .1 1-.1 1.1-.3 1.1 .3 1.1 1.1 1 1.6 1.1 1.5 1.1 1.3 1 1.4 1.1 .8 1.1-.4 1-1.5 1.1-1.4 1.1-.7 1.1-.4 1-.8 1.1-.8 1.1 0 1 .5 1.1 0 1.1-.9 1-1.1 1.1-.7 1.1-.6 1.1-.9 1-1.1 1.1-.8 1.1-.4 1-.4 1.1-.4 1.1-.1 1 .2 1.1 0 1.1 0 1.1 .1 1 .1 1.1-.5 1.1-1.1 1-.9 1.1-.1 1.1 .4 1 .1 1.1 0 1.1 .6 1.1 1.1 1 .4 1.1-.6 1.1-1.1 1-.6 1.1-.1 1.1-.1 1-.1 1.1 .3 1.1 .9 1.1 .8 1 0 1.1-.3 1.1-.6 1-.6 1.1-.6 1.1 0 1.1 .5 1 .7 1.1 .3 1.1 .2 1 .2 1.1 .1 1.1-.8 1-1.2 1.1-.5 1.1 .6 1.1 .8 1 .4 1.1 .1 1.1 .4 1 .6 1.1-.3 1.1-1.1 1-1 1.1-.2 1.1 .4 1.1 .2 1 .3 1.1 .5 1.1 .6 1 .2 1.1-.2 1.1-.3 1-.3 1.1-.5 1.1-.4 1.1 .1 1 .4 1.1 .1 1.1-.3 1 0 1.1 .6 1.1 .7 1-.1 1.1-.4 1.1-.1 1.1 .3 1-.2 1.1-.9 1.1-.9 1 0 1.1 .7 1.1 .6 1 .4 1.1 .6 1.1 .7 1.1 .1 1-.6 1.1-1.1 1.1-.9 1-.7 1.1-.3 1.1 .5 1 1.1 1.1 1.1 1.1 .6 1.1 .2 1 0 1.1-.3 1.1-1.2 1-1.5 1.1-.5 1.1 .5 1.1 .9 1 .4 1.1 .3 1.1 .7 1 .6 1.1-.2 1.1-1 1-.8 1.1-.2 1.1 .3 1.1 0 1 0 1.1 .2 1.1 .4 1 0 1.1-.1 1.1 0 1 .1" fill="none" stroke="#34c862" stroke-width="1.2" stroke-linejoin="round" stroke-opacity="0.85"/>
<path d="M998.9 623.6l1.1 0 1-.2 1.1 0 1.1 .2 1.1 .1 1-.2 1.1-.4 1.1 0 1 .4 1.1 .4 1.1 0 1-.5 1.1-.4 1.1 0 1.1 .2 1 .1 1.1 0 1.1 .3 1 .5 1.1 .3 1.1-.4 1-.9 1.1-.8 1.1-.1 1.1 .5 1 .8 1.1 .6 1.1 .4 1 .1 1.1-.5 1.1-.9 1-.9 1.1-.2 1.1 .6 1.1 .8 1 .4 1.1-.1 1.1 .1 1 .3 1.1 .2 1.1-.6 1-1.1 1.1-.8 1.1 .2 1.1 1 1 1 1.1 .3 1.1-.3 1-.6 1.1-.7 1.1-.5 1-.6 1.1-.5 1.1-.6 1.1-1 1-1.2 1.1-1.3 1.1-.9 1-.4 1.1-.8 1.1-1.5 1-1.7 1.1-1 1.1 .3 1.1 1.4 1 1.2 1.1 .7 1.1 .3 1 .7 1.1 1.2 1.1 1.1 1.1 .7 1 .3 1.1 .2 1.1 .7 1 .9 1.1 1.2 1.1 1.1 1 .9 1.1 .2 1.1-.5 1.1-.5 1 .3 1.1 1.2 1.1 1.7 1 1 1.1 .4 1.1 .4 1 1.1 1.1 1.9 1.1 2 1.1 1.5 1 1.2 1.1 1.5 1.1 1.7 1 1.6 1.1 1.1 1.1 .4 1 .1 1.1 .1 1.1 .1 1.1 0 1-.1 1.1-.2 1.1-.7 1-1.6 1.1-2 1.1-1.7 1-.7 1.1 0 1.1-.2 1.1-.8 1-1.3 1.1-1.4 1.1-1.2 1-1.2 1.1-1.5 1.1-1.1 1-.4 1.1 .3 1.1 .3 1.1-.1 1-.6 1.1-.7 1.1-.6 1-.7 1.1-.7 1.1-.5 1 .2 1.1 .8 1.1 .7 1.1 .1 1-.4 1.1-.4 1.1-.3 1-.2 1.1-.4 1.1-.2 1 .2 1.1 .5 1.1 .4 1.1-.1 1-.1 1.1 .2 1.1 .3 1-.1 1.1-.7 1.1-.9 1.1-.3 1 .7 1.1 1 1.1 .5 1-.1 1.1-.5 1.1-.2 1-.1 1.1-.1 1.1-.3 1.1-.1 1 .1 1.1 .3 1.1 .3 1 .2 1.1 .3 1.1-.1 1-.9 1.1-1.6 1.1-2.1 1.1-2 1-2 1.1-2.7 1.1-3.2 1-2.7 1.1-.4 1.1 2.4 1 4.1 1.1 4 1.1 2.8 1.1 1.6 1 .9 1.1 .5 1.1 .4 1 .1 1.1 .1 1.1 .1 1 .1 1.1 0 1.1 .2 1.1 .3 1 .2 1.1-.4 1.1-1.1 1-.9 1.1 .1 1.1 1.4 1 1.5 1.1 .5 1.1-.8 1.1-1.2 1-.7 1.1 0 1.1 .2 1 .1 1.1 .1 1.1 .4 1 .6 1.1 .4 1.1-.1 1.1-.4 1-.5 1.1-.6 1.1-.5 1-.1 1.1 .6 1.1 1.1 1.1 .8 1-.1 1.1-.8 1.1-.8 1-.1 1.1 .4 1.1 .1 1-.4 1.1-.2 1.1 .2 1.1 .7 1 .5 1.1 0 1.1-.4 1-.3 1.1-.2 1.1-.3 1-.3" fill="none" stroke="#48dc74" stroke-width="1.2" stroke-linejoin="round" stroke-opacity="0.85"/>
<path d="M998.9 624l1.1-.9 1 0 1.1 .6 1.1-.4 1.1-.8 1 .4 1.1 1.1 1.1 .1 1-.8 1.1 0 1.1 .6 1-.3 1.1-1 1.1 .1 1.1 1.1 1 .4 1.1-.6 1.1-.1 1 .6 1.1-.2 1.1-1.3 1-.6 1.1 .9 1.1 .6 1.1-.3 1 .2 1.1 1.2 1.1 .4 1-1 1.1-1 1.1 .2 1 .1 1.1-.9 1.1-.4 1.1 .9 1 1 1.1-.4 1.1-.3 1 .6 1.1 .3 1.1-1.1 1-1.5 1.1-.6 1.1-.6 1.1-1.8 1-2 1.1-.6 1.1-.1 1-1 1.1-1.1 1.1 .1 1 .6 1.1-.5 1.1-1.1 1.1 .2 1 1.1 1.1 .3 1.1 .1 1 1.3 1.1 2 1.1 .9 1 .1 1.1 .8 1.1 1.5 1.1 .6 1-.3 1.1 .5 1.1 1.2 1 .1 1.1-.9 1.1-.4 1.1 .6 1 .2 1.1-.5 1.1 .4 1 1.5 1.1 .9 1.1-.5 1-.4 1.1 .4 1.1-.2 1.1-1.4 1-.7 1.1 .8 1.1 1 1 .1 1.1 .6 1.1 2 1 1.7 1.1 .5 1.1 .4 1.1 1.4 1 1.2 1.1-.1 1.1 0 1 1.3 1.1 1.8 1.1 .8 1 .8 1.1 1.8 1.1 1.7 1.1-.1 1-1.1 1.1-.5 1.1-.5 1-1.7 1.1-2 1.1-.6 1 .4 1.1-.4 1.1-1 1.1-.1 1 .3 1.1-.9 1.1-1.9 1-.9 1.1-.2 1.1-.9 1-1.7 1.1-.7 1.1 .2 1.1-.4 1-1.1 1.1-.3 1.1 1 1 .4 1.1-.6 1.1-.2 1 .6 1.1-.2 1.1-1.4 1.1-.9 1 .3 1.1 .2 1.1-.7 1-.2 1.1 1.2 1.1 .9 1-.3 1.1-.2 1.1 .7 1.1 .5 1-1 1.1-1.1 1.1 0 1 .1 1.1-.9 1.1-.6 1.1 1 1 1.5 1.1 .3 1.1-.1 1 .7 1.1 .5 1.1-1.1 1-1.7 1.1-.4 1.1 .3 1.1-.3 1-.3 1.1 1 1.1 1.5 1 .3 1.1-.7 1.1 0 1 .5 1.1-.6 1.1-1.2 1.1-.2 1 .8 1.1 0 1.1-.7 1 .1 1.1 1 1.1 .3 1-.7 1.1 .1 1.1 .9 1.1 .1 1-1 1.1-.5 1.1 .6 1 .1 1.1-.8 1.1-.3 1 .9 1.1 .5 1.1-.7 1.1-.4 1 .8 1.1 .6 1.1-.6 1-.3 1.1 .7 1.1 .4 1-.9 1.1-1 1.1 .2 1.1 .4 1-.5 1.1-.2 1.1 1.2 1 1.2 1.1-.2 1.1-.8 1 .1 1.1 .2 1.1-1 1.1-1.1 1 .3 1.1 1 1.1 .1 1-.4 1.1 .4 1.1 .2 1.1-1.9 1-3.9 1.1-3.9 1.1-3 1-1.8 1.1 .7 1.1 3.8 1 4.8 1.1 2.8 1.1 .7 1.1 .7 1 1.1 1.1 .3 1.1-.8 1-.1 1.1 .8 1.1 .2 1-.9" fill="none" stroke="#3fd46c" stroke-width="1.2" stroke-linejoin="round" stroke-opacity="0.85"/>
<path d="M998.9 625l1.1-.1 1-.6 1.1-.9 1.1-.8 1.1-.5 1 .1 1.1 .4 1.1 .6 1 .6 1.1 .5 1.1 .3 1-.1 1.1-.3 1.1-.6 1.1-.8 1-.6 1.1-.2 1.1 .3 1 .7 1.1 .9 1.1 .7 1 .3 1.1-.4 1.1-.7 1.1-.8 1-.4 1.1-.1 1.1 .2 1 .3 1.1 .3 1.1 .2 1 .2 1.1 .2 1.1 .3 1.1 .2 1-.1 1.1-.6 1.1-.9 1-.9 1.1-.3 1.1 .4 1 1.1 1.1 1.3 1.1 .9 1.1 0 1-1.1 1.1-1.8 1.1-1.8 1-1.3 1.1-.5 1.1 0 1 .1 1.1-.4 1.1-1.2 1.1-1.6 1-1.7 1.1-1.4 1.1-.5 1 .1 1.1 .3 1.1 .3 1 .3 1.1 .4 1.1 .8 1.1 1.2 1 1.7 1.1 1.7 1.1 1.1 1 .4 1.1-.3 1.1-.5 1.1-.3 1 .5 1.1 1.2 1.1 1.6 1 1.5 1.1 .9 1.1-.1 1-.7 1.1-.9 1.1-.7 1.1 0 1 .7 1.1 1.2 1.1 1.3 1 1.1 1.1 .9 1.1 .7 1 .8 1.1 .8 1.1 1.1 1.1 1.2 1 1.2 1.1 1.1 1.1 1 1 .8 1.1 .9 1.1 .8 1 .7 1.1 .3 1.1 0 1.1-.6 1-1 1.1-1.4 1.1-1.2 1-.9 1.1-.4 1.1 0 1 .1 1.1-.2 1.1-.8 1.1-1.4 1-1.7 1.1-1.6 1.1-1.2 1-.4 1.1 0 1.1 .2 1 .1 1.1-.4 1.1-.7 1.1-.8 1-.6 1.1-.3 1.1 .1 1 .1 1.1-.1 1.1-.3 1-.5 1.1-.3 1.1 .1 1.1 .4 1 .6 1.1 .4 1.1-.1 1-.6 1.1-.8 1.1-.6 1-.1 1.1 .4 1.1 .8 1.1 .7 1 .3 1.1-.3 1.1-.6 1-.6 1.1-.3 1.1 .1 1.1 .4 1 .5 1.1 .2 1.1-.1 1-.4 1.1-.2 1.1-.1 1 .2 1.1 .3 1.1 .2 1.1-.1 1-.2 1.1-.3 1.1-.1 1 0 1.1 .3 1.1 .2 1 .1 1.1-.1 1.1-.2 1.1-.2 1 .1 1.1 .2 1.1 .2 1 0 1.1-.1 1.1-.3 1-.3 1.1 0 1.1 .2 1.1 .4 1 .2 1.1 0 1.1-.2 1-.3 1.1-.2 1.1 .1 1 .2 1.1 .3 1.1 0 1.1-.3 1-.4 1.1-.1 1.1 .1 1 .6 1.1 .6 1.1 .3 1-.3 1.1-.7 1.1-.9 1.1-.5 1 .1 1.1 .8 1.1 1 1 .8 1.1 0 1.1-.6 1-1 1.1-.7 1.1-.2 1.1 .4 1 .7 1.1 .6 1.1 .1 1-.4 1.1-.5 1.1-.2 1.1 .2 1 .6 1.1 .5 1.1-.1 1-.6 1.1-1.2 1.1-1.5 1-1.8 1.1-2.1 1.1-2.2 1.1-1.6 1-.1 1.1 1.5 1.1 2.2 1 1.8 1.1 1.4 1.1 1.2 1 1.3" fill="none" stroke="#48dc74" stroke-width="1.2" stroke-linejoin="round" stroke-opacity="0.85"/>
<path d="M998.9 623.7l1.1 .1 1-.2 1.1-.6 1.1-.5 1.1-.2 1 .3 1.1 .8 1.1 .7 1 .5 1.1-.1 1.1-.4 1-.5 1.1-.4 1.1-.1 1.1 0 1-.2 1.1-.3 1.1-.1 1 .2 1.1 .7 1.1 .9 1 .6 1.1 .1 1.1-.6 1.1-1.1 1-.9 1.1-.3 1.1 .2 1 .6 1.1 .6 1.1 .3 1-.1 1.1-.1 1.1 .1 1.1 .2 1 .2 1.1-.1 1.1-.4 1-.7 1.1-.5 1.1 0 1 .4 1.1 .7 1.1 .5 1.1 0 1-.4 1.1-.5 1.1-.6 1-.3 1.1-.5 1.1-.9 1-1.5 1.1-2.2 1.1-2.4 1.1-2.5 1-2.3 1.1-2.5 1.1-2.6 1-2.7 1.1-2.6 1.1-1.8 1-.6 1.1 .7 1.1 1.6 1.1 1.8 1 1.7 1.1 1.3 1.1 1.2 1 1.2 1.1 1.7 1.1 2 1.1 2.3 1 2.1 1.1 1.9 1.1 1.7 1 1.6 1.1 1.4 1.1 1.1 1 .5 1.1-.2 1.1-.5 1.1-.4 1 .2 1.1 1 1.1 1.8 1 1.9 1.1 1.5 1.1 .8 1 .2 1.1 0 1.1 .3 1.1 .6 1 .9 1.1 .8 1.1 .6 1 .4 1.1 .3 1.1 .6 1 .6 1.1 .6 1.1 0 1.1-.5 1-1 1.1-1.1 1.1-1 1-.7 1.1-.5 1.1-.6 1-.6 1.1-.6 1.1-.4 1.1 .1 1 .4 1.1 .2 1.1-.4 1-1.1 1.1-1.7 1.1-1.6 1-1 1.1-.1 1.1 .7 1.1 .9 1 .7 1.1 .2 1.1-.2 1-.5 1.1-.4 1.1-.3 1-.4 1.1-.4 1.1-.4 1.1-.2 1 .3 1.1 .7 1.1 .7 1 .4 1.1-.2 1.1-.6 1-.7 1.1-.4 1.1 .3 1.1 .6 1 .7 1.1 .1 1.1-.4 1-.7 1.1-.6 1.1-.2 1.1 .3 1 .6 1.1 .4 1.1 .2 1-.2 1.1-.4 1.1-1 1-2.5 1.1-5 1.1-7.1 1.1-6.9 1-3.3 1.1 2.3 1.1 6.5 1 7.6 1.1 5.8 1.1 3.3 1 1.1 1.1 0 1.1-.3 1.1-.3 1-.1 1.1 0 1.1-.3 1-.4 1.1-.5 1.1-.1 1 .5 1.1 .9 1.1 1.1 1.1 .7 1-.1 1.1-.7 1.1-1.1 1-.9 1.1-.4 1.1 .1 1 .3 1.1 .3 1.1 .3 1.1 .3 1 .5 1.1 .7 1.1 .4 1-.1 1.1-.6 1.1-1.1 1-1 1.1-.5 1.1 .2 1.1 .7 1 .9 1.1 .5 1.1 .2 1-.1 1.1-.1 1.1 0 1 .1 1.1-.1 1.1-.5 1.1-.8 1-.7 1.1-.1 1.1 .4 1 1 1.1 1 1.1 .6 1.1-.1 1-.6 1.1-.8 1.1-.5 1-.1 1.1 .1 1.1 .1 1 .1 1.1 0 1.1 .2 1.1 .3 1 .5 1.1 .2 1.1-.3 1-.6 1.1-.7 1.1-.3 1 .3" fill="none" stroke="#6ad88a" stroke-width="1.2" stroke-linejoin="round" stroke-opacity="0.85"/>
<path d="M998.9 623.4l1.1-.2 1 0 1.1 .1 1.1 .1 1.1 0 1 0 1.1 .1 1.1 .1 1 .1 1.1 0 1.1-.2 1-.3 1.1-.2 1.1 0 1.1 .4 1 .3 1.1 .2 1.1-.1 1-.4 1.1-.3 1.1-.1 1 .2 1.1 .3 1.1 .3 1.1 0 1-.2 1.1-.1 1.1-.1 1 0 1.1 0 1.1-.2 1-.3 1.1-.2 1.1 .2 1.1 .7 1 .8 1.1 .4 1.1-.2 1-.9 1.1-1.2 1.1-.8 1 0 1.1 .6 1.1 1 1.1 .5 1-.3 1.1-1.1 1.1-1.8 1-1.9 1.1-2 1.1-2 1-2.4 1.1-2.8 1.1-2.9 1.1-2.7 1-2 1.1-1.2 1.1-.5 1 0 1.1 0 1.1 .2 1 .6 1.1 1.2 1.1 2 1.1 2.3 1 2.2 1.1 2 1.1 1.7 1 1.5 1.1 1.7 1.1 1.8 1.1 1.6 1 1.2 1.1 .7 1.1 .2 1 .1 1.1 .2 1.1 .5 1 .6 1.1 .7 1.1 .6 1.1 .5 1 .4 1.1 .2 1.1 .2 1 0 1.1 .2 1.1 .4 1 1 1.1 1.6 1.1 2.1 1.1 2.1 1 1.8 1.1 1.4 1.1 1.1 1 1.2 1.1 1.5 1.1 1.7 1 1.6 1.1 1.2 1.1 .4 1.1-.2 1-.4 1.1-.4 1.1-.4 1-.4 1.1-.7 1.1-1.1 1-1.3 1.1-1.2 1.1-.9 1.1-.8 1-.9 1.1-1.3 1.1-1.8 1-1.9 1.1-1.6 1.1-1.1 1-.6 1.1-.7 1.1-1.4 1.1-2.5 1-3.4 1.1-3.6 1.1-3.4 1-2.8 1.1-2.2 1.1-1.6 1-1.3 1.1-.9 1.1 0 1.1 .9 1 2 1.1 2.6 1.1 2.8 1 2.6 1.1 2.2 1.1 1.7 1 1.5 1.1 1.3 1.1 1 1.1 .5 1 .2 1.1 0 1.1 0 1 .3 1.1 .4 1.1 .4 1.1 .1 1-.3 1.1-.5 1.1-.4 1-.1 1.1 .1 1.1 .3 1 .3 1.1 .2 1.1 .1 1.1 0 1 0 1.1-.1 1.1-.3 1-.3 1.1-.3 1.1 0 1 .4 1.1 .5 1.1 .3 1.1 0 1-.4 1.1-.6 1.1-.2 1 .2 1.1 .6 1.1 .6 1 .2 1.1-.5 1.1-.8 1.1-.7 1-.1 1.1 .4 1.1 .8 1 .7 1.1 .2 1.1-.3 1-.4 1.1-.3 1.1-.1 1.1-.1 1-.1 1.1-.2 1.1-.3 1 .1 1.1 .5 1.1 .9 1 .7 1.1 .1 1.1-.6 1.1-1.1 1-.9 1.1-.4 1.1 .4 1 .8 1.1 .8 1.1 .4 1-.1 1.1-.4 1.1-.4 1.1-.1 1 .1 1.1 .1 1.1-.1 1-.2 1.1-.1 1.1-.1 1.1 .2 1 .2 1.1 .2 1.1 .1 1 0 1.1 0 1.1 0 1 0 1.1-.2 1.1-.3 1.1-.3 1-.2 1.1 .1 1.1 .5 1 .6 1.1 .3 1.1 0 1-.4" fill="none" stroke="#6ad88a" stroke-width="1.2" stroke-linejoin="round" stroke-opacity="0.85"/>
<path d="M998.9 621.2l1.1 1.4 1 1.7 1.1-.1 1.1-1.1 1.1 .1 1 1.5 1.1 .5 1.1-1.2 1-1 1.1 .5 1.1 .5 1-1.2 1.1-1.6 1.1 0 1.1 1.6 1 1.4 1.1 .4 1.1 .4 1 .3 1.1-.5 1.1-1.5 1-1 1.1 0 1.1 .1 1.1-.3 1 .2 1.1 1.4 1.1 1 1-.6 1.1-1 1.1 .5 1 1.4 1.1 0 1.1-1.8 1.1-1.2 1 .6 1.1 .7 1.1-.7 1-.7 1.1 .9 1.1 1.9 1 .6 1.1-.9 1.1-.8 1.1-.1 1-.2 1.1-.7 1.1-.2 1 .6 1.1 .2 1.1-.6 1-.5 1.1 .1 1.1-.4 1.1-1.9 1-2 1.1-.6 1.1-.3 1-1.8 1.1-3.1 1.1-1.7 1 .2 1.1 .2 1.1-1.1 1.1-.9 1 1 1.1 1.8 1.1 .7 1-.1 1.1 .7 1.1 2 1.1 1.8 1 .8 1.1 .9 1.1 1.3 1 .8 1.1-.2 1.1 0 1 .9 1.1 .9 1.1 .1 1.1 .7 1 2.1 1.1 2.1 1.1 .4 1-.6 1.1 .6 1.1 2.1 1 1.5 1.1 .2 1.1 .8 1.1 3 1 3.4 1.1 1.9 1.1 .9 1 1.8 1.1 2.7 1.1 1.5 1-.3 1.1-.8 1.1-.6 1.1-1.2 1-2.1 1.1-2.2 1.1-2.5 1-4.1 1.1-6.8 1.1-7.5 1-5.6 1.1-3.1 1.1-.7 1.1 2.2 1 5.2 1.1 6.1 1.1 3.5 1 .4 1.1-.2 1.1 1 1 .7 1.1-1.1 1.1-1.4 1.1 0 1 .9 1.1-.4 1.1-1.9 1-1.7 1.1-.3 1.1 0 1 0 1.1 .5 1.1 1.2 1.1 .7 1-.5 1.1-.9 1.1-.1 1-.1 1.1-.9 1.1-.6 1 1.1 1.1 1.4 1.1-.2 1.1-1.7 1-.7 1.1 1.2 1.1 1.1 1-.5 1.1-.7 1.1 .6 1.1 1 1-.6 1.1-1.6 1.1-.5 1 1.1 1.1 1.1 1.1-.1 1-.3 1.1-.1 1.1-.5 1.1-.9 1-.3 1.1 1.1 1.1 1.2 1 .2 1.1-.3 1.1 .3 1 .1 1.1-1.4 1.1-1.9 1.1 0 1 1.9 1.1 1.2 1.1-.7 1-.9 1.1 .6 1.1 1.2 1-.3 1.1-1 1.1 .1 1.1 1 1 0 1.1-1.5 1.1-1.4 1 0 1.1 .7 1.1 .7 1 1.1 1.1 1.4 1.1 .6 1.1-1.1 1-1.6 1.1-.5 1.1 0 1-.7 1.1-.7 1.1 1 1 1.8 1.1 .5 1.1-1.4 1.1-.7 1 1.3 1.1 1.5 1.1-.4 1-1.5 1.1-.6 1.1 .3 1-.5 1.1-1.3 1.1-.1 1.1 1.6 1 1.8 1.1 .5 1.1-.2 1-.3 1.1-.7 1.1-1.3 1.1-.8 1 .6 1.1 .9 1.1-.1 1-.6 1.1 .5 1.1 1 1-.1 1.1-1.2 1.1-.1 1.1 1.6 1 .9 1.1-1.2 1.1-1.9 1-.2 1.1 1.1 1.1 .3 1-.5" fill="none" stroke="#3fd46c" stroke-width="1.2" stroke-linejoin="round" stroke-opacity="0.85"/>
<path d="M998.9 623.6l1.1-.6 1 0 1.1 .5 1.1-.3 1.1-.9 1 0 1.1 1.6 1.1 1.6 1-.5 1.1-1.7 1.1-.7 1 .9 1.1 .4 1.1-1.4 1.1-1.3 1 .8 1.1 2.4 1.1 1.2 1-1 1.1-1.4 1.1 .3 1 .7 1.1-.5 1.1-1.6 1.1-.6 1 1.2 1.1 1.2 1.1 .1 1-.4 1.1 .3 1.1 .5 1-.3 1.1-.9 1.1-.3 1.1 .4 1 0 1.1-.7 1.1-.3 1 1 1.1 1.1 1.1-.3 1-1 1.1 0 1.1 1.2 1.1 .1 1-1.9 1.1-2.4 1.1-.8 1 .2 1.1-1 1.1-3 1-3.1 1.1-1.8 1.1-1.8 1.1-3.5 1-5.1 1.1-4.1 1.1-1.9 1-.4 1.1-.1 1.1 .1 1 1.4 1.1 2.4 1.1 2.6 1.1 1.9 1 1.5 1.1 1.7 1.1 1.9 1 2.1 1.1 2.3 1.1 2.5 1.1 2 1 1.5 1.1 1.2 1.1 1.3 1 1.2 1.1 .4 1.1-.1 1 .2 1.1 1 1.1 1 1.1 .2 1-.6 1.1-.4 1.1 .4 1 .8 1.1 .7 1.1 .4 1 .8 1.1 1.5 1.1 1.9 1.1 1.4 1 .5 1.1 .3 1.1 1.1 1 2.3 1.1 2.8 1.1 2 1 1.5 1.1 1.8 1.1 2.4 1.1 1.4 1-.6 1.1-1.9 1.1-1.1 1 .3 1.1 .2 1.1-.9 1-1.3 1.1-.4 1.1 .2 1.1-.6 1-2.1 1.1-2.4 1.1-1.5 1-1 1.1-1.3 1.1-1.5 1-1 1.1-.4 1.1-.6 1.1-.9 1-.6 1.1 0 1.1-.4 1-1.4 1.1-1.2 1.1-.1 1 .5 1.1-.7 1.1-1.6 1.1-.3 1 1.6 1.1 1.5 1.1-.4 1-1.6 1.1-.3 1.1 1.2 1 .3 1.1-1.8 1.1-1.8 1.1 .5 1 2.1 1.1 1.1 1.1-.8 1-.7 1.1 .6 1.1 .9 1.1-.6 1-1.7 1.1-.6 1.1 .8 1 .8 1.1 0 1.1-.1 1 .4 1.1 .4 1.1-.5 1.1-.7 1 .1 1.1 .7 1.1 0 1-.8 1.1-.2 1.1 .9 1 .6 1.1-1 1.1-1.3 1.1 .2 1 1.7 1.1 1 1.1-.7 1-1.1 1.1 .3 1.1 1 1-.3 1.1-1.8 1.1-1.1 1.1 .8 1 1.8 1.1 .8 1.1-.3 1-.3 1.1 .3 1.1 .2 1-.8 1.1-1.3 1.1-.7 1.1 .3 1 .9 1.1 .9 1.1 .5 1 .2 1.1-.2 1.1-.5 1-.6 1.1-1 1.1-1.9 1.1-2.6 1-2.6 1.1-2.3 1.1-1.9 1-1.2 1.1-.1 1.1 1.8 1 3.1 1.1 3.3 1.1 2.3 1.1 1.1 1 .5 1.1 .6 1.1 .7 1 .4 1.1-.1 1.1-.2 1.1 .2 1 .9 1.1 .7 1.1-.4 1-1.4 1.1-.8 1.1 .4 1 .7 1.1-.3 1.1-.7 1.1 .2 1 1.6 1.1 1.3 1.1-.6 1-1.7 1.1-.7 1.1 .6 1 .5" fill="none" stroke="#6ad88a" stroke-width="1.2" stroke-linejoin="round" stroke-opacity="0.85"/>
<path d="M998.9 623.1l1.1 .2 1-.1 1.1 0 1.1 .3 1.1 .6 1 .2 1.1-.7 1.1-1.1 1-.4 1.1 .6 1.1 1.2 1 .7 1.1-.2 1.1-.7 1.1-.6 1-.1 1.1 0 1.1-.2 1 0 1.1 .6 1.1 .9 1 .3 1.1-.5 1.1-1.1 1.1-.5 1 .4 1.1 .6 1.1 .2 1-.3 1.1-.3 1.1 .2 1 .5 1.1 .3 1.1-.4 1.1-.4 1-.1 1.1 .2 1.1 0 1-.5 1.1-.3 1.1 .5 1 1 1.1 .7 1.1-.4 1.1-1.1 1-.9 1.1-.2 1.1 .3 1 .2 1.1-.2 1.1-.2 1-.2 1.1-.5 1.1-1.4 1.1-2.1 1-2.2 1.1-1.3 1.1-.6 1-.8 1.1-1.8 1.1-2.7 1-3.2 1.1-3.9 1.1-4.7 1.1-4.7 1-3.3 1.1 0 1.1 3.7 1 6.1 1.1 6.4 1.1 5.4 1.1 4.2 1 3.3 1.1 2.3 1.1 1.2 1 .2 1.1 .1 1.1 .9 1 1.6 1.1 1.4 1.1 .8 1.1 .3 1 .6 1.1 1.2 1.1 1.6 1 1.3 1.1 1.1 1.1 1.3 1 1.7 1.1 1.4 1.1 .6 1.1-.1 1 .1 1.1 .8 1.1 1.1 1 .4 1.1-.8 1.1-1.5 1-1.3 1.1-.8 1.1-.4 1.1-.4 1-.4 1.1-.2 1.1-.2 1-1 1.1-1.9 1.1-2.4 1-1.5 1.1-.1 1.1 .8 1.1 .5 1-.4 1.1-1 1.1-1 1-.8 1.1-.8 1.1-.8 1-.2 1.1 .5 1.1 1 1.1 .5 1-.6 1.1-1.1 1.1-.8 1 .2 1.1 .6 1.1 .2 1-.4 1.1-.2 1.1 .1 1.1 .4 1 .1 1.1-.3 1.1-.3 1 .2 1.1 .4 1.1 0 1-.6 1.1-.6 1.1 .1 1.1 .8 1 .8 1.1 0 1.1-.7 1-.5 1.1 0 1.1 .3 1.1 0 1-.3 1.1-.1 1.1 .5 1 .5 1.1 0 1.1-.6 1-.5 1.1 .2 1.1 .6 1.1 .3 1-.4 1.1-.7 1.1-.3 1 .6 1.1 .6 1.1 .2 1-.3 1.1-.2 1.1 0 1.1 .1 1-.3 1.1-.6 1.1-.2 1 .7 1.1 1 1.1 .3 1-.5 1.1-.8 1.1-.3 1.1 .3 1 .3 1.1-.2 1.1-.3 1 .1 1.1 .5 1.1 .5 1-.1 1.1-.5 1.1-.3 1.1 .1 1 .2 1.1-.2 1.1-.6 1-.2 1.1 .7 1.1 1.1 1 .6 1.1-.5 1.1-1.1 1.1-.7 1-.1 1.1 .2 1.1 .3 1 .3 1.1 .7 1.1 .7 1 .1 1.1-.9 1.1-1.4 1.1-.8 1 .5 1.1 1.3 1.1 .9 1 .1 1.1-.5 1.1-.5 1.1-.2 1-.3 1.1-.3 1.1 0 1 .7 1.1 .9 1.1 .3 1-.8 1.1-1.1 1.1-.5 1.1 .6 1 1 1.1 .6 1.1-.3 1-.5 1.1-.3 1.1-.2 1-.2" fill="none" stroke="#52d87a" stroke-width="1.2" stroke-linejoin="round" stroke-opacity="0.85"/>
<path d="M998.9 622.2l1.1-.7 1 .3 1.1 1.3 1.1 1.3 1.1 .4 1-.5 1.1-.6 1.1 0 1 .1 1.1-.3 1.1-.6 1-.2 1.1 .4 1.1 .5 1.1-.2 1-.6 1.1-.3 1.1 .6 1 1.1 1.1 .5 1.1-.4 1-.7 1.1-.3 1.1 .1 1.1-.1 1-.5 1.1-.4 1.1 .4 1 .9 1.1 .4 1.1-.3 1-.6 1.1 0 1.1 .6 1.1 .5 1-.4 1.1-.8 1.1-.4 1 .3 1.1 .4 1.1 0 1-.3 1.1 0 1.1 .4 1.1 .1 1-.8 1.1-1.5 1.1-1.3 1-.5 1.1-.4 1.1-1.4 1-2.7 1.1-3.3 1.1-3.1 1.1-2.9 1-2.9 1.1-2.6 1.1-1.4 1 .5 1.1 1.5 1.1 1.2 1 .4 1.1 .2 1.1 .9 1.1 1.8 1 1.9 1.1 1.5 1.1 1.6 1 2.1 1.1 2.5 1.1 2.2 1.1 1.3 1 .8 1.1 1.1 1.1 1.5 1 1.1 1.1 .1 1.1-.5 1 0 1.1 .9 1.1 1.2 1.1 .9 1 .5 1.1 .9 1.1 1.4 1 1.6 1.1 1.1 1.1 .6 1 .7 1.1 1.3 1.1 1.2 1.1 .3 1-.7 1.1-.8 1.1 .1 1 .9 1.1 1 1.1 .4 1 .1 1.1 0 1.1-.4 1.1-1.4 1-2.4 1.1-2.3 1.1-1.1 1 .2 1.1 .5 1.1 .1 1-.5 1.1-.4 1.1-.3 1.1-.9 1-1.8 1.1-2.4 1.1-2.1 1-1.6 1.1-1.6 1.1-2.4 1-2.7 1.1-2.2 1.1-1.1 1.1-.4 1-.5 1.1-.6 1.1 .1 1 1.4 1.1 2.2 1.1 2.1 1 1.6 1.1 1.6 1.1 1.8 1.1 1.7 1 1 1.1 .2 1.1 .1 1 1 1.1 1.5 1.1 1.1 1-.2 1.1-1 1.1-.9 1.1-.5 1-.4 1.1-.4 1.1 0 1 1 1.1 1.6 1.1 1.1 1.1-.1 1-1.3 1.1-1.1 1.1-.3 1 .1 1.1 0 1.1-.2 1 .3 1.1 .8 1.1 .8 1.1-.1 1-.9 1.1-.7 1.1 .1 1 .5 1.1 .2 1.1-.4 1-.2 1.1 .5 1.1 .8 1.1 .3 1-.7 1.1-1 1.1-.5 1 .2 1.1 .2 1.1 0 1 .2 1.1 .9 1.1 1.2 1.1 .5 1-.9 1.1-1.6 1.1-1.2 1-.1 1.1 .6 1.1 .5 1 .3 1.1 .6 1.1 .8 1.1 .3 1-.7 1.1-1.2 1.1-.7 1 .5 1.1 .9 1.1 .5 1-.4 1.1-.6 1.1-.1 1.1 .1 1-.2 1.1-.4 1.1 0 1 .8 1.1 1.2 1.1 .6 1-.5 1.1-1 1.1-.5 1.1-.1 1-.3 1.1-.7 1.1-.6 1 .5 1.1 1.4 1.1 1.4 1.1 .6 1-.2 1.1-.4 1.1-.4 1-.9 1.1-1.5 1.1-1.3 1-.1 1.1 1.4 1.1 2 1.1 1.2 1 .2 1.1-.5 1.1-.4 1-.6 1.1-.9 1.1-1 1-.3" fill="none" stroke="#7ed898" stroke-width="1.2" stroke-linejoin="round" stroke-opacity="0.85"/>
<path d="M1107 623l1.1-1.2 1-3.4 1.1-7.7 1.1-13.1 1-16 1.1-12.3 1.1-2.1 1 9.5 1.1 15.7 1.1 14.5 1.1 9.5 1 4.6 1.1 1.8" fill="none" stroke="#e03a3a" stroke-width="1" stroke-linejoin="round" stroke-opacity="0.9" stroke-dasharray="3,1.5"/>
<path d="M1172.3 623l1-1.1 1.1-2.8 1.1-6 1-10.3 1.1-13.7 1.1-13.4 1.1-7.8 1 1.7 1.1 10.2 1.1 14.1 1 12.8 1.1 8.8 1.1 4.8 1 2.1 1.1 .7" fill="none" stroke="#e03a3a" stroke-width="1" stroke-linejoin="round" stroke-opacity="0.9" stroke-dasharray="3,1.5"/>
<path d="M1170.1 623l1.1-2 1.1-6.2 1-13.1 1.1-15.9 1.1-7.6 1 7.6 1.1 15.9 1.1 13.1 1.1 6.2 1 2" fill="none" stroke="#e03a3a" stroke-width="1" stroke-linejoin="round" stroke-opacity="0.9" stroke-dasharray="3,1.5"/>
<path d="M1082.4 623.2l1-.9 1.1-3.5 1.1-8.5 1.1-12.6 1-9.3 1.1 2.1 1.1 11.5 1 11.8 1.1 6.6 1.1 2.4" fill="none" stroke="#e03a3a" stroke-width="1" stroke-linejoin="round" stroke-opacity="0.9" stroke-dasharray="3,1.5"/>
<path d="M1168 622.1l1.1-5.3 1-13.1 1.1-15.6 1.1-3 1 13 1.1 15.2 1.1 7.7 1 2.1" fill="none" stroke="#e03a3a" stroke-width="1" stroke-linejoin="round" stroke-opacity="0.9" stroke-dasharray="3,1.5"/>
<path d="M1334.2 619.8l1.1 .1 1-.2 1.1-.3 1.1-.2 1 .1 1.1 .3 1.1 .2 1 0 1.1-.1 1.1-.1 1 0 1.1 .1 1.1 0 1-.2 1.1-.2 1.1-.1 1 .1 1.1 .3 1.1 .2 1.1 .1 1-.1 1.1 0 1.1-.1 1-.1 1.1-.2 1.1-.3 1-.1 1.1 .2 1.1 .4 1 .4 1.1 .2 1.1-.2 1-.4 1.1-.3 1.1-.1 1 0 1.1-.2 1.1-.3 1-.4 1.1-.3 1.1-.4 1-.6 1.1-1.1 1.1-1.8 1-2.3 1.1-2.8 1.1-3.1 1-3.7 1.1-4.3 1.1-5 1-5.4 1.1-5.7 1.1-6 1-6.1 1.1-6.2 1.1-5.9 1.1-5.1 1-3.9 1.1-2.6 1.1-1.3 1-.2 1.1 .7 1.1 1.6 1 2.6 1.1 3.6 1.1 4.3 1 4.5 1.1 4.7 1.1 4.8 1 5 1.1 5.1 1.1 4.9 1 4.6 1.1 4.2 1.1 3.9 1 3.6 1.1 3.3 1.1 3 1 2.4 1.1 1.9 1.1 1.7 1 1.5 1.1 1.3 1.1 1.1 1 .9 1.1 .8 1.1 .9 1 1.2 1.1 1.3 1.1 1.1 1 .8 1.1 .6 1.1 .6 1.1 .9 1 1.1 1.1 1 1.1 .8 1 .7 1.1 .7 1.1 .7 1 .6 1.1 .5 1.1 0 1-.2 1.1-.3 1.1-.2 1-.2 1.1-.2 1.1-.4 1-.4 1.1-.3 1.1-.3 1-.4 1.1-.6 1.1-.8 1-.8 1.1-.7 1.1-.4 1-.4 1.1-.6 1.1-.8 1-.8 1.1-.6 1.1-.3 1-.1 1.1-.3 1.1-.5 1-.7 1.1-.5 1.1-.4 1.1-.2 1-.3 1.1-.3 1.1-.3 1-.1 1.1 0 1.1 .1 1-.1 1.1-.2 1.1-.3 1-.2 1.1-.1 1.1 0 1-.2 1.1-.2 1.1 0 1 .2 1.1 .4 1.1 .2 1 0 1.1-.4 1.1-.4 1-.2 1.1 0 1.1 .3 1 .1 1.1 0 1.1 0 1 0 1.1 .2 1.1 .1 1-.1 1.1-.2 1.1-.3 1 0 1.1 .1 1.1 .1 1.1 .1 1 0 1.1 0 1.1 .1 1 .1 1.1 0 1.1-.2 1-.3 1.1-.1 1.1 .2 1 .3 1.1 .2 1.1-.1 1-.3 1.1-.2 1.1 0 1 .3 1.1 .2 1.1 0 1-.1 1.1-.2 1.1 0 1 .1 1.1 0 1.1-.1 1-.1 1.1 0 1.1 .1 1 .2 1.1 .1 1.1 0 1-.1 1.1-.1 1.1 0 1 0 1.1-.1 1.1-.2 1.1-.1 1 .1 1.1 .4 1.1 .4 1 .1 1.1-.3 1.1-.4 1-.3 1.1-.1 1.1 .2 1 .2 1.1 .1 1.1 0 1 .1 1.1 .1 1.1 .1 1 0 1.1-.3 1.1-.2 1-.2 1.1 0 1.1 .2 1 .2 1.1 0 1.1 .1 1 .1 1.1 .1 1.1 0 1-.2" fill="none" stroke="#f3a87a" stroke-width="1.25" stroke-linejoin="round" stroke-opacity="0.6"/>
<path d="M1334.2 619.4l1.1 .1 1 .1 1.1 .1 1.1 .1 1-.1 1.1-.2 1.1-.3 1 0 1.1 .4 1.1 .3 1 .1 1.1-.3 1.1-.4 1-.1 1.1 .1 1.1 .3 1 .2 1.1 0 1.1-.2 1.1-.1 1 0 1.1 .1 1.1 0 1 0 1.1-.1 1.1 0 1 0 1.1 .1 1.1 .2 1 0 1.1-.2 1.1-.3 1-.2 1.1 .1 1.1 .4 1 .2 1.1-.2 1.1-.5 1-.5 1.1-.4 1.1-.4 1-.5 1.1-.9 1.1-1.4 1-1.6 1.1-2 1.1-2.6 1-3.4 1.1-4 1.1-4.5 1-4.7 1.1-5 1.1-5.6 1-5.9 1.1-6.1 1.1-5.6 1.1-4.9 1-4.1 1.1-3.3 1.1-2.1 1-.7 1.1 .5 1.1 1.4 1 1.9 1.1 2.4 1.1 3.2 1 4.2 1.1 4.7 1.1 4.9 1 4.6 1.1 4.4 1.1 4.5 1 4.7 1.1 4.5 1.1 4 1 3.3 1.1 2.9 1.1 2.7 1 2.7 1.1 2.3 1.1 1.9 1 1.4 1.1 1.2 1.1 1.1 1 1.1 1.1 1.1 1.1 1 1 1 1.1 .7 1.1 .7 1 .7 1.1 .9 1.1 1.1 1.1 1.2 1 .9 1.1 .6 1.1 .5 1 .5 1.1 .8 1.1 .8 1 .7 1.1 .2 1.1 0 1-.3 1.1-.2 1.1-.2 1 0 1.1 0 1.1-.1 1-.4 1.1-.7 1.1-.8 1-.6 1.1-.2 1.1-.2 1-.4 1.1-.8 1.1-.9 1-.6 1.1-.3 1.1-.2 1-.5 1.1-.9 1.1-.9 1-.4 1.1 0 1.1 .1 1-.4 1.1-.7 1.1-.7 1.1-.4 1-.1 1.1 0 1.1-.1 1-.1 1.1-.1 1.1-.2 1-.3 1.1-.3 1.1-.2 1 0 1.1 .3 1.1 .2 1-.1 1.1-.4 1.1-.2 1 0 1.1 .2 1.1 .1 1-.1 1.1-.2 1.1 0 1 .2 1.1 .1 1.1-.1 1-.2 1.1-.1 1.1 0 1 .1 1.1 .2 1.1 .1 1-.1 1.1-.1 1.1-.2 1 0 1.1 .1 1.1 .1 1.1 .1 1 0 1.1-.2 1.1-.1 1 .1 1.1 .2 1.1 0 1-.1 1.1-.2 1.1 0 1 .2 1.1 .2 1.1 0 1-.2 1.1-.3 1.1 .1 1 .2 1.1 .2 1.1 0 1-.3 1.1-.2 1.1 .1 1 .1 1.1 .2 1.1 0 1 0 1.1 0 1.1-.1 1-.1 1.1-.2 1.1 0 1 .2 1.1 .4 1.1 .2 1-.3 1.1-.5 1.1-.3 1.1 .2 1 .6 1.1 .3 1.1-.2 1-.4 1.1-.3 1.1 .2 1 .3 1.1 .1 1.1-.2 1-.2 1.1-.1 1.1 .2 1 .3 1.1 .1 1.1-.2 1-.2 1.1-.2 1.1 0 1 .1 1.1 .2 1.1 .3 1 .1 1.1-.2 1.1-.4 1-.3 1.1 .1 1.1 .3 1 .4" fill="none" stroke="#ee9460" stroke-width="1.25" stroke-linejoin="round" stroke-opacity="0.6"/>
<path d="M1334.2 619.8l1.1-.1 1-.1 1.1 0 1.1 .2 1-.1 1.1-.4 1.1-.2 1 .3 1.1 .4 1.1-.1 1-.3 1.1 .1 1.1 .3 1 .2 1.1-.3 1.1-.5 1 0 1.1 .4 1.1 .2 1.1-.2 1-.3 1.1 .2 1.1 .4 1 .1 1.1-.4 1.1-.3 1 0 1.1 .3 1.1-.1 1-.1 1.1 .1 1.1 .2 1 .1 1.1-.2 1.1-.3 1-.2 1.1-.2 1.1-.5 1-.6 1.1-.6 1.1-.5 1-1 1.1-1.6 1.1-2.1 1-2.4 1.1-2.8 1.1-3.6 1-4.5 1.1-4.7 1.1-4.8 1-5 1.1-5.4 1.1-5.5 1-5.2 1.1-4.6 1.1-4 1.1-3.4 1-2.3 1.1-1 1.1 .2 1 1.1 1.1 2 1.1 2.7 1 3.4 1.1 3.7 1.1 4 1 4.3 1.1 4.5 1.1 4.3 1 4.1 1.1 4 1.1 4.2 1 4.1 1.1 3.5 1.1 2.9 1 2.6 1.1 2.5 1.1 2.2 1 1.5 1.1 1 1.1 1.1 1 1.3 1.1 1.3 1.1 .9 1 .7 1.1 1 1.1 1.2 1 1 1.1 .7 1.1 .7 1 1 1.1 1.2 1.1 1 1.1 .9 1 1.2 1.1 1.3 1.1 1.2 1 .7 1.1 .6 1.1 .8 1 .8 1.1 .2 1.1-.2 1-.2 1.1 .3 1.1 .2 1-.4 1.1-.8 1.1-.4 1-.1 1.1-.3 1.1-.9 1-1 1.1-.6 1.1-.3 1-.5 1.1-1 1.1-1 1-.6 1.1-.5 1.1-.7 1-.9 1.1-.8 1.1-.4 1-.4 1.1-.5 1.1-.6 1-.5 1.1-.3 1.1-.5 1.1-.6 1-.4 1.1-.1 1.1-.2 1-.3 1.1-.3 1.1 0 1 .1 1.1-.2 1.1-.3 1-.3 1.1-.1 1.1 .1 1 0 1.1-.2 1.1-.1 1 .1 1.1 .2 1.1-.1 1-.1 1.1-.1 1.1 0 1 0 1.1-.1 1.1 0 1 .1 1.1 0 1.1 0 1 0 1.1 .1 1.1 0 1-.2 1.1-.2 1.1 .1 1 .3 1.1 .1 1.1-.2 1.1-.1 1 .2 1.1 .2 1.1-.1 1-.4 1.1-.3 1.1 .2 1 .4 1.1 0 1.1-.2 1 0 1.1 .4 1.1 .1 1-.2 1.1-.4 1.1-.1 1 .1 1.1 0 1.1-.1 1 0 1.1 .4 1.1 .3 1-.1 1.1-.2 1.1-.1 1 .1 1.1-.1 1.1-.4 1-.2 1.1 .3 1.1 .5 1 .1 1.1-.2 1.1-.1 1 .3 1.1 .2 1.1-.4 1.1-.6 1-.1 1.1 .3 1.1 .3 1 0 1.1-.2 1.1 .2 1 .4 1.1 .1 1.1-.3 1-.4 1.1-.1 1.1 .1 1 0 1.1-.1 1.1 .1 1 .3 1.1 .2 1.1-.1 1-.1 1.1 0 1.1 0 1-.2 1.1-.3 1.1 .1 1 .2 1.1 .2 1.1-.1 1 0" fill="none" stroke="#f6b48c" stroke-width="1.25" stroke-linejoin="round" stroke-opacity="0.6"/>
<path d="M1334.2 619.5l1.1 .1 1 0 1.1 .1 1.1 0 1-.1 1.1-.2 1.1 0 1 0 1.1 .2 1.1 .2 1 .1 1.1 0 1.1-.2 1-.3 1.1-.3 1.1-.1 1 .2 1.1 .3 1.1 .4 1.1 .2 1 0 1.1-.2 1.1-.3 1-.3 1.1-.1 1.1 .1 1 .1 1.1 .2 1.1 .1 1-.1 1.1-.1 1.1 0 1-.1 1.1 .1 1.1 0 1 0 1.1-.2 1.1-.3 1-.5 1.1-.7 1.1-.8 1-.9 1.1-1.2 1.1-1.4 1-1.8 1.1-2.2 1.1-2.8 1-3.4 1.1-4.1 1.1-4.7 1-5.1 1.1-5.3 1.1-5.3 1-5 1.1-4.6 1.1-3.9 1.1-3.2 1-2.4 1.1-1.6 1.1-.6 1 .2 1.1 1.1 1.1 1.9 1 2.7 1.1 3.3 1.1 3.7 1 3.9 1.1 4 1.1 4.1 1 4.2 1.1 4.2 1.1 4.2 1 3.9 1.1 3.4 1.1 3 1 2.4 1.1 2 1.1 1.8 1 1.7 1.1 1.7 1.1 1.6 1 1.5 1.1 1.2 1.1 1 1 .8 1.1 .7 1.1 .7 1 .7 1.1 .8 1.1 .9 1 .9 1.1 1 1.1 1 1.1 1.1 1 1 1.1 1.1 1.1 .9 1 .9 1.1 .7 1.1 .5 1 .4 1.1 .3 1.1 .1 1-.1 1.1-.1 1.1-.2 1-.3 1.1-.2 1.1-.2 1-.2 1.1-.4 1.1-.5 1-.7 1.1-.9 1.1-.8 1-.7 1.1-.6 1.1-.5 1-.4 1.1-.5 1.1-.6 1-.8 1.1-.8 1.1-.6 1-.5 1.1-.3 1.1-.3 1-.3 1.1-.5 1.1-.5 1.1-.5 1-.5 1.1-.2 1.1-.1 1 0 1.1-.1 1.1-.1 1-.2 1.1-.3 1.1-.2 1-.1 1.1-.1 1.1 .1 1 0 1.1 0 1.1-.1 1-.1 1.1-.1 1.1-.1 1 0 1.1 .1 1.1 0 1 .1 1.1 0 1.1 .1 1 0 1.1-.1 1.1-.1 1-.1 1.1-.2 1.1-.1 1 .1 1.1 .1 1.1 .3 1 .2 1.1 .1 1.1-.1 1.1-.2 1-.2 1.1-.2 1.1 0 1 .1 1.1 .2 1.1 .1 1-.1 1.1 0 1.1-.1 1-.1 1.1 .2 1.1 .1 1 .2 1.1 .1 1.1-.2 1-.3 1.1-.2 1.1-.2 1 0 1.1 .2 1.1 .3 1 .2 1.1 .2 1.1 0 1-.1 1.1-.2 1.1-.2 1-.1 1.1 0 1.1-.1 1 0 1.1 0 1.1 .1 1 .2 1.1 .1 1.1 .2 1.1 0 1-.1 1.1-.1 1.1-.2 1-.1 1.1 0 1.1 0 1 0 1.1 0 1.1 .1 1 0 1.1 .1 1.1 .2 1 .1 1.1 .1 1.1-.1 1-.2 1.1-.3 1.1-.2 1-.1 1.1 .1 1.1 .2 1 .2 1.1 .2 1.1 .1 1-.1 1.1-.1 1.1-.1 1-.1" fill="none" stroke="#e98a55" stroke-width="1.25" stroke-linejoin="round" stroke-opacity="0.6"/>
<path d="M1334.2 619.9l1.1 .1 1 0 1.1-.2 1.1-.2 1-.2 1.1-.1 1.1 0 1 .1 1.1 .1 1.1 .1 1 0 1.1 0 1.1 0 1 .1 1.1 0 1.1 .1 1 0 1.1-.1 1.1-.2 1.1-.1 1-.2 1.1 0 1.1 .1 1 .2 1.1 .2 1.1 .2 1 0 1.1 0 1.1-.1 1-.2 1.1-.2 1.1-.1 1 0 1.1 0 1.1 0 1 .1 1.1 0 1.1 0 1 0 1.1-.1 1.1-.3 1-.4 1.1-.7 1.1-1 1-1.2 1.1-1.5 1.1-1.8 1-2 1.1-2.3 1.1-2.9 1-3.4 1.1-4 1.1-4.5 1-5 1.1-5.2 1.1-5.1 1.1-4.8 1-4.2 1.1-3.6 1.1-2.8 1-1.9 1.1-.8 1.1 .1 1 .8 1.1 1.6 1.1 2.2 1 2.8 1.1 3.3 1.1 3.7 1 3.8 1.1 4 1.1 4.1 1 4 1.1 3.9 1.1 3.7 1 3.4 1.1 3.1 1.1 2.7 1 2.5 1.1 2.2 1.1 2 1 1.8 1.1 1.7 1.1 1.5 1 1.2 1.1 1.1 1.1 .9 1 .9 1.1 1 1.1 1.2 1 1.3 1.1 1.5 1.1 1.4 1.1 1.4 1 1.1 1.1 .9 1.1 .8 1 .7 1.1 .6 1.1 .6 1 .6 1.1 .6 1.1 .4 1 .2 1.1 .1 1.1-.2 1-.2 1.1-.5 1.1-.6 1-.7 1.1-.8 1.1-.8 1-.7 1.1-.6 1.1-.4 1-.4 1.1-.4 1.1-.5 1-.8 1.1-1 1.1-1 1-1.1 1.1-1 1.1-.7 1-.5 1.1-.3 1.1-.2 1-.1 1.1-.3 1.1-.5 1.1-.5 1-.5 1.1-.6 1.1-.4 1-.3 1.1-.2 1.1-.2 1-.1 1.1 0 1.1 0 1 .1 1.1 0 1.1 0 1-.2 1.1-.2 1.1-.2 1-.2 1.1-.2 1.1 0 1 .1 1.1 .2 1.1 .2 1 .1 1.1-.1 1.1-.1 1-.1 1.1-.1 1.1 0 1 0 1.1 .1 1.1 .1 1-.1 1.1 0 1.1-.1 1-.1 1.1 0 1.1 .1 1.1 .1 1 .1 1.1 .1 1.1 0 1-.1 1.1-.2 1.1-.1 1 0 1.1 0 1.1 .1 1 0 1.1 .1 1.1 0 1 0 1.1 0 1.1 0 1 .1 1.1 0 1.1 0 1 0 1.1-.2 1.1-.1 1-.1 1.1 0 1.1 .1 1 .2 1.1 .1 1.1 .1 1 0 1.1-.1 1.1-.1 1-.1 1.1 0 1.1 0 1 0 1.1 .1 1.1-.1 1.1 0 1 0 1.1-.1 1.1 .1 1 .1 1.1 .2 1.1 .1 1 0 1.1-.1 1.1-.2 1-.2 1.1-.2 1.1-.1 1 .1 1.1 .2 1.1 .3 1 .2 1.1 .1 1.1-.1 1-.1 1.1-.1 1.1-.2 1-.1 1.1-.1 1.1-.1 1 0 1.1 .1 1.1 .1 1 .2" fill="none" stroke="#f3a87a" stroke-width="1.25" stroke-linejoin="round" stroke-opacity="0.6"/>
<path d="M1334.2 619.4l1.1-.1 1 .2 1.1 .3 1.1 .2 1-.1 1.1-.2 1.1-.2 1 0 1.1 .1 1.1-.2 1-.2 1.1 0 1.1 .3 1 .2 1.1 .1 1.1-.1 1-.1 1.1 0 1.1 0 1.1 0 1-.1 1.1 0 1.1 .1 1 0 1.1-.2 1.1-.1 1 .1 1.1 .2 1.1 .1 1 0 1.1-.1 1.1 .1 1 .1 1.1 0 1.1-.2 1-.3 1.1-.1 1.1 .1 1 .1 1.1-.2 1.1-.4 1-.4 1.1-.2 1.1-.3 1-.7 1.1-1.2 1.1-1.6 1-1.8 1.1-2.1 1.1-2.7 1-3.4 1.1-3.9 1.1-4 1-4 1.1-4.4 1.1-4.7 1.1-4.9 1-4.6 1.1-4 1.1-3.5 1-2.7 1.1-1.9 1.1-.7 1 .4 1.1 1.1 1.1 1.7 1 2.3 1.1 3 1.1 3.5 1 3.7 1.1 3.8 1.1 3.9 1 3.9 1.1 3.8 1.1 3.6 1 3.2 1.1 3.1 1.1 3.1 1 2.9 1.1 2.6 1.1 2.1 1 1.7 1.1 1.7 1.1 1.6 1 1.3 1.1 1 1.1 .8 1 1 1.1 1.2 1.1 1.3 1 1 1.1 .7 1.1 .9 1.1 1.1 1 1.3 1.1 1.1 1.1 .8 1 .6 1.1 .6 1.1 .7 1 .5 1.1 .2 1.1-.1 1 0 1.1 .1 1.1 0 1-.3 1.1-.4 1.1-.4 1-.3 1.1-.3 1.1-.5 1-.5 1.1-.6 1.1-.6 1-.8 1.1-.8 1.1-.7 1-.6 1.1-.4 1.1-.4 1-.6 1.1-.5 1.1-.4 1-.4 1.1-.5 1.1-.8 1-.6 1.1-.4 1.1-.2 1.1-.2 1-.3 1.1-.5 1.1-.2 1 .1 1.1 .2 1.1-.2 1-.3 1.1-.4 1.1 0 1 0 1.1-.2 1.1-.4 1-.2 1.1 .1 1.1 .4 1 .2 1.1 0 1.1-.2 1-.1 1.1 0 1.1 0 1-.1 1.1-.2 1.1 0 1 .1 1.1 .1 1.1-.1 1 0 1.1 .1 1.1 .1 1 0 1.1 0 1.1-.1 1 0 1.1 .1 1.1-.1 1.1-.2 1-.1 1.1 .2 1.1 .2 1 .1 1.1-.2 1.1-.2 1 0 1.1 .2 1.1 .2 1-.1 1.1-.2 1.1 0 1 .2 1.1 .1 1.1-.1 1-.4 1.1-.1 1.1 .1 1 .4 1.1 .1 1.1-.1 1-.1 1.1 0 1.1 .2 1 0 1.1-.2 1.1-.2 1-.1 1.1 .2 1.1 .1 1-.1 1.1-.1 1.1 .1 1 .1 1.1 .2 1.1 0 1.1 0 1-.1 1.1-.1 1.1-.1 1-.2 1.1-.1 1.1 .2 1 .2 1.1 .1 1.1 0 1 0 1.1 0 1.1 .1 1-.1 1.1-.2 1.1-.2 1 .1 1.1 .2 1.1 .1 1-.1 1.1-.3 1.1 .1 1 .3 1.1 .2 1.1-.1 1-.2 1.1-.2 1.1 .1 1 .2" fill="none" stroke="#ee9460" stroke-width="1.25" stroke-linejoin="round" stroke-opacity="0.6"/>
<path d="M1334.2 619.7l1.1 .2 1 .1 1.1-.2 1.1-.4 1-.1 1.1 0 1.1 .2 1 .1 1.1-.1 1.1 0 1 0 1.1 .3 1.1 .2 1 0 1.1-.3 1.1-.4 1-.3 1.1 .1 1.1 .4 1.1 .3 1 .1 1.1-.2 1.1-.2 1 0 1.1 .1 1.1 .1 1 0 1.1-.3 1.1-.2 1 .1 1.1 .3 1.1 .3 1 0 1.1-.3 1.1-.4 1-.2 1.1 .1 1.1 .3 1 0 1.1-.2 1.1-.6 1-.7 1.1-.7 1.1-.7 1-1.1 1.1-1.6 1.1-2 1-2.4 1.1-2.6 1.1-3 1-3.4 1.1-4.1 1.1-4.6 1-4.8 1.1-4.8 1.1-4.3 1.1-4 1-3.5 1.1-3 1.1-2.2 1-1.2 1.1-.1 1.1 .8 1 1.4 1.1 1.9 1.1 2.4 1 2.9 1.1 3.3 1.1 3.6 1 3.7 1.1 3.6 1.1 3.7 1 3.6 1.1 3.5 1.1 3.4 1 3.2 1.1 2.8 1.1 2.4 1 2 1.1 1.6 1.1 1.3 1 1.2 1.1 1.2 1.1 1.2 1 1.4 1.1 1.2 1.1 1.2 1 1 1.1 .8 1.1 .8 1 .7 1.1 .7 1.1 .7 1.1 .8 1 1.1 1.1 1.3 1.1 1.4 1 1.1 1.1 .7 1.1 .3 1 .1 1.1 .1 1.1 .2 1 0 1.1-.1 1.1-.3 1-.2 1.1-.1 1.1 0 1-.2 1.1-.5 1.1-.8 1-.9 1.1-.7 1.1-.4 1-.4 1.1-.5 1.1-.8 1-.9 1.1-.8 1.1-.4 1-.2 1.1-.3 1.1-.6 1-.8 1.1-.7 1.1-.4 1-.3 1.1-.3 1.1-.5 1.1-.6 1-.4 1.1-.1 1.1 .2 1 .2 1.1-.1 1.1-.5 1-.5 1.1-.4 1.1 0 1 .1 1.1 0 1.1-.1 1-.1 1.1-.1 1.1 .2 1 .2 1.1 0 1.1-.2 1-.3 1.1-.2 1.1 0 1 .3 1.1 .2 1.1 0 1-.2 1.1-.2 1.1 0 1 .1 1.1 .2 1.1 0 1 0 1.1-.1 1.1 0 1 0 1.1 .1 1.1-.1 1.1-.1 1-.2 1.1 0 1.1 .2 1 .2 1.1 .1 1.1 0 1-.1 1.1-.1 1.1-.2 1 0 1.1 0 1.1 .1 1 .1 1.1 .1 1.1 0 1-.1 1.1 0 1.1-.1 1 0 1.1 .1 1.1 0 1 0 1.1 0 1.1 .1 1 0 1.1 0 1.1-.2 1-.2 1.1-.1 1.1 0 1 .3 1.1 .4 1.1 .2 1-.1 1.1-.2 1.1-.3 1.1-.2 1 0 1.1 0 1.1 0 1 0 1.1 .1 1.1 .4 1 .4 1.1 .1 1.1-.2 1-.6 1.1-.5 1.1-.1 1 .2 1.1 .3 1.1 .3 1 .1 1.1-.1 1.1 .1 1 .1 1.1 .1 1.1-.1 1-.4 1.1-.4 1.1-.2 1 .3 1.1 .4 1.1 .3 1 0" fill="none" stroke="#f6b48c" stroke-width="1.25" stroke-linejoin="round" stroke-opacity="0.6"/>
<path d="M1334.2 620l1.1-.1 1-.2 1.1-.3 1.1 .1 1 .2 1.1 0 1.1-.3 1-.3 1.1 0 1.1 .3 1 .4 1.1 .1 1.1 0 1-.2 1.1 0 1.1-.1 1-.1 1.1-.2 1.1 0 1.1 .1 1 .1 1.1 .1 1.1 0 1 .2 1.1 .1 1.1 0 1-.3 1.1-.3 1.1 0 1 .2 1.1 .1 1.1-.1 1-.3 1.1-.1 1.1 .2 1 .3 1.1 0 1.1-.6 1-.8 1.1-.8 1.1-.8 1-1 1.1-1.3 1.1-1.7 1-2.1 1.1-2.7 1.1-3.4 1-3.9 1.1-4.2 1.1-4.5 1-5 1.1-5.6 1.1-5.7 1-5.4 1.1-4.5 1.1-3.7 1.1-3 1-2.4 1.1-1.3 1.1 0 1 1.1 1.1 1.7 1.1 2.2 1 2.7 1.1 3.2 1.1 4 1 4.3 1.1 4.5 1.1 4.4 1 4.3 1.1 4.2 1.1 3.8 1 3.5 1.1 3.4 1.1 3.1 1 2.8 1.1 2.2 1.1 1.6 1 1.4 1.1 1.6 1.1 1.8 1 1.4 1.1 .9 1.1 .4 1 .4 1.1 .8 1.1 1 1 1 1.1 .6 1.1 .5 1 .7 1.1 .8 1.1 1 1.1 1 1 .9 1.1 .9 1.1 .7 1 .5 1.1 .5 1.1 .5 1 .7 1.1 .3 1.1 0 1-.4 1.1-.1 1.1 .2 1 .2 1.1-.2 1.1-.6 1-.8 1.1-.4 1.1-.1 1-.2 1.1-.6 1.1-.8 1-.8 1.1-.6 1.1-.4 1-.2 1.1-.4 1.1-.4 1-.7 1.1-.8 1.1-.7 1-.5 1.1-.1 1.1-.1 1-.4 1.1-.7 1.1-.6 1.1-.2 1 .3 1.1 .2 1.1-.3 1-.6 1.1-.5 1.1-.2 1 .1 1.1 0 1.1-.1 1-.2 1.1-.1 1.1 .1 1 .2 1.1 0 1.1 0 1-.1 1.1-.3 1.1-.3 1-.1 1.1 .2 1.1 .3 1 .2 1.1-.2 1.1-.4 1 0 1.1 .5 1.1 .4 1 0 1.1-.6 1.1-.6 1-.1 1.1 .3 1.1 .4 1 .3 1.1-.1 1.1-.1 1.1-.1 1 0 1.1 0 1.1 .1 1 0 1.1-.1 1.1-.3 1-.3 1.1 .1 1.1 .5 1 .4 1.1 .1 1.1-.3 1-.4 1.1 0 1.1 .3 1 .1 1.1-.3 1.1-.4 1-.1 1.1 .3 1.1 .5 1 .3 1.1-.1 1.1-.3 1-.2 1.1-.1 1.1 .1 1 0 1.1 .1 1.1 0 1-.2 1.1-.2 1.1 0 1 .5 1.1 .5 1.1 .1 1.1-.4 1-.6 1.1-.4 1.1 .3 1 .4 1.1 .2 1.1-.2 1-.3 1.1 .1 1.1 .3 1 .2 1.1 .1 1.1-.2 1-.3 1.1-.1 1.1-.1 1 0 1.1 .1 1.1 .2 1 .1 1.1-.1 1.1-.1 1 .1 1.1 .3 1.1 .1 1-.2 1.1-.6 1.1-.3 1 .2" fill="none" stroke="#e98a55" stroke-width="1.25" stroke-linejoin="round" stroke-opacity="0.6"/>
<path d="M1334.2 619.6l1.1 .1 1 0 1.1-.2 1.1-.1 1 0 1.1 .2 1.1 .2 1 0 1.1-.1 1.1-.2 1 0 1.1 .1 1.1 0 1-.1 1.1-.1 1.1-.1 1 .1 1.1 .3 1.1 .2 1.1-.1 1-.2 1.1-.2 1.1 0 1 .1 1.1 .2 1.1 .1 1-.2 1.1-.2 1.1-.1 1 .1 1.1 .1 1.1 .1 1-.1 1.1-.1 1.1-.1 1 0 1.1-.1 1.1-.4 1-.7 1.1-.9 1.1-.9 1-1 1.1-1.2 1.1-1.7 1-2.3 1.1-3.1 1.1-3.7 1-4.2 1.1-4.5 1.1-5 1-5.5 1.1-5.7 1.1-5.6 1-5.4 1.1-4.9 1.1-4.3 1.1-3.6 1-2.6 1.1-1.3 1.1 .1 1 1.3 1.1 2 1.1 2.6 1 3 1.1 3.5 1.1 3.9 1 4.4 1.1 4.7 1.1 4.6 1 4.6 1.1 4.4 1.1 4.3 1 4.1 1.1 3.7 1.1 3.2 1 2.6 1.1 2.2 1.1 2 1 1.8 1.1 1.7 1.1 1.4 1 1.1 1.1 1 1.1 1 1 1.1 1.1 1.2 1.1 1.1 1 .9 1.1 .6 1.1 .7 1 .9 1.1 1 1.1 1.2 1.1 1.1 1 1.2 1.1 1.2 1.1 1.3 1 1.3 1.1 .9 1.1 .5 1 0 1.1 0 1.1-.1 1 .2 1.1 .1 1.1 .1 1-.2 1.1-.3 1.1-.4 1-.4 1.1-.5 1.1-.7 1-.9 1.1-.9 1.1-.7 1-.5 1.1-.5 1.1-.7 1-.8 1.1-.9 1.1-.8 1-.5 1.1-.4 1.1-.5 1-.7 1.1-.8 1.1-.7 1-.5 1.1-.4 1.1-.3 1.1-.3 1-.4 1.1-.3 1.1-.1 1-.1 1.1-.2 1.1-.3 1-.4 1.1-.3 1.1 0 1 .1 1.1 .1 1.1-.1 1-.3 1.1-.2 1.1-.1 1 .1 1.1 .2 1.1 .1 1-.1 1.1-.1 1.1-.1 1 0 1.1 0 1.1-.1 1-.1 1.1-.1 1.1 .1 1 .3 1.1 .2 1.1 .1 1-.2 1.1-.3 1.1-.2 1 0 1.1 .2 1.1 .1 1.1 .1 1-.1 1.1 0 1.1 0 1 .1 1.1-.1 1.1-.1 1-.2 1.1 0 1.1 .2 1 .3 1.1 .2 1.1-.1 1-.3 1.1-.3 1.1-.1 1 .2 1.1 .2 1.1 0 1 0 1.1 0 1.1 0 1 .2 1.1 0 1.1 0 1-.2 1.1-.3 1.1 0 1 .1 1.1 .1 1.1 .1 1-.1 1.1 0 1.1 .1 1 .2 1.1 .2 1.1 0 1.1-.2 1-.4 1.1-.3 1.1 0 1 .1 1.1 .3 1.1 .1 1 .2 1.1 .1 1.1 .1 1 0 1.1-.1 1.1-.4 1-.4 1.1-.2 1.1 .1 1 .4 1.1 .4 1.1 .2 1-.1 1.1-.1 1.1-.1 1-.1 1.1 0 1.1-.1 1-.1 1.1-.1 1.1 0 1 .2" fill="none" stroke="#f3a87a" stroke-width="1.25" stroke-linejoin="round" stroke-opacity="0.6"/>
<path d="M1334.2 619.1l1.1 0 1 .4 1.1 .5 1.1 .2 1-.4 1.1-.5 1.1-.2 1 .2 1.1 .4 1.1 .2 1-.2 1.1-.2 1.1-.1 1 .1 1.1 .1 1.1 .1 1 0 1.1 0 1.1-.1 1.1-.1 1-.2 1.1 0 1.1 .3 1 .2 1.1 .1 1.1-.2 1-.3 1.1-.2 1.1 .2 1 .2 1.1 .2 1.1-.2 1-.2 1.1-.2 1.1 .1 1 0 1.1-.2 1.1-.5 1-.6 1.1-.8 1.1-.8 1-1 1.1-1.4 1.1-1.7 1-2.3 1.1-2.9 1.1-3.7 1-4.1 1.1-4.2 1.1-4.3 1-4.5 1.1-4.8 1.1-5.1 1-5 1.1-4.4 1.1-3.4 1.1-2.5 1-1.4 1.1-.3 1.1 .5 1 1.2 1.1 1.8 1.1 2.3 1 3 1.1 3.5 1.1 3.8 1 4 1.1 4.1 1.1 4 1 4 1.1 3.9 1.1 3.6 1 3.2 1.1 2.8 1.1 2.4 1 2.4 1.1 2.1 1.1 1.8 1 1.5 1.1 1.2 1.1 1 1 1 1.1 .9 1.1 .7 1 .6 1.1 .7 1.1 .8 1 .8 1.1 .7 1.1 .7 1 .9 1.1 1 1.1 1 1.1 .8 1 .6 1.1 .7 1.1 .8 1 1.1 1.1 .8 1.1 .6 1 .2 1.1 .2 1.1 .1 1 .1 1.1-.2 1.1-.3 1-.2 1.1 0 1.1 0 1-.4 1.1-.7 1.1-.8 1-.6 1.1-.4 1.1-.4 1-.5 1.1-.6 1.1-.5 1-.5 1.1-.6 1.1-.8 1-.8 1.1-.6 1.1-.2 1-.1 1.1-.4 1.1-.6 1-.7 1.1-.4 1.1-.1 1.1-.1 1-.3 1.1-.6 1.1-.3 1 0 1.1 .1 1.1 0 1-.3 1.1-.3 1.1-.2 1 0 1.1 0 1.1-.1 1-.2 1.1 .1 1.1 .2 1 0 1.1-.2 1.1-.3 1 0 1.1 .2 1.1 .3 1 0 1.1-.4 1.1-.3 1 .1 1.1 .4 1.1 .4 1-.1 1.1-.4 1.1-.4 1 0 1.1 .2 1.1 .2 1 .2 1.1 0 1.1 0 1.1 0 1-.3 1.1-.3 1.1-.1 1 .3 1.1 .5 1.1 .2 1-.2 1.1-.5 1.1-.2 1 .2 1.1 .3 1.1 .1 1-.2 1.1-.3 1.1 0 1 .3 1.1 .3 1.1 0 1-.3 1.1-.2 1.1-.1 1 .1 1.1 .1 1.1 .1 1 .1 1.1 .2 1.1 0 1-.3 1.1-.4 1.1-.1 1 .3 1.1 .5 1.1 .2 1-.3 1.1-.5 1.1-.2 1.1 .3 1 .4 1.1 .2 1.1-.2 1-.4 1.1-.1 1.1 0 1 .2 1.1 .2 1.1 .1 1 0 1.1 0 1.1-.3 1-.3 1.1-.1 1.1 .3 1 .4 1.1 .3 1.1-.2 1-.4 1.1-.3 1.1 .1 1 .2 1.1 .2 1.1 0 1-.2 1.1 0 1.1 .1 1 .1" fill="none" stroke="#ee9460" stroke-width="1.25" stroke-linejoin="round" stroke-opacity="0.6"/>
<path d="M1334.2 620.9l1.1-.2 1-.6 1.1-.5 1.1 .2 1 .6 1.1 .6 1.1 .6 1 .6 1.1 1.3 1.1 2.1 1 2.3 1.1 1.8 1.1 .7 1-.5 1.1-1.1 1.1-1.2 1-1.1 1.1-1.4 1.1-2 1.1-2.3 1-1.9 1.1-.7 1.1 .6 1 1.3 1.1 .9 1.1-.1 1-.8 1.1-.8 1.1 0 1 .7 1.1 .5 1.1-.4 1-1.3 1.1-1.1 1.1-.1 1 1.3 1.1 1.9 1.1 1.2 1-.4 1.1-1.7 1.1-1.7 1-.6 1.1 .9 1.1 1.6 1 1 1.1-.2 1.1-1.2 1-1.1 1.1-.3 1.1 .5 1 .9 1.1 .5 1.1-.3 1-.5 1.1-.2 1.1 .4 1.1 .5 1-.1 1.1-1 1.1-2.1 1-2.6 1.1-2.5 1.1-2.3 1-2.3 1.1-3 1.1-4.1 1-5.6 1.1-7 1.1-7.6 1-7.3 1.1-5.8 1.1-3.3 1-.5 1.1 1.8 1.1 2.5 1 2.7 1.1 2.7 1.1 3.1 1 3.7 1.1 4.3 1.1 4.5 1 4 1.1 3.3 1.1 3.1 1 3.6 1.1 4.4 1.1 4.3 1 2.7 1.1-.7 1.1-4.7 1-8 1.1-8.5 1.1-5.5 1.1 .3 1 6.3 1.1 9.6 1.1 9.4 1 7.2 1.1 5.1 1.1 4 1 3.2 1.1 2.1 1.1 .7 1-.1 1.1 0 1.1 .6 1 1 1.1 .5 1.1-1.1 1-2.5 1.1-2.9 1.1-1.8 1-.2 1.1 .9 1.1 1 1-.1 1.1-1.2 1.1-1.8 1-1.7 1.1-1.2 1.1-1 1-.9 1.1-.9 1.1-.5 1 .1 1.1 .7 1.1 .7 1 0 1.1-.7 1.1-1 1.1-.7 1-.2 1.1 .3 1.1 .3 1-.1 1.1-.3 1.1-.1 1 .2 1.1 .4 1.1 .2 1-.4 1.1-.6 1.1-.3 1 .3 1.1 1 1.1 .8 1 .1 1.1-.9 1.1-1.3 1-.9 1.1 .1 1.1 .9 1 1 1.1 .6 1.1-.1 1-.4 1.1-.2 1.1 .1 1 .1 1.1-.2 1.1-.5 1-.6 1.1-.2 1.1 .3 1 .6 1.1 .5 1.1 .3 1.1 0 1-.1 1.1-.1 1.1 0 1-.3 1.1-.4 1.1-.4 1 0 1.1 .3 1.1 .4 1 0 1.1-.3 1.1-.3 1 .3 1.1 .9 1.1 1 1 .3 1.1-.9 1.1-1.8 1-1.4 1.1-.2 1.1 1.2 1 1.7 1.1 1.1 1.1-.2 1-1.1 1.1-1 1.1 .1 1 1 1.1 .8 1.1-.2 1-1.4 1.1-1.5 1.1-.4 1 1.3 1.1 2 1.1 1.4 1.1-.3 1-1.9 1.1-1.9 1.1-.6 1 1.1 1.1 1.9 1.1 1.4 1-.2 1.1-1.4 1.1-1.7 1-.7 1.1 .5 1.1 1.1 1 .7 1.1 .1 1.1-.4 1-.1 1.1 .4 1.1 .8 1 .3 1.1-.6 1.1-1.4 1-1.4 1.1-.6 1.1 .5 1 1.4 1.1 1.6 1.1 1.1 1 .3" fill="none" stroke="#48dc74" stroke-width="1.2" stroke-linejoin="round" stroke-opacity="0.85"/>
<path d="M1334.2 622.2l1.1-.5 1-1.2 1.1-1 1.1-.7 1-.4 1.1-.2 1.1 .1 1 .6 1.1 .9 1.1 .8 1 .2 1.1 .1 1.1 .5 1 1.2 1.1 1.6 1.1 1.5 1 1 1.1 .8 1.1 .8 1.1 .6 1-.1 1.1-.9 1.1-1.3 1-1 1.1-.6 1.1-.8 1-1.7 1.1-2.2 1.1-1.7 1-.5 1.1 .7 1.1 .7 1 0 1.1-.5 1.1-.3 1 .8 1.1 1.2 1.1 .7 1-.4 1.1-1 1.1-.8 1-.1 1.1 0 1.1-.4 1-.7 1.1-.1 1.1 1 1 1.8 1.1 1.3 1.1-.1 1-1.4 1.1-1.6 1.1-.7 1 0 1.1 .2 1.1 0 1.1-.5 1-.8 1.1-1.1 1.1-1.9 1-2.9 1.1-3.6 1.1-3.7 1-3.9 1.1-4.3 1.1-5 1-5.6 1.1-5.1 1.1-3.4 1-1.3 1.1 .5 1.1 1.5 1 2.3 1.1 3.1 1.1 3.3 1 2.8 1.1 2 1.1 1.6 1 2.5 1.1 3.8 1.1 4.8 1 4.2 1.1 2.8 1.1 1.5 1 1.1 1.1 1.6 1.1 1.8 1 1.3 1.1 .8 1.1 .8 1 1.4 1.1 1.8 1.1 1.3 1.1-.1 1-1.8 1.1-3.2 1.1-4.7 1-6.7 1.1-8 1.1-6.5 1-1.4 1.1 5.2 1.1 9.8 1 10.4 1.1 7.8 1.1 4.3 1 1.8 1.1 .6 1.1 .1 1-.6 1.1-1.3 1.1-1.7 1-1.2 1.1-.5 1.1-.1 1-.3 1.1-.8 1.1-.9 1-.7 1.1-.4 1.1-.6 1-.8 1.1-.7 1.1-.3 1 0 1.1-.1 1.1-.6 1-.7 1.1 0 1.1 .9 1.1 1.2 1 .3 1.1-.9 1.1-1.5 1-.9 1.1 .1 1.1 .7 1 .4 1.1-.1 1.1-.2 1 .5 1.1 .8 1.1 .4 1-.6 1.1-1.1 1.1-.6 1 .6 1.1 1 1.1 .3 1-.9 1.1-1.4 1.1-.6 1 .6 1.1 1.5 1.1 1.3 1 .5 1.1-.3 1.1-.6 1-.7 1.1-.9 1.1-1.1 1-.7 1.1 .4 1.1 1.4 1 1.6 1.1 .9 1.1-.1 1.1-.9 1-.8 1.1-.4 1.1-.3 1-.1 1.1 .1 1.1 .3 1 .4 1.1 0 1.1-.7 1-.6 1.1 .3 1.1 1.3 1 1.5 1.1 .5 1.1-.9 1-1.6 1.1-1.2 1.1-.4 1 .2 1.1 .2 1.1 .2 1 .7 1.1 1.4 1.1 1.3 1 .2 1.1-1.2 1.1-1.9 1-1.1 1.1 .2 1.1 1.1 1 .6 1.1-.3 1.1-.7 1-.1 1.1 .8 1.1 1 1.1 .5 1-.4 1.1-.6 1.1-.3 1-.1 1.1-.3 1.1-.7 1-.6 1.1 .1 1.1 1 1 1.2 1.1 .6 1.1-.1 1-.6 1.1-.4 1.1-.1 1-.2 1.1-.4 1.1-.2 1 0 1.1 .3 1.1 .1 1-.1 1.1 0 1.1 .5 1 1 1.1 .7 1.1-.3 1-1.4" fill="none" stroke="#48dc74" stroke-width="1.2" stroke-linejoin="round" stroke-opacity="0.85"/>
<path d="M1334.2 619.3l1.1-.3 1 .3 1.1 .5 1.1-.3 1-.9 1.1-.2 1.1 1.5 1 2 1.1 .2 1.1-1.9 1-1.9 1.1-.2 1.1 .8 1 .2 1.1-.9 1.1-.1 1 1.8 1.1 2.4 1.1 1.2 1.1-.4 1-.5 1.1 .5 1.1 1.1 1 1.4 1.1 1.7 1.1 1.8 1 1.2 1.1-.4 1.1-1.5 1-1.2 1.1-1 1.1-1.7 1-2.9 1.1-2.5 1.1-.5 1 1.1 1.1 .4 1.1-1.1 1-1.3 1.1 .8 1.1 2.2 1 1.5 1.1-.4 1.1-1.4 1-.8 1.1-.2 1.1-.7 1-1.1 1.1-.5 1.1 .7 1 1.4 1.1 1.4 1.1 1.1 1 .9 1.1-.3 1.1-2 1.1-2.7 1-1.6 1.1 .3 1.1 .5 1-.8 1.1-1.9 1.1-1.3 1-.9 1.1-2.8 1.1-6.2 1-8.2 1.1-7.6 1.1-6 1-5.3 1.1-5.4 1.1-4.6 1-1.9 1.1 .8 1.1 1.9 1 2.2 1.1 2.8 1.1 3.5 1 3.3 1.1 2.9 1.1 3.3 1 4.2 1.1 4.6 1.1 3.8 1 3.2 1.1 4.1 1.1 5.5 1 4.9 1.1 2.2 1.1-.3 1-.5 1.1 1.2 1.1 1.8 1.1 1 1 .5 1.1 1.8 1.1 3.4 1 3.6 1.1 2.2 1.1 .6 1 .2 1.1 .4 1.1 .3 1 .3 1.1 .7 1.1 .9 1-.2 1.1-2.3 1.1-4.5 1-6.3 1.1-8.2 1.1-9.4 1-7.3 1.1-1.3 1.1 6 1 9.2 1.1 7.1 1.1 2.9 1 .7 1.1 1.3 1.1 1.8 1 .8 1.1-.8 1.1-1.3 1-.7 1.1-.6 1.1-1.2 1-1.4 1.1-.8 1.1 .1 1.1 .4 1 .6 1.1 1 1.1 1.1 1 .1 1.1-1.6 1.1-1.9 1-.4 1.1 1.2 1.1 .8 1-.7 1.1-1.2 1.1 .4 1 1.6 1.1 .9 1.1-.9 1-1.4 1.1 0 1.1 1.3 1 .9 1.1-.6 1.1-1.2 1-.7 1.1 0 1.1 0 1 .3 1.1 .9 1.1 1.1 1 .2 1.1-.7 1.1-.5 1 .3 1.1-.1 1.1-1.3 1-1.5 1.1 .1 1.1 2.2 1.1 2.1 1-.1 1.1-1.6 1.1-.9 1 .6 1.1 .7 1.1-.5 1-1.3 1.1-.2 1.1 .9 1 1 1.1-.1 1.1-.5 1-.2 1.1 0 1.1 0 1 .2 1.1 .6 1.1 .6 1-.5 1.1-1.6 1.1-1 1 .8 1.1 1.4 1.1 .3 1-.8 1.1-.3 1.1 1.2 1 1.4 1.1-.6 1.1-2.2 1-1.6 1.1 .5 1.1 1.6 1 .9 1.1-.2 1.1-.2 1.1 .2 1 .1 1.1-.5 1.1-.6 1-.1 1.1 .2 1.1 0 1 0 1.1 .7 1.1 1 1-.2 1.1-1.7 1.1-1.3 1 .6 1.1 1.9 1.1 .9 1-.9 1.1-1.2 1.1 .2 1 1.2 1.1 .1 1.1-1.3 1-1.3 1.1 .4 1.1 1.5 1 .9 1.1-.3 1.1-.6 1-.3" fill="none" stroke="#7ed898" stroke-width="1.2" stroke-linejoin="round" stroke-opacity="0.85"/>
<path d="M1334.2 620.6l1.1-.4 1-.8 1.1-.7 1.1 0 1 .3 1.1 .2 1.1 .1 1 .4 1.1 .7 1.1 .3 1-.5 1.1-1 1.1-.4 1 .4 1.1 .6 1.1 0 1-.6 1.1-.2 1.1 .5 1.1 .8 1-.1 1.1-.9 1.1-.5 1 .6 1.1 1.5 1.1 1.1 1 .2 1.1 .2 1.1 1.3 1 2.3 1.1 2.1 1.1 .9 1 .1 1.1 0 1.1 .2 1-.6 1.1-1.9 1.1-2.6 1-2.2 1.1-1.2 1.1-.5 1-.6 1.1-.6 1.1 0 1 .5 1.1 .6 1.1 .1 1-.2 1.1-.2 1.1 0 1-.2 1.1-.5 1.1-.5 1 .1 1.1 .5 1.1 .3 1.1-.3 1-.4 1.1 0 1.1 .3 1-.5 1.1-2.1 1.1-3.1 1-3.1 1.1-3 1.1-3.8 1-5.2 1.1-6 1.1-5.6 1-4.5 1.1-3.9 1.1-4.1 1-3.9 1.1-2.1 1.1 .2 1 1.7 1.1 2.3 1.1 2.6 1 3.3 1.1 4.7 1.1 5.4 1 4.7 1.1 3.4 1.1 2.6 1 2.8 1.1 3.1 1.1 3 1 2.5 1.1 2.3 1.1 2.6 1 2.7 1.1 2.2 1.1 1.4 1.1 .9 1 1.1 1.1 1.3 1.1 1.2 1 1 1.1 1.2 1.1 1.9 1 1.9 1.1 1.2 1.1 .4 1 .2 1.1 .6 1.1 .6 1-.2 1.1-1.2 1.1-1.2 1-.5 1.1 0 1.1-.6 1-1.6 1.1-2.1 1.1-2 1-2.8 1.1-5.1 1.1-8 1-8.5 1.1-5.1 1.1 .6 1 4.9 1.1 6.2 1.1 5 1 3.6 1.1 2.7 1.1 1.6 1 .2 1.1-.8 1.1-.9 1.1-.1 1 .5 1.1 .2 1.1-.3 1-.3 1.1 .1 1.1 .2 1-.1 1.1-.4 1.1-.2 1 .3 1.1 .4 1.1 .2 1-.1 1.1-.1 1.1 .2 1-.1 1.1-.6 1.1-.9 1-.1 1.1 .8 1.1 1.1 1 .3 1.1-.4 1.1-.3 1 .3 1.1 .3 1.1-.6 1-1.3 1.1-.8 1.1 .7 1 1.4 1.1 .9 1.1-.3 1-.6 1.1 0 1.1 .5 1.1 0 1-.9 1.1-1.1 1.1-.2 1 .9 1.1 1 1.1 .2 1-.4 1.1-.1 1.1 .3 1 .4 1.1-.3 1.1-.8 1-.5 1.1 .1 1.1 .3 1 .1 1.1-.1 1.1 .3 1 .6 1.1 .4 1.1-.2 1-.5 1.1-.2 1.1 0 1-.3 1.1-.6 1.1-.4 1 .5 1.1 1.2 1.1 .8 1-.2 1.1-.7 1.1-.3 1 .2 1.1 0 1.1-.7 1.1-1 1 0 1.1 1.2 1.1 1.4 1 .3 1.1-.8 1.1-.9 1 .1 1.1 .4 1.1-.1 1-.8 1.1-.5 1.1 .5 1 1.2 1.1 .6 1.1-.4 1-.9 1.1-.3 1.1 .3 1 .3 1.1-.2 1.1-.3 1 .2 1.1 .5 1.1 .2 1-.3 1.1-.5 1.1-.1 1 .2" fill="none" stroke="#48dc74" stroke-width="1.2" stroke-linejoin="round" stroke-opacity="0.85"/>
<path d="M1334.2 620.9l1.1-.5 1-.4 1.1-.7 1.1-1.2 1-.9 1.1 .7 1.1 2 1 1.7 1.1 .1 1.1-1.2 1-1 1.1-.3 1.1-.3 1-.4 1.1-.1 1.1 1 1 1.2 1.1 0 1.1-1.1 1.1-1 1 .5 1.1 1.3 1.1 .6 1-.5 1.1-.7 1.1-.4 1-.3 1.1-.8 1.1-.6 1 1 1.1 2.4 1.1 2.1 1 .5 1.1-.7 1.1-.2 1 1 1.1 1.6 1.1 1.4 1 1.5 1.1 2 1.1 1.3 1-.8 1.1-3 1.1-3.3 1-2 1.1-.6 1.1-.7 1-1 1.1-.7 1.1 .2 1 .3 1.1-.6 1.1-.9 1 0 1.1 .9 1.1 .4 1.1-1.7 1-3.3 1.1-3.4 1.1-2.9 1-3.3 1.1-4.2 1.1-4.5 1-4 1.1-3.6 1.1-4.6 1-5.3 1.1-4.2 1.1-1.3 1 1.1 1.1 1.8 1.1 1.7 1 2.4 1.1 3.7 1.1 4 1 3.1 1.1 2.5 1.1 3 1 4.3 1.1 4 1.1 2.5 1 1.2 1.1 1.7 1.1 2.4 1 2.2 1.1 1.1 1.1 .6 1 1.3 1.1 1.6 1.1 .6 1-.8 1.1-1 1.1 .3 1.1 1.4 1 1 1.1 0 1.1 .2 1 1.4 1.1 1.9 1.1 1 1 .3 1.1 .8 1.1 2.1 1 2.2 1.1 1.3 1.1 .8 1 2 1.1 3.6 1.1 3.3 1 1.1 1.1-1 1.1-1.4 1-1 1.1-1.2 1.1-2.2 1-2.1 1.1-.7 1.1 .2 1-.7 1.1-2 1.1-1.8 1-.6 1.1 .2 1.1-.8 1-1.8 1.1-1.6 1.1-.7 1-.5 1.1-1.4 1.1-1.8 1.1-.3 1 1.3 1.1 1.5 1.1-.2 1-1.4 1.1-1 1.1-.2 1-.3 1.1-1.1 1.1-.6 1 .9 1.1 1.8 1.1 .8 1-1 1.1-1.2 1.1 0 1 .9 1.1 .2 1.1-.8 1-.7 1.1 .4 1.1 .5 1-.5 1.1-1 1.1 .2 1 1.8 1.1 1.8 1.1-.1 1-1.7 1.1-1.5 1.1-.3 1-.1 1.1-.5 1.1 .1 1 1.6 1.1 2.3 1.1 .8 1.1-1.5 1-2.2 1.1-.8 1.1 .6 1 .4 1.1-.2 1.1 .1 1 1 1.1 .9 1.1-.5 1-1.5 1.1-.6 1.1 1.3 1 1.5 1.1-.1 1.1-1.5 1-1.1 1.1 .1 1.1 .4 1-.2 1.1-.1 1.1 1.4 1 1.9 1.1 .5 1.1-1.8 1-2.5 1.1-.8 1.1 .9 1 .9 1.1 .2 1.1 .3 1 1.1 1.1 .9 1.1-.8 1-2.1 1.1-1 1.1 1 1.1 1.7 1 .2 1.1-1 1.1-.7 1 .4 1.1 .4 1.1-.5 1-.6 1.1 .8 1.1 1.8 1 .6 1.1-1.5 1.1-2.1 1-.5 1.1 1 1.1 .8 1-.1 1.1 0 1.1 1 1 1 1.1-.6 1.1-1.9 1-1.1 1.1 .9 1.1 1.5 1 .2 1.1-1.1 1.1-.5 1 .7" fill="none" stroke="#34c862" stroke-width="1.2" stroke-linejoin="round" stroke-opacity="0.85"/>
<path d="M1334.2 617.8l1.1-.1 1 1.1 1.1 1.6 1.1 .8 1-.5 1.1-.9 1.1-.5 1-.2 1.1-.4 1.1 0 1 .9 1.1 1.2 1.1 .2 1-1 1.1-1.2 1.1-.3 1 .1 1.1 0 1.1 .4 1.1 1.2 1 1.3 1.1 0 1.1-1.3 1-1.2 1.1-.5 1.1-.1 1-.1 1.1 .3 1.1 1.1 1 1.2 1.1 .2 1.1-.9 1-.7 1.1-.1 1.1 0 1-.3 1.1-.2 1.1 .4 1 .7 1.1-.2 1.1-.6 1-.2 1.1 .7 1.1 .6 1-.1 1.1-.4 1.1 0 1 0 1.1-.6 1.1-.8 1 0 1.1 1.1 1.1 .8 1 0 1.1-.4 1.1-.2 1.1-.4 1-1 1.1-1.4 1.1-.7 1-.3 1.1-1.1 1.1-2.8 1-3.8 1.1-4 1.1-4.5 1-5.3 1.1-5.1 1.1-3.8 1-2.3 1.1-1.9 1.1-1.6 1-.8 1.1 .3 1.1 1.3 1 1.6 1.1 2.5 1.1 3.9 1 4.6 1.1 4 1.1 2.6 1 2.2 1.1 2.4 1.1 2.4 1 2 1.1 2 1.1 2.8 1 2.9 1.1 1.8 1.1 .3 1-.1 1.1 .5 1.1 .8 1.1 .7 1 1.2 1.1 2 1.1 2.3 1 1.2 1.1 0 1.1-.1 1 .7 1.1 .9 1.1 .9 1 1.1 1.1 1.7 1.1 1.7 1 .2 1.1-1 1.1-1.3 1-.7 1.1-.6 1.1-.9 1-.8 1.1 0 1.1 .2 1-.6 1.1-1.4 1.1-1.2 1-.4 1.1-.5 1.1-1.1 1-1.2 1.1-.5 1.1-.3 1-.7 1.1-1 1.1-.1 1 .8 1.1 .6 1.1-.2 1.1-.7 1-.4 1.1-.3 1.1-.8 1-.8 1.1 .2 1.1 1.2 1 .8 1.1-.3 1.1-1.1 1-1.8 1.1-3.1 1.1-4.5 1-4.2 1.1-.9 1.1 2.8 1 4.3 1.1 3.4 1.1 1.9 1 .9 1.1 .2 1.1-.1 1 .1 1.1 1.4 1.1 1.9 1 .9 1.1-.6 1.1-1.5 1-1.3 1.1-1.1 1.1-.9 1 0 1.1 1.5 1.1 2.3 1 1.6 1.1 0 1.1-1 1.1-1 1-1.2 1.1-1.4 1.1-.9 1 .7 1.1 1.7 1.1 1.3 1 .3 1.1-.1 1.1 .1 1-.2 1.1-1 1.1-.9 1 0 1.1 .5 1.1 .1 1-.4 1.1 0 1.1 .7 1 .6 1.1 0 1.1-.2 1 .1 1.1 .3 1.1-.5 1-1.1 1.1-.4 1.1 .5 1 .7 1.1 0 1.1-.1 1 .3 1.1 .3 1.1-.3 1-.7 1.1 .1 1.1 .9 1.1 .6 1-.3 1.1-.8 1.1-.6 1-.3 1.1-.7 1.1-.3 1 .9 1.1 2 1.1 1.6 1 .1 1.1-.9 1.1-1.2 1-1.4 1.1-1.8 1.1-1.1 1 .7 1.1 2.4 1.1 2.4 1 1.1 1.1 .1 1.1-.5 1-1.4 1.1-2.2 1.1-2 1-.2 1.1 1.3 1.1 1.8 1 1" fill="none" stroke="#48dc74" stroke-width="1.2" stroke-linejoin="round" stroke-opacity="0.85"/>
<path d="M1334.2 621.2l1.1-.3 1-.4 1.1-.6 1.1-.8 1-.8 1.1-.3 1.1 .5 1 1 1.1 .7 1.1-.1 1-.5 1.1-.2 1.1 .5 1 .9 1.1 .3 1.1-.6 1-1.3 1.1-1.3 1.1-.7 1.1 .3 1 1.3 1.1 1.8 1.1 1.4 1 .1 1.1-1.3 1.1-1.8 1-.9 1.1 .5 1.1 1.3 1 .4 1.1-1.1 1.1-1.4 1-.2 1.1 1.5 1.1 2.3 1 .9 1.1-1 1.1-1.8 1-1 1.1 .5 1.1 .8 1-.2 1.1-1.4 1.1-1.1 1 .8 1.1 2.4 1.1 2.2 1 .3 1.1-1.9 1.1-2.5 1-1.2 1.1 .8 1.1 1.5 1 .9 1.1-.8 1.1-1.9 1.1-1.8 1-.9 1.1 .2 1.1-.2 1-1.9 1.1-4.6 1.1-6.6 1-6.9 1.1-5.4 1.1-3.4 1-2.4 1.1-2.8 1.1-3.2 1-2.2 1.1 .2 1.1 2.2 1 3 1.1 2.3 1.1 1.3 1 1.7 1.1 3.4 1.1 4.9 1 4.6 1.1 3.1 1.1 1.8 1 1.8 1.1 3.1 1.1 3.8 1 3 1.1 .9 1.1-.7 1-.6 1.1 .6 1.1 1.8 1 2 1.1 1.1 1.1 .3 1.1-.3 1-.1 1.1 .2 1.1 .9 1 1.5 1.1 1.8 1.1 1.6 1 .9 1.1 .4 1.1 .5 1 1.3 1.1 2.1 1.1 2 1 1.2 1.1 .2 1.1-.3 1-.3 1.1-.2 1.1-.1 1-.1 1.1-.1 1.1-.3 1-.8 1.1-1.8 1.1-2.1 1-1.7 1.1-.5 1.1 .3 1 0 1.1-1.1 1.1-1.7 1-1.2 1.1-.2 1.1 .1 1-.6 1.1-1.5 1.1-1.5 1.1-.2 1 1 1.1 .8 1.1-.5 1-1.4 1.1-.8 1.1 .8 1 2 1.1 1.1 1.1-1 1-2.7 1.1-2.3 1.1-.1 1 1.9 1.1 2.4 1.1 1.2 1-.6 1.1-1.5 1.1-1.1 1 .1 1.1 1.1 1.1 .9 1-.1 1.1-1.3 1.1-1.7 1-.9 1.1 .3 1.1 .6 1-1.2 1.1-4.4 1.1-6.1 1-4.4 1.1 .4 1.1 4.6 1 5.4 1.1 3.1 1.1 .8 1.1 .5 1 1.8 1.1 2.8 1.1 1.7 1-.7 1.1-2.4 1.1-1.7 1 .4 1.1 1.8 1.1 1.1 1-.9 1.1-2.2 1.1-1.6 1 .6 1.1 2.4 1.1 2.4 1 .8 1.1-.9 1.1-1.8 1-1.5 1.1-.6 1.1 .2 1 .7 1.1 .6 1.1 .3 1-.1 1.1-.1 1.1 .2 1 .6 1.1 .6 1.1-.1 1-.8 1.1-1 1.1-.6 1 .1 1.1 .3 1.1 .1 1.1 .1 1 .5 1.1 1.1 1.1 1 1-.1 1.1-1.4 1.1-1.6 1-.7 1.1 .6 1.1 1 1 .5 1.1-.2 1.1-.4 1 .2 1.1 .6 1.1 .3 1-.4 1.1-.4 1.1 0 1 .4 1.1-.1 1.1-.9 1-1.2 1.1-.2 1.1 1.4 1 2.2 1.1 1.1 1.1-.9 1-2.2" fill="none" stroke="#48dc74" stroke-width="1.2" stroke-linejoin="round" stroke-opacity="0.85"/>
<path d="M1334.2 620.4l1.1-2.9 1 .1 1.1 2.7 1.1 .8 1-2.5 1.1-1.8 1.1 2 1 3.5 1.1 0 1.1-3.2 1-1.7 1.1 1.7 1.1 2.1 1-.8 1.1-2.1 1.1-.1 1 1.9 1.1 .7 1.1-1.2 1.1-1.2 1 .4 1.1 1 1.1 .1 1-.2 1.1 .7 1.1 .7 1-.9 1.1-1.7 1.1-.4 1 1.1 1.1 .4 1.1-.8 1-.5 1.1 1.5 1.1 1.9 1 0 1.1-1.9 1.1-1.4 1 .3 1.1 1 1.1 0 1-.7 1.1-.4 1.1 .5 1 .9 1.1 .6 1.1-.3 1-1 1.1-.6 1.1 .7 1 1.4 1.1 .1 1.1-1.8 1-1.5 1.1 .9 1.1 1.8 1.1 0 1-2.1 1.1-1.4 1.1 1.1 1 1 1.1-2.1 1.1-4.5 1-3.5 1.1-2.2 1.1-3.6 1-6.4 1.1-7 1.1-5.3 1-4.3 1.1-4.8 1.1-4.2 1-1.1 1.1 1.5 1.1 1.1 1 .1 1.1 1.7 1.1 4.3 1 4.3 1.1 1.9 1.1 1.7 1 5 1.1 7.3 1.1 5 1 1.1 1.1 1 1.1 4.1 1 4.9 1.1 1.3 1.1-1.5 1 .5 1.1 4 1.1 4 1.1 .8 1-.8 1.1 1.1 1.1 3.2 1 2.5 1.1 .7 1.1 .7 1 2.2 1.1 2.3 1.1 1.2 1 .2 1.1 .2 1.1 0 1-.8 1.1-.7 1.1 .4 1 .9 1.1-.5 1.1-1.8 1-1.5 1.1-.6 1.1-.7 1-2.1 1.1-2.6 1.1-1.4 1 0 1.1 .1 1.1-.8 1-1.3 1.1-1 1.1-.5 1-.1 1.1 0 1.1-.6 1-1.5 1.1-1.2 1.1 .3 1.1 1.3 1 0 1.1-1.8 1.1-1.1 1 1.6 1.1 2.4 1.1-.2 1-2.7 1.1-1.4 1.1 1.8 1 2 1.1-1 1.1-2.4 1-.2 1.1 2.2 1.1 1.2 1-1.6 1.1-1.6 1.1 .8 1 1.8 1.1 .2 1.1-1.2 1 0 1.1 1 1.1-.4 1-1.9 1.1-.9 1.1 1.5 1 1.6 1.1-.8 1.1-1.3 1 1.2 1.1 2.6 1.1-.1 1-3.7 1.1-3.7 1.1-1.2 1.1-1.3 1-4.6 1.1-5 1.1 0 1 5.9 1.1 6.4 1.1 2.4 1-.4 1.1 .6 1.1 2.1 1 1.4 1.1-.7 1.1-1.2 1-.1 1.1 .4 1.1 .1 1-.3 1.1-.1 1.1 .2 1 .1 1.1 .5 1.1 .8 1 .3 1.1-1 1.1-1.3 1-.2 1.1 .9 1.1 .4 1-.7 1.1-.5 1.1 .7 1 1 1.1 .2 1.1-.3 1-.3 1.1-.2 1.1-.2 1.1-.1 1 .2 1.1 0 1.1-1 1-.7 1.1 1.1 1.1 2.1 1 .5 1.1-1.9 1.1-1.5 1 1.3 1.1 2 1.1-.9 1-3 1.1-.8 1.1 2.7 1 2.5 1.1-1.1 1.1-2.9 1-.2 1.1 2.4 1.1 1.3 1-1.7 1.1-1.7 1.1 1.1 1 2 1.1-.3 1.1-2 1-.8" fill="none" stroke="#48dc74" stroke-width="1.2" stroke-linejoin="round" stroke-opacity="0.85"/>
<path d="M1334.2 619.1l1.1 .3 1-.8 1.1-1 1.1 .5 1 1.7 1.1 1 1.1-.3 1 0 1.1 .7 1.1-.1 1-1.8 1.1-2 1.1 0 1 1.6 1.1 1.3 1.1 0 1-.3 1.1 .2 1.1-.1 1.1-.6 1-.6 1.1 .4 1.1 1.1 1 .5 1.1-.5 1.1-1.1 1-.8 1.1-.1 1.1 .5 1 .7 1.1 .3 1.1 .1 1 .3 1.1 .4 1.1-.1 1-.8 1.1-.4 1.1 .3 1 .1 1.1-1.1 1.1-1.3 1 .5 1.1 2 1.1 1.6 1-.1 1.1-.6 1.1 0 1-.2 1.1-1.6 1.1-1.7 1 .1 1.1 1.8 1.1 1.1 1-.5 1.1-.9 1.1 .1 1.1 .4 1-.9 1.1-2 1.1-2.3 1-2.5 1.1-3.8 1.1-5.3 1-5.7 1.1-4.9 1.1-4.4 1-4.3 1.1-4.6 1.1-4.3 1-3.2 1.1-1.2 1.1 .5 1 1.3 1.1 2 1.1 2.7 1 3.9 1.1 4.1 1.1 3.5 1 3.3 1.1 4.4 1.1 5.2 1 4.2 1.1 2.1 1.1 1.3 1 2.3 1.1 2.7 1.1 1.7 1 .8 1.1 1.5 1.1 2.3 1 1.5 1.1-.2 1.1 0 1.1 1.9 1 2.9 1.1 1.8 1.1 .2 1 .1 1.1 .5 1.1 .3 1-.3 1.1 .2 1.1 1.5 1 2 1.1 1.1 1.1-.3 1-1 1.1-1 1.1-1 1-.9 1.1-1.2 1.1-1.3 1-1.1 1.1-.2 1.1 .3 1 0 1.1-.3 1.1-.2 1 0 1.1-1.1 1.1-2.5 1-2.3 1.1-.3 1.1 1.3 1 .9 1.1-.3 1.1-.1 1 .5 1.1 0 1.1-1.3 1.1-1.3 1 .5 1.1 1.6 1.1 .4 1-1.3 1.1-1.1 1.1 .2 1 .6 1.1-.2 1.1-.3 1 .6 1.1 1 1.1 .2 1-.7 1.1-.5 1.1 .2 1 .4 1.1-.1 1.1-.9 1-.9 1.1-.4 1.1 .6 1 1.2 1.1 1.1 1.1 .5 1 0 1.1-.1 1.1-.9 1-1.7 1.1-1.3 1.1 .4 1 1.6 1.1 1 1.1-.4 1-.4 1.1 .7 1.1 1.1 1.1 .1 1 .3 1.1 2.6 1.1 4.8 1 4 1.1 1 1.1-1.5 1-2.3 1.1-2.5 1.1-2.9 1-2.7 1.1-1.3 1.1-.2 1-.5 1.1-1.1 1.1-.7 1 .5 1.1 .8 1.1 .1 1-.6 1.1-.3 1.1 .5 1 .8 1.1 .6 1.1 .1 1-.6 1.1-.8 1.1-.4 1-.1 1.1-.1 1.1 0 1 .7 1.1 .9 1.1 0 1-1.2 1.1-.9 1.1 .8 1.1 1.6 1 .5 1.1-.9 1.1-.6 1 0 1.1-.5 1.1-1.5 1-.6 1.1 1.4 1.1 2.3 1 .7 1.1-.8 1.1-.6 1 .4 1.1 0 1.1-1.1 1-1.3 1.1-.1 1.1 .6 1 .2 1.1-.1 1.1 .7 1 1.5 1.1 1.2 1.1-.3 1-1.3 1.1-1.7 1.1-1.1 1-.2" fill="none" stroke="#34c862" stroke-width="1.2" stroke-linejoin="round" stroke-opacity="0.85"/>
<path d="M1334.2 619l1.1-1.1 1 .5 1.1 1.3 1.1 .6 1-.3 1.1-.1 1.1-.1 1-.4 1.1-.2 1.1 .4 1 .3 1.1-.6 1.1-.5 1 .7 1.1 1.3 1.1-.3 1-1.6 1.1-.5 1.1 1.5 1.1 1.2 1-1.5 1.1-2.2 1.1 .3 1 2.4 1.1 1.2 1.1-1.3 1-1 1.1 1.4 1.1 1.6 1-1.2 1.1-3.1 1.1-1.4 1 1.5 1.1 1.9 1.1 .2 1-.1 1.1 1 1.1 1.3 1-.4 1.1-2 1.1-1.7 1-.5 1.1 .3 1.1 .7 1 1.1 1.1 1.2 1.1 .2 1-.7 1.1-.3 1.1 .1 1-.6 1.1-1.5 1.1-.7 1 1.4 1.1 1.2 1.1-1.3 1.1-3.2 1-2.1 1.1-.7 1.1-2.3 1-5.5 1.1-6.4 1.1-4.3 1-3.4 1.1-5.4 1.1-7.3 1-5.1 1.1-1.1 1.1 .8 1-.2 1.1-.6 1.1 1.8 1 3.8 1.1 3.6 1.1 2.6 1 3.2 1.1 4.6 1.1 5.1 1 4 1.1 3.1 1.1 2.7 1 2.2 1.1 1.5 1.1 1.6 1 2.3 1.1 1.9 1.1 .7 1 .6 1.1 1.7 1.1 1.9 1-.1 1.1-1.5 1.1-.2 1.1 2.2 1 1.8 1.1-.6 1.1-1.3 1 1.2 1.1 3.3 1.1 2 1-.1 1.1 .8 1.1 3.5 1 3.9 1.1 1 1.1-1.2 1-.1 1.1 1.7 1.1 1.4 1-.3 1.1-.4 1.1 1 1 1.3 1.1-.3 1.1-1.9 1-2.3 1.1-1.8 1.1-1.7 1-1.2 1.1-.4 1.1-.1 1-.9 1.1-1.5 1.1-1 1-.6 1.1-1.8 1.1-2.8 1-1.4 1.1 1.3 1.1 1.6 1.1-.5 1-1.9 1.1-.4 1.1 1.5 1 .1 1.1-2.5 1.1-2.2 1 .7 1.1 2.3 1.1 .3 1-1.6 1.1-.6 1.1 1.9 1 1.7 1.1-.8 1.1-1.9 1-.5 1.1 .6 1.1 0 1-1.1 1.1-.5 1.1 .9 1 1.4 1.1 .7 1.1 .3 1-.1 1.1-.7 1.1-1.3 1-.6 1.1 .4 1.1 .4 1-.4 1.1-.1 1.1 1.5 1 1.5 1.1-.8 1.1-2.3 1.1-.8 1 1.6 1.1 1.5 1.1-1 1-1.5 1.1 .7 1.1 2 1 .1 1.1-2.5 1.1-1.6 1 1.5 1.1 2.2 1.1-.2 1-2.4 1.1-2 1.1-1.6 1-2.9 1.1-3.8 1.1-1.5 1 2.5 1.1 4.7 1.1 3.5 1 1.6 1.1 .4 1.1-.1 1-.4 1.1-.2 1.1 .7 1 1 1.1 .2 1.1-.2 1 .5 1.1 .7 1.1-.9 1-2.5 1.1-1.2 1.1 1.5 1.1 2 1-.1 1.1-1.2 1.1 .6 1 2.2 1.1 .6 1.1-2.4 1-2.3 1.1 .6 1.1 1.8 1 0 1.1-1.8 1.1-.5 1 1.9 1.1 1.8 1.1-.4 1-1.3 1.1-.2 1.1 .8 1-.2 1.1-1.3 1.1-.8 1 .4 1.1 .8 1.1 .7 1 .7 1.1 .4 1.1-.5 1-1.2" fill="none" stroke="#6ad88a" stroke-width="1.2" stroke-linejoin="round" stroke-opacity="0.85"/>
<path d="M1334.2 619.8l1.1-2.2 1-1.5 1.1 1 1.1 2.3 1 1.7 1.1 .3 1.1-.2 1-.3 1.1-.8 1.1-1.2 1-.5 1.1 .7 1.1 .5 1-.5 1.1-.9 1.1 .5 1 1.7 1.1 .7 1.1-.9 1.1-1.2 1 .3 1.1 1.4 1.1 .1 1-1.4 1.1-1.4 1.1 .1 1 1.1 1.1 .5 1.1 .1 1 .4 1.1 .5 1.1-.4 1-1.2 1.1-.7 1.1 .5 1 .9 1.1 0 1.1-.2 1 .6 1.1 .8 1.1-.6 1-2.2 1.1-1.5 1.1 1.2 1 2.5 1.1 1.3 1.1-.8 1-1.3 1.1-.3 1.1 .3 1-.1 1.1-.3 1.1 .2 1 .2 1.1-.6 1.1-1.4 1.1-.6 1 .4 1.1 .1 1.1-1.4 1-2.5 1.1-2.7 1.1-3.5 1-5.9 1.1-7.9 1.1-7.4 1-4.8 1.1-3 1.1-3.2 1-3.4 1.1-1.8 1.1 .7 1 1.5 1.1 1.1 1.1 1.2 1 2.5 1.1 3.5 1.1 3.8 1 3.9 1.1 4.6 1.1 5.2 1 4.4 1.1 2.9 1.1 2.5 1 3.5 1.1 3.4 1.1 1.4 1-.8 1.1-.7 1.1 1.5 1 2.8 1.1 2.4 1.1 1.6 1.1 2 1 2.6 1.1 1.8 1.1 .1 1-.4 1.1 .6 1.1 1.6 1 1.2 1.1-.3 1.1-2.4 1-5.4 1.1-8.1 1.1-7.5 1-1.6 1.1 5.8 1.1 9.3 1 6.5 1.1 1.7 1.1-.6 1 0 1.1 .4 1.1-.4 1-1.2 1.1-.8 1.1 0 1-.7 1.1-1.9 1.1-2.1 1-1 1.1 0 1.1-.2 1-.3 1.1 0 1.1 .3 1-.7 1.1-1.7 1.1-1.1 1.1 .8 1 1.4 1.1 .1 1.1-1.2 1-.5 1.1 1.1 1.1 1.1 1-.6 1.1-1.6 1.1-.7 1 .8 1.1 .8 1.1-.2 1-.7 1.1-.1 1.1 .3 1 .2 1.1 .4 1.1 1.1 1 1.1 1.1-.5 1.1-2.3 1-2 1.1-.1 1.1 1.2 1 .7 1.1 .1 1.1 .9 1 1.7 1.1 .9 1.1-1.4 1-2.3 1.1-1 1.1 .7 1 .9 1.1-.2 1.1-.7 1.1 0 1 .4 1.1 .4 1.1 .7 1 1.4 1.1 1 1.1-.8 1-2.4 1.1-2 1.1 0 1 1 1.1 .3 1.1-.2 1 .8 1.1 2.1 1.1 1.3 1-.9 1.1-2 1.1-1.1 1 .2 1.1 .2 1.1-.4 1-.2 1.1 .6 1.1 .7 1 .1 1.1-.1 1.1 .6 1 .8 1.1-.3 1.1-1.3 1-.8 1.1 .5 1.1 .5 1-1 1.1-1.3 1.1 .6 1.1 2.4 1 1.9 1.1-.5 1.1-2 1-1.2 1.1-.1 1.1 .3 1 .2 1.1 .5 1.1 .9 1 .4 1.1-1 1.1-1.1 1-.1 1.1 .8 1.1 .3 1-.3 1.1 .2 1.1 1.1 1 .4 1.1-1.4 1.1-1.7 1 .1 1.1 1.9 1.1 1.3 1-.9 1.1-1.8 1.1-.7 1 .7" fill="none" stroke="#34c862" stroke-width="1.2" stroke-linejoin="round" stroke-opacity="0.85"/>
<path d="M1334.2 618.2l1.1-.7 1 .1 1.1 .8 1.1 1.4 1 1.3 1.1 .8 1.1-.1 1-1.1 1.1-1.4 1.1-1.3 1-.6 1.1 .5 1.1 1.1 1 1.2 1.1 .9 1.1 0 1-.7 1.1-1.1 1.1-.7 1.1-.2 1 .5 1.1 .8 1.1 .8 1 .2 1.1-.4 1.1-.8 1-.7 1.1-.2 1.1 .3 1 .6 1.1 .6 1.1 .3 1-.3 1.1-.6 1.1-.5 1-.2 1.1 .3 1.1 .7 1 .7 1.1 .2 1.1-.3 1-.8 1.1-.9 1.1-.6 1 .1 1.1 .6 1.1 .9 1 .9 1.1 .4 1.1-.2 1-.5 1.1-.7 1.1-.5 1-.2 1.1 0 1.1 0 1.1-.1 1-.2 1.1-.2 1.1-.2 1-.2 1.1-.5 1.1-1.4 1-2.6 1.1-4 1.1-5.3 1-6.1 1.1-6.4 1.1-6 1-5.5 1.1-4.7 1.1-4 1-3.2 1.1-2 1.1-.6 1 .4 1.1 1.7 1.1 3.1 1 4 1.1 4.4 1.1 4.2 1 3.7 1.1 3.4 1.1 3.4 1 3.9 1.1 4.4 1.1 4.7 1 4.4 1.1 3.4 1.1 2 1 .7 1.1-.1 1.1-.2 1.1 .6 1 1.6 1.1 2.6 1.1 3 1 3 1.1 2.3 1.1 1.6 1 1 1.1 .6 1.1 .6 1 .6 1.1 .7 1.1 .5 1 .4 1.1 .2 1.1 .2 1 .2 1.1 .1 1.1-.2 1-.7 1.1-1.3 1.1-2 1-2.1 1.1-1.8 1.1-1.3 1-.7 1.1-.5 1.1-1 1-2.4 1.1-4.4 1.1-6.2 1-6.5 1.1-4.7 1.1-.8 1 3.2 1.1 5.5 1.1 5.2 1.1 3.4 1 1.2 1.1-.2 1.1-.5 1-.1 1.1 .6 1.1 .9 1 .8 1.1 .4 1.1-.1 1-.6 1.1-.6 1.1-.3 1 .2 1.1 .4 1.1 .3 1-.1 1.1-.6 1.1-.9 1-.6 1.1 0 1.1 .8 1 1.4 1.1 1.4 1.1 .7 1-.2 1.1-1.2 1.1-1.6 1-1.5 1.1-.8 1.1 .2 1 1 1.1 1.4 1.1 1.2 1 .6 1.1 .1 1.1-.4 1.1-.6 1-.6 1.1-.5 1.1-.4 1-.4 1.1-.2 1.1-.1 1 .3 1.1 .7 1.1 1 1 .8 1.1 .4 1.1-.3 1-.7 1.1-1 1.1-.8 1-.4 1.1 .3 1.1 .6 1 .6 1.1 .2 1.1-.2 1-.4 1.1-.2 1.1 .1 1 .7 1.1 .9 1.1 .6 1-.2 1.1-.9 1.1-1.5 1-1.4 1.1-.7 1.1 .4 1 1.5 1.1 1.8 1.1 1.6 1.1 .6 1-.6 1.1-1.4 1.1-1.7 1-1.2 1.1-.4 1.1 .5 1 1 1.1 1 1.1 .7 1 .1 1.1-.3 1.1-.4 1-.2 1.1 0 1.1 0 1 0 1.1-.2 1.1-.3 1-.3 1.1-.1 1.1 .3 1 .6 1.1 .5 1.1 .2 1-.2 1.1-.5 1.1-.6 1-.2" fill="none" stroke="#52d87a" stroke-width="1.2" stroke-linejoin="round" stroke-opacity="0.85"/>
<path d="M1334.2 619.4l1.1-.5 1-.1 1.1-.5 1.1-.5 1 .4 1.1 .9 1.1 .3 1 .3 1.1 1 1.1 .9 1-.3 1.1-1 1.1-.6 1-.3 1.1-.8 1.1-1 1 .1 1.1 1.3 1.1 1 1.1 .1 1 .2 1.1 .3 1.1-.2 1-.7 1.1 0 1.1 .7 1 0 1.1-1.3 1.1-1.3 1 .1 1.1 .7 1.1 .6 1 .6 1.1 .9 1.1 .2 1-.8 1.1-.6 1.1 .4 1 .8 1.1-.5 1.1-1.2 1-.7 1.1 0 1.1-.2 1 .1 1.1 1.1 1.1 1.5 1 .6 1.1-.5 1.1-.2 1 .1 1.1-.8 1.1-1.5 1-.7 1.1 .4 1.1 .3 1.1-.3 1 .1 1.1 .8 1.1 .5 1-.6 1.1-1 1.1-1.3 1-3 1.1-5.1 1.1-5.7 1-4.5 1.1-3.9 1.1-4.1 1-4.2 1.1-3.2 1.1-2.6 1-2.2 1.1-.9 1.1 .9 1 1.7 1.1 .9 1.1 .7 1 1.9 1.1 3.5 1.1 4 1 4 1.1 4.2 1.1 3.5 1 1.1 1.1-1.9 1.1-3.5 1-3.7 1.1-3.2 1.1-1.3 1 2.5 1.1 6.4 1.1 7.4 1.1 6.1 1 4.8 1.1 4.2 1.1 3.2 1 1.9 1.1 1.5 1.1 1.7 1 1.3 1.1 .3 1.1 .4 1 1.8 1.1 2.4 1.1 1.4 1 .3 1.1 .3 1.1 .3 1-.2 1.1-.3 1.1 .3 1 .2 1.1-1.4 1.1-2.7 1-2.2 1.1-1.1 1.1-.9 1-1.3 1.1-.9 1.1-.4 1-.7 1.1-1.3 1.1-.6 1 .2 1.1-.2 1.1-1.5 1-1.7 1.1-.9 1.1-.7 1.1-1.1 1-.7 1.1 .8 1.1 1.4 1 .6 1.1 .3 1.1 .3 1 0 1.1-1.2 1.1-1.5 1-.3 1.1 .3 1.1-.2 1-.8 1.1 0 1.1 1 1 1.1 1.1 .8 1.1 1 1 .5 1.1-1 1.1-2.2 1-1.4 1.1 .1 1.1 .6 1 .1 1.1 .2 1.1 .8 1 .7 1.1 0 1.1 .2 1 .9 1.1 .2 1.1-1.3 1-1.5 1.1-.5 1.1 .1 1.1-.1 1 0 1.1 1 1.1 1.3 1 .3 1.1-.4 1.1-.1 1 .2 1.1-.6 1.1-.9 1 .1 1.1 .6 1.1-.2 1-1 1.1-.4 1.1 .8 1 .9 1.1 .4 1.1 .4 1 .4 1.1-.5 1.1-1.2 1-.6 1.1 .8 1.1 .7 1-.6 1.1-1 1.1-.2 1 .2 1.1 .2 1.1 .6 1 1.4 1.1 .9 1.1-.6 1-1.2 1.1-.5 1.1 .1 1.1-.5 1-.8 1.1 0 1.1 .7 1 .3 1.1 0 1.1 .7 1 1.2 1.1 .3 1.1-.6 1-.5 1.1-.2 1.1-.9 1-1.6 1.1-.7 1.1 1 1 1.4 1.1 .8 1.1 .6 1 .6 1.1 0 1.1-1.1 1-.7 1.1 .3 1.1 .1 1-1.1 1.1-1.3 1.1-.1 1 1.1" fill="none" stroke="#48dc74" stroke-width="1.2" stroke-linejoin="round" stroke-opacity="0.85"/>
<path d="M1334.2 619.4l1.1 .8 1 .4 1.1-.3 1.1-.8 1-.8 1.1-.2 1.1 .4 1 .8 1.1 .8 1.1 .2 1-.3 1.1-.6 1.1-.6 1-.4 1.1-.1 1.1 .1 1 .3 1.1 .5 1.1 .7 1.1 .5 1 0 1.1-.6 1.1-1 1-.9 1.1-.2 1.1 .7 1 1.1 1.1 .9 1.1 .1 1-.8 1.1-1.1 1.1-.6 1 .2 1.1 .8 1.1 .7 1 .3 1.1-.2 1.1-.4 1-.3 1.1-.2 1.1-.1 1-.2 1.1-.2 1.1 .2 1 .6 1.1 .9 1.1 .6 1-.3 1.1-1.2 1.1-1.3 1-.6 1.1 .5 1.1 1.3 1 1 1.1 .1 1.1-1.2 1.1-1.9 1-1.8 1.1-1.5 1.1-1.5 1-2.2 1.1-3.5 1.1-4.7 1-5.3 1.1-5.4 1.1-5.4 1-5.3 1.1-4.9 1.1-3.8 1-1.8 1.1 .7 1.1 2.2 1 2.8 1.1 2.5 1.1 1.8 1 1.9 1.1 2.9 1.1 4.2 1 5.2 1.1 5 1.1 3.8 1 2.4 1.1 1.7 1.1 1.7 1 2.3 1.1 2.3 1.1 1.9 1 1 1.1 .5 1.1 .7 1 1 1.1 1 1.1 .4 1.1-.5 1-.9 1.1-.4 1.1 1 1 2.1 1.1 2.1 1.1 1.2 1-.1 1.1-.5 1.1 .3 1 1.7 1.1 2.9 1.1 2.8 1 1.9 1.1 .9 1.1 .4 1 .7 1.1 .8 1.1-.5 1-3.7 1.1-7.7 1.1-9.5 1-7.2 1.1-1 1.1 5.4 1 7.8 1.1 5.8 1.1 2.3 1 .3 1.1 .2 1.1 .7 1 .7 1.1-.6 1.1-2.1 1-2.7 1.1-1.9 1.1-.6 1.1 .5 1 .3 1.1-.6 1.1-1.3 1-1.2 1.1-.3 1.1 .6 1 .6 1.1-.2 1.1-.9 1-1 1.1 0 1.1 1 1 1.3 1.1 .2 1.1-1.2 1-1.9 1.1-1.2 1.1 .5 1 1.8 1.1 1.8 1.1 .6 1-.9 1.1-1.6 1.1-.9 1 .3 1.1 1 1.1 .6 1-.4 1.1-1 1.1-.6 1 .5 1.1 1.2 1.1 1 1-.2 1.1-1.2 1.1-1.2 1.1 0 1 1.2 1.1 1.4 1.1 .4 1-1.2 1.1-2 1.1-1.1 1 .5 1.1 1.9 1.1 1.8 1 .5 1.1-1.1 1.1-1.4 1-.8 1.1 .5 1.1 .9 1 .3 1.1-.7 1.1-1.1 1-.4 1.1 .8 1.1 1.6 1 1.1 1.1-.4 1.1-1.4 1-1.4 1.1-.1 1.1 1.2 1 1.4 1.1 .4 1.1-1.2 1-1.8 1.1-1 1.1 .7 1 1.9 1.1 1.7 1.1 .2 1.1-1.2 1-1.4 1.1-.5 1.1 .6 1 .9 1.1 .1 1.1-1 1-1.2 1.1-.2 1.1 1.1 1 1.9 1.1 1.1 1.1-.5 1-1.7 1.1-1.5 1.1-.1 1 1.2 1.1 1.3 1.1 .2 1-1.1 1.1-1.6 1.1-.7 1 1 1.1 1.9 1.1 1.4 1-.1 1.1-1.4 1.1-1.4 1-.3" fill="none" stroke="#7ed898" stroke-width="1.2" stroke-linejoin="round" stroke-opacity="0.85"/>
<path d="M1334.2 620l1.1 .1 1-.5 1.1-1.1 1.1-.7 1 .8 1.1 1.8 1.1 1.3 1-.6 1.1-1.8 1.1-1.4 1 .3 1.1 1.3 1.1 1.1 1-.2 1.1-.7 1.1-.4 1 .2 1.1 .2 1.1-.4 1.1-.6 1 .1 1.1 1.1 1.1 1 1-.1 1.1-1 1.1-.9 1-.1 1.1 .5 1.1 .1 1-.5 1.1-.2 1.1 .9 1 1.6 1.1 .9 1.1-1 1-2.4 1.1-1.8 1.1 0 1 1.7 1.1 1.8 1.1 .9 1 0 1.1-.4 1.1-.6 1-1.1 1.1-1.4 1.1-.6 1 .8 1.1 2 1.1 1.5 1 0 1.1-1.4 1.1-1.3 1-.2 1.1 .6 1.1 0 1.1-1.1 1-1.6 1.1-1.2 1.1-.6 1-1.2 1.1-3 1.1-4.7 1-5.5 1.1-5.4 1.1-5.3 1-5.5 1.1-5.2 1.1-3.9 1-1.9 1.1 0 1.1 .4 1 .2 1.1 .8 1.1 2.5 1 4.1 1.1 4.5 1.1 3.5 1 2.8 1.1 3 1.1 4.1 1 4.5 1.1 3.7 1.1 2.2 1 1.3 1.1 1.5 1.1 2.1 1 2 1.1 1.4 1.1 .9 1 .8 1.1 1 1.1 .8 1.1 .4 1 .3 1.1 1.3 1.1 2.6 1 2.9 1.1 1.6 1.1 0 1-.6 1.1 .5 1.1 2.3 1 3 1.1 2.2 1.1 .9 1 0 1.1-.5 1.1-.7 1-1.3 1.1-1.5 1.1-.9 1 0 1.1 .6 1.1 0 1-1.2 1.1-2 1.1-1.9 1-1.4 1.1-1.2 1.1-1.6 1-1.6 1.1-.6 1.1 .7 1 1.2 1.1 0 1.1-1.8 1-3.1 1.1-3.1 1.1-2.5 1.1-2.4 1-2.2 1.1-1.3 1.1 .5 1 2.4 1.1 2.8 1.1 2 1 .9 1.1 .8 1.1 1.2 1 1.3 1.1 .4 1.1-.7 1-1.1 1.1-.3 1.1 1 1 1.1 1.1 .1 1.1-.9 1-1 1.1-.1 1.1 .5 1 .6 1.1 .1 1.1-.2 1-.1 1.1 .1 1.1 0 1-.4 1.1-.3 1.1 .3 1 .9 1.1 .4 1.1-.5 1-1.2 1.1-.7 1.1 .4 1.1 1.2 1 .8 1.1-.1 1.1-.7 1-.5 1.1 .2 1.1 .3 1-.2 1.1-.7 1.1-.5 1 .4 1.1 1 1.1 .8 1 .2 1.1-.3 1.1-.4 1-.6 1.1-1 1.1-.9 1-.1 1.1 1.3 1.1 2.2 1 1.6 1.1-.4 1.1-2 1-2.2 1.1-1 1.1 .6 1 1.3 1.1 1.2 1.1 .7 1 .2 1.1-.2 1.1-.6 1-1 1.1-1 1.1 0 1.1 .7 1 1 1.1 .3 1.1-.2 1-.3 1.1 .2 1.1 .3 1-.2 1.1-.8 1.1-.8 1 0 1.1 1 1.1 1.1 1 .3 1.1-.7 1.1-1 1-.4 1.1 .3 1.1 .6 1 .3 1.1 .1 1.1 0 1-.1 1.1-.4 1.1-.7 1-.3 1.1 .6 1.1 1.1 1 .7" fill="none" stroke="#3fd46c" stroke-width="1.2" stroke-linejoin="round" stroke-opacity="0.85"/>
<text x="1066.4" y="25.2" font-size="14.3" fill="#3c3c3c" textLength="78.5" lengthAdjust="spacingAndGlyphs">Left Anterior</text>
<line x1="1049.9" y1="28" x2="1164" y2="28" stroke="#9a9a9a" stroke-width="1.4" stroke-dasharray="2,3.2"/>
<rect x="1170" y="14.1" width="30.2" height="20.1" fill="#3b3b3b" stroke="none" stroke-width="0"/>
<path d="M1173.9 27.5l7.6-9.1 6.7 11 8.7-10" fill="none" stroke="#5bc0f0" stroke-width="3.7" stroke-linejoin="round" stroke-linecap="butt" stroke-linejoin="round"/>
<text x="1209.1" y="27.7" font-size="14.1" fill="#3a3a3a" textLength="34.4" lengthAdjust="spacingAndGlyphs">Head</text>
<rect x="1170" y="37.3" width="30.2" height="20.1" fill="#3b3b3b" stroke="none" stroke-width="0"/>
<path d="M1173.9 50.7l7.6-9.1 6.7 11 8.7-10" fill="none" stroke="#ff0a0a" stroke-width="3.7" stroke-linejoin="round" stroke-linecap="butt" stroke-linejoin="round"/>
<text x="1209.1" y="50.9" font-size="14.1" fill="#3a3a3a" textLength="56.5" lengthAdjust="spacingAndGlyphs">Saccade</text>
<rect x="1170" y="60.5" width="30.2" height="20.1" fill="#3b3b3b" stroke="none" stroke-width="0"/>
<path d="M1173.9 73.9l7.6-9.1 6.7 11 8.7-10" fill="none" stroke="#10b050" stroke-width="3.7" stroke-linejoin="round" stroke-linecap="butt" stroke-linejoin="round"/>
<text x="1209.1" y="74.1" font-size="14.1" fill="#3a3a3a" textLength="31.9" lengthAdjust="spacingAndGlyphs">VOR</text>
<text x="994" y="27.4" font-size="14.2" text-anchor="end" fill="#3a3a3a" textLength="24.7" lengthAdjust="spacingAndGlyphs">300</text>
<text x="994" y="69.15" font-size="14.2" text-anchor="end" fill="#3a3a3a" textLength="24.7" lengthAdjust="spacingAndGlyphs">200</text>
<text x="994" y="110.9" font-size="14.2" text-anchor="end" fill="#3a3a3a" textLength="24.7" lengthAdjust="spacingAndGlyphs">100</text>
<text x="994" y="152.65" font-size="14.2" text-anchor="end" fill="#3a3a3a" textLength="8.7" lengthAdjust="spacingAndGlyphs">0</text>
<text x="994" y="194.4" font-size="14.2" text-anchor="end" fill="#3a3a3a" textLength="29.1" lengthAdjust="spacingAndGlyphs">-100</text>
<text x="998.1" y="206.9" font-size="14.2" text-anchor="middle" fill="#3a3a3a" textLength="29.3" lengthAdjust="spacingAndGlyphs">-140</text>
<text x="1048.23" y="206.9" font-size="14.2" text-anchor="middle" fill="#3a3a3a" textLength="8.6" lengthAdjust="spacingAndGlyphs">0</text>
<text x="1098.36" y="206.9" font-size="14.2" text-anchor="middle" fill="#3a3a3a" textLength="22.9" lengthAdjust="spacingAndGlyphs">140</text>
<text x="1148.49" y="206.9" font-size="14.2" text-anchor="middle" fill="#3a3a3a" textLength="22.9" lengthAdjust="spacingAndGlyphs">280</text>
<text x="1198.62" y="206.9" font-size="14.2" text-anchor="middle" fill="#3a3a3a" textLength="22.9" lengthAdjust="spacingAndGlyphs">420</text>
<text x="1248.75" y="206.9" font-size="14.2" text-anchor="middle" fill="#3a3a3a" textLength="22.9" lengthAdjust="spacingAndGlyphs">560</text>
<text x="1069.7" y="222.2" font-size="14" font-weight="bold" fill="#262626" textLength="63.4" lengthAdjust="spacingAndGlyphs">time (ms)</text>
<text x="951.7" y="236.3" font-size="15.4" font-weight="bold" fill="#262626" textLength="116" lengthAdjust="spacingAndGlyphs">Mean gain: 0.94</text>
<text x="954.3" y="192.9" font-size="14.25" font-weight="bold" fill="#262626" transform="rotate(-90 954.3 192.9)" textLength="163.3" lengthAdjust="spacingAndGlyphs">head &amp; eye velocity (°/s)</text>
<text x="1396.1" y="24.4" font-size="14.3" fill="#3c3c3c" textLength="88.6" lengthAdjust="spacingAndGlyphs">Right Anterior</text>
<rect x="1507.1" y="14.1" width="30.2" height="20.1" fill="#3b3b3b" stroke="none" stroke-width="0"/>
<path d="M1511 27.5l7.6-9.1 6.7 11 8.7-10" fill="none" stroke="#f4965a" stroke-width="3.7" stroke-linejoin="round" stroke-linecap="butt" stroke-linejoin="round"/>
<text x="1546.4" y="27.7" font-size="14.1" fill="#3a3a3a" textLength="34.4" lengthAdjust="spacingAndGlyphs">Head</text>
<rect x="1507.1" y="37.3" width="30.2" height="20.1" fill="#3b3b3b" stroke="none" stroke-width="0"/>
<path d="M1511 50.7l7.6-9.1 6.7 11 8.7-10" fill="none" stroke="#ff0a0a" stroke-width="3.7" stroke-linejoin="round" stroke-linecap="butt" stroke-linejoin="round"/>
<text x="1546.4" y="50.9" font-size="14.1" fill="#3a3a3a" textLength="56.5" lengthAdjust="spacingAndGlyphs">Saccade</text>
<rect x="1507.1" y="60.5" width="30.2" height="20.1" fill="#3b3b3b" stroke="none" stroke-width="0"/>
<path d="M1511 73.9l7.6-9.1 6.7 11 8.7-10" fill="none" stroke="#10b050" stroke-width="3.7" stroke-linejoin="round" stroke-linecap="butt" stroke-linejoin="round"/>
<text x="1546.4" y="74.1" font-size="14.1" fill="#3a3a3a" textLength="31.9" lengthAdjust="spacingAndGlyphs">VOR</text>
<text x="1329" y="27.4" font-size="14.2" text-anchor="end" fill="#3a3a3a" textLength="24.7" lengthAdjust="spacingAndGlyphs">300</text>
<text x="1329" y="69.15" font-size="14.2" text-anchor="end" fill="#3a3a3a" textLength="24.7" lengthAdjust="spacingAndGlyphs">200</text>
<text x="1329" y="110.9" font-size="14.2" text-anchor="end" fill="#3a3a3a" textLength="24.7" lengthAdjust="spacingAndGlyphs">100</text>
<text x="1329" y="152.65" font-size="14.2" text-anchor="end" fill="#3a3a3a" textLength="8.7" lengthAdjust="spacingAndGlyphs">0</text>
<text x="1329" y="194.4" font-size="14.2" text-anchor="end" fill="#3a3a3a" textLength="29.1" lengthAdjust="spacingAndGlyphs">-100</text>
<text x="1331.8" y="207" font-size="14.2" text-anchor="middle" fill="#3a3a3a" textLength="29.3" lengthAdjust="spacingAndGlyphs">-140</text>
<text x="1382.08" y="207" font-size="14.2" text-anchor="middle" fill="#3a3a3a" textLength="8.6" lengthAdjust="spacingAndGlyphs">0</text>
<text x="1432.36" y="207" font-size="14.2" text-anchor="middle" fill="#3a3a3a" textLength="22.9" lengthAdjust="spacingAndGlyphs">140</text>
<text x="1482.64" y="207" font-size="14.2" text-anchor="middle" fill="#3a3a3a" textLength="22.9" lengthAdjust="spacingAndGlyphs">280</text>
<text x="1532.92" y="207" font-size="14.2" text-anchor="middle" fill="#3a3a3a" textLength="22.9" lengthAdjust="spacingAndGlyphs">420</text>
<text x="1583.2" y="207" font-size="14.2" text-anchor="middle" fill="#3a3a3a" textLength="22.9" lengthAdjust="spacingAndGlyphs">560</text>
<text x="1409.3" y="222.2" font-size="14" font-weight="bold" fill="#262626" textLength="63.3" lengthAdjust="spacingAndGlyphs">time (ms)</text>
<text x="1290.2" y="236.3" font-size="15.4" font-weight="bold" fill="#262626" textLength="114.9" lengthAdjust="spacingAndGlyphs">Mean gain: 0.69</text>
<text x="1293" y="192.9" font-size="14.25" font-weight="bold" fill="#262626" transform="rotate(-90 1293 192.9)" textLength="163.3" lengthAdjust="spacingAndGlyphs">head &amp; eye velocity (°/s)</text>
<text x="909.5" y="261" font-size="14.3" fill="#3c3c3c" textLength="71.8" lengthAdjust="spacingAndGlyphs">Left Lateral</text>
<rect x="1008.8" y="250.5" width="30.2" height="20.1" fill="#3b3b3b" stroke="none" stroke-width="0"/>
<path d="M1012.7 263.9l7.6-9.1 6.7 11 8.7-10" fill="none" stroke="#5bc0f0" stroke-width="3.7" stroke-linejoin="round" stroke-linecap="butt" stroke-linejoin="round"/>
<text x="1048.1" y="264.1" font-size="14.1" fill="#3a3a3a" textLength="34.4" lengthAdjust="spacingAndGlyphs">Head</text>
<rect x="1008.8" y="273.7" width="30.2" height="20.1" fill="#3b3b3b" stroke="none" stroke-width="0"/>
<path d="M1012.7 287.1l7.6-9.1 6.7 11 8.7-10" fill="none" stroke="#ff0a0a" stroke-width="3.7" stroke-linejoin="round" stroke-linecap="butt" stroke-linejoin="round"/>
<text x="1048.1" y="287.3" font-size="14.1" fill="#3a3a3a" textLength="56.5" lengthAdjust="spacingAndGlyphs">Saccade</text>
<rect x="1008.8" y="296.9" width="30.2" height="20.1" fill="#3b3b3b" stroke="none" stroke-width="0"/>
<path d="M1012.7 310.3l7.6-9.1 6.7 11 8.7-10" fill="none" stroke="#10b050" stroke-width="3.7" stroke-linejoin="round" stroke-linecap="butt" stroke-linejoin="round"/>
<text x="1048.1" y="310.5" font-size="14.1" fill="#3a3a3a" textLength="31.9" lengthAdjust="spacingAndGlyphs">VOR</text>
<text x="832.1" y="261.9" font-size="14.2" text-anchor="end" fill="#3a3a3a" textLength="24.7" lengthAdjust="spacingAndGlyphs">300</text>
<text x="832.1" y="303.57" font-size="14.2" text-anchor="end" fill="#3a3a3a" textLength="24.7" lengthAdjust="spacingAndGlyphs">200</text>
<text x="832.1" y="345.25" font-size="14.2" text-anchor="end" fill="#3a3a3a" textLength="24.7" lengthAdjust="spacingAndGlyphs">100</text>
<text x="832.1" y="386.93" font-size="14.2" text-anchor="end" fill="#3a3a3a" textLength="8.7" lengthAdjust="spacingAndGlyphs">0</text>
<text x="832.1" y="428.6" font-size="14.2" text-anchor="end" fill="#3a3a3a" textLength="29.1" lengthAdjust="spacingAndGlyphs">-100</text>
<text x="836.2" y="442" font-size="14.2" text-anchor="middle" fill="#3a3a3a" textLength="29.3" lengthAdjust="spacingAndGlyphs">-140</text>
<text x="886.48" y="442" font-size="14.2" text-anchor="middle" fill="#3a3a3a" textLength="8.6" lengthAdjust="spacingAndGlyphs">0</text>
<text x="936.76" y="442" font-size="14.2" text-anchor="middle" fill="#3a3a3a" textLength="22.9" lengthAdjust="spacingAndGlyphs">140</text>
<text x="987.04" y="442" font-size="14.2" text-anchor="middle" fill="#3a3a3a" textLength="22.9" lengthAdjust="spacingAndGlyphs">280</text>
<text x="1037.32" y="442" font-size="14.2" text-anchor="middle" fill="#3a3a3a" textLength="22.9" lengthAdjust="spacingAndGlyphs">420</text>
<text x="1087.6" y="442" font-size="14.2" text-anchor="middle" fill="#3a3a3a" textLength="22.9" lengthAdjust="spacingAndGlyphs">560</text>
<text x="910.1" y="457.5" font-size="14" font-weight="bold" fill="#262626" textLength="62.8" lengthAdjust="spacingAndGlyphs">time (ms)</text>
<text x="794.1" y="471" font-size="15.4" font-weight="bold" fill="#262626" textLength="115.2" lengthAdjust="spacingAndGlyphs">Mean gain: 1.02</text>
<text x="794.6" y="427.9" font-size="14.25" font-weight="bold" fill="#262626" transform="rotate(-90 794.6 427.9)" textLength="163.3" lengthAdjust="spacingAndGlyphs">head &amp; eye velocity (°/s)</text>
<text x="1564.3" y="261" font-size="14.3" fill="#3c3c3c" textLength="82.2" lengthAdjust="spacingAndGlyphs">Right Lateral</text>
<rect x="1669.8" y="250.5" width="30.2" height="20.1" fill="#3b3b3b" stroke="none" stroke-width="0"/>
<path d="M1673.7 263.9l7.6-9.1 6.7 11 8.7-10" fill="none" stroke="#f4965a" stroke-width="3.7" stroke-linejoin="round" stroke-linecap="butt" stroke-linejoin="round"/>
<text x="1708.9" y="264.1" font-size="14.1" fill="#3a3a3a" textLength="34.4" lengthAdjust="spacingAndGlyphs">Head</text>
<rect x="1669.8" y="273.7" width="30.2" height="20.1" fill="#3b3b3b" stroke="none" stroke-width="0"/>
<path d="M1673.7 287.1l7.6-9.1 6.7 11 8.7-10" fill="none" stroke="#ff0a0a" stroke-width="3.7" stroke-linejoin="round" stroke-linecap="butt" stroke-linejoin="round"/>
<text x="1708.9" y="287.3" font-size="14.1" fill="#3a3a3a" textLength="56.5" lengthAdjust="spacingAndGlyphs">Saccade</text>
<rect x="1669.8" y="296.9" width="30.2" height="20.1" fill="#3b3b3b" stroke="none" stroke-width="0"/>
<path d="M1673.7 310.3l7.6-9.1 6.7 11 8.7-10" fill="none" stroke="#10b050" stroke-width="3.7" stroke-linejoin="round" stroke-linecap="butt" stroke-linejoin="round"/>
<text x="1708.9" y="310.5" font-size="14.1" fill="#3a3a3a" textLength="31.9" lengthAdjust="spacingAndGlyphs">VOR</text>
<text x="1491.7" y="262.3" font-size="14.2" text-anchor="end" fill="#3a3a3a" textLength="24.7" lengthAdjust="spacingAndGlyphs">300</text>
<text x="1491.7" y="303.73" font-size="14.2" text-anchor="end" fill="#3a3a3a" textLength="24.7" lengthAdjust="spacingAndGlyphs">200</text>
<text x="1491.7" y="345.15" font-size="14.2" text-anchor="end" fill="#3a3a3a" textLength="24.7" lengthAdjust="spacingAndGlyphs">100</text>
<text x="1491.7" y="386.57" font-size="14.2" text-anchor="end" fill="#3a3a3a" textLength="8.7" lengthAdjust="spacingAndGlyphs">0</text>
<text x="1491.7" y="428" font-size="14.2" text-anchor="end" fill="#3a3a3a" textLength="29.1" lengthAdjust="spacingAndGlyphs">-100</text>
<text x="1495.8" y="442" font-size="14.2" text-anchor="middle" fill="#3a3a3a" textLength="29.3" lengthAdjust="spacingAndGlyphs">-140</text>
<text x="1545.98" y="442" font-size="14.2" text-anchor="middle" fill="#3a3a3a" textLength="8.6" lengthAdjust="spacingAndGlyphs">0</text>
<text x="1596.16" y="442" font-size="14.2" text-anchor="middle" fill="#3a3a3a" textLength="22.9" lengthAdjust="spacingAndGlyphs">140</text>
<text x="1646.34" y="442" font-size="14.2" text-anchor="middle" fill="#3a3a3a" textLength="22.9" lengthAdjust="spacingAndGlyphs">280</text>
<text x="1696.52" y="442" font-size="14.2" text-anchor="middle" fill="#3a3a3a" textLength="22.9" lengthAdjust="spacingAndGlyphs">420</text>
<text x="1746.7" y="442" font-size="14.2" text-anchor="middle" fill="#3a3a3a" textLength="22.9" lengthAdjust="spacingAndGlyphs">560</text>
<text x="1570" y="457.5" font-size="14" font-weight="bold" fill="#262626" textLength="63.3" lengthAdjust="spacingAndGlyphs">time (ms)</text>
<text x="1452.5" y="471" font-size="15.4" font-weight="bold" fill="#262626" textLength="114.6" lengthAdjust="spacingAndGlyphs">Mean gain: 1.09</text>
<text x="1455.3" y="427.9" font-size="14.25" font-weight="bold" fill="#262626" transform="rotate(-90 1455.3 427.9)" textLength="163.3" lengthAdjust="spacingAndGlyphs">head &amp; eye velocity (°/s)</text>
<text x="1062.9" y="496.8" font-size="14.3" fill="#3c3c3c" textLength="85.3" lengthAdjust="spacingAndGlyphs">Left Posterior</text>
<rect x="1170" y="487.5" width="30.2" height="20.1" fill="#3b3b3b" stroke="none" stroke-width="0"/>
<path d="M1173.9 500.9l7.6-9.1 6.7 11 8.7-10" fill="none" stroke="#5bc0f0" stroke-width="3.7" stroke-linejoin="round" stroke-linecap="butt" stroke-linejoin="round"/>
<text x="1208.9" y="501.1" font-size="14.1" fill="#3a3a3a" textLength="34.4" lengthAdjust="spacingAndGlyphs">Head</text>
<rect x="1170" y="510.7" width="30.2" height="20.1" fill="#3b3b3b" stroke="none" stroke-width="0"/>
<path d="M1173.9 524.1l7.6-9.1 6.7 11 8.7-10" fill="none" stroke="#ff0a0a" stroke-width="3.7" stroke-linejoin="round" stroke-linecap="butt" stroke-linejoin="round"/>
<text x="1208.9" y="524.3" font-size="14.1" fill="#3a3a3a" textLength="56.5" lengthAdjust="spacingAndGlyphs">Saccade</text>
<rect x="1170" y="533.9" width="30.2" height="20.1" fill="#3b3b3b" stroke="none" stroke-width="0"/>
<path d="M1173.9 547.3l7.6-9.1 6.7 11 8.7-10" fill="none" stroke="#10b050" stroke-width="3.7" stroke-linejoin="round" stroke-linecap="butt" stroke-linejoin="round"/>
<text x="1208.9" y="547.5" font-size="14.1" fill="#3a3a3a" textLength="31.9" lengthAdjust="spacingAndGlyphs">VOR</text>
<text x="994.7" y="499.7" font-size="14.2" text-anchor="end" fill="#3a3a3a" textLength="24.7" lengthAdjust="spacingAndGlyphs">300</text>
<text x="994.7" y="541.23" font-size="14.2" text-anchor="end" fill="#3a3a3a" textLength="24.7" lengthAdjust="spacingAndGlyphs">200</text>
<text x="994.7" y="582.75" font-size="14.2" text-anchor="end" fill="#3a3a3a" textLength="24.7" lengthAdjust="spacingAndGlyphs">100</text>
<text x="994.7" y="624.27" font-size="14.2" text-anchor="end" fill="#3a3a3a" textLength="8.7" lengthAdjust="spacingAndGlyphs">0</text>
<text x="994.7" y="665.8" font-size="14.2" text-anchor="end" fill="#3a3a3a" textLength="29.1" lengthAdjust="spacingAndGlyphs">-100</text>
<text x="998.9" y="679.8" font-size="14.2" text-anchor="middle" fill="#3a3a3a" textLength="29.3" lengthAdjust="spacingAndGlyphs">-140</text>
<text x="1048.84" y="679.8" font-size="14.2" text-anchor="middle" fill="#3a3a3a" textLength="8.6" lengthAdjust="spacingAndGlyphs">0</text>
<text x="1098.78" y="679.8" font-size="14.2" text-anchor="middle" fill="#3a3a3a" textLength="22.9" lengthAdjust="spacingAndGlyphs">140</text>
<text x="1148.72" y="679.8" font-size="14.2" text-anchor="middle" fill="#3a3a3a" textLength="22.9" lengthAdjust="spacingAndGlyphs">280</text>
<text x="1198.66" y="679.8" font-size="14.2" text-anchor="middle" fill="#3a3a3a" textLength="22.9" lengthAdjust="spacingAndGlyphs">420</text>
<text x="1248.6" y="679.8" font-size="14.2" text-anchor="middle" fill="#3a3a3a" textLength="22.9" lengthAdjust="spacingAndGlyphs">560</text>
<text x="1070.2" y="694.6" font-size="14" font-weight="bold" fill="#262626" textLength="63.9" lengthAdjust="spacingAndGlyphs">time (ms)</text>
<text x="951.9" y="707.4" font-size="15.4" font-weight="bold" fill="#262626" textLength="114.6" lengthAdjust="spacingAndGlyphs">Mean gain: 0.37</text>
<text x="955.2" y="664.3" font-size="14.25" font-weight="bold" fill="#262626" transform="rotate(-90 955.2 664.3)" textLength="163.3" lengthAdjust="spacingAndGlyphs">head &amp; eye velocity (°/s)</text>
<text x="1395.9" y="496.6" font-size="14.3" fill="#3c3c3c" textLength="95.7" lengthAdjust="spacingAndGlyphs">Right Posterior</text>
<rect x="1507.3" y="487.5" width="30.2" height="20.1" fill="#3b3b3b" stroke="none" stroke-width="0"/>
<path d="M1511.2 500.9l7.6-9.1 6.7 11 8.7-10" fill="none" stroke="#f4965a" stroke-width="3.7" stroke-linejoin="round" stroke-linecap="butt" stroke-linejoin="round"/>
<text x="1546.6" y="501.1" font-size="14.1" fill="#3a3a3a" textLength="34.4" lengthAdjust="spacingAndGlyphs">Head</text>
<rect x="1507.3" y="510.7" width="30.2" height="20.1" fill="#3b3b3b" stroke="none" stroke-width="0"/>
<path d="M1511.2 524.1l7.6-9.1 6.7 11 8.7-10" fill="none" stroke="#ff0a0a" stroke-width="3.7" stroke-linejoin="round" stroke-linecap="butt" stroke-linejoin="round"/>
<text x="1546.6" y="524.3" font-size="14.1" fill="#3a3a3a" textLength="56.5" lengthAdjust="spacingAndGlyphs">Saccade</text>
<rect x="1507.3" y="533.9" width="30.2" height="20.1" fill="#3b3b3b" stroke="none" stroke-width="0"/>
<path d="M1511.2 547.3l7.6-9.1 6.7 11 8.7-10" fill="none" stroke="#10b050" stroke-width="3.7" stroke-linejoin="round" stroke-linecap="butt" stroke-linejoin="round"/>
<text x="1546.6" y="547.5" font-size="14.1" fill="#3a3a3a" textLength="31.9" lengthAdjust="spacingAndGlyphs">VOR</text>
<text x="1329.7" y="498.6" font-size="14.2" text-anchor="end" fill="#3a3a3a" textLength="24.7" lengthAdjust="spacingAndGlyphs">300</text>
<text x="1329.7" y="540.17" font-size="14.2" text-anchor="end" fill="#3a3a3a" textLength="24.7" lengthAdjust="spacingAndGlyphs">200</text>
<text x="1329.7" y="581.75" font-size="14.2" text-anchor="end" fill="#3a3a3a" textLength="24.7" lengthAdjust="spacingAndGlyphs">100</text>
<text x="1329.7" y="623.33" font-size="14.2" text-anchor="end" fill="#3a3a3a" textLength="8.7" lengthAdjust="spacingAndGlyphs">0</text>
<text x="1329.7" y="664.9" font-size="14.2" text-anchor="end" fill="#3a3a3a" textLength="29.1" lengthAdjust="spacingAndGlyphs">-100</text>
<text x="1334.2" y="678.9" font-size="14.2" text-anchor="middle" fill="#3a3a3a" textLength="29.3" lengthAdjust="spacingAndGlyphs">-140</text>
<text x="1384.02" y="678.9" font-size="14.2" text-anchor="middle" fill="#3a3a3a" textLength="8.6" lengthAdjust="spacingAndGlyphs">0</text>
<text x="1433.84" y="678.9" font-size="14.2" text-anchor="middle" fill="#3a3a3a" textLength="22.9" lengthAdjust="spacingAndGlyphs">140</text>
<text x="1483.66" y="678.9" font-size="14.2" text-anchor="middle" fill="#3a3a3a" textLength="22.9" lengthAdjust="spacingAndGlyphs">280</text>
<text x="1533.48" y="678.9" font-size="14.2" text-anchor="middle" fill="#3a3a3a" textLength="22.9" lengthAdjust="spacingAndGlyphs">420</text>
<text x="1583.3" y="678.9" font-size="14.2" text-anchor="middle" fill="#3a3a3a" textLength="22.9" lengthAdjust="spacingAndGlyphs">560</text>
<text x="1408" y="695.6" font-size="14" font-weight="bold" fill="#262626" textLength="63.3" lengthAdjust="spacingAndGlyphs">time (ms)</text>
<text x="1293.7" y="707.4" font-size="15.4" font-weight="bold" fill="#262626" textLength="107" lengthAdjust="spacingAndGlyphs">Mean gain: 0.8</text>
<text x="1292.5" y="664.3" font-size="14.25" font-weight="bold" fill="#262626" transform="rotate(-90 1292.5 664.3)" textLength="161.9" lengthAdjust="spacingAndGlyphs">head &amp; eye velocity (°/s)</text>
<rect x="935.3" y="9.9" width="333" height="232.7" fill="none" stroke="#bcbcbc" stroke-width="1.8"/>
<rect x="1274.9" y="9.9" width="330.8" height="232.3" fill="none" stroke="#bcbcbc" stroke-width="1.8"/>
<rect x="776.2" y="244.9" width="330.9" height="233.5" fill="none" stroke="#bcbcbc" stroke-width="1.8"/>
<rect x="1436.3" y="244.9" width="332" height="232.8" fill="none" stroke="#bcbcbc" stroke-width="1.8"/>
<rect x="935.7" y="480.2" width="332.6" height="234.2" fill="none" stroke="#bcbcbc" stroke-width="1.8"/>
<rect x="1274.1" y="481.3" width="330.9" height="233.1" fill="none" stroke="#bcbcbc" stroke-width="1.8"/>
<polygon points="1271,265.4 1360.55,317.1 1360.55,420.5 1271,472.2 1181.45,420.5 1181.45,317.1" fill="none" stroke="#1a1a1a" stroke-width="1.6" stroke-linejoin="miter"/>
<polygon points="1271,312.6 1319.67,340.7 1319.67,396.9 1271,425 1222.33,396.9 1222.33,340.7" fill="none" stroke="#1a1a1a" stroke-width="1.6" stroke-linejoin="miter"/>
<line x1="1272.5" y1="312.1" x2="1315.67" y2="338.7" stroke="#333" stroke-width="1.2"/>
<line x1="1271" y1="368.8" x2="1180.36" y2="368.8" stroke="#137a13" stroke-width="6.5" stroke-linecap="butt"/>
<line x1="1271" y1="368.8" x2="1368.68" y2="368.8" stroke="#137a13" stroke-width="6.5" stroke-linecap="butt"/>
<line x1="1271" y1="368.8" x2="1229.2" y2="296.4" stroke="#137a13" stroke-width="6.5" stroke-linecap="butt"/>
<line x1="1271" y1="368.8" x2="1306.2" y2="429.77" stroke="#137a13" stroke-width="6.5" stroke-linecap="butt"/>
<line x1="1271" y1="368.8" x2="1300.04" y2="318.5" stroke="#ff4a10" stroke-width="6.5" stroke-linecap="butt"/>
<line x1="1271" y1="368.8" x2="1253.84" y2="398.52" stroke="#ff4a10" stroke-width="6.5" stroke-linecap="butt"/>
<polygon points="1271,363.3 1275.76,366.05 1275.76,371.55 1271,374.3 1266.24,371.55 1266.24,366.05" fill="#fff" stroke="#222" stroke-width="1.3" stroke-linejoin="miter"/>
<text x="1234.5" y="259.8" font-size="14.2" fill="#444" textLength="78" lengthAdjust="spacingAndGlyphs">Mean Gains</text>
<text x="1293.6" y="276.8" font-size="14.6" fill="#444" textLength="19.7" lengthAdjust="spacingAndGlyphs">1.0</text>
<line x1="1288.5" y1="272.5" x2="1292.5" y2="271.5" stroke="#555" stroke-width="1"/>
<text x="1275.3" y="313.8" font-size="14.6" fill="#444" textLength="20.3" lengthAdjust="spacingAndGlyphs">0.5</text>
<text x="1191.7" y="289.1" font-size="14.6" fill="#444" textLength="18.8" lengthAdjust="spacingAndGlyphs">LA</text>
<text x="1326.8" y="289.1" font-size="14.6" fill="#444" textLength="21.2" lengthAdjust="spacingAndGlyphs">RA</text>
<text x="1161.8" y="356.1" font-size="14.6" fill="#444" textLength="15.5" lengthAdjust="spacingAndGlyphs">LL</text>
<text x="1365.4" y="356.1" font-size="14.6" fill="#444" textLength="18.3" lengthAdjust="spacingAndGlyphs">RL</text>
<text x="1190.8" y="458.9" font-size="14.6" fill="#444" textLength="18.3" lengthAdjust="spacingAndGlyphs">LP</text>
<text x="1326.8" y="458.9" font-size="14.6" fill="#444" textLength="21.2" lengthAdjust="spacingAndGlyphs">RP</text>
</svg>
</body></html>
